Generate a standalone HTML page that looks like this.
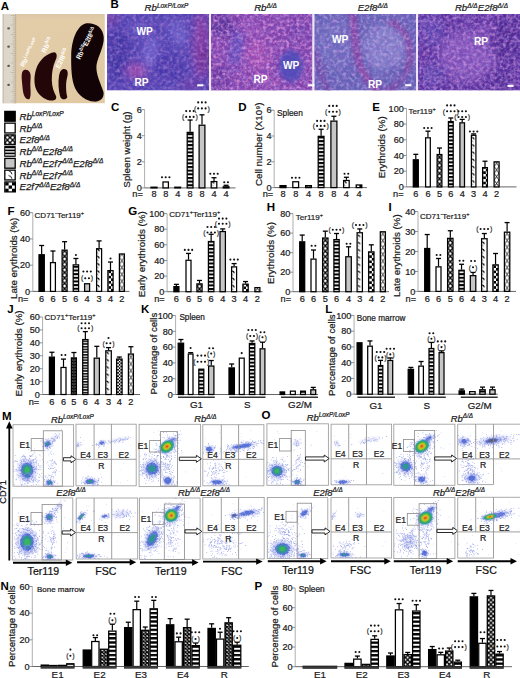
<!DOCTYPE html>
<html><head><meta charset="utf-8"><style>
html,body{margin:0;padding:0;background:#fff;}
body{width:520px;height:678px;overflow:hidden;}
svg{display:block;}
</style></head><body>
<svg width="520" height="678" viewBox="0 0 520 678" font-family='"Liberation Sans", sans-serif'>
<defs>
<pattern id="pX" patternUnits="userSpaceOnUse" width="3.2" height="3.2"><rect width="3.2" height="3.2" fill="#fff"/><path d="M0,0L3.2,3.2M3.2,0L0,3.2" stroke="#000" stroke-width="0.9"/></pattern>
<pattern id="pH" patternUnits="userSpaceOnUse" width="6" height="3.6"><rect width="6" height="3.6" fill="#fff"/><rect y="0" width="6" height="1.9" fill="#000"/></pattern>
<pattern id="pHJ" patternUnits="userSpaceOnUse" width="6" height="2.6"><rect width="6" height="2.6" fill="#fff"/><rect y="0" width="6" height="1.6" fill="#222"/></pattern>
<pattern id="pD" patternUnits="userSpaceOnUse" width="7" height="4.6"><rect width="7" height="4.6" fill="#fff"/><path d="M1.5,0.6 Q4.5,1.2 5,4" stroke="#000" stroke-width="0.9" fill="none"/></pattern>
<pattern id="pC" patternUnits="userSpaceOnUse" width="5" height="5"><rect width="5" height="5" fill="#fff"/><rect width="2.5" height="2.5" fill="#000"/><rect x="2.5" y="2.5" width="2.5" height="2.5" fill="#000"/></pattern>
<pattern id="pCJ" patternUnits="userSpaceOnUse" width="3" height="3"><rect width="3" height="3" fill="#fff"/><rect width="1.5" height="1.5" fill="#000"/><rect x="1.5" y="1.5" width="1.5" height="1.5" fill="#000"/></pattern>
<pattern id="pZ" patternUnits="userSpaceOnUse" width="7" height="5"><rect width="7" height="5" fill="#fff"/><path d="M0,0 L3.5,2.5 L0,5 M7,0 L3.5,2.5 L7,5" stroke="#000" stroke-width="0.9" fill="none"/></pattern>
<filter id="bl1" x="-50%" y="-50%" width="200%" height="200%"><feGaussianBlur stdDeviation="1.2"/></filter>
<filter id="bl2" x="-50%" y="-50%" width="200%" height="200%"><feGaussianBlur stdDeviation="2"/></filter>
<filter id="bl3" x="-50%" y="-50%" width="200%" height="200%"><feGaussianBlur stdDeviation="3"/></filter>
<filter id="bl05" x="-50%" y="-50%" width="200%" height="200%"><feGaussianBlur stdDeviation="0.5"/></filter>
</defs><rect width="520" height="678" fill="#fff"/><defs><clipPath id="cA"><rect x="2.5" y="14.0" width="102.4" height="89.4"/></clipPath><linearGradient id="gA" x1="0" y1="0" x2="0" y2="1"><stop offset="0" stop-color="#dcc7a5"/><stop offset="0.08" stop-color="#e3cda9"/><stop offset="1" stop-color="#e0c9a3"/></linearGradient></defs><g clip-path="url(#cA)"><rect x="2.50" y="14.00" width="102.40" height="89.40" fill="url(#gA)" stroke="none" stroke-width="1"/><rect x="2.50" y="14.00" width="13.50" height="89.40" fill="#ddd6ca" stroke="none" stroke-width="1"/><rect x="2.50" y="14.00" width="1.20" height="89.40" fill="#c4b8a4" stroke="none" stroke-width="1"/><rect x="14.80" y="14.00" width="1.40" height="89.40" fill="#c9b89c" stroke="none" stroke-width="1"/><line x1="10.80" y1="15.50" x2="15.30" y2="15.50" stroke="#a89a88" stroke-width="0.45"/><line x1="12.70" y1="17.40" x2="15.30" y2="17.40" stroke="#a89a88" stroke-width="0.45"/><line x1="12.70" y1="19.30" x2="15.30" y2="19.30" stroke="#a89a88" stroke-width="0.45"/><line x1="12.70" y1="21.20" x2="15.30" y2="21.20" stroke="#a89a88" stroke-width="0.45"/><line x1="12.70" y1="23.10" x2="15.30" y2="23.10" stroke="#a89a88" stroke-width="0.45"/><line x1="10.80" y1="25.00" x2="15.30" y2="25.00" stroke="#a89a88" stroke-width="0.45"/><line x1="12.70" y1="26.90" x2="15.30" y2="26.90" stroke="#a89a88" stroke-width="0.45"/><line x1="12.70" y1="28.80" x2="15.30" y2="28.80" stroke="#a89a88" stroke-width="0.45"/><line x1="12.70" y1="30.70" x2="15.30" y2="30.70" stroke="#a89a88" stroke-width="0.45"/><line x1="12.70" y1="32.60" x2="15.30" y2="32.60" stroke="#a89a88" stroke-width="0.45"/><line x1="10.80" y1="34.50" x2="15.30" y2="34.50" stroke="#a89a88" stroke-width="0.45"/><line x1="12.70" y1="36.40" x2="15.30" y2="36.40" stroke="#a89a88" stroke-width="0.45"/><line x1="12.70" y1="38.30" x2="15.30" y2="38.30" stroke="#a89a88" stroke-width="0.45"/><line x1="12.70" y1="40.20" x2="15.30" y2="40.20" stroke="#a89a88" stroke-width="0.45"/><line x1="12.70" y1="42.10" x2="15.30" y2="42.10" stroke="#a89a88" stroke-width="0.45"/><line x1="10.80" y1="44.00" x2="15.30" y2="44.00" stroke="#a89a88" stroke-width="0.45"/><line x1="12.70" y1="45.90" x2="15.30" y2="45.90" stroke="#a89a88" stroke-width="0.45"/><line x1="12.70" y1="47.80" x2="15.30" y2="47.80" stroke="#a89a88" stroke-width="0.45"/><line x1="12.70" y1="49.70" x2="15.30" y2="49.70" stroke="#a89a88" stroke-width="0.45"/><line x1="12.70" y1="51.60" x2="15.30" y2="51.60" stroke="#a89a88" stroke-width="0.45"/><line x1="10.80" y1="53.50" x2="15.30" y2="53.50" stroke="#a89a88" stroke-width="0.45"/><line x1="12.70" y1="55.40" x2="15.30" y2="55.40" stroke="#a89a88" stroke-width="0.45"/><line x1="12.70" y1="57.30" x2="15.30" y2="57.30" stroke="#a89a88" stroke-width="0.45"/><line x1="12.70" y1="59.20" x2="15.30" y2="59.20" stroke="#a89a88" stroke-width="0.45"/><line x1="12.70" y1="61.10" x2="15.30" y2="61.10" stroke="#a89a88" stroke-width="0.45"/><line x1="10.80" y1="63.00" x2="15.30" y2="63.00" stroke="#a89a88" stroke-width="0.45"/><line x1="12.70" y1="64.90" x2="15.30" y2="64.90" stroke="#a89a88" stroke-width="0.45"/><line x1="12.70" y1="66.80" x2="15.30" y2="66.80" stroke="#a89a88" stroke-width="0.45"/><line x1="12.70" y1="68.70" x2="15.30" y2="68.70" stroke="#a89a88" stroke-width="0.45"/><line x1="12.70" y1="70.60" x2="15.30" y2="70.60" stroke="#a89a88" stroke-width="0.45"/><line x1="10.80" y1="72.50" x2="15.30" y2="72.50" stroke="#a89a88" stroke-width="0.45"/><line x1="12.70" y1="74.40" x2="15.30" y2="74.40" stroke="#a89a88" stroke-width="0.45"/><line x1="12.70" y1="76.30" x2="15.30" y2="76.30" stroke="#a89a88" stroke-width="0.45"/><line x1="12.70" y1="78.20" x2="15.30" y2="78.20" stroke="#a89a88" stroke-width="0.45"/><line x1="12.70" y1="80.10" x2="15.30" y2="80.10" stroke="#a89a88" stroke-width="0.45"/><line x1="10.80" y1="82.00" x2="15.30" y2="82.00" stroke="#a89a88" stroke-width="0.45"/><line x1="12.70" y1="83.90" x2="15.30" y2="83.90" stroke="#a89a88" stroke-width="0.45"/><line x1="12.70" y1="85.80" x2="15.30" y2="85.80" stroke="#a89a88" stroke-width="0.45"/><line x1="12.70" y1="87.70" x2="15.30" y2="87.70" stroke="#a89a88" stroke-width="0.45"/><line x1="12.70" y1="89.60" x2="15.30" y2="89.60" stroke="#a89a88" stroke-width="0.45"/><line x1="10.80" y1="91.50" x2="15.30" y2="91.50" stroke="#a89a88" stroke-width="0.45"/><line x1="12.70" y1="93.40" x2="15.30" y2="93.40" stroke="#a89a88" stroke-width="0.45"/><line x1="12.70" y1="95.30" x2="15.30" y2="95.30" stroke="#a89a88" stroke-width="0.45"/><line x1="12.70" y1="97.20" x2="15.30" y2="97.20" stroke="#a89a88" stroke-width="0.45"/><line x1="12.70" y1="99.10" x2="15.30" y2="99.10" stroke="#a89a88" stroke-width="0.45"/><line x1="10.80" y1="101.00" x2="15.30" y2="101.00" stroke="#a89a88" stroke-width="0.45"/><line x1="12.70" y1="102.90" x2="15.30" y2="102.90" stroke="#a89a88" stroke-width="0.45"/><ellipse cx="8.6" cy="28.4" rx="1.4" ry="1.1" fill="#4a4038" opacity="0.85"/><ellipse cx="8.6" cy="46.7" rx="1.4" ry="1.1" fill="#4a4038" opacity="0.85"/><ellipse cx="8.6" cy="65.9" rx="1.4" ry="1.1" fill="#4a4038" opacity="0.85"/><ellipse cx="8.6" cy="84.9" rx="1.4" ry="1.1" fill="#4a4038" opacity="0.85"/><path d="M24,70 C29,68.5 31.5,73 30.5,80 C29.8,88 31.8,95 29.5,99 C26,100.5 23.2,96 22.6,88 C22,80 20.3,72 24,70 Z" fill="#320a10"/><path d="M54.5,52.3 C57.5,53 57.2,57.5 55.2,61 C53,66 51.8,72 51.8,80 C51.9,87 54,92 56,96 C57.2,99.5 54,101 50,100.4 C44,99.5 38.5,95 36,89 C33.8,83 34,75 36.5,68 C39.5,60 47,53 54.5,52.3 Z" fill="#230608"/><path d="M64,69 C68,69 68.5,73 67,78 C65.5,84 66,92 67.3,97 C66.3,100.3 61,100.3 60,96 C58.5,90 58,82 59,76 C60,71 61.5,69 64,69 Z" fill="#230608"/><path d="M86.5,23.2 C95,22.5 103.5,27 103.8,38 C103.9,47 98.5,55 96.5,65 C95.5,74 101,84 103.5,92 C104.5,99 99,102 94,101.6 C86,101 78,95 75,88 C71.5,80 71,68 71.2,55 C71.5,40 77,25 86.5,23.2 Z" fill="#120406"/><text x="24.0" y="67.6" transform="rotate(-63 24.0 67.6)" fill="#fff" font-weight="bold" textLength="31.5" lengthAdjust="spacingAndGlyphs"><tspan font-size="6.6">Rb</tspan><tspan font-size="4.488" dy="-2.508">LoxP/LoxP</tspan></text><text x="45.6" y="53.4" transform="rotate(-64 45.6 53.4)" fill="#fff" font-weight="bold" textLength="16.5" lengthAdjust="spacingAndGlyphs"><tspan font-size="7.0">Rb</tspan><tspan font-size="4.760000000000001" dy="-2.66">Δ/Δ</tspan></text><text x="59.4" y="69.0" transform="rotate(-64 59.4 69.0)" fill="#fff" font-weight="bold" textLength="21.5" lengthAdjust="spacingAndGlyphs"><tspan font-size="6.8">E2f8</tspan><tspan font-size="4.6240000000000006" dy="-2.584">Δ/Δ</tspan></text><text x="80.0" y="59.8" transform="rotate(-62 80.0 59.8)" fill="#fff" font-weight="bold" textLength="35.0" lengthAdjust="spacingAndGlyphs"><tspan font-size="7.0">Rb</tspan><tspan font-size="4.760000000000001" dy="-2.66">Δ/Δ</tspan><tspan font-size="7.0" dy="2.66">E2f8</tspan><tspan font-size="4.760000000000001" dy="-2.66">Δ/Δ</tspan></text></g><defs><filter id="specL" x="0" y="0" width="100%" height="100%"><feTurbulence type="fractalNoise" baseFrequency="0.3" numOctaves="2" seed="5"/><feColorMatrix type="matrix" values="0 0 0 0 0.76  0 0 0 0 0.58  0 0 0 0 0.96  2.6 0 0 0 -1.15"/></filter><filter id="specP" x="0" y="0" width="100%" height="100%"><feTurbulence type="fractalNoise" baseFrequency="0.3" numOctaves="2" seed="11"/><feColorMatrix type="matrix" values="0 0 0 0 0.86  0 0 0 0 0.36  0 0 0 0 0.78  2.6 0 0 0 -1.2"/></filter><filter id="specD" x="0" y="0" width="100%" height="100%"><feTurbulence type="fractalNoise" baseFrequency="0.22" numOctaves="2" seed="9"/><feColorMatrix type="matrix" values="0 0 0 0 0.22  0 0 0 0 0.1  0 0 0 0 0.55  2.6 0 0 0 -1.15"/></filter><filter id="hb" x="-50%" y="-50%" width="200%" height="200%"><feGaussianBlur stdDeviation="4"/></filter><filter id="hb2" x="-50%" y="-50%" width="200%" height="200%"><feGaussianBlur stdDeviation="2.2"/></filter><clipPath id="cB0"><rect x="107.0" y="13.9" width="102.0" height="76.6"/></clipPath><clipPath id="cB1"><rect x="211.0" y="13.9" width="101.60000000000002" height="76.6"/></clipPath><clipPath id="cB2"><rect x="314.2" y="13.9" width="101.80000000000001" height="76.6"/></clipPath><clipPath id="cB3"><rect x="418.0" y="13.9" width="102.0" height="76.6"/></clipPath></defs><g clip-path="url(#cB0)"><rect x="107.00" y="13.90" width="102.00" height="76.60" fill="#5042b2" stroke="none" stroke-width="1"/><ellipse cx="118" cy="55" rx="12" ry="26" fill="#3e30a0" opacity="0.8" filter="url(#hb)" transform="rotate(0 118 55)"/><ellipse cx="168" cy="68" rx="16" ry="12" fill="#4434a8" opacity="0.7" filter="url(#hb)" transform="rotate(0 168 68)"/><ellipse cx="150" cy="52" rx="6" ry="18" fill="#7a72d8" opacity="0.75" filter="url(#hb)" transform="rotate(10 150 52)"/><ellipse cx="178" cy="33" rx="8" ry="14" fill="#7068d0" opacity="0.7" filter="url(#hb)" transform="rotate(-30 178 33)"/><ellipse cx="140" cy="30" rx="10" ry="8" fill="#6a5ec8" opacity="0.6" filter="url(#hb)" transform="rotate(0 140 30)"/><ellipse cx="201" cy="45" rx="8" ry="36" fill="#8a3aa0" opacity="0.9" filter="url(#hb)" transform="rotate(0 201 45)"/><ellipse cx="205" cy="58" rx="4" ry="14" fill="#5a1a80" opacity="0.7" filter="url(#hb)" transform="rotate(0 205 58)"/><ellipse cx="136" cy="71" rx="11" ry="8" fill="#a04aac" opacity="0.9" filter="url(#hb)" transform="rotate(0 136 71)"/><ellipse cx="110" cy="18" rx="8" ry="8" fill="#8040a0" opacity="0.7" filter="url(#hb)" transform="rotate(0 110 18)"/><ellipse cx="190" cy="85" rx="10" ry="6" fill="#7a3aa0" opacity="0.6" filter="url(#hb)" transform="rotate(0 190 85)"/><rect x="107.00" y="13.90" width="102.00" height="76.60" fill="#000" stroke="none" stroke-width="1" filter="url(#specD)" opacity="0.6"/><rect x="107.00" y="13.90" width="102.00" height="76.60" fill="#fff" stroke="none" stroke-width="1" filter="url(#specL)" opacity="0.3"/><rect x="107.00" y="13.90" width="102.00" height="76.60" fill="#fff" stroke="none" stroke-width="1" filter="url(#specP)" opacity="0.2"/></g><g clip-path="url(#cB1)"><rect x="211.00" y="13.90" width="101.60" height="76.60" fill="#8242ac" stroke="none" stroke-width="1"/><ellipse cx="222" cy="26" rx="14" ry="12" fill="#4e2a92" opacity="0.8" filter="url(#hb)" transform="rotate(0 222 26)"/><ellipse cx="220" cy="78" rx="10" ry="12" fill="#5a2e98" opacity="0.7" filter="url(#hb)" transform="rotate(0 220 78)"/><ellipse cx="236" cy="48" rx="5" ry="20" fill="#5a50c0" opacity="0.85" filter="url(#hb)" transform="rotate(10 236 48)"/><ellipse cx="258" cy="55" rx="12" ry="16" fill="#b050b2" opacity="0.65" filter="url(#hb)" transform="rotate(0 258 55)"/><ellipse cx="250" cy="28" rx="10" ry="8" fill="#9a50b8" opacity="0.6" filter="url(#hb)" transform="rotate(0 250 28)"/><ellipse cx="300" cy="30" rx="12" ry="12" fill="#6a3aa6" opacity="0.7" filter="url(#hb)" transform="rotate(0 300 30)"/><ellipse cx="270" cy="82" rx="12" ry="8" fill="#9048b0" opacity="0.6" filter="url(#hb)" transform="rotate(0 270 82)"/><rect x="211.00" y="13.90" width="101.60" height="76.60" fill="#000" stroke="none" stroke-width="1" filter="url(#specD)" opacity="0.7"/><rect x="211.00" y="13.90" width="101.60" height="76.60" fill="#fff" stroke="none" stroke-width="1" filter="url(#specL)" opacity="0.4"/><rect x="211.00" y="13.90" width="101.60" height="76.60" fill="#fff" stroke="none" stroke-width="1" filter="url(#specP)" opacity="0.7"/><ellipse cx="291" cy="66" rx="12" ry="16" fill="#4c4cba" opacity="0.85" filter="url(#hb2)" transform="rotate(0 291 66)"/><ellipse cx="236" cy="48" rx="4" ry="16" fill="#5a50c0" opacity="0.5" filter="url(#hb)" transform="rotate(10 236 48)"/></g><g clip-path="url(#cB2)"><rect x="314.20" y="13.90" width="101.80" height="76.60" fill="#6262b6" stroke="none" stroke-width="1"/><ellipse cx="335" cy="45" rx="20" ry="28" fill="#6e6ec0" opacity="0.8" filter="url(#hb)" transform="rotate(0 335 45)"/><ellipse cx="385" cy="48" rx="22" ry="24" fill="#8584cc" opacity="0.85" filter="url(#hb)" transform="rotate(0 385 48)"/><path d="M352,12 C356,35 354,55 362,70 C367,80 372,86 380,94" stroke="#8e3a9c" stroke-width="6" fill="none" filter="url(#hb2)" opacity="0.9"/><path d="M388,22 C400,24 410,35 410,55 C410,70 400,85 385,92" stroke="#8a3a9a" stroke-width="5" fill="none" filter="url(#hb2)" opacity="0.8"/><path d="M314,50 C320,60 318,80 330,92" stroke="#7a3a9e" stroke-width="6" fill="none" filter="url(#hb2)" opacity="0.6"/><ellipse cx="395" cy="75" rx="10" ry="9" fill="#5a58b0" opacity="0.7" filter="url(#hb)" transform="rotate(0 395 75)"/><rect x="314.20" y="13.90" width="101.80" height="76.60" fill="#000" stroke="none" stroke-width="1" filter="url(#specD)" opacity="0.5"/><rect x="314.20" y="13.90" width="101.80" height="76.60" fill="#fff" stroke="none" stroke-width="1" filter="url(#specL)" opacity="0.45"/><rect x="314.20" y="13.90" width="101.80" height="76.60" fill="#fff" stroke="none" stroke-width="1" filter="url(#specP)" opacity="0.25"/></g><g clip-path="url(#cB3)"><rect x="418.00" y="13.90" width="102.00" height="76.60" fill="#58309e" stroke="none" stroke-width="1"/><ellipse cx="468" cy="56" rx="30" ry="26" fill="#8456bc" opacity="0.85" filter="url(#hb)" transform="rotate(0 468 56)"/><ellipse cx="432" cy="30" rx="12" ry="16" fill="#5a48b4" opacity="0.7" filter="url(#hb)" transform="rotate(0 432 30)"/><ellipse cx="432" cy="75" rx="12" ry="12" fill="#5a4ab2" opacity="0.7" filter="url(#hb)" transform="rotate(0 432 75)"/><ellipse cx="505" cy="40" rx="14" ry="22" fill="#4a2690" opacity="0.8" filter="url(#hb)" transform="rotate(0 505 40)"/><ellipse cx="500" cy="80" rx="14" ry="10" fill="#4e2a94" opacity="0.8" filter="url(#hb)" transform="rotate(0 500 80)"/><ellipse cx="485" cy="30" rx="10" ry="10" fill="#7a48b4" opacity="0.6" filter="url(#hb)" transform="rotate(0 485 30)"/><rect x="418.00" y="13.90" width="102.00" height="76.60" fill="#000" stroke="none" stroke-width="1" filter="url(#specD)" opacity="0.75"/><rect x="418.00" y="13.90" width="102.00" height="76.60" fill="#fff" stroke="none" stroke-width="1" filter="url(#specL)" opacity="0.4"/><rect x="418.00" y="13.90" width="102.00" height="76.60" fill="#fff" stroke="none" stroke-width="1" filter="url(#specP)" opacity="0.5"/></g><rect x="209.00" y="13.90" width="2.00" height="76.60" fill="#ece6f4" stroke="none" stroke-width="1"/><rect x="312.60" y="13.90" width="1.60" height="76.60" fill="#ece6f4" stroke="none" stroke-width="1"/><rect x="416.00" y="13.90" width="2.00" height="76.60" fill="#ece6f4" stroke="none" stroke-width="1"/><text x="136.50" y="35.00" font-size="10.2" text-anchor="start" font-weight="bold" fill="#fff">WP</text><text x="134.50" y="85.90" font-size="10.2" text-anchor="start" font-weight="bold" fill="#fff">RP</text><text x="283.00" y="68.60" font-size="10.2" text-anchor="start" font-weight="bold" fill="#fff">WP</text><text x="253.50" y="83.20" font-size="10.2" text-anchor="start" font-weight="bold" fill="#fff">RP</text><text x="332.00" y="42.80" font-size="10.2" text-anchor="start" font-weight="bold" fill="#fff">WP</text><text x="368.00" y="88.00" font-size="10.2" text-anchor="start" font-weight="bold" fill="#fff">RP</text><text x="474.00" y="45.20" font-size="10.2" text-anchor="start" font-weight="bold" fill="#fff">RP</text><rect x="197.20" y="84.30" width="6.20" height="2.00" fill="#fff" stroke="none" stroke-width="1"/><rect x="308.20" y="84.30" width="6.20" height="2.00" fill="#fff" stroke="none" stroke-width="1"/><rect x="405.20" y="84.20" width="6.20" height="2.00" fill="#fff" stroke="none" stroke-width="1"/><rect x="507.40" y="84.90" width="6.20" height="2.00" fill="#fff" stroke="none" stroke-width="1"/><text x="166.5" y="11.2" text-anchor="middle" font-style="italic" fill="#1a1a1a" stroke="#1a1a1a" stroke-width="0.22"><tspan font-size="9.6">Rb</tspan><tspan font-size="6.5280000000000005" dy="-3.6479999999999997">LoxP/LoxP</tspan></text><text x="265.6" y="11.2" text-anchor="middle" font-style="italic" fill="#1a1a1a" stroke="#1a1a1a" stroke-width="0.22"><tspan font-size="9.6">Rb</tspan><tspan font-size="6.5280000000000005" dy="-3.6479999999999997">Δ/Δ</tspan></text><text x="372.8" y="11.2" text-anchor="middle" font-style="italic" fill="#1a1a1a" stroke="#1a1a1a" stroke-width="0.22"><tspan font-size="9.6">E2f8</tspan><tspan font-size="6.5280000000000005" dy="-3.6479999999999997">Δ/Δ</tspan></text><text x="481.5" y="11.2" text-anchor="middle" font-style="italic" fill="#1a1a1a" stroke="#1a1a1a" stroke-width="0.22"><tspan font-size="9.6">Rb</tspan><tspan font-size="6.5280000000000005" dy="-3.6479999999999997">Δ/Δ</tspan><tspan font-size="9.6" dy="3.6479999999999997">E2f8</tspan><tspan font-size="6.5280000000000005" dy="-3.6479999999999997">Δ/Δ</tspan></text><rect x="4.80" y="111.40" width="10.40" height="9.80" fill="#000" stroke="#000" stroke-width="1.3"/><text x="19.5" y="119.80" font-style="italic" fill="#1a1a1a" stroke="#1a1a1a" stroke-width="0.25"><tspan font-size="9.6">Rb</tspan><tspan font-size="6.6" dy="-3.6">LoxP/LoxP</tspan></text><rect x="4.80" y="123.15" width="10.40" height="9.80" fill="#fff" stroke="#000" stroke-width="1.3"/><text x="19.5" y="131.55" font-style="italic" fill="#1a1a1a" stroke="#1a1a1a" stroke-width="0.25"><tspan font-size="9.6">Rb</tspan><tspan font-size="6.6" dy="-3.6">Δ/Δ</tspan></text><defs><pattern id="lgx" patternUnits="userSpaceOnUse" x="7.40" y="134.90" width="5.2" height="5.2"><rect width="5.2" height="5.2" fill="#fff"/><path d="M0,0L5.2,5.2M5.2,0L0,5.2" stroke="#000" stroke-width="1.3"/></pattern></defs><rect x="4.80" y="134.90" width="10.40" height="9.80" fill="url(#lgx)" stroke="#000" stroke-width="1.3"/><text x="19.5" y="143.30" font-style="italic" fill="#1a1a1a" stroke="#1a1a1a" stroke-width="0.25"><tspan font-size="9.6">E2f8</tspan><tspan font-size="6.6" dy="-3.6">Δ/Δ</tspan></text><rect x="4.20" y="146.05" width="11.50" height="10.80" fill="#000" stroke="none" stroke-width="1"/><rect x="5.20" y="148.25" width="9.50" height="1.30" fill="#fff" stroke="none" stroke-width="1"/><rect x="5.20" y="151.25" width="9.50" height="1.30" fill="#fff" stroke="none" stroke-width="1"/><rect x="5.20" y="154.25" width="9.50" height="1.30" fill="#fff" stroke="none" stroke-width="1"/><text x="19.5" y="155.05" font-style="italic" fill="#1a1a1a" stroke="#1a1a1a" stroke-width="0.25"><tspan font-size="9.6">Rb</tspan><tspan font-size="6.6" dy="-3.6">Δ/Δ</tspan><tspan font-size="9.6" dy="3.6">E2f8</tspan><tspan font-size="6.6" dy="-3.6">Δ/Δ</tspan></text><rect x="4.80" y="158.40" width="10.40" height="9.80" fill="#c6c6c6" stroke="#000" stroke-width="1.3"/><text x="19.5" y="166.80" font-style="italic" fill="#1a1a1a" stroke="#1a1a1a" stroke-width="0.25"><tspan font-size="9.6">Rb</tspan><tspan font-size="6.6" dy="-3.6">Δ/Δ</tspan><tspan font-size="9.6" dy="3.6">E2f7</tspan><tspan font-size="6.6" dy="-3.6">Δ/Δ</tspan><tspan font-size="9.6" dy="3.6">E2f8</tspan><tspan font-size="6.6" dy="-3.6">Δ/Δ</tspan></text><rect x="4.80" y="170.15" width="10.40" height="9.80" fill="url(#pD)" stroke="#000" stroke-width="1.3"/><text x="19.5" y="178.55" font-style="italic" fill="#1a1a1a" stroke="#1a1a1a" stroke-width="0.25"><tspan font-size="9.6">Rb</tspan><tspan font-size="6.6" dy="-3.6">Δ/Δ</tspan><tspan font-size="9.6" dy="3.6">E2f7</tspan><tspan font-size="6.6" dy="-3.6">Δ/Δ</tspan></text><rect x="4.80" y="181.90" width="10.60" height="10.00" fill="#fff" stroke="#000" stroke-width="1.2"/><rect x="5.20" y="182.30" width="3.40" height="3.20" fill="#000" stroke="none" stroke-width="1"/><rect x="12.00" y="182.30" width="3.40" height="3.20" fill="#000" stroke="none" stroke-width="1"/><rect x="8.60" y="185.50" width="3.40" height="3.20" fill="#000" stroke="none" stroke-width="1"/><rect x="5.20" y="188.70" width="3.40" height="3.20" fill="#000" stroke="none" stroke-width="1"/><rect x="12.00" y="188.70" width="3.40" height="3.20" fill="#000" stroke="none" stroke-width="1"/><text x="19.5" y="190.30" font-style="italic" fill="#1a1a1a" stroke="#1a1a1a" stroke-width="0.25"><tspan font-size="9.6">E2f7</tspan><tspan font-size="6.6" dy="-3.6">Δ/Δ</tspan><tspan font-size="9.6" dy="3.6">E2f8</tspan><tspan font-size="6.6" dy="-3.6">Δ/Δ</tspan></text><line x1="144.60" y1="109.60" x2="144.60" y2="187.90" stroke="#9a9a9a" stroke-width="0.8"/><line x1="141.60" y1="187.90" x2="144.60" y2="187.90" stroke="#777" stroke-width="0.8"/><text x="141.90" y="191.15" font-size="9.1" text-anchor="end" fill="#1a1a1a" stroke="#1a1a1a" stroke-width="0.22">0</text><line x1="141.60" y1="161.80" x2="144.60" y2="161.80" stroke="#777" stroke-width="0.8"/><text x="141.90" y="165.05" font-size="9.1" text-anchor="end" fill="#1a1a1a" stroke="#1a1a1a" stroke-width="0.22">2</text><line x1="141.60" y1="135.70" x2="144.60" y2="135.70" stroke="#777" stroke-width="0.8"/><text x="141.90" y="138.95" font-size="9.1" text-anchor="end" fill="#1a1a1a" stroke="#1a1a1a" stroke-width="0.22">4</text><line x1="141.60" y1="109.60" x2="144.60" y2="109.60" stroke="#777" stroke-width="0.8"/><text x="141.90" y="112.85" font-size="9.1" text-anchor="end" fill="#1a1a1a" stroke="#1a1a1a" stroke-width="0.22">6</text><line x1="144.60" y1="187.90" x2="235.50" y2="187.90" stroke="#555" stroke-width="0.9"/><rect x="151.00" y="187.19" width="6.00" height="0.71" fill="#000" stroke="#000" stroke-width="1.25"/><rect x="163.00" y="181.97" width="5.40" height="5.93" fill="#fff" stroke="#000" stroke-width="1.25"/><defs><pattern id="bp1" patternUnits="userSpaceOnUse" x="175.00" y="187.90" width="5.4" height="5.4"><rect width="5.4" height="5.4" fill="#fff"/><path d="M0,0L5.4,5.4M5.4,0L0,5.4" stroke="#000" stroke-width="1.35"/></pattern></defs><rect x="174.80" y="187.19" width="5.80" height="0.71" fill="url(#bp1)" stroke="#000" stroke-width="1.25"/><defs><pattern id="bp2" patternUnits="userSpaceOnUse" x="0.00" y="187.90" width="20" height="3.65"><rect width="20" height="3.65" fill="#fff"/><rect width="20" height="2.04" fill="#000"/></pattern></defs><line x1="190.10" y1="131.78" x2="190.10" y2="120.04" stroke="#000" stroke-width="1.2"/><line x1="187.60" y1="120.04" x2="192.60" y2="120.04" stroke="#000" stroke-width="1.3"/><rect x="187.20" y="132.38" width="5.80" height="55.52" fill="url(#bp2)" stroke="#000" stroke-width="1.25"/><line x1="202.00" y1="124.61" x2="202.00" y2="114.82" stroke="#000" stroke-width="1.2"/><line x1="199.50" y1="114.82" x2="204.50" y2="114.82" stroke="#000" stroke-width="1.3"/><rect x="199.10" y="125.21" width="5.80" height="62.69" fill="#c6c6c6" stroke="#000" stroke-width="1.25"/><defs><pattern id="bp3" patternUnits="userSpaceOnUse" x="210.60" y="187.90" width="12" height="7.2"><rect width="12" height="7.2" fill="#fff"/><path d="M1.2,0.8 Q3.0,1.2 3.3,3.0" stroke="#000" stroke-width="1.2" fill="none"/><path d="M1.2,4.4 Q2.2,4.6 2.4,5.6" stroke="#555" stroke-width="0.7" fill="none"/></pattern></defs><line x1="214.00" y1="180.98" x2="214.00" y2="177.72" stroke="#000" stroke-width="1.2"/><line x1="211.50" y1="177.72" x2="216.50" y2="177.72" stroke="#000" stroke-width="1.3"/><rect x="211.20" y="181.58" width="5.60" height="6.32" fill="url(#bp3)" stroke="#000" stroke-width="1.25"/><defs><pattern id="bp4" patternUnits="userSpaceOnUse" x="223.80" y="187.90" width="5.2" height="5.2"><rect width="5.2" height="5.2" fill="#fff"/><rect width="2.6" height="2.6" fill="#000"/><rect x="2.6" y="2.6" width="2.6" height="2.6" fill="#000"/></pattern></defs><line x1="226.10" y1="186.20" x2="226.10" y2="185.29" stroke="#000" stroke-width="1.2"/><line x1="223.60" y1="185.29" x2="228.60" y2="185.29" stroke="#000" stroke-width="1.3"/><rect x="223.20" y="186.80" width="5.80" height="1.10" fill="url(#bp4)" stroke="#000" stroke-width="1.25"/><circle cx="162.00" cy="177.30" r="1.05" fill="#111"/><circle cx="165.70" cy="177.30" r="1.05" fill="#111"/><circle cx="169.40" cy="177.30" r="1.05" fill="#111"/><circle cx="186.20" cy="111.10" r="1.05" fill="#111"/><circle cx="189.90" cy="111.10" r="1.05" fill="#111"/><circle cx="193.60" cy="111.10" r="1.05" fill="#111"/><circle cx="186.20" cy="116.90" r="1.05" fill="#111"/><circle cx="189.90" cy="116.90" r="1.05" fill="#111"/><circle cx="193.60" cy="116.90" r="1.05" fill="#111"/><text x="184.30" y="119.10" font-size="7.0" text-anchor="end" fill="#333" stroke="#333" stroke-width="0.22">(</text><text x="195.50" y="119.10" font-size="7.0" text-anchor="start" fill="#333" stroke="#333" stroke-width="0.22">)</text><circle cx="198.20" cy="102.40" r="1.05" fill="#111"/><circle cx="201.90" cy="102.40" r="1.05" fill="#111"/><circle cx="205.60" cy="102.40" r="1.05" fill="#111"/><circle cx="198.20" cy="108.40" r="1.05" fill="#111"/><circle cx="201.90" cy="108.40" r="1.05" fill="#111"/><circle cx="205.60" cy="108.40" r="1.05" fill="#111"/><text x="196.30" y="110.60" font-size="7.0" text-anchor="end" fill="#333" stroke="#333" stroke-width="0.22">(</text><text x="207.50" y="110.60" font-size="7.0" text-anchor="start" fill="#333" stroke="#333" stroke-width="0.22">)</text><circle cx="210.30" cy="173.80" r="1.05" fill="#111"/><circle cx="214.00" cy="173.80" r="1.05" fill="#111"/><circle cx="217.70" cy="173.80" r="1.05" fill="#111"/><circle cx="224.25" cy="182.20" r="1.05" fill="#111"/><circle cx="227.95" cy="182.20" r="1.05" fill="#111"/><text x="130.20" y="149.50" font-size="9.8" text-anchor="middle" fill="#1a1a1a" stroke="#1a1a1a" stroke-width="0.22" transform="rotate(-90 130.20 149.50)">Spleen weight (g)</text><text x="154.00" y="196.90" font-size="9.2" text-anchor="middle" fill="#1a1a1a" stroke="#1a1a1a" stroke-width="0.22">8</text><text x="165.70" y="196.90" font-size="9.2" text-anchor="middle" fill="#1a1a1a" stroke="#1a1a1a" stroke-width="0.22">8</text><text x="177.70" y="196.90" font-size="9.2" text-anchor="middle" fill="#1a1a1a" stroke="#1a1a1a" stroke-width="0.22">4</text><text x="190.10" y="196.90" font-size="9.2" text-anchor="middle" fill="#1a1a1a" stroke="#1a1a1a" stroke-width="0.22">8</text><text x="202.00" y="196.90" font-size="9.2" text-anchor="middle" fill="#1a1a1a" stroke="#1a1a1a" stroke-width="0.22">8</text><text x="214.00" y="196.90" font-size="9.2" text-anchor="middle" fill="#1a1a1a" stroke="#1a1a1a" stroke-width="0.22">4</text><text x="226.10" y="196.90" font-size="9.2" text-anchor="middle" fill="#1a1a1a" stroke="#1a1a1a" stroke-width="0.22">4</text><text x="137.60" y="196.90" font-size="9.2" text-anchor="middle" fill="#1a1a1a" stroke="#1a1a1a" stroke-width="0.22">n=</text><line x1="274.20" y1="110.20" x2="274.20" y2="187.60" stroke="#9a9a9a" stroke-width="0.8"/><line x1="271.20" y1="187.60" x2="274.20" y2="187.60" stroke="#777" stroke-width="0.8"/><text x="271.50" y="190.85" font-size="9.1" text-anchor="end" fill="#1a1a1a" stroke="#1a1a1a" stroke-width="0.22">0</text><line x1="271.20" y1="161.80" x2="274.20" y2="161.80" stroke="#777" stroke-width="0.8"/><text x="271.50" y="165.05" font-size="9.1" text-anchor="end" fill="#1a1a1a" stroke="#1a1a1a" stroke-width="0.22">2</text><line x1="271.20" y1="136.00" x2="274.20" y2="136.00" stroke="#777" stroke-width="0.8"/><text x="271.50" y="139.25" font-size="9.1" text-anchor="end" fill="#1a1a1a" stroke="#1a1a1a" stroke-width="0.22">4</text><line x1="271.20" y1="110.20" x2="274.20" y2="110.20" stroke="#777" stroke-width="0.8"/><text x="271.50" y="113.45" font-size="9.1" text-anchor="end" fill="#1a1a1a" stroke="#1a1a1a" stroke-width="0.22">6</text><line x1="274.20" y1="187.60" x2="367.00" y2="187.60" stroke="#555" stroke-width="0.9"/><rect x="280.00" y="185.62" width="6.00" height="1.98" fill="#000" stroke="#000" stroke-width="1.25"/><rect x="292.80" y="181.75" width="5.80" height="5.85" fill="#fff" stroke="#000" stroke-width="1.25"/><defs><pattern id="bp5" patternUnits="userSpaceOnUse" x="305.80" y="187.60" width="5.4" height="5.4"><rect width="5.4" height="5.4" fill="#fff"/><path d="M0,0L5.4,5.4M5.4,0L0,5.4" stroke="#000" stroke-width="1.35"/></pattern></defs><rect x="305.60" y="185.62" width="5.80" height="1.98" fill="url(#bp5)" stroke="#000" stroke-width="1.25"/><defs><pattern id="bp6" patternUnits="userSpaceOnUse" x="0.00" y="187.60" width="20" height="3.65"><rect width="20" height="3.65" fill="#fff"/><rect width="20" height="2.04" fill="#000"/></pattern></defs><line x1="321.10" y1="135.74" x2="321.10" y2="129.29" stroke="#000" stroke-width="1.2"/><line x1="318.60" y1="129.29" x2="323.60" y2="129.29" stroke="#000" stroke-width="1.3"/><rect x="318.20" y="136.34" width="5.80" height="51.26" fill="url(#bp6)" stroke="#000" stroke-width="1.25"/><line x1="333.90" y1="120.52" x2="333.90" y2="116.26" stroke="#000" stroke-width="1.2"/><line x1="331.40" y1="116.26" x2="336.40" y2="116.26" stroke="#000" stroke-width="1.3"/><rect x="330.90" y="121.12" width="6.00" height="66.48" fill="#c6c6c6" stroke="#000" stroke-width="1.25"/><defs><pattern id="bp7" patternUnits="userSpaceOnUse" x="343.00" y="187.60" width="12" height="7.2"><rect width="12" height="7.2" fill="#fff"/><path d="M1.2,0.8 Q3.0,1.2 3.3,3.0" stroke="#000" stroke-width="1.2" fill="none"/><path d="M1.2,4.4 Q2.2,4.6 2.4,5.6" stroke="#555" stroke-width="0.7" fill="none"/></pattern></defs><line x1="346.40" y1="179.86" x2="346.40" y2="177.28" stroke="#000" stroke-width="1.2"/><line x1="343.90" y1="177.28" x2="348.90" y2="177.28" stroke="#000" stroke-width="1.3"/><rect x="343.60" y="180.46" width="5.60" height="7.14" fill="url(#bp7)" stroke="#000" stroke-width="1.25"/><defs><pattern id="bp8" patternUnits="userSpaceOnUse" x="356.80" y="187.60" width="5.2" height="5.2"><rect width="5.2" height="5.2" fill="#fff"/><rect width="2.6" height="2.6" fill="#000"/><rect x="2.6" y="2.6" width="2.6" height="2.6" fill="#000"/></pattern></defs><rect x="356.20" y="184.97" width="5.60" height="2.62" fill="url(#bp8)" stroke="#000" stroke-width="1.25"/><circle cx="292.00" cy="177.70" r="1.05" fill="#111"/><circle cx="295.70" cy="177.70" r="1.05" fill="#111"/><circle cx="299.40" cy="177.70" r="1.05" fill="#111"/><circle cx="317.10" cy="120.90" r="1.05" fill="#111"/><circle cx="320.80" cy="120.90" r="1.05" fill="#111"/><circle cx="324.50" cy="120.90" r="1.05" fill="#111"/><circle cx="317.10" cy="125.90" r="1.05" fill="#111"/><circle cx="320.80" cy="125.90" r="1.05" fill="#111"/><circle cx="324.50" cy="125.90" r="1.05" fill="#111"/><text x="315.20" y="128.10" font-size="7.0" text-anchor="end" fill="#333" stroke="#333" stroke-width="0.22">(</text><text x="326.40" y="128.10" font-size="7.0" text-anchor="start" fill="#333" stroke="#333" stroke-width="0.22">)</text><circle cx="329.30" cy="105.90" r="1.05" fill="#111"/><circle cx="333.00" cy="105.90" r="1.05" fill="#111"/><circle cx="336.70" cy="105.90" r="1.05" fill="#111"/><circle cx="329.30" cy="111.80" r="1.05" fill="#111"/><circle cx="333.00" cy="111.80" r="1.05" fill="#111"/><circle cx="336.70" cy="111.80" r="1.05" fill="#111"/><text x="327.40" y="114.00" font-size="7.0" text-anchor="end" fill="#333" stroke="#333" stroke-width="0.22">(</text><text x="338.60" y="114.00" font-size="7.0" text-anchor="start" fill="#333" stroke="#333" stroke-width="0.22">)</text><circle cx="344.55" cy="173.80" r="1.05" fill="#111"/><circle cx="348.25" cy="173.80" r="1.05" fill="#111"/><text x="261.80" y="144.20" font-size="9.8" text-anchor="middle" fill="#1a1a1a" stroke="#1a1a1a" stroke-width="0.22" transform="rotate(-90 261.80 144.20)">Cell number (X10⁹)</text><text x="283.00" y="197.10" font-size="9.2" text-anchor="middle" fill="#1a1a1a" stroke="#1a1a1a" stroke-width="0.22">8</text><text x="295.70" y="197.10" font-size="9.2" text-anchor="middle" fill="#1a1a1a" stroke="#1a1a1a" stroke-width="0.22">8</text><text x="308.50" y="197.10" font-size="9.2" text-anchor="middle" fill="#1a1a1a" stroke="#1a1a1a" stroke-width="0.22">4</text><text x="321.10" y="197.10" font-size="9.2" text-anchor="middle" fill="#1a1a1a" stroke="#1a1a1a" stroke-width="0.22">8</text><text x="333.90" y="197.10" font-size="9.2" text-anchor="middle" fill="#1a1a1a" stroke="#1a1a1a" stroke-width="0.22">8</text><text x="346.40" y="197.10" font-size="9.2" text-anchor="middle" fill="#1a1a1a" stroke="#1a1a1a" stroke-width="0.22">4</text><text x="359.00" y="197.10" font-size="9.2" text-anchor="middle" fill="#1a1a1a" stroke="#1a1a1a" stroke-width="0.22">4</text><text x="268.00" y="197.10" font-size="9.2" text-anchor="middle" fill="#1a1a1a" stroke="#1a1a1a" stroke-width="0.22">n=</text><text x="277.00" y="116.00" font-size="8.3" text-anchor="start" fill="#1a1a1a" stroke="#1a1a1a" stroke-width="0.22">Spleen</text><line x1="406.50" y1="108.40" x2="406.50" y2="186.90" stroke="#9a9a9a" stroke-width="0.8"/><line x1="403.50" y1="186.90" x2="406.50" y2="186.90" stroke="#777" stroke-width="0.8"/><text x="403.80" y="190.15" font-size="9.1" text-anchor="end" fill="#1a1a1a" stroke="#1a1a1a" stroke-width="0.22">0</text><line x1="403.50" y1="171.20" x2="406.50" y2="171.20" stroke="#777" stroke-width="0.8"/><text x="403.80" y="174.45" font-size="9.1" text-anchor="end" fill="#1a1a1a" stroke="#1a1a1a" stroke-width="0.22">20</text><line x1="403.50" y1="155.50" x2="406.50" y2="155.50" stroke="#777" stroke-width="0.8"/><text x="403.80" y="158.75" font-size="9.1" text-anchor="end" fill="#1a1a1a" stroke="#1a1a1a" stroke-width="0.22">40</text><line x1="403.50" y1="139.80" x2="406.50" y2="139.80" stroke="#777" stroke-width="0.8"/><text x="403.80" y="143.05" font-size="9.1" text-anchor="end" fill="#1a1a1a" stroke="#1a1a1a" stroke-width="0.22">60</text><line x1="403.50" y1="124.10" x2="406.50" y2="124.10" stroke="#777" stroke-width="0.8"/><text x="403.80" y="127.35" font-size="9.1" text-anchor="end" fill="#1a1a1a" stroke="#1a1a1a" stroke-width="0.22">80</text><line x1="403.50" y1="108.40" x2="406.50" y2="108.40" stroke="#777" stroke-width="0.8"/><text x="403.80" y="111.65" font-size="9.1" text-anchor="end" fill="#1a1a1a" stroke="#1a1a1a" stroke-width="0.22">100</text><line x1="406.50" y1="186.90" x2="516.50" y2="186.90" stroke="#555" stroke-width="0.9"/><line x1="415.80" y1="159.19" x2="415.80" y2="154.32" stroke="#000" stroke-width="1.2"/><line x1="413.30" y1="154.32" x2="418.30" y2="154.32" stroke="#000" stroke-width="1.3"/><rect x="413.30" y="159.79" width="5.00" height="27.11" fill="#000" stroke="#000" stroke-width="1.25"/><line x1="427.95" y1="137.21" x2="427.95" y2="131.17" stroke="#000" stroke-width="1.2"/><line x1="425.45" y1="131.17" x2="430.45" y2="131.17" stroke="#000" stroke-width="1.3"/><rect x="425.60" y="137.81" width="4.70" height="49.09" fill="#fff" stroke="#000" stroke-width="1.25"/><defs><pattern id="bp9" patternUnits="userSpaceOnUse" x="436.80" y="186.90" width="5.4" height="5.4"><rect width="5.4" height="5.4" fill="#fff"/><path d="M0,0L5.4,5.4M5.4,0L0,5.4" stroke="#000" stroke-width="1.35"/></pattern></defs><line x1="439.50" y1="153.93" x2="439.50" y2="148.04" stroke="#000" stroke-width="1.2"/><line x1="437.00" y1="148.04" x2="442.00" y2="148.04" stroke="#000" stroke-width="1.3"/><rect x="437.10" y="154.53" width="4.80" height="32.37" fill="url(#bp9)" stroke="#000" stroke-width="1.25"/><defs><pattern id="bp10" patternUnits="userSpaceOnUse" x="0.00" y="186.90" width="20" height="3.65"><rect width="20" height="3.65" fill="#fff"/><rect width="20" height="2.04" fill="#000"/></pattern></defs><line x1="450.80" y1="120.96" x2="450.80" y2="117.98" stroke="#000" stroke-width="1.2"/><line x1="448.30" y1="117.98" x2="453.30" y2="117.98" stroke="#000" stroke-width="1.3"/><rect x="448.40" y="121.56" width="4.80" height="65.34" fill="url(#bp10)" stroke="#000" stroke-width="1.25"/><line x1="462.20" y1="122.22" x2="462.20" y2="119.39" stroke="#000" stroke-width="1.2"/><line x1="459.70" y1="119.39" x2="464.70" y2="119.39" stroke="#000" stroke-width="1.3"/><rect x="459.90" y="122.82" width="4.60" height="64.08" fill="#c6c6c6" stroke="#000" stroke-width="1.25"/><defs><pattern id="bp11" patternUnits="userSpaceOnUse" x="470.80" y="186.90" width="12" height="7.2"><rect width="12" height="7.2" fill="#fff"/><path d="M1.2,0.8 Q3.0,1.2 3.3,3.0" stroke="#000" stroke-width="1.2" fill="none"/><path d="M1.2,4.4 Q2.2,4.6 2.4,5.6" stroke="#555" stroke-width="0.7" fill="none"/></pattern></defs><line x1="473.65" y1="134.70" x2="473.65" y2="133.91" stroke="#000" stroke-width="1.2"/><line x1="471.15" y1="133.91" x2="476.15" y2="133.91" stroke="#000" stroke-width="1.3"/><rect x="471.40" y="135.30" width="4.50" height="51.60" fill="url(#bp11)" stroke="#000" stroke-width="1.25"/><defs><pattern id="bp12" patternUnits="userSpaceOnUse" x="483.20" y="186.90" width="5.2" height="5.2"><rect width="5.2" height="5.2" fill="#fff"/><rect width="2.6" height="2.6" fill="#000"/><rect x="2.6" y="2.6" width="2.6" height="2.6" fill="#000"/></pattern></defs><line x1="485.00" y1="167.04" x2="485.00" y2="161.23" stroke="#000" stroke-width="1.2"/><line x1="482.50" y1="161.23" x2="487.50" y2="161.23" stroke="#000" stroke-width="1.3"/><rect x="482.60" y="167.64" width="4.80" height="19.26" fill="url(#bp12)" stroke="#000" stroke-width="1.25"/><defs><pattern id="bp13" patternUnits="userSpaceOnUse" x="494.10" y="186.90" width="5.0" height="6.8"><rect width="5.0" height="6.8" fill="#fff"/><path d="M0,0L5.0,6.8M5.0,0L0,6.8" stroke="#000" stroke-width="0.85"/></pattern></defs><rect x="494.10" y="161.83" width="5.00" height="25.07" fill="url(#bp13)" stroke="#000" stroke-width="1.25"/><circle cx="424.20" cy="128.00" r="1.05" fill="#111"/><circle cx="427.90" cy="128.00" r="1.05" fill="#111"/><circle cx="431.60" cy="128.00" r="1.05" fill="#111"/><circle cx="447.10" cy="105.40" r="1.05" fill="#111"/><circle cx="450.80" cy="105.40" r="1.05" fill="#111"/><circle cx="454.50" cy="105.40" r="1.05" fill="#111"/><circle cx="447.10" cy="111.30" r="1.05" fill="#111"/><circle cx="450.80" cy="111.30" r="1.05" fill="#111"/><circle cx="454.50" cy="111.30" r="1.05" fill="#111"/><text x="445.20" y="113.50" font-size="7.0" text-anchor="end" fill="#333" stroke="#333" stroke-width="0.22">(</text><text x="456.40" y="113.50" font-size="7.0" text-anchor="start" fill="#333" stroke="#333" stroke-width="0.22">)</text><circle cx="458.50" cy="111.30" r="1.05" fill="#111"/><circle cx="462.20" cy="111.30" r="1.05" fill="#111"/><circle cx="465.90" cy="111.30" r="1.05" fill="#111"/><circle cx="458.50" cy="117.00" r="1.05" fill="#111"/><circle cx="462.20" cy="117.00" r="1.05" fill="#111"/><circle cx="465.90" cy="117.00" r="1.05" fill="#111"/><text x="456.60" y="119.20" font-size="7.0" text-anchor="end" fill="#333" stroke="#333" stroke-width="0.22">(</text><text x="467.80" y="119.20" font-size="7.0" text-anchor="start" fill="#333" stroke="#333" stroke-width="0.22">)</text><circle cx="469.90" cy="131.50" r="1.05" fill="#111"/><circle cx="473.60" cy="131.50" r="1.05" fill="#111"/><circle cx="477.30" cy="131.50" r="1.05" fill="#111"/><text x="385.30" y="147.20" font-size="9.8" text-anchor="middle" fill="#1a1a1a" stroke="#1a1a1a" stroke-width="0.22" transform="rotate(-90 385.30 147.20)">Erythroids (%)</text><text x="415.80" y="196.90" font-size="9.2" text-anchor="middle" fill="#1a1a1a" stroke="#1a1a1a" stroke-width="0.22">6</text><text x="427.95" y="196.90" font-size="9.2" text-anchor="middle" fill="#1a1a1a" stroke="#1a1a1a" stroke-width="0.22">6</text><text x="439.50" y="196.90" font-size="9.2" text-anchor="middle" fill="#1a1a1a" stroke="#1a1a1a" stroke-width="0.22">5</text><text x="450.80" y="196.90" font-size="9.2" text-anchor="middle" fill="#1a1a1a" stroke="#1a1a1a" stroke-width="0.22">6</text><text x="462.20" y="196.90" font-size="9.2" text-anchor="middle" fill="#1a1a1a" stroke="#1a1a1a" stroke-width="0.22">4</text><text x="473.65" y="196.90" font-size="9.2" text-anchor="middle" fill="#1a1a1a" stroke="#1a1a1a" stroke-width="0.22">3</text><text x="485.00" y="196.90" font-size="9.2" text-anchor="middle" fill="#1a1a1a" stroke="#1a1a1a" stroke-width="0.22">4</text><text x="496.60" y="196.90" font-size="9.2" text-anchor="middle" fill="#1a1a1a" stroke="#1a1a1a" stroke-width="0.22">2</text><text x="398.30" y="196.90" font-size="9.2" text-anchor="middle" fill="#1a1a1a" stroke="#1a1a1a" stroke-width="0.22">n=</text><text x="408.6" y="114.0" font-size="8.0" fill="#1a1a1a" stroke="#1a1a1a" stroke-width="0.2">Ter119<tspan font-size="5.6" dy="-3.0">+</tspan></text><line x1="32.80" y1="212.70" x2="32.80" y2="291.40" stroke="#9a9a9a" stroke-width="0.8"/><line x1="29.80" y1="291.40" x2="32.80" y2="291.40" stroke="#777" stroke-width="0.8"/><text x="30.10" y="294.65" font-size="9.1" text-anchor="end" fill="#1a1a1a" stroke="#1a1a1a" stroke-width="0.22">0</text><line x1="29.80" y1="265.17" x2="32.80" y2="265.17" stroke="#777" stroke-width="0.8"/><text x="30.10" y="268.42" font-size="9.1" text-anchor="end" fill="#1a1a1a" stroke="#1a1a1a" stroke-width="0.22">20</text><line x1="29.80" y1="238.93" x2="32.80" y2="238.93" stroke="#777" stroke-width="0.8"/><text x="30.10" y="242.18" font-size="9.1" text-anchor="end" fill="#1a1a1a" stroke="#1a1a1a" stroke-width="0.22">40</text><line x1="29.80" y1="212.70" x2="32.80" y2="212.70" stroke="#777" stroke-width="0.8"/><text x="30.10" y="215.95" font-size="9.1" text-anchor="end" fill="#1a1a1a" stroke="#1a1a1a" stroke-width="0.22">60</text><line x1="32.80" y1="291.40" x2="129.50" y2="291.40" stroke="#555" stroke-width="0.9"/><line x1="41.65" y1="254.15" x2="41.65" y2="245.49" stroke="#000" stroke-width="1.2"/><line x1="39.15" y1="245.49" x2="44.15" y2="245.49" stroke="#000" stroke-width="1.3"/><rect x="39.00" y="254.75" width="5.30" height="36.65" fill="#000" stroke="#000" stroke-width="1.25"/><line x1="52.95" y1="262.02" x2="52.95" y2="251.00" stroke="#000" stroke-width="1.2"/><line x1="50.45" y1="251.00" x2="55.45" y2="251.00" stroke="#000" stroke-width="1.3"/><rect x="50.50" y="262.62" width="4.90" height="28.78" fill="#fff" stroke="#000" stroke-width="1.25"/><defs><pattern id="bp14" patternUnits="userSpaceOnUse" x="61.90" y="291.40" width="5.4" height="5.4"><rect width="5.4" height="5.4" fill="#fff"/><path d="M0,0L5.4,5.4M5.4,0L0,5.4" stroke="#000" stroke-width="1.35"/></pattern></defs><line x1="64.60" y1="249.56" x2="64.60" y2="241.69" stroke="#000" stroke-width="1.2"/><line x1="62.10" y1="241.69" x2="67.10" y2="241.69" stroke="#000" stroke-width="1.3"/><rect x="62.10" y="250.16" width="5.00" height="41.24" fill="url(#bp14)" stroke="#000" stroke-width="1.25"/><defs><pattern id="bp15" patternUnits="userSpaceOnUse" x="0.00" y="291.40" width="20" height="3.65"><rect width="20" height="3.65" fill="#fff"/><rect width="20" height="2.04" fill="#000"/></pattern></defs><line x1="75.90" y1="264.25" x2="75.90" y2="258.48" stroke="#000" stroke-width="1.2"/><line x1="73.40" y1="258.48" x2="78.40" y2="258.48" stroke="#000" stroke-width="1.3"/><rect x="73.20" y="264.85" width="5.40" height="26.55" fill="url(#bp15)" stroke="#000" stroke-width="1.25"/><rect x="84.60" y="283.74" width="5.00" height="7.66" fill="#c6c6c6" stroke="#000" stroke-width="1.25"/><defs><pattern id="bp16" patternUnits="userSpaceOnUse" x="96.00" y="291.40" width="12" height="7.2"><rect width="12" height="7.2" fill="#fff"/><path d="M1.2,0.8 Q3.0,1.2 3.3,3.0" stroke="#000" stroke-width="1.2" fill="none"/><path d="M1.2,4.4 Q2.2,4.6 2.4,5.6" stroke="#555" stroke-width="0.7" fill="none"/></pattern></defs><line x1="99.10" y1="248.11" x2="99.10" y2="240.90" stroke="#000" stroke-width="1.2"/><line x1="96.60" y1="240.90" x2="101.60" y2="240.90" stroke="#000" stroke-width="1.3"/><rect x="96.60" y="248.71" width="5.00" height="42.68" fill="url(#bp16)" stroke="#000" stroke-width="1.25"/><defs><pattern id="bp17" patternUnits="userSpaceOnUse" x="108.50" y="291.40" width="5.2" height="5.2"><rect width="5.2" height="5.2" fill="#fff"/><rect width="2.6" height="2.6" fill="#000"/><rect x="2.6" y="2.6" width="2.6" height="2.6" fill="#000"/></pattern></defs><line x1="110.50" y1="270.02" x2="110.50" y2="262.02" stroke="#000" stroke-width="1.2"/><line x1="108.00" y1="262.02" x2="113.00" y2="262.02" stroke="#000" stroke-width="1.3"/><rect x="107.90" y="270.62" width="5.20" height="20.78" fill="url(#bp17)" stroke="#000" stroke-width="1.25"/><defs><pattern id="bp18" patternUnits="userSpaceOnUse" x="119.40" y="291.40" width="5.0" height="6.8"><rect width="5.0" height="6.8" fill="#fff"/><path d="M0,0L5.0,6.8M5.0,0L0,6.8" stroke="#000" stroke-width="0.85"/></pattern></defs><rect x="119.40" y="253.96" width="5.00" height="37.44" fill="url(#bp18)" stroke="#000" stroke-width="1.25"/><circle cx="75.90" cy="255.00" r="1.05" fill="#111"/><circle cx="83.40" cy="271.50" r="1.05" fill="#111"/><circle cx="87.10" cy="271.50" r="1.05" fill="#111"/><circle cx="90.80" cy="271.50" r="1.05" fill="#111"/><circle cx="85.25" cy="278.20" r="1.05" fill="#111"/><circle cx="88.95" cy="278.20" r="1.05" fill="#111"/><text x="83.35" y="280.40" font-size="7.0" text-anchor="end" fill="#333" stroke="#333" stroke-width="0.22">(</text><text x="90.85" y="280.40" font-size="7.0" text-anchor="start" fill="#333" stroke="#333" stroke-width="0.22">)</text><circle cx="110.50" cy="258.50" r="1.05" fill="#111"/><text x="16.60" y="258.40" font-size="9.6" text-anchor="middle" fill="#1a1a1a" stroke="#1a1a1a" stroke-width="0.22" transform="rotate(-90 16.60 258.40)">Late erythroids (%)</text><text x="41.65" y="301.70" font-size="9.2" text-anchor="middle" fill="#1a1a1a" stroke="#1a1a1a" stroke-width="0.22">6</text><text x="52.95" y="301.70" font-size="9.2" text-anchor="middle" fill="#1a1a1a" stroke="#1a1a1a" stroke-width="0.22">6</text><text x="64.60" y="301.70" font-size="9.2" text-anchor="middle" fill="#1a1a1a" stroke="#1a1a1a" stroke-width="0.22">5</text><text x="75.90" y="301.70" font-size="9.2" text-anchor="middle" fill="#1a1a1a" stroke="#1a1a1a" stroke-width="0.22">6</text><text x="87.10" y="301.70" font-size="9.2" text-anchor="middle" fill="#1a1a1a" stroke="#1a1a1a" stroke-width="0.22">4</text><text x="99.10" y="301.70" font-size="9.2" text-anchor="middle" fill="#1a1a1a" stroke="#1a1a1a" stroke-width="0.22">3</text><text x="110.50" y="301.70" font-size="9.2" text-anchor="middle" fill="#1a1a1a" stroke="#1a1a1a" stroke-width="0.22">4</text><text x="121.90" y="301.70" font-size="9.2" text-anchor="middle" fill="#1a1a1a" stroke="#1a1a1a" stroke-width="0.22">2</text><text x="23.20" y="301.70" font-size="9.2" text-anchor="middle" fill="#1a1a1a" stroke="#1a1a1a" stroke-width="0.22">n=</text><text x="34.6" y="218.1" font-size="8.0" fill="#1a1a1a" stroke="#1a1a1a" stroke-width="0.2">CD71<tspan font-size="5.6" dy="-3.0">-</tspan><tspan dy="3.0">Ter119</tspan><tspan font-size="5.6" dy="-3.0">+</tspan></text><line x1="167.10" y1="213.60" x2="167.10" y2="291.70" stroke="#9a9a9a" stroke-width="0.8"/><line x1="164.10" y1="291.70" x2="167.10" y2="291.70" stroke="#777" stroke-width="0.8"/><text x="164.40" y="294.95" font-size="9.1" text-anchor="end" fill="#1a1a1a" stroke="#1a1a1a" stroke-width="0.22">0</text><line x1="164.10" y1="276.08" x2="167.10" y2="276.08" stroke="#777" stroke-width="0.8"/><text x="164.40" y="279.33" font-size="9.1" text-anchor="end" fill="#1a1a1a" stroke="#1a1a1a" stroke-width="0.22">20</text><line x1="164.10" y1="260.46" x2="167.10" y2="260.46" stroke="#777" stroke-width="0.8"/><text x="164.40" y="263.71" font-size="9.1" text-anchor="end" fill="#1a1a1a" stroke="#1a1a1a" stroke-width="0.22">40</text><line x1="164.10" y1="244.84" x2="167.10" y2="244.84" stroke="#777" stroke-width="0.8"/><text x="164.40" y="248.09" font-size="9.1" text-anchor="end" fill="#1a1a1a" stroke="#1a1a1a" stroke-width="0.22">60</text><line x1="164.10" y1="229.22" x2="167.10" y2="229.22" stroke="#777" stroke-width="0.8"/><text x="164.40" y="232.47" font-size="9.1" text-anchor="end" fill="#1a1a1a" stroke="#1a1a1a" stroke-width="0.22">80</text><line x1="164.10" y1="213.60" x2="167.10" y2="213.60" stroke="#777" stroke-width="0.8"/><text x="164.40" y="216.85" font-size="9.1" text-anchor="end" fill="#1a1a1a" stroke="#1a1a1a" stroke-width="0.22">100</text><line x1="167.10" y1="291.70" x2="262.50" y2="291.70" stroke="#555" stroke-width="0.9"/><line x1="176.40" y1="286.00" x2="176.40" y2="284.36" stroke="#000" stroke-width="1.2"/><line x1="173.90" y1="284.36" x2="178.90" y2="284.36" stroke="#000" stroke-width="1.3"/><rect x="173.90" y="286.60" width="5.00" height="5.10" fill="#000" stroke="#000" stroke-width="1.25"/><line x1="188.50" y1="259.68" x2="188.50" y2="253.43" stroke="#000" stroke-width="1.2"/><line x1="186.00" y1="253.43" x2="191.00" y2="253.43" stroke="#000" stroke-width="1.3"/><rect x="186.00" y="260.28" width="5.00" height="31.42" fill="#fff" stroke="#000" stroke-width="1.25"/><defs><pattern id="bp19" patternUnits="userSpaceOnUse" x="196.80" y="291.70" width="5.4" height="5.4"><rect width="5.4" height="5.4" fill="#fff"/><path d="M0,0L5.4,5.4M5.4,0L0,5.4" stroke="#000" stroke-width="1.35"/></pattern></defs><line x1="199.50" y1="283.27" x2="199.50" y2="280.45" stroke="#000" stroke-width="1.2"/><line x1="197.00" y1="280.45" x2="202.00" y2="280.45" stroke="#000" stroke-width="1.3"/><rect x="196.90" y="283.87" width="5.20" height="7.83" fill="url(#bp19)" stroke="#000" stroke-width="1.25"/><defs><pattern id="bp20" patternUnits="userSpaceOnUse" x="0.00" y="291.70" width="20" height="3.65"><rect width="20" height="3.65" fill="#fff"/><rect width="20" height="2.04" fill="#000"/></pattern></defs><line x1="211.15" y1="240.94" x2="211.15" y2="234.30" stroke="#000" stroke-width="1.2"/><line x1="208.65" y1="234.30" x2="213.65" y2="234.30" stroke="#000" stroke-width="1.3"/><rect x="208.40" y="241.53" width="5.50" height="50.16" fill="url(#bp20)" stroke="#000" stroke-width="1.25"/><line x1="222.70" y1="230.94" x2="222.70" y2="228.91" stroke="#000" stroke-width="1.2"/><line x1="220.20" y1="228.91" x2="225.20" y2="228.91" stroke="#000" stroke-width="1.3"/><rect x="220.00" y="231.54" width="5.40" height="60.16" fill="#c6c6c6" stroke="#000" stroke-width="1.25"/><defs><pattern id="bp21" patternUnits="userSpaceOnUse" x="231.00" y="291.70" width="12" height="7.2"><rect width="12" height="7.2" fill="#fff"/><path d="M1.2,0.8 Q3.0,1.2 3.3,3.0" stroke="#000" stroke-width="1.2" fill="none"/><path d="M1.2,4.4 Q2.2,4.6 2.4,5.6" stroke="#555" stroke-width="0.7" fill="none"/></pattern></defs><line x1="234.10" y1="266.24" x2="234.10" y2="263.58" stroke="#000" stroke-width="1.2"/><line x1="231.60" y1="263.58" x2="236.60" y2="263.58" stroke="#000" stroke-width="1.3"/><rect x="231.60" y="266.84" width="5.00" height="24.86" fill="url(#bp21)" stroke="#000" stroke-width="1.25"/><defs><pattern id="bp22" patternUnits="userSpaceOnUse" x="243.50" y="291.70" width="5.2" height="5.2"><rect width="5.2" height="5.2" fill="#fff"/><rect width="2.6" height="2.6" fill="#000"/><rect x="2.6" y="2.6" width="2.6" height="2.6" fill="#000"/></pattern></defs><line x1="245.55" y1="283.58" x2="245.55" y2="281.55" stroke="#000" stroke-width="1.2"/><line x1="243.05" y1="281.55" x2="248.05" y2="281.55" stroke="#000" stroke-width="1.3"/><rect x="242.90" y="284.18" width="5.30" height="7.52" fill="url(#bp22)" stroke="#000" stroke-width="1.25"/><defs><pattern id="bp23" patternUnits="userSpaceOnUse" x="254.90" y="291.70" width="5.0" height="6.8"><rect width="5.0" height="6.8" fill="#fff"/><path d="M0,0L5.0,6.8M5.0,0L0,6.8" stroke="#000" stroke-width="0.85"/></pattern></defs><rect x="254.90" y="287.61" width="5.00" height="4.09" fill="url(#bp23)" stroke="#000" stroke-width="1.25"/><circle cx="184.80" cy="249.90" r="1.05" fill="#111"/><circle cx="188.50" cy="249.90" r="1.05" fill="#111"/><circle cx="192.20" cy="249.90" r="1.05" fill="#111"/><circle cx="207.50" cy="227.00" r="1.05" fill="#111"/><circle cx="211.20" cy="227.00" r="1.05" fill="#111"/><circle cx="214.90" cy="227.00" r="1.05" fill="#111"/><circle cx="207.50" cy="232.50" r="1.05" fill="#111"/><circle cx="211.20" cy="232.50" r="1.05" fill="#111"/><circle cx="214.90" cy="232.50" r="1.05" fill="#111"/><text x="205.60" y="234.70" font-size="7.0" text-anchor="end" fill="#333" stroke="#333" stroke-width="0.22">(</text><text x="216.80" y="234.70" font-size="7.0" text-anchor="start" fill="#333" stroke="#333" stroke-width="0.22">)</text><circle cx="219.00" cy="218.60" r="1.05" fill="#111"/><circle cx="222.70" cy="218.60" r="1.05" fill="#111"/><circle cx="226.40" cy="218.60" r="1.05" fill="#111"/><circle cx="219.00" cy="223.80" r="1.05" fill="#111"/><circle cx="222.70" cy="223.80" r="1.05" fill="#111"/><circle cx="226.40" cy="223.80" r="1.05" fill="#111"/><text x="217.10" y="226.00" font-size="7.0" text-anchor="end" fill="#333" stroke="#333" stroke-width="0.22">(</text><text x="228.30" y="226.00" font-size="7.0" text-anchor="start" fill="#333" stroke="#333" stroke-width="0.22">)</text><circle cx="230.40" cy="259.60" r="1.05" fill="#111"/><circle cx="234.10" cy="259.60" r="1.05" fill="#111"/><circle cx="237.80" cy="259.60" r="1.05" fill="#111"/><text x="145.50" y="254.20" font-size="9.8" text-anchor="middle" fill="#1a1a1a" stroke="#1a1a1a" stroke-width="0.22" transform="rotate(-90 145.50 254.20)">Early erythroids (%)</text><text x="176.40" y="301.70" font-size="9.2" text-anchor="middle" fill="#1a1a1a" stroke="#1a1a1a" stroke-width="0.22">6</text><text x="188.50" y="301.70" font-size="9.2" text-anchor="middle" fill="#1a1a1a" stroke="#1a1a1a" stroke-width="0.22">6</text><text x="199.50" y="301.70" font-size="9.2" text-anchor="middle" fill="#1a1a1a" stroke="#1a1a1a" stroke-width="0.22">5</text><text x="211.15" y="301.70" font-size="9.2" text-anchor="middle" fill="#1a1a1a" stroke="#1a1a1a" stroke-width="0.22">6</text><text x="222.70" y="301.70" font-size="9.2" text-anchor="middle" fill="#1a1a1a" stroke="#1a1a1a" stroke-width="0.22">4</text><text x="234.10" y="301.70" font-size="9.2" text-anchor="middle" fill="#1a1a1a" stroke="#1a1a1a" stroke-width="0.22">3</text><text x="245.55" y="301.70" font-size="9.2" text-anchor="middle" fill="#1a1a1a" stroke="#1a1a1a" stroke-width="0.22">4</text><text x="257.40" y="301.70" font-size="9.2" text-anchor="middle" fill="#1a1a1a" stroke="#1a1a1a" stroke-width="0.22">2</text><text x="159.50" y="301.70" font-size="9.2" text-anchor="middle" fill="#1a1a1a" stroke="#1a1a1a" stroke-width="0.22">n=</text><text x="169.3" y="217.0" font-size="8.0" fill="#1a1a1a" stroke="#1a1a1a" stroke-width="0.2">CD71<tspan font-size="5.6" dy="-3.0">+</tspan><tspan dy="3.0">Ter119</tspan><tspan font-size="5.6" dy="-3.0">+</tspan></text><line x1="293.00" y1="213.60" x2="293.00" y2="291.70" stroke="#9a9a9a" stroke-width="0.8"/><line x1="290.00" y1="291.70" x2="293.00" y2="291.70" stroke="#777" stroke-width="0.8"/><text x="290.30" y="294.95" font-size="9.1" text-anchor="end" fill="#1a1a1a" stroke="#1a1a1a" stroke-width="0.22">0</text><line x1="290.00" y1="272.18" x2="293.00" y2="272.18" stroke="#777" stroke-width="0.8"/><text x="290.30" y="275.43" font-size="9.1" text-anchor="end" fill="#1a1a1a" stroke="#1a1a1a" stroke-width="0.22">20</text><line x1="290.00" y1="252.65" x2="293.00" y2="252.65" stroke="#777" stroke-width="0.8"/><text x="290.30" y="255.90" font-size="9.1" text-anchor="end" fill="#1a1a1a" stroke="#1a1a1a" stroke-width="0.22">40</text><line x1="290.00" y1="233.12" x2="293.00" y2="233.12" stroke="#777" stroke-width="0.8"/><text x="290.30" y="236.38" font-size="9.1" text-anchor="end" fill="#1a1a1a" stroke="#1a1a1a" stroke-width="0.22">60</text><line x1="290.00" y1="213.60" x2="293.00" y2="213.60" stroke="#777" stroke-width="0.8"/><text x="290.30" y="216.85" font-size="9.1" text-anchor="end" fill="#1a1a1a" stroke="#1a1a1a" stroke-width="0.22">80</text><line x1="293.00" y1="291.70" x2="389.00" y2="291.70" stroke="#555" stroke-width="0.9"/><line x1="302.20" y1="241.23" x2="302.20" y2="235.08" stroke="#000" stroke-width="1.2"/><line x1="299.70" y1="235.08" x2="304.70" y2="235.08" stroke="#000" stroke-width="1.3"/><rect x="299.70" y="241.83" width="5.00" height="49.87" fill="#000" stroke="#000" stroke-width="1.25"/><line x1="313.50" y1="258.51" x2="313.50" y2="250.01" stroke="#000" stroke-width="1.2"/><line x1="311.00" y1="250.01" x2="316.00" y2="250.01" stroke="#000" stroke-width="1.3"/><rect x="311.00" y="259.11" width="5.00" height="32.59" fill="#fff" stroke="#000" stroke-width="1.25"/><defs><pattern id="bp24" patternUnits="userSpaceOnUse" x="322.60" y="291.70" width="5.4" height="5.4"><rect width="5.4" height="5.4" fill="#fff"/><path d="M0,0L5.4,5.4M5.4,0L0,5.4" stroke="#000" stroke-width="1.35"/></pattern></defs><line x1="325.30" y1="237.42" x2="325.30" y2="231.17" stroke="#000" stroke-width="1.2"/><line x1="322.80" y1="231.17" x2="327.80" y2="231.17" stroke="#000" stroke-width="1.3"/><rect x="322.60" y="238.02" width="5.40" height="53.68" fill="url(#bp24)" stroke="#000" stroke-width="1.25"/><defs><pattern id="bp25" patternUnits="userSpaceOnUse" x="0.00" y="291.70" width="20" height="3.65"><rect width="20" height="3.65" fill="#fff"/><rect width="20" height="2.04" fill="#000"/></pattern></defs><line x1="336.55" y1="238.98" x2="336.55" y2="233.52" stroke="#000" stroke-width="1.2"/><line x1="334.05" y1="233.52" x2="339.05" y2="233.52" stroke="#000" stroke-width="1.3"/><rect x="333.90" y="239.58" width="5.30" height="52.12" fill="url(#bp25)" stroke="#000" stroke-width="1.25"/><line x1="348.55" y1="256.16" x2="348.55" y2="246.79" stroke="#000" stroke-width="1.2"/><line x1="346.05" y1="246.79" x2="351.05" y2="246.79" stroke="#000" stroke-width="1.3"/><rect x="345.80" y="256.76" width="5.50" height="34.94" fill="#c6c6c6" stroke="#000" stroke-width="1.25"/><defs><pattern id="bp26" patternUnits="userSpaceOnUse" x="356.50" y="291.70" width="12" height="7.2"><rect width="12" height="7.2" fill="#fff"/><path d="M1.2,0.8 Q3.0,1.2 3.3,3.0" stroke="#000" stroke-width="1.2" fill="none"/><path d="M1.2,4.4 Q2.2,4.6 2.4,5.6" stroke="#555" stroke-width="0.7" fill="none"/></pattern></defs><line x1="359.75" y1="232.15" x2="359.75" y2="228.93" stroke="#000" stroke-width="1.2"/><line x1="357.25" y1="228.93" x2="362.25" y2="228.93" stroke="#000" stroke-width="1.3"/><rect x="357.10" y="232.75" width="5.30" height="58.95" fill="url(#bp26)" stroke="#000" stroke-width="1.25"/><defs><pattern id="bp27" patternUnits="userSpaceOnUse" x="369.20" y="291.70" width="5.2" height="5.2"><rect width="5.2" height="5.2" fill="#fff"/><rect width="2.6" height="2.6" fill="#000"/><rect x="2.6" y="2.6" width="2.6" height="2.6" fill="#000"/></pattern></defs><line x1="371.30" y1="251.28" x2="371.30" y2="244.84" stroke="#000" stroke-width="1.2"/><line x1="368.80" y1="244.84" x2="373.80" y2="244.84" stroke="#000" stroke-width="1.3"/><rect x="368.60" y="251.88" width="5.40" height="39.82" fill="url(#bp27)" stroke="#000" stroke-width="1.25"/><defs><pattern id="bp28" patternUnits="userSpaceOnUse" x="380.35" y="291.70" width="5.0" height="6.8"><rect width="5.0" height="6.8" fill="#fff"/><path d="M0,0L5.0,6.8M5.0,0L0,6.8" stroke="#000" stroke-width="0.85"/></pattern></defs><rect x="380.30" y="231.77" width="5.10" height="59.93" fill="url(#bp28)" stroke="#000" stroke-width="1.25"/><circle cx="311.65" cy="245.70" r="1.05" fill="#111"/><circle cx="315.35" cy="245.70" r="1.05" fill="#111"/><circle cx="332.80" cy="229.70" r="1.05" fill="#111"/><circle cx="336.50" cy="229.70" r="1.05" fill="#111"/><circle cx="340.20" cy="229.70" r="1.05" fill="#111"/><text x="330.90" y="231.90" font-size="7.0" text-anchor="end" fill="#333" stroke="#333" stroke-width="0.22">(</text><text x="342.10" y="231.90" font-size="7.0" text-anchor="start" fill="#333" stroke="#333" stroke-width="0.22">)</text><circle cx="346.65" cy="243.70" r="1.05" fill="#111"/><circle cx="350.35" cy="243.70" r="1.05" fill="#111"/><circle cx="356.00" cy="225.00" r="1.05" fill="#111"/><circle cx="359.70" cy="225.00" r="1.05" fill="#111"/><circle cx="363.40" cy="225.00" r="1.05" fill="#111"/><text x="354.10" y="227.20" font-size="7.0" text-anchor="end" fill="#333" stroke="#333" stroke-width="0.22">(</text><text x="365.30" y="227.20" font-size="7.0" text-anchor="start" fill="#333" stroke="#333" stroke-width="0.22">)</text><text x="273.50" y="253.00" font-size="9.8" text-anchor="middle" fill="#1a1a1a" stroke="#1a1a1a" stroke-width="0.22" transform="rotate(-90 273.50 253.00)">Erythroids (%)</text><text x="302.20" y="301.70" font-size="9.2" text-anchor="middle" fill="#1a1a1a" stroke="#1a1a1a" stroke-width="0.22">6</text><text x="313.50" y="301.70" font-size="9.2" text-anchor="middle" fill="#1a1a1a" stroke="#1a1a1a" stroke-width="0.22">6</text><text x="325.30" y="301.70" font-size="9.2" text-anchor="middle" fill="#1a1a1a" stroke="#1a1a1a" stroke-width="0.22">5</text><text x="336.55" y="301.70" font-size="9.2" text-anchor="middle" fill="#1a1a1a" stroke="#1a1a1a" stroke-width="0.22">6</text><text x="348.55" y="301.70" font-size="9.2" text-anchor="middle" fill="#1a1a1a" stroke="#1a1a1a" stroke-width="0.22">4</text><text x="359.75" y="301.70" font-size="9.2" text-anchor="middle" fill="#1a1a1a" stroke="#1a1a1a" stroke-width="0.22">3</text><text x="371.30" y="301.70" font-size="9.2" text-anchor="middle" fill="#1a1a1a" stroke="#1a1a1a" stroke-width="0.22">4</text><text x="382.85" y="301.70" font-size="9.2" text-anchor="middle" fill="#1a1a1a" stroke="#1a1a1a" stroke-width="0.22">2</text><text x="285.80" y="301.70" font-size="9.2" text-anchor="middle" fill="#1a1a1a" stroke="#1a1a1a" stroke-width="0.22">n=</text><text x="295.8" y="220.0" font-size="8.0" fill="#1a1a1a" stroke="#1a1a1a" stroke-width="0.2">Ter119<tspan font-size="5.6" dy="-3.0">+</tspan></text><line x1="418.00" y1="211.60" x2="418.00" y2="291.40" stroke="#9a9a9a" stroke-width="0.8"/><line x1="415.00" y1="291.40" x2="418.00" y2="291.40" stroke="#777" stroke-width="0.8"/><text x="415.30" y="294.65" font-size="9.1" text-anchor="end" fill="#1a1a1a" stroke="#1a1a1a" stroke-width="0.22">0</text><line x1="415.00" y1="271.45" x2="418.00" y2="271.45" stroke="#777" stroke-width="0.8"/><text x="415.30" y="274.70" font-size="9.1" text-anchor="end" fill="#1a1a1a" stroke="#1a1a1a" stroke-width="0.22">10</text><line x1="415.00" y1="251.50" x2="418.00" y2="251.50" stroke="#777" stroke-width="0.8"/><text x="415.30" y="254.75" font-size="9.1" text-anchor="end" fill="#1a1a1a" stroke="#1a1a1a" stroke-width="0.22">20</text><line x1="415.00" y1="231.55" x2="418.00" y2="231.55" stroke="#777" stroke-width="0.8"/><text x="415.30" y="234.80" font-size="9.1" text-anchor="end" fill="#1a1a1a" stroke="#1a1a1a" stroke-width="0.22">30</text><line x1="415.00" y1="211.60" x2="418.00" y2="211.60" stroke="#777" stroke-width="0.8"/><text x="415.30" y="214.85" font-size="9.1" text-anchor="end" fill="#1a1a1a" stroke="#1a1a1a" stroke-width="0.22">40</text><line x1="418.00" y1="291.40" x2="516.00" y2="291.40" stroke="#555" stroke-width="0.9"/><line x1="427.20" y1="247.91" x2="427.20" y2="234.54" stroke="#000" stroke-width="1.2"/><line x1="424.70" y1="234.54" x2="429.70" y2="234.54" stroke="#000" stroke-width="1.3"/><rect x="424.70" y="248.51" width="5.00" height="42.89" fill="#000" stroke="#000" stroke-width="1.25"/><line x1="438.50" y1="266.26" x2="438.50" y2="258.48" stroke="#000" stroke-width="1.2"/><line x1="436.00" y1="258.48" x2="441.00" y2="258.48" stroke="#000" stroke-width="1.3"/><rect x="436.00" y="266.86" width="5.00" height="24.54" fill="#fff" stroke="#000" stroke-width="1.25"/><defs><pattern id="bp29" patternUnits="userSpaceOnUse" x="447.60" y="291.40" width="5.4" height="5.4"><rect width="5.4" height="5.4" fill="#fff"/><path d="M0,0L5.4,5.4M5.4,0L0,5.4" stroke="#000" stroke-width="1.35"/></pattern></defs><line x1="450.30" y1="237.73" x2="450.30" y2="230.75" stroke="#000" stroke-width="1.2"/><line x1="447.80" y1="230.75" x2="452.80" y2="230.75" stroke="#000" stroke-width="1.3"/><rect x="447.60" y="238.33" width="5.40" height="53.07" fill="url(#bp29)" stroke="#000" stroke-width="1.25"/><defs><pattern id="bp30" patternUnits="userSpaceOnUse" x="0.00" y="291.40" width="20" height="3.65"><rect width="20" height="3.65" fill="#fff"/><rect width="20" height="2.04" fill="#000"/></pattern></defs><line x1="461.55" y1="269.65" x2="461.55" y2="264.27" stroke="#000" stroke-width="1.2"/><line x1="459.05" y1="264.27" x2="464.05" y2="264.27" stroke="#000" stroke-width="1.3"/><rect x="458.90" y="270.25" width="5.30" height="21.15" fill="url(#bp30)" stroke="#000" stroke-width="1.25"/><line x1="473.05" y1="275.04" x2="473.05" y2="272.45" stroke="#000" stroke-width="1.2"/><line x1="470.55" y1="272.45" x2="475.55" y2="272.45" stroke="#000" stroke-width="1.3"/><rect x="470.30" y="275.64" width="5.50" height="15.76" fill="#c6c6c6" stroke="#000" stroke-width="1.25"/><defs><pattern id="bp31" patternUnits="userSpaceOnUse" x="481.00" y="291.40" width="12" height="7.2"><rect width="12" height="7.2" fill="#fff"/><path d="M1.2,0.8 Q3.0,1.2 3.3,3.0" stroke="#000" stroke-width="1.2" fill="none"/><path d="M1.2,4.4 Q2.2,4.6 2.4,5.6" stroke="#555" stroke-width="0.7" fill="none"/></pattern></defs><line x1="484.35" y1="238.13" x2="484.35" y2="233.54" stroke="#000" stroke-width="1.2"/><line x1="481.85" y1="233.54" x2="486.85" y2="233.54" stroke="#000" stroke-width="1.3"/><rect x="481.60" y="238.73" width="5.50" height="52.67" fill="url(#bp31)" stroke="#000" stroke-width="1.25"/><defs><pattern id="bp32" patternUnits="userSpaceOnUse" x="493.50" y="291.40" width="5.2" height="5.2"><rect width="5.2" height="5.2" fill="#fff"/><rect width="2.6" height="2.6" fill="#000"/><rect x="2.6" y="2.6" width="2.6" height="2.6" fill="#000"/></pattern></defs><line x1="495.55" y1="264.27" x2="495.55" y2="253.49" stroke="#000" stroke-width="1.2"/><line x1="493.05" y1="253.49" x2="498.05" y2="253.49" stroke="#000" stroke-width="1.3"/><rect x="492.90" y="264.87" width="5.30" height="26.53" fill="url(#bp32)" stroke="#000" stroke-width="1.25"/><defs><pattern id="bp33" patternUnits="userSpaceOnUse" x="504.60" y="291.40" width="5.0" height="6.8"><rect width="5.0" height="6.8" fill="#fff"/><path d="M0,0L5.0,6.8M5.0,0L0,6.8" stroke="#000" stroke-width="0.85"/></pattern></defs><line x1="507.10" y1="231.55" x2="507.10" y2="222.57" stroke="#000" stroke-width="1.2"/><line x1="504.60" y1="222.57" x2="509.60" y2="222.57" stroke="#000" stroke-width="1.3"/><rect x="504.40" y="232.15" width="5.40" height="59.25" fill="url(#bp33)" stroke="#000" stroke-width="1.25"/><circle cx="436.65" cy="255.00" r="1.05" fill="#111"/><circle cx="440.35" cy="255.00" r="1.05" fill="#111"/><circle cx="459.65" cy="260.70" r="1.05" fill="#111"/><circle cx="463.35" cy="260.70" r="1.05" fill="#111"/><circle cx="471.15" cy="261.00" r="1.05" fill="#111"/><circle cx="474.85" cy="261.00" r="1.05" fill="#111"/><circle cx="473.00" cy="267.30" r="1.05" fill="#111"/><text x="471.10" y="269.50" font-size="7.0" text-anchor="end" fill="#333" stroke="#333" stroke-width="0.22">(</text><text x="474.90" y="269.50" font-size="7.0" text-anchor="start" fill="#333" stroke="#333" stroke-width="0.22">)</text><circle cx="480.60" cy="229.00" r="1.05" fill="#111"/><circle cx="484.30" cy="229.00" r="1.05" fill="#111"/><circle cx="488.00" cy="229.00" r="1.05" fill="#111"/><text x="478.70" y="231.20" font-size="7.0" text-anchor="end" fill="#333" stroke="#333" stroke-width="0.22">(</text><text x="489.90" y="231.20" font-size="7.0" text-anchor="start" fill="#333" stroke="#333" stroke-width="0.22">)</text><text x="400.30" y="255.60" font-size="9.8" text-anchor="middle" fill="#1a1a1a" stroke="#1a1a1a" stroke-width="0.22" transform="rotate(-90 400.30 255.60)">Late erythroids (%)</text><text x="427.20" y="301.70" font-size="9.2" text-anchor="middle" fill="#1a1a1a" stroke="#1a1a1a" stroke-width="0.22">6</text><text x="438.50" y="301.70" font-size="9.2" text-anchor="middle" fill="#1a1a1a" stroke="#1a1a1a" stroke-width="0.22">6</text><text x="450.30" y="301.70" font-size="9.2" text-anchor="middle" fill="#1a1a1a" stroke="#1a1a1a" stroke-width="0.22">5</text><text x="461.55" y="301.70" font-size="9.2" text-anchor="middle" fill="#1a1a1a" stroke="#1a1a1a" stroke-width="0.22">6</text><text x="473.05" y="301.70" font-size="9.2" text-anchor="middle" fill="#1a1a1a" stroke="#1a1a1a" stroke-width="0.22">4</text><text x="484.35" y="301.70" font-size="9.2" text-anchor="middle" fill="#1a1a1a" stroke="#1a1a1a" stroke-width="0.22">3</text><text x="495.55" y="301.70" font-size="9.2" text-anchor="middle" fill="#1a1a1a" stroke="#1a1a1a" stroke-width="0.22">4</text><text x="507.10" y="301.70" font-size="9.2" text-anchor="middle" fill="#1a1a1a" stroke="#1a1a1a" stroke-width="0.22">2</text><text x="410.80" y="301.70" font-size="9.2" text-anchor="middle" fill="#1a1a1a" stroke="#1a1a1a" stroke-width="0.22">n=</text><text x="420.0" y="218.5" font-size="8.0" fill="#1a1a1a" stroke="#1a1a1a" stroke-width="0.2">CD71<tspan font-size="5.6" dy="-3.0">-</tspan><tspan dy="3.0">Ter119</tspan><tspan font-size="5.6" dy="-3.0">+</tspan></text><line x1="42.60" y1="317.00" x2="42.60" y2="394.50" stroke="#9a9a9a" stroke-width="0.8"/><line x1="39.60" y1="394.50" x2="42.60" y2="394.50" stroke="#777" stroke-width="0.8"/><text x="39.90" y="397.75" font-size="9.1" text-anchor="end" fill="#1a1a1a" stroke="#1a1a1a" stroke-width="0.22">0</text><line x1="39.60" y1="381.58" x2="42.60" y2="381.58" stroke="#777" stroke-width="0.8"/><text x="39.90" y="384.83" font-size="9.1" text-anchor="end" fill="#1a1a1a" stroke="#1a1a1a" stroke-width="0.22">10</text><line x1="39.60" y1="368.67" x2="42.60" y2="368.67" stroke="#777" stroke-width="0.8"/><text x="39.90" y="371.92" font-size="9.1" text-anchor="end" fill="#1a1a1a" stroke="#1a1a1a" stroke-width="0.22">20</text><line x1="39.60" y1="355.75" x2="42.60" y2="355.75" stroke="#777" stroke-width="0.8"/><text x="39.90" y="359.00" font-size="9.1" text-anchor="end" fill="#1a1a1a" stroke="#1a1a1a" stroke-width="0.22">30</text><line x1="39.60" y1="342.83" x2="42.60" y2="342.83" stroke="#777" stroke-width="0.8"/><text x="39.90" y="346.08" font-size="9.1" text-anchor="end" fill="#1a1a1a" stroke="#1a1a1a" stroke-width="0.22">40</text><line x1="39.60" y1="329.92" x2="42.60" y2="329.92" stroke="#777" stroke-width="0.8"/><text x="39.90" y="333.17" font-size="9.1" text-anchor="end" fill="#1a1a1a" stroke="#1a1a1a" stroke-width="0.22">50</text><line x1="39.60" y1="317.00" x2="42.60" y2="317.00" stroke="#777" stroke-width="0.8"/><text x="39.90" y="320.25" font-size="9.1" text-anchor="end" fill="#1a1a1a" stroke="#1a1a1a" stroke-width="0.22">60</text><line x1="42.60" y1="394.50" x2="140.00" y2="394.50" stroke="#555" stroke-width="0.9"/><line x1="51.90" y1="356.52" x2="51.90" y2="352.26" stroke="#000" stroke-width="1.2"/><line x1="49.40" y1="352.26" x2="54.40" y2="352.26" stroke="#000" stroke-width="1.3"/><rect x="49.40" y="357.12" width="5.00" height="37.38" fill="#000" stroke="#000" stroke-width="1.25"/><line x1="63.50" y1="366.86" x2="63.50" y2="359.11" stroke="#000" stroke-width="1.2"/><line x1="61.00" y1="359.11" x2="66.00" y2="359.11" stroke="#000" stroke-width="1.3"/><rect x="61.00" y="367.46" width="5.00" height="27.04" fill="#fff" stroke="#000" stroke-width="1.25"/><defs><pattern id="bp34" patternUnits="userSpaceOnUse" x="72.40" y="394.50" width="3.0" height="3.0"><rect width="3.0" height="3.0" fill="#fff"/><path d="M0,0L3.0,3.0M3.0,0L0,3.0" stroke="#000" stroke-width="1.35"/></pattern></defs><line x1="73.90" y1="357.30" x2="73.90" y2="352.52" stroke="#000" stroke-width="1.2"/><line x1="71.40" y1="352.52" x2="76.40" y2="352.52" stroke="#000" stroke-width="1.3"/><rect x="71.40" y="357.90" width="5.00" height="36.60" fill="url(#bp34)" stroke="#000" stroke-width="1.25"/><defs><pattern id="bp35" patternUnits="userSpaceOnUse" x="0.00" y="394.50" width="20" height="2.7"><rect width="20" height="2.7" fill="#fff"/><rect width="20" height="1.6" fill="#111"/></pattern></defs><line x1="85.35" y1="338.96" x2="85.35" y2="331.60" stroke="#000" stroke-width="1.2"/><line x1="82.85" y1="331.60" x2="87.85" y2="331.60" stroke="#000" stroke-width="1.3"/><rect x="82.70" y="339.56" width="5.30" height="54.94" fill="url(#bp35)" stroke="#000" stroke-width="1.25"/><line x1="96.80" y1="357.56" x2="96.80" y2="346.32" stroke="#000" stroke-width="1.2"/><line x1="94.30" y1="346.32" x2="99.30" y2="346.32" stroke="#000" stroke-width="1.3"/><rect x="94.20" y="358.16" width="5.20" height="36.34" fill="#c6c6c6" stroke="#000" stroke-width="1.25"/><defs><pattern id="bp36" patternUnits="userSpaceOnUse" x="105.20" y="394.50" width="12" height="7.2"><rect width="12" height="7.2" fill="#fff"/><path d="M1.2,0.8 Q3.0,1.2 3.3,3.0" stroke="#000" stroke-width="1.2" fill="none"/><path d="M1.2,4.4 Q2.2,4.6 2.4,5.6" stroke="#555" stroke-width="0.7" fill="none"/></pattern></defs><line x1="108.55" y1="350.20" x2="108.55" y2="347.61" stroke="#000" stroke-width="1.2"/><line x1="106.05" y1="347.61" x2="111.05" y2="347.61" stroke="#000" stroke-width="1.3"/><rect x="105.80" y="350.80" width="5.50" height="43.70" fill="url(#bp36)" stroke="#000" stroke-width="1.25"/><defs><pattern id="bp37" patternUnits="userSpaceOnUse" x="117.20" y="394.50" width="3.2" height="3.2"><rect width="3.2" height="3.2" fill="#fff"/><rect width="1.6" height="1.6" fill="#000"/><rect x="1.6" y="1.6" width="1.6" height="1.6" fill="#000"/></pattern></defs><line x1="119.35" y1="358.46" x2="119.35" y2="357.04" stroke="#000" stroke-width="1.2"/><line x1="116.85" y1="357.04" x2="121.85" y2="357.04" stroke="#000" stroke-width="1.3"/><rect x="116.60" y="359.06" width="5.50" height="35.44" fill="url(#bp37)" stroke="#000" stroke-width="1.25"/><defs><pattern id="bp38" patternUnits="userSpaceOnUse" x="128.40" y="394.50" width="5.0" height="6.8"><rect width="5.0" height="6.8" fill="#fff"/><path d="M0,0L5.0,6.8M5.0,0L0,6.8" stroke="#000" stroke-width="0.85"/></pattern></defs><line x1="130.90" y1="353.43" x2="130.90" y2="346.71" stroke="#000" stroke-width="1.2"/><line x1="128.40" y1="346.71" x2="133.40" y2="346.71" stroke="#000" stroke-width="1.3"/><rect x="128.40" y="354.03" width="5.00" height="40.47" fill="url(#bp38)" stroke="#000" stroke-width="1.25"/><circle cx="61.65" cy="355.00" r="1.05" fill="#111"/><circle cx="65.35" cy="355.00" r="1.05" fill="#111"/><circle cx="81.60" cy="323.20" r="1.05" fill="#111"/><circle cx="85.30" cy="323.20" r="1.05" fill="#111"/><circle cx="89.00" cy="323.20" r="1.05" fill="#111"/><circle cx="81.60" cy="328.20" r="1.05" fill="#111"/><circle cx="85.30" cy="328.20" r="1.05" fill="#111"/><circle cx="89.00" cy="328.20" r="1.05" fill="#111"/><text x="79.70" y="330.40" font-size="7.0" text-anchor="end" fill="#333" stroke="#333" stroke-width="0.22">(</text><text x="90.90" y="330.40" font-size="7.0" text-anchor="start" fill="#333" stroke="#333" stroke-width="0.22">)</text><circle cx="108.50" cy="338.00" r="1.05" fill="#111"/><circle cx="106.65" cy="343.30" r="1.05" fill="#111"/><circle cx="110.35" cy="343.30" r="1.05" fill="#111"/><text x="104.75" y="345.50" font-size="7.0" text-anchor="end" fill="#333" stroke="#333" stroke-width="0.22">(</text><text x="112.25" y="345.50" font-size="7.0" text-anchor="start" fill="#333" stroke="#333" stroke-width="0.22">)</text><text x="22.50" y="353.40" font-size="9.8" text-anchor="middle" fill="#1a1a1a" stroke="#1a1a1a" stroke-width="0.22" transform="rotate(-90 22.50 353.40)">Early erythroids (%)</text><text x="51.90" y="404.80" font-size="9.2" text-anchor="middle" fill="#1a1a1a" stroke="#1a1a1a" stroke-width="0.22">6</text><text x="63.50" y="404.80" font-size="9.2" text-anchor="middle" fill="#1a1a1a" stroke="#1a1a1a" stroke-width="0.22">6</text><text x="73.90" y="404.80" font-size="9.2" text-anchor="middle" fill="#1a1a1a" stroke="#1a1a1a" stroke-width="0.22">5</text><text x="85.35" y="404.80" font-size="9.2" text-anchor="middle" fill="#1a1a1a" stroke="#1a1a1a" stroke-width="0.22">6</text><text x="96.80" y="404.80" font-size="9.2" text-anchor="middle" fill="#1a1a1a" stroke="#1a1a1a" stroke-width="0.22">4</text><text x="108.55" y="404.80" font-size="9.2" text-anchor="middle" fill="#1a1a1a" stroke="#1a1a1a" stroke-width="0.22">3</text><text x="119.35" y="404.80" font-size="9.2" text-anchor="middle" fill="#1a1a1a" stroke="#1a1a1a" stroke-width="0.22">4</text><text x="130.90" y="404.80" font-size="9.2" text-anchor="middle" fill="#1a1a1a" stroke="#1a1a1a" stroke-width="0.22">2</text><text x="34.00" y="404.80" font-size="9.2" text-anchor="middle" fill="#1a1a1a" stroke="#1a1a1a" stroke-width="0.22">n=</text><text x="44.6" y="319.9" font-size="8.0" fill="#1a1a1a" stroke="#1a1a1a" stroke-width="0.2">CD71<tspan font-size="5.6" dy="-3.0">+</tspan><tspan dy="3.0">Ter119</tspan><tspan font-size="5.6" dy="-3.0">+</tspan></text><line x1="175.60" y1="315.50" x2="175.60" y2="394.50" stroke="#9a9a9a" stroke-width="0.8"/><line x1="172.60" y1="394.50" x2="175.60" y2="394.50" stroke="#777" stroke-width="0.8"/><text x="172.90" y="397.75" font-size="9.1" text-anchor="end" fill="#1a1a1a" stroke="#1a1a1a" stroke-width="0.22">0</text><line x1="172.60" y1="378.70" x2="175.60" y2="378.70" stroke="#777" stroke-width="0.8"/><text x="172.90" y="381.95" font-size="9.1" text-anchor="end" fill="#1a1a1a" stroke="#1a1a1a" stroke-width="0.22">20</text><line x1="172.60" y1="362.90" x2="175.60" y2="362.90" stroke="#777" stroke-width="0.8"/><text x="172.90" y="366.15" font-size="9.1" text-anchor="end" fill="#1a1a1a" stroke="#1a1a1a" stroke-width="0.22">40</text><line x1="172.60" y1="347.10" x2="175.60" y2="347.10" stroke="#777" stroke-width="0.8"/><text x="172.90" y="350.35" font-size="9.1" text-anchor="end" fill="#1a1a1a" stroke="#1a1a1a" stroke-width="0.22">60</text><line x1="172.60" y1="331.30" x2="175.60" y2="331.30" stroke="#777" stroke-width="0.8"/><text x="172.90" y="334.55" font-size="9.1" text-anchor="end" fill="#1a1a1a" stroke="#1a1a1a" stroke-width="0.22">80</text><line x1="172.60" y1="315.50" x2="175.60" y2="315.50" stroke="#777" stroke-width="0.8"/><text x="172.90" y="318.75" font-size="9.1" text-anchor="end" fill="#1a1a1a" stroke="#1a1a1a" stroke-width="0.22">100</text><line x1="175.60" y1="394.50" x2="318.00" y2="394.50" stroke="#555" stroke-width="0.9"/><line x1="180.90" y1="342.60" x2="180.90" y2="339.52" stroke="#000" stroke-width="1.2"/><line x1="178.40" y1="339.52" x2="183.40" y2="339.52" stroke="#000" stroke-width="1.3"/><rect x="178.20" y="343.20" width="5.40" height="51.30" fill="#000" stroke="#000" stroke-width="1.25"/><line x1="190.65" y1="353.42" x2="190.65" y2="352.63" stroke="#000" stroke-width="1.2"/><line x1="188.15" y1="352.63" x2="193.15" y2="352.63" stroke="#000" stroke-width="1.3"/><rect x="188.30" y="354.02" width="4.70" height="40.48" fill="#fff" stroke="#000" stroke-width="1.25"/><defs><pattern id="bp39" patternUnits="userSpaceOnUse" x="0.00" y="394.50" width="20" height="3.65"><rect width="20" height="3.65" fill="#fff"/><rect width="20" height="2.04" fill="#000"/></pattern></defs><rect x="198.80" y="369.19" width="5.00" height="25.31" fill="url(#bp39)" stroke="#000" stroke-width="1.25"/><line x1="211.25" y1="365.43" x2="211.25" y2="360.53" stroke="#000" stroke-width="1.2"/><line x1="208.75" y1="360.53" x2="213.75" y2="360.53" stroke="#000" stroke-width="1.3"/><rect x="208.60" y="366.03" width="5.30" height="28.47" fill="#c6c6c6" stroke="#000" stroke-width="1.25"/><line x1="231.70" y1="367.32" x2="231.70" y2="364.01" stroke="#000" stroke-width="1.2"/><line x1="229.20" y1="364.01" x2="234.20" y2="364.01" stroke="#000" stroke-width="1.3"/><rect x="229.00" y="367.92" width="5.40" height="26.58" fill="#000" stroke="#000" stroke-width="1.25"/><rect x="239.30" y="358.13" width="4.90" height="36.37" fill="#fff" stroke="#000" stroke-width="1.25"/><defs><pattern id="bp40" patternUnits="userSpaceOnUse" x="0.00" y="394.50" width="20" height="3.65"><rect width="20" height="3.65" fill="#fff"/><rect width="20" height="2.04" fill="#000"/></pattern></defs><line x1="252.10" y1="342.83" x2="252.10" y2="340.94" stroke="#000" stroke-width="1.2"/><line x1="249.60" y1="340.94" x2="254.60" y2="340.94" stroke="#000" stroke-width="1.3"/><rect x="249.40" y="343.43" width="5.40" height="51.07" fill="url(#bp40)" stroke="#000" stroke-width="1.25"/><line x1="262.50" y1="348.21" x2="262.50" y2="342.20" stroke="#000" stroke-width="1.2"/><line x1="260.00" y1="342.20" x2="265.00" y2="342.20" stroke="#000" stroke-width="1.3"/><rect x="260.10" y="348.81" width="4.80" height="45.69" fill="#c6c6c6" stroke="#000" stroke-width="1.25"/><rect x="280.10" y="391.94" width="4.50" height="2.56" fill="#000" stroke="#000" stroke-width="1.25"/><rect x="290.40" y="391.15" width="4.90" height="3.35" fill="#fff" stroke="#000" stroke-width="1.25"/><defs><pattern id="bp41" patternUnits="userSpaceOnUse" x="0.00" y="394.50" width="20" height="3.65"><rect width="20" height="3.65" fill="#fff"/><rect width="20" height="2.04" fill="#000"/></pattern></defs><rect x="300.60" y="391.15" width="4.80" height="3.35" fill="url(#bp41)" stroke="#000" stroke-width="1.25"/><line x1="313.25" y1="389.21" x2="313.25" y2="387.39" stroke="#000" stroke-width="1.2"/><line x1="310.75" y1="387.39" x2="315.75" y2="387.39" stroke="#000" stroke-width="1.3"/><rect x="310.80" y="389.81" width="4.90" height="4.69" fill="#c6c6c6" stroke="#000" stroke-width="1.25"/><circle cx="190.60" cy="348.00" r="1.05" fill="#111"/><circle cx="197.60" cy="355.60" r="1.05" fill="#111"/><circle cx="201.30" cy="355.60" r="1.05" fill="#111"/><circle cx="205.00" cy="355.60" r="1.05" fill="#111"/><circle cx="197.60" cy="361.80" r="1.05" fill="#111"/><circle cx="201.30" cy="361.80" r="1.05" fill="#111"/><circle cx="205.00" cy="361.80" r="1.05" fill="#111"/><text x="195.70" y="364.00" font-size="7.0" text-anchor="end" fill="#333" stroke="#333" stroke-width="0.22">(</text><text x="206.90" y="364.00" font-size="7.0" text-anchor="start" fill="#333" stroke="#333" stroke-width="0.22">)</text><circle cx="209.35" cy="348.20" r="1.05" fill="#111"/><circle cx="213.05" cy="348.20" r="1.05" fill="#111"/><circle cx="211.20" cy="353.60" r="1.05" fill="#111"/><text x="209.30" y="355.80" font-size="7.0" text-anchor="end" fill="#333" stroke="#333" stroke-width="0.22">(</text><text x="213.10" y="355.80" font-size="7.0" text-anchor="start" fill="#333" stroke="#333" stroke-width="0.22">)</text><circle cx="241.70" cy="353.10" r="1.05" fill="#111"/><circle cx="248.40" cy="330.00" r="1.05" fill="#111"/><circle cx="252.10" cy="330.00" r="1.05" fill="#111"/><circle cx="255.80" cy="330.00" r="1.05" fill="#111"/><circle cx="250.25" cy="336.00" r="1.05" fill="#111"/><circle cx="253.95" cy="336.00" r="1.05" fill="#111"/><text x="248.35" y="338.20" font-size="7.0" text-anchor="end" fill="#333" stroke="#333" stroke-width="0.22">(</text><text x="255.85" y="338.20" font-size="7.0" text-anchor="start" fill="#333" stroke="#333" stroke-width="0.22">)</text><circle cx="260.65" cy="332.20" r="1.05" fill="#111"/><circle cx="264.35" cy="332.20" r="1.05" fill="#111"/><circle cx="262.50" cy="337.30" r="1.05" fill="#111"/><text x="260.60" y="339.50" font-size="7.0" text-anchor="end" fill="#333" stroke="#333" stroke-width="0.22">(</text><text x="264.40" y="339.50" font-size="7.0" text-anchor="start" fill="#333" stroke="#333" stroke-width="0.22">)</text><text x="157.20" y="353.60" font-size="9.6" text-anchor="middle" fill="#1a1a1a" stroke="#1a1a1a" stroke-width="0.22" transform="rotate(-90 157.20 353.60)">Percentage of cells</text><line x1="178.00" y1="397.20" x2="214.80" y2="397.20" stroke="#333" stroke-width="1.6"/><text x="196.50" y="408.10" font-size="9.8" text-anchor="middle" fill="#1a1a1a" stroke="#1a1a1a" stroke-width="0.22">G1</text><line x1="229.20" y1="397.20" x2="265.50" y2="397.20" stroke="#333" stroke-width="1.6"/><text x="247.20" y="408.10" font-size="9.8" text-anchor="middle" fill="#1a1a1a" stroke="#1a1a1a" stroke-width="0.22">S</text><line x1="281.00" y1="397.20" x2="318.00" y2="397.20" stroke="#333" stroke-width="1.6"/><text x="300.00" y="408.10" font-size="9.8" text-anchor="middle" fill="#1a1a1a" stroke="#1a1a1a" stroke-width="0.22">G2/M</text><text x="179.40" y="319.80" font-size="8.2" text-anchor="start" fill="#1a1a1a" stroke="#1a1a1a" stroke-width="0.22">Spleen</text><line x1="354.10" y1="315.40" x2="354.10" y2="394.20" stroke="#9a9a9a" stroke-width="0.8"/><line x1="351.10" y1="394.20" x2="354.10" y2="394.20" stroke="#777" stroke-width="0.8"/><text x="351.40" y="397.45" font-size="9.1" text-anchor="end" fill="#1a1a1a" stroke="#1a1a1a" stroke-width="0.22">0</text><line x1="351.10" y1="378.44" x2="354.10" y2="378.44" stroke="#777" stroke-width="0.8"/><text x="351.40" y="381.69" font-size="9.1" text-anchor="end" fill="#1a1a1a" stroke="#1a1a1a" stroke-width="0.22">20</text><line x1="351.10" y1="362.68" x2="354.10" y2="362.68" stroke="#777" stroke-width="0.8"/><text x="351.40" y="365.93" font-size="9.1" text-anchor="end" fill="#1a1a1a" stroke="#1a1a1a" stroke-width="0.22">40</text><line x1="351.10" y1="346.92" x2="354.10" y2="346.92" stroke="#777" stroke-width="0.8"/><text x="351.40" y="350.17" font-size="9.1" text-anchor="end" fill="#1a1a1a" stroke="#1a1a1a" stroke-width="0.22">60</text><line x1="351.10" y1="331.16" x2="354.10" y2="331.16" stroke="#777" stroke-width="0.8"/><text x="351.40" y="334.41" font-size="9.1" text-anchor="end" fill="#1a1a1a" stroke="#1a1a1a" stroke-width="0.22">80</text><line x1="351.10" y1="315.40" x2="354.10" y2="315.40" stroke="#777" stroke-width="0.8"/><text x="351.40" y="318.65" font-size="9.1" text-anchor="end" fill="#1a1a1a" stroke="#1a1a1a" stroke-width="0.22">100</text><line x1="354.10" y1="394.20" x2="497.70" y2="394.20" stroke="#555" stroke-width="0.9"/><rect x="357.10" y="342.79" width="4.90" height="51.41" fill="#000" stroke="#000" stroke-width="1.25"/><line x1="370.00" y1="345.58" x2="370.00" y2="340.93" stroke="#000" stroke-width="1.2"/><line x1="367.50" y1="340.93" x2="372.50" y2="340.93" stroke="#000" stroke-width="1.3"/><rect x="367.70" y="346.18" width="4.60" height="48.02" fill="#fff" stroke="#000" stroke-width="1.25"/><defs><pattern id="bp42" patternUnits="userSpaceOnUse" x="0.00" y="394.20" width="20" height="3.65"><rect width="20" height="3.65" fill="#fff"/><rect width="20" height="2.04" fill="#000"/></pattern></defs><line x1="380.55" y1="364.97" x2="380.55" y2="360.39" stroke="#000" stroke-width="1.2"/><line x1="378.05" y1="360.39" x2="383.05" y2="360.39" stroke="#000" stroke-width="1.3"/><rect x="378.30" y="365.57" width="4.50" height="28.63" fill="url(#bp42)" stroke="#000" stroke-width="1.25"/><line x1="390.30" y1="359.84" x2="390.30" y2="357.95" stroke="#000" stroke-width="1.2"/><line x1="387.80" y1="357.95" x2="392.80" y2="357.95" stroke="#000" stroke-width="1.3"/><rect x="387.90" y="360.44" width="4.80" height="33.76" fill="#c6c6c6" stroke="#000" stroke-width="1.25"/><line x1="410.85" y1="368.75" x2="410.85" y2="367.41" stroke="#000" stroke-width="1.2"/><line x1="408.35" y1="367.41" x2="413.35" y2="367.41" stroke="#000" stroke-width="1.3"/><rect x="408.20" y="369.35" width="5.30" height="24.85" fill="#000" stroke="#000" stroke-width="1.25"/><line x1="421.10" y1="365.52" x2="421.10" y2="361.50" stroke="#000" stroke-width="1.2"/><line x1="418.60" y1="361.50" x2="423.60" y2="361.50" stroke="#000" stroke-width="1.3"/><rect x="418.80" y="366.12" width="4.60" height="28.08" fill="#fff" stroke="#000" stroke-width="1.25"/><defs><pattern id="bp43" patternUnits="userSpaceOnUse" x="0.00" y="394.20" width="20" height="3.65"><rect width="20" height="3.65" fill="#fff"/><rect width="20" height="2.04" fill="#000"/></pattern></defs><line x1="431.40" y1="347.94" x2="431.40" y2="342.43" stroke="#000" stroke-width="1.2"/><line x1="428.90" y1="342.43" x2="433.90" y2="342.43" stroke="#000" stroke-width="1.3"/><rect x="429.00" y="348.54" width="4.80" height="45.66" fill="url(#bp43)" stroke="#000" stroke-width="1.25"/><line x1="441.55" y1="352.04" x2="441.55" y2="350.86" stroke="#000" stroke-width="1.2"/><line x1="439.05" y1="350.86" x2="444.05" y2="350.86" stroke="#000" stroke-width="1.3"/><rect x="439.10" y="352.64" width="4.90" height="41.56" fill="#c6c6c6" stroke="#000" stroke-width="1.25"/><line x1="461.75" y1="390.26" x2="461.75" y2="389.08" stroke="#000" stroke-width="1.2"/><line x1="459.25" y1="389.08" x2="464.25" y2="389.08" stroke="#000" stroke-width="1.3"/><rect x="459.10" y="390.86" width="5.30" height="3.34" fill="#000" stroke="#000" stroke-width="1.25"/><rect x="469.60" y="391.65" width="5.50" height="2.55" fill="#fff" stroke="#000" stroke-width="1.25"/><defs><pattern id="bp44" patternUnits="userSpaceOnUse" x="0.00" y="394.20" width="20" height="3.65"><rect width="20" height="3.65" fill="#fff"/><rect width="20" height="2.04" fill="#000"/></pattern></defs><line x1="482.50" y1="389.16" x2="482.50" y2="387.11" stroke="#000" stroke-width="1.2"/><line x1="480.00" y1="387.11" x2="485.00" y2="387.11" stroke="#000" stroke-width="1.3"/><rect x="479.80" y="389.76" width="5.40" height="4.44" fill="url(#bp44)" stroke="#000" stroke-width="1.25"/><line x1="492.45" y1="389.16" x2="492.45" y2="387.11" stroke="#000" stroke-width="1.2"/><line x1="489.95" y1="387.11" x2="494.95" y2="387.11" stroke="#000" stroke-width="1.3"/><rect x="489.80" y="389.76" width="5.30" height="4.44" fill="#c6c6c6" stroke="#000" stroke-width="1.25"/><circle cx="376.80" cy="352.00" r="1.05" fill="#111"/><circle cx="380.50" cy="352.00" r="1.05" fill="#111"/><circle cx="384.20" cy="352.00" r="1.05" fill="#111"/><circle cx="378.65" cy="357.40" r="1.05" fill="#111"/><circle cx="382.35" cy="357.40" r="1.05" fill="#111"/><text x="376.75" y="359.60" font-size="7.0" text-anchor="end" fill="#333" stroke="#333" stroke-width="0.22">(</text><text x="384.25" y="359.60" font-size="7.0" text-anchor="start" fill="#333" stroke="#333" stroke-width="0.22">)</text><circle cx="386.60" cy="348.70" r="1.05" fill="#111"/><circle cx="390.30" cy="348.70" r="1.05" fill="#111"/><circle cx="394.00" cy="348.70" r="1.05" fill="#111"/><circle cx="390.30" cy="354.40" r="1.05" fill="#111"/><text x="388.40" y="356.60" font-size="7.0" text-anchor="end" fill="#333" stroke="#333" stroke-width="0.22">(</text><text x="392.20" y="356.60" font-size="7.0" text-anchor="start" fill="#333" stroke="#333" stroke-width="0.22">)</text><circle cx="429.55" cy="333.30" r="1.05" fill="#111"/><circle cx="433.25" cy="333.30" r="1.05" fill="#111"/><circle cx="431.40" cy="338.70" r="1.05" fill="#111"/><text x="429.50" y="340.90" font-size="7.0" text-anchor="end" fill="#333" stroke="#333" stroke-width="0.22">(</text><text x="433.30" y="340.90" font-size="7.0" text-anchor="start" fill="#333" stroke="#333" stroke-width="0.22">)</text><circle cx="437.80" cy="341.40" r="1.05" fill="#111"/><circle cx="441.50" cy="341.40" r="1.05" fill="#111"/><circle cx="445.20" cy="341.40" r="1.05" fill="#111"/><circle cx="441.50" cy="347.10" r="1.05" fill="#111"/><text x="439.60" y="349.30" font-size="7.0" text-anchor="end" fill="#333" stroke="#333" stroke-width="0.22">(</text><text x="443.40" y="349.30" font-size="7.0" text-anchor="start" fill="#333" stroke="#333" stroke-width="0.22">)</text><text x="334.90" y="355.20" font-size="9.6" text-anchor="middle" fill="#1a1a1a" stroke="#1a1a1a" stroke-width="0.22" transform="rotate(-90 334.90 355.20)">Percentage of cells</text><line x1="357.40" y1="397.30" x2="395.00" y2="397.30" stroke="#333" stroke-width="1.6"/><text x="376.00" y="408.60" font-size="9.8" text-anchor="middle" fill="#1a1a1a" stroke="#1a1a1a" stroke-width="0.22">G1</text><line x1="408.40" y1="397.30" x2="445.80" y2="397.30" stroke="#333" stroke-width="1.6"/><text x="426.80" y="408.60" font-size="9.8" text-anchor="middle" fill="#1a1a1a" stroke="#1a1a1a" stroke-width="0.22">S</text><line x1="460.80" y1="397.30" x2="497.70" y2="397.30" stroke="#333" stroke-width="1.6"/><text x="479.70" y="408.60" font-size="9.8" text-anchor="middle" fill="#1a1a1a" stroke="#1a1a1a" stroke-width="0.22">G2/M</text><text x="356.80" y="321.00" font-size="8.2" text-anchor="start" fill="#1a1a1a" stroke="#1a1a1a" stroke-width="0.22">Bone marrow</text><clipPath id="cf1"><rect x="13.0" y="424.7" width="60.599999999999994" height="61.5"/></clipPath><rect x="13.00" y="424.70" width="60.60" height="61.50" fill="#fff" stroke="#a0a0a0" stroke-width="0.9"/><g clip-path="url(#cf1)"><ellipse cx="27.00" cy="470.00" rx="9.75" ry="11.25" fill="#a4acec" opacity="0.4" filter="url(#bl1)" transform="rotate(0 27.00 470.00)"/><path d="M35.7 481.3h.8v.8h-.8zM19.6 470.2h.8v.8h-.8zM20.1 458.8h.8v.8h-.8zM30.7 462.9h.8v.8h-.8zM16.8 474.2h.8v.8h-.8zM29.2 488.6h.8v.8h-.8zM35.3 471.6h.8v.8h-.8zM33.1 467.1h.8v.8h-.8zM28.5 478.0h.8v.8h-.8zM19.7 473.5h.8v.8h-.8zM28.5 478.5h.8v.8h-.8zM31.5 461.5h.8v.8h-.8zM40.4 469.3h.8v.8h-.8zM25.1 457.9h.8v.8h-.8zM33.5 466.8h.8v.8h-.8zM31.9 459.8h.8v.8h-.8zM24.0 479.8h.8v.8h-.8zM36.7 459.8h.8v.8h-.8zM18.0 469.7h.8v.8h-.8zM29.1 462.3h.8v.8h-.8zM31.0 478.7h.8v.8h-.8zM24.1 458.8h.8v.8h-.8zM21.9 475.9h.8v.8h-.8zM15.3 469.3h.8v.8h-.8zM20.3 469.0h.8v.8h-.8zM37.1 473.3h.8v.8h-.8zM36.0 468.9h.8v.8h-.8zM7.8 469.7h.8v.8h-.8zM28.1 460.4h.8v.8h-.8zM10.4 468.3h.8v.8h-.8zM20.4 465.9h.8v.8h-.8zM26.0 479.8h.8v.8h-.8zM29.6 455.9h.8v.8h-.8zM35.4 461.6h.8v.8h-.8zM30.0 461.2h.8v.8h-.8zM20.4 466.9h.8v.8h-.8zM39.8 475.4h.8v.8h-.8zM19.2 469.7h.8v.8h-.8zM17.8 467.4h.8v.8h-.8zM21.3 464.4h.8v.8h-.8zM31.0 479.3h.8v.8h-.8zM34.8 459.3h.8v.8h-.8zM30.6 456.3h.8v.8h-.8zM26.6 485.0h.8v.8h-.8zM34.3 476.9h.8v.8h-.8zM31.5 478.1h.8v.8h-.8zM25.2 461.7h.8v.8h-.8zM23.7 477.9h.8v.8h-.8zM33.6 471.1h.8v.8h-.8zM38.2 480.6h.8v.8h-.8zM17.2 461.1h.8v.8h-.8zM33.5 479.9h.8v.8h-.8zM32.6 480.3h.8v.8h-.8zM23.3 461.2h.8v.8h-.8zM30.4 490.9h.8v.8h-.8zM29.4 461.0h.8v.8h-.8zM28.6 481.1h.8v.8h-.8zM20.0 476.3h.8v.8h-.8zM22.9 479.9h.8v.8h-.8zM40.5 466.8h.8v.8h-.8zM22.4 484.5h.8v.8h-.8zM21.1 487.2h.8v.8h-.8zM26.7 461.9h.8v.8h-.8zM34.3 451.9h.8v.8h-.8zM39.3 454.5h.8v.8h-.8zM24.7 461.1h.8v.8h-.8zM29.8 481.2h.8v.8h-.8zM34.9 477.0h.8v.8h-.8zM24.7 478.8h.8v.8h-.8zM20.8 484.1h.8v.8h-.8zM38.8 468.9h.8v.8h-.8zM21.1 456.8h.8v.8h-.8zM34.6 462.0h.8v.8h-.8zM7.4 472.2h.8v.8h-.8zM28.0 482.5h.8v.8h-.8zM27.5 459.5h.8v.8h-.8zM33.2 462.1h.8v.8h-.8zM40.5 465.4h.8v.8h-.8zM32.6 477.4h.8v.8h-.8zM39.1 476.9h.8v.8h-.8zM30.0 455.8h.8v.8h-.8zM21.9 479.1h.8v.8h-.8zM28.3 462.6h.8v.8h-.8zM33.7 463.6h.8v.8h-.8zM33.7 466.1h.8v.8h-.8zM25.0 483.5h.8v.8h-.8zM37.5 480.7h.8v.8h-.8zM34.0 469.4h.8v.8h-.8zM27.6 482.9h.8v.8h-.8zM38.9 480.3h.8v.8h-.8zM14.1 484.3h.8v.8h-.8zM26.8 478.9h.8v.8h-.8zM34.9 476.7h.8v.8h-.8zM20.9 465.1h.8v.8h-.8zM42.3 459.3h.8v.8h-.8zM29.0 480.6h.8v.8h-.8zM35.4 468.8h.8v.8h-.8zM23.2 459.4h.8v.8h-.8zM26.5 479.7h.8v.8h-.8zM34.3 469.1h.8v.8h-.8zM21.4 460.9h.8v.8h-.8zM33.3 467.2h.8v.8h-.8zM21.7 483.8h.8v.8h-.8zM22.7 478.4h.8v.8h-.8zM19.0 465.0h.8v.8h-.8zM35.6 475.0h.8v.8h-.8zM24.0 483.4h.8v.8h-.8zM13.5 470.7h.8v.8h-.8zM31.5 477.6h.8v.8h-.8zM30.2 447.7h.8v.8h-.8zM33.4 475.8h.8v.8h-.8zM21.1 485.4h.8v.8h-.8zM31.9 454.0h.8v.8h-.8zM33.0 459.1h.8v.8h-.8zM24.8 458.7h.8v.8h-.8zM39.0 466.8h.8v.8h-.8zM19.0 467.0h.8v.8h-.8zM31.4 463.1h.8v.8h-.8zM22.7 463.6h.8v.8h-.8zM30.2 463.1h.8v.8h-.8zM19.4 476.3h.8v.8h-.8zM19.2 468.4h.8v.8h-.8zM22.7 463.3h.8v.8h-.8zM22.7 458.3h.8v.8h-.8zM27.6 479.1h.8v.8h-.8zM19.6 475.2h.8v.8h-.8zM39.6 460.4h.8v.8h-.8zM25.5 481.1h.8v.8h-.8zM13.2 468.8h.8v.8h-.8zM33.2 481.2h.8v.8h-.8zM22.4 455.8h.8v.8h-.8zM19.7 478.8h.8v.8h-.8zM26.2 459.6h.8v.8h-.8zM35.9 457.0h.8v.8h-.8zM35.5 467.5h.8v.8h-.8zM28.8 479.9h.8v.8h-.8zM22.5 458.7h.8v.8h-.8zM22.3 477.7h.8v.8h-.8zM32.6 480.9h.8v.8h-.8zM45.4 475.6h.8v.8h-.8zM30.4 459.7h.8v.8h-.8zM25.4 487.1h.8v.8h-.8zM29.1 455.2h.8v.8h-.8zM21.4 459.8h.8v.8h-.8zM12.5 476.0h.8v.8h-.8zM33.5 468.6h.8v.8h-.8zM29.3 462.1h.8v.8h-.8zM37.4 482.2h.8v.8h-.8zM21.4 465.3h.8v.8h-.8zM27.1 483.0h.8v.8h-.8zM20.6 462.4h.8v.8h-.8zM25.2 479.5h.8v.8h-.8zM25.7 480.2h.8v.8h-.8zM26.9 481.8h.8v.8h-.8zM30.1 456.3h.8v.8h-.8zM35.4 468.4h.8v.8h-.8zM13.7 470.9h.8v.8h-.8zM28.1 459.9h.8v.8h-.8zM36.5 478.9h.8v.8h-.8zM35.3 478.7h.8v.8h-.8zM10.2 464.3h.8v.8h-.8zM28.3 449.0h.8v.8h-.8zM32.2 477.0h.8v.8h-.8zM20.1 473.0h.8v.8h-.8zM24.7 477.4h.8v.8h-.8zM29.1 458.4h.8v.8h-.8zM17.2 470.5h.8v.8h-.8zM15.6 460.7h.8v.8h-.8zM30.9 461.8h.8v.8h-.8zM34.5 469.3h.8v.8h-.8zM30.5 463.1h.8v.8h-.8zM26.3 446.9h.8v.8h-.8zM20.9 463.4h.8v.8h-.8zM21.5 475.3h.8v.8h-.8zM15.9 478.7h.8v.8h-.8zM17.5 463.6h.8v.8h-.8zM36.0 462.2h.8v.8h-.8zM15.8 470.6h.8v.8h-.8zM20.8 461.3h.8v.8h-.8zM22.3 464.2h.8v.8h-.8zM20.4 462.0h.8v.8h-.8zM37.9 464.8h.8v.8h-.8zM33.6 459.0h.8v.8h-.8zM30.7 460.2h.8v.8h-.8zM23.4 454.7h.8v.8h-.8zM30.9 462.2h.8v.8h-.8zM15.9 469.2h.8v.8h-.8zM10.7 469.2h.8v.8h-.8zM24.5 462.6h.8v.8h-.8zM23.5 460.1h.8v.8h-.8zM38.4 476.7h.8v.8h-.8zM16.0 469.1h.8v.8h-.8zM31.8 479.9h.8v.8h-.8zM24.2 456.0h.8v.8h-.8zM25.9 480.6h.8v.8h-.8zM28.0 479.9h.8v.8h-.8zM32.6 482.2h.8v.8h-.8zM30.0 489.8h.8v.8h-.8zM23.5 455.5h.8v.8h-.8zM41.2 473.2h.8v.8h-.8zM16.6 475.5h.8v.8h-.8zM34.2 468.6h.8v.8h-.8zM36.3 463.5h.8v.8h-.8zM33.9 479.4h.8v.8h-.8zM19.8 480.0h.8v.8h-.8zM27.6 482.4h.8v.8h-.8zM32.3 474.9h.8v.8h-.8zM15.4 460.6h.8v.8h-.8zM23.5 456.3h.8v.8h-.8zM36.1 467.6h.8v.8h-.8zM19.9 482.4h.8v.8h-.8zM34.7 478.1h.8v.8h-.8zM32.6 474.4h.8v.8h-.8zM20.4 470.2h.8v.8h-.8zM30.2 462.1h.8v.8h-.8zM14.7 460.5h.8v.8h-.8zM30.9 455.3h.8v.8h-.8zM24.2 476.9h.8v.8h-.8zM13.7 461.6h.8v.8h-.8zM15.7 479.4h.8v.8h-.8zM33.1 479.1h.8v.8h-.8zM33.2 472.7h.8v.8h-.8zM32.2 476.3h.8v.8h-.8zM34.9 455.7h.8v.8h-.8zM19.7 460.2h.8v.8h-.8zM21.9 456.1h.8v.8h-.8zM23.5 463.4h.8v.8h-.8zM14.9 454.9h.8v.8h-.8zM41.7 476.7h.8v.8h-.8zM20.2 463.9h.8v.8h-.8zM22.8 476.4h.8v.8h-.8zM31.4 485.3h.8v.8h-.8zM18.1 475.3h.8v.8h-.8zM24.5 457.5h.8v.8h-.8zM25.0 457.2h.8v.8h-.8zM26.8 491.4h.8v.8h-.8zM35.8 484.2h.8v.8h-.8zM35.1 457.9h.8v.8h-.8zM29.9 461.9h.8v.8h-.8zM13.6 486.4h.8v.8h-.8zM35.1 472.4h.8v.8h-.8zM18.6 477.5h.8v.8h-.8zM33.5 471.6h.8v.8h-.8zM35.2 480.1h.8v.8h-.8zM31.7 455.6h.8v.8h-.8zM24.6 477.7h.8v.8h-.8zM27.2 480.0h.8v.8h-.8zM30.5 450.9h.8v.8h-.8zM22.8 463.0h.8v.8h-.8zM37.7 469.1h.8v.8h-.8zM32.3 459.6h.8v.8h-.8zM13.0 466.3h.8v.8h-.8zM30.6 476.3h.8v.8h-.8zM22.0 478.4h.8v.8h-.8zM39.0 473.9h.8v.8h-.8zM21.9 481.5h.8v.8h-.8zM18.7 469.9h.8v.8h-.8zM35.9 483.9h.8v.8h-.8zM44.1 479.1h.8v.8h-.8zM12.2 472.2h.8v.8h-.8zM43.1 460.9h.8v.8h-.8zM33.2 453.7h.8v.8h-.8zM37.7 463.4h.8v.8h-.8zM32.5 477.1h.8v.8h-.8zM8.2 458.8h.8v.8h-.8zM29.2 458.1h.8v.8h-.8zM36.1 466.0h.8v.8h-.8zM20.8 475.0h.8v.8h-.8zM35.3 468.8h.8v.8h-.8zM23.7 460.7h.8v.8h-.8zM17.7 476.7h.8v.8h-.8zM21.4 463.0h.8v.8h-.8zM32.7 461.0h.8v.8h-.8zM33.2 483.8h.8v.8h-.8zM33.1 460.0h.8v.8h-.8zM24.0 486.1h.8v.8h-.8zM15.9 461.0h.8v.8h-.8zM32.6 464.9h.8v.8h-.8zM23.2 461.3h.8v.8h-.8zM38.4 465.3h.8v.8h-.8zM25.1 455.9h.8v.8h-.8zM30.4 482.3h.8v.8h-.8zM28.0 460.7h.8v.8h-.8zM20.1 470.6h.8v.8h-.8zM35.9 460.6h.8v.8h-.8zM31.4 463.0h.8v.8h-.8zM35.5 461.6h.8v.8h-.8zM35.3 468.2h.8v.8h-.8zM19.3 465.7h.8v.8h-.8z" fill="#7d89e0" opacity="0.75"/><path d="M27.4 464.0h.8v.8h-.8zM28.3 471.0h.8v.8h-.8zM27.0 469.5h.8v.8h-.8zM28.4 468.9h.8v.8h-.8zM31.7 471.0h.8v.8h-.8zM27.5 475.6h.8v.8h-.8zM26.7 471.6h.8v.8h-.8zM24.3 466.1h.8v.8h-.8zM31.4 474.8h.8v.8h-.8zM31.9 471.3h.8v.8h-.8zM25.3 470.1h.8v.8h-.8zM23.8 473.0h.8v.8h-.8zM30.1 465.6h.8v.8h-.8zM27.7 469.8h.8v.8h-.8zM22.9 467.8h.8v.8h-.8zM23.1 475.6h.8v.8h-.8zM31.8 471.0h.8v.8h-.8zM25.7 467.1h.8v.8h-.8zM28.2 470.1h.8v.8h-.8zM27.2 464.1h.8v.8h-.8zM25.6 472.5h.8v.8h-.8zM29.7 475.4h.8v.8h-.8zM23.2 472.4h.8v.8h-.8zM22.4 469.7h.8v.8h-.8zM28.3 470.2h.8v.8h-.8zM32.3 472.4h.8v.8h-.8zM27.0 471.0h.8v.8h-.8zM28.4 468.5h.8v.8h-.8zM23.3 468.0h.8v.8h-.8zM22.5 475.0h.8v.8h-.8zM22.9 472.1h.8v.8h-.8zM28.0 469.1h.8v.8h-.8zM28.8 476.6h.8v.8h-.8zM24.5 474.6h.8v.8h-.8zM32.7 467.0h.8v.8h-.8zM30.6 472.4h.8v.8h-.8zM31.0 467.1h.8v.8h-.8zM30.5 463.7h.8v.8h-.8zM24.0 475.5h.8v.8h-.8zM28.5 471.3h.8v.8h-.8zM22.7 467.6h.8v.8h-.8zM31.6 473.0h.8v.8h-.8zM27.5 468.9h.8v.8h-.8zM25.6 467.0h.8v.8h-.8zM31.8 471.4h.8v.8h-.8zM30.1 473.1h.8v.8h-.8zM31.7 466.5h.8v.8h-.8zM28.0 470.3h.8v.8h-.8zM32.6 469.3h.8v.8h-.8zM26.1 472.6h.8v.8h-.8zM30.2 469.3h.8v.8h-.8zM25.2 475.5h.8v.8h-.8zM31.8 473.1h.8v.8h-.8zM24.9 476.5h.8v.8h-.8zM31.5 465.9h.8v.8h-.8zM27.0 471.6h.8v.8h-.8zM27.1 473.0h.8v.8h-.8zM24.5 469.1h.8v.8h-.8zM27.8 467.0h.8v.8h-.8zM31.0 468.5h.8v.8h-.8zM29.6 463.8h.8v.8h-.8zM31.9 466.8h.8v.8h-.8zM29.9 467.3h.8v.8h-.8zM28.5 468.9h.8v.8h-.8zM25.4 465.5h.8v.8h-.8zM23.4 471.9h.8v.8h-.8zM27.0 472.8h.8v.8h-.8zM22.1 474.3h.8v.8h-.8zM26.9 471.7h.8v.8h-.8zM24.8 468.8h.8v.8h-.8zM24.7 473.4h.8v.8h-.8zM30.7 474.3h.8v.8h-.8zM27.1 471.0h.8v.8h-.8zM22.2 470.7h.8v.8h-.8zM29.5 470.9h.8v.8h-.8zM31.3 465.5h.8v.8h-.8zM29.3 475.3h.8v.8h-.8zM27.1 467.5h.8v.8h-.8zM30.6 468.9h.8v.8h-.8zM30.1 476.0h.8v.8h-.8zM30.3 469.0h.8v.8h-.8zM31.2 474.4h.8v.8h-.8zM31.4 470.1h.8v.8h-.8zM25.7 470.6h.8v.8h-.8zM29.3 465.4h.8v.8h-.8zM22.9 474.3h.8v.8h-.8zM21.8 467.0h.8v.8h-.8zM20.7 469.9h.8v.8h-.8zM26.7 469.9h.8v.8h-.8zM23.7 473.7h.8v.8h-.8zM32.5 470.2h.8v.8h-.8zM25.6 474.5h.8v.8h-.8zM26.6 470.5h.8v.8h-.8zM23.9 475.0h.8v.8h-.8zM23.3 468.8h.8v.8h-.8zM25.0 470.5h.8v.8h-.8zM21.4 473.4h.8v.8h-.8zM26.3 468.7h.8v.8h-.8zM28.2 475.1h.8v.8h-.8zM31.0 465.9h.8v.8h-.8zM20.6 468.9h.8v.8h-.8zM31.0 464.8h.8v.8h-.8zM22.8 465.3h.8v.8h-.8zM28.0 465.1h.8v.8h-.8zM24.1 466.7h.8v.8h-.8zM22.9 466.2h.8v.8h-.8zM23.4 469.3h.8v.8h-.8zM25.9 463.5h.8v.8h-.8zM23.9 470.2h.8v.8h-.8zM27.9 472.4h.8v.8h-.8zM27.4 472.0h.8v.8h-.8zM29.4 474.9h.8v.8h-.8zM22.9 467.4h.8v.8h-.8zM25.7 463.2h.8v.8h-.8zM29.1 469.9h.8v.8h-.8zM27.2 465.5h.8v.8h-.8zM28.0 469.3h.8v.8h-.8zM29.3 470.6h.8v.8h-.8zM28.1 468.1h.8v.8h-.8zM26.5 473.9h.8v.8h-.8zM28.3 471.0h.8v.8h-.8zM23.8 465.5h.8v.8h-.8zM21.7 466.1h.8v.8h-.8zM24.6 469.6h.8v.8h-.8zM29.8 471.1h.8v.8h-.8zM23.7 471.4h.8v.8h-.8zM28.1 468.8h.8v.8h-.8zM24.1 469.5h.8v.8h-.8zM27.9 466.9h.8v.8h-.8zM26.4 463.3h.8v.8h-.8zM24.0 476.2h.8v.8h-.8zM24.3 468.1h.8v.8h-.8zM29.8 464.4h.8v.8h-.8zM24.0 469.5h.8v.8h-.8zM23.6 464.5h.8v.8h-.8zM25.1 476.9h.8v.8h-.8zM24.2 476.2h.8v.8h-.8zM26.9 462.6h.8v.8h-.8zM28.9 473.8h.8v.8h-.8zM30.6 467.2h.8v.8h-.8zM29.9 471.1h.8v.8h-.8zM21.9 468.3h.8v.8h-.8zM31.1 473.8h.8v.8h-.8zM29.3 471.4h.8v.8h-.8zM33.4 471.0h.8v.8h-.8zM32.2 469.9h.8v.8h-.8zM25.3 468.9h.8v.8h-.8zM29.1 476.1h.8v.8h-.8zM26.7 469.2h.8v.8h-.8zM31.2 474.5h.8v.8h-.8z" fill="#3f5cd0" opacity="0.85"/><ellipse cx="27.00" cy="470.00" rx="6.24" ry="7.20" fill="#4a66d4" opacity="0.75" filter="url(#bl05)" transform="rotate(0 27.00 470.00)"/><ellipse cx="27.00" cy="470.00" rx="4.68" ry="5.40" fill="#2a9a8c" opacity="0.85" filter="url(#bl05)" transform="rotate(0 27.00 470.00)"/><ellipse cx="27.00" cy="470.00" rx="2.60" ry="3.00" fill="#3cb858" opacity="0.9" filter="url(#bl05)" transform="rotate(0 27.00 470.00)"/><ellipse cx="27.50" cy="476.00" rx="3.75" ry="3.00" fill="#a4acec" opacity="0.4" filter="url(#bl1)" transform="rotate(0 27.50 476.00)"/><path d="M24.3 475.6h.8v.8h-.8zM30.2 471.3h.8v.8h-.8zM24.4 477.6h.8v.8h-.8zM24.0 475.9h.8v.8h-.8zM20.7 474.2h.8v.8h-.8zM29.4 478.5h.8v.8h-.8zM31.7 475.9h.8v.8h-.8zM22.5 478.8h.8v.8h-.8zM30.6 474.1h.8v.8h-.8zM32.3 473.2h.8v.8h-.8zM29.0 474.3h.8v.8h-.8zM23.0 476.8h.8v.8h-.8zM24.5 478.5h.8v.8h-.8zM25.9 477.7h.8v.8h-.8zM27.2 480.1h.8v.8h-.8zM23.3 475.7h.8v.8h-.8zM26.5 473.9h.8v.8h-.8zM28.0 473.6h.8v.8h-.8zM26.8 473.6h.8v.8h-.8zM31.6 475.4h.8v.8h-.8zM21.1 476.6h.8v.8h-.8zM24.1 478.0h.8v.8h-.8zM20.9 471.6h.8v.8h-.8zM24.4 475.2h.8v.8h-.8zM23.9 480.1h.8v.8h-.8zM24.9 475.3h.8v.8h-.8zM22.9 476.5h.8v.8h-.8zM30.4 473.2h.8v.8h-.8zM24.5 478.0h.8v.8h-.8zM26.7 478.4h.8v.8h-.8zM23.2 479.0h.8v.8h-.8zM28.5 478.4h.8v.8h-.8zM22.8 478.2h.8v.8h-.8zM22.0 476.2h.8v.8h-.8z" fill="#7d89e0" opacity="0.75"/><path d="M26.7 477.6h.8v.8h-.8zM25.2 475.2h.8v.8h-.8zM25.2 476.2h.8v.8h-.8zM26.3 476.3h.8v.8h-.8zM29.1 476.1h.8v.8h-.8zM25.7 475.1h.8v.8h-.8zM29.5 476.0h.8v.8h-.8zM28.6 476.6h.8v.8h-.8zM29.3 475.7h.8v.8h-.8zM29.5 476.3h.8v.8h-.8zM28.1 475.2h.8v.8h-.8zM28.7 475.8h.8v.8h-.8zM26.9 475.1h.8v.8h-.8zM27.3 477.7h.8v.8h-.8zM27.0 475.2h.8v.8h-.8zM28.6 475.4h.8v.8h-.8zM28.2 475.2h.8v.8h-.8zM29.6 475.9h.8v.8h-.8zM25.8 475.6h.8v.8h-.8zM27.6 474.1h.8v.8h-.8z" fill="#3f5cd0" opacity="0.85"/><ellipse cx="27.50" cy="476.00" rx="2.40" ry="1.92" fill="#4a66d4" opacity="0.75" filter="url(#bl05)" transform="rotate(0 27.50 476.00)"/><ellipse cx="27.50" cy="476.00" rx="1.40" ry="1.12" fill="#2a9a8a" opacity="0.9" filter="url(#bl05)" transform="rotate(0 27.50 476.00)"/><ellipse cx="54.00" cy="438.00" rx="6.75" ry="2.25" fill="#a4acec" opacity="0.25" filter="url(#bl1)" transform="rotate(-40 54.00 438.00)"/><path d="M53.5 438.4h.8v.8h-.8zM59.1 433.5h.8v.8h-.8zM61.2 429.5h.8v.8h-.8zM54.8 439.9h.8v.8h-.8zM49.0 443.5h.8v.8h-.8zM54.8 436.1h.8v.8h-.8zM54.7 440.6h.8v.8h-.8zM52.7 439.7h.8v.8h-.8zM56.8 438.1h.8v.8h-.8zM45.1 442.5h.8v.8h-.8zM48.9 441.7h.8v.8h-.8zM57.0 437.1h.8v.8h-.8zM54.5 440.7h.8v.8h-.8zM54.4 439.0h.8v.8h-.8zM52.1 441.3h.8v.8h-.8zM52.6 441.5h.8v.8h-.8zM59.0 437.6h.8v.8h-.8zM51.3 437.9h.8v.8h-.8zM57.3 435.9h.8v.8h-.8zM50.8 438.0h.8v.8h-.8zM54.9 433.3h.8v.8h-.8zM53.4 440.7h.8v.8h-.8zM53.6 439.3h.8v.8h-.8zM56.4 437.2h.8v.8h-.8zM58.5 435.6h.8v.8h-.8zM51.4 437.7h.8v.8h-.8zM52.3 438.1h.8v.8h-.8zM56.7 438.3h.8v.8h-.8zM56.1 434.8h.8v.8h-.8zM54.7 437.4h.8v.8h-.8zM53.6 441.0h.8v.8h-.8z" fill="#7d89e0" opacity="0.75"/><ellipse cx="47.50" cy="444.00" rx="4.50" ry="3.75" fill="#a4acec" opacity="0.4" filter="url(#bl1)" transform="rotate(-35 47.50 444.00)"/><path d="M40.5 440.6h.8v.8h-.8zM47.3 447.7h.8v.8h-.8zM50.0 447.7h.8v.8h-.8zM52.3 443.1h.8v.8h-.8zM44.8 450.3h.8v.8h-.8zM46.7 440.3h.8v.8h-.8zM47.7 440.2h.8v.8h-.8zM48.2 441.2h.8v.8h-.8zM44.1 442.4h.8v.8h-.8zM43.9 445.8h.8v.8h-.8zM44.7 445.3h.8v.8h-.8zM49.1 440.2h.8v.8h-.8zM49.6 445.8h.8v.8h-.8zM48.9 446.9h.8v.8h-.8zM45.2 446.2h.8v.8h-.8zM50.3 443.9h.8v.8h-.8zM44.1 443.1h.8v.8h-.8zM42.0 446.2h.8v.8h-.8zM44.6 441.3h.8v.8h-.8zM47.8 438.6h.8v.8h-.8zM47.4 449.8h.8v.8h-.8zM52.6 445.6h.8v.8h-.8zM46.6 447.0h.8v.8h-.8zM51.4 444.2h.8v.8h-.8zM49.2 447.5h.8v.8h-.8zM46.6 440.5h.8v.8h-.8zM54.0 439.9h.8v.8h-.8zM49.7 440.3h.8v.8h-.8zM46.4 447.6h.8v.8h-.8zM48.5 440.9h.8v.8h-.8zM46.1 440.7h.8v.8h-.8zM43.9 450.0h.8v.8h-.8zM45.7 447.6h.8v.8h-.8zM50.8 442.9h.8v.8h-.8zM51.9 442.1h.8v.8h-.8zM50.8 450.7h.8v.8h-.8zM49.5 440.1h.8v.8h-.8zM46.4 439.2h.8v.8h-.8zM50.4 447.8h.8v.8h-.8zM49.6 446.6h.8v.8h-.8zM45.2 438.7h.8v.8h-.8zM48.3 449.5h.8v.8h-.8zM47.2 448.1h.8v.8h-.8zM51.8 440.8h.8v.8h-.8zM50.6 443.0h.8v.8h-.8zM47.1 441.1h.8v.8h-.8zM44.4 441.9h.8v.8h-.8zM42.2 441.8h.8v.8h-.8zM51.1 445.5h.8v.8h-.8zM41.9 439.6h.8v.8h-.8zM53.3 440.8h.8v.8h-.8z" fill="#7d89e0" opacity="0.75"/><path d="M49.6 443.7h.8v.8h-.8zM46.9 444.3h.8v.8h-.8zM47.5 445.5h.8v.8h-.8zM46.8 443.7h.8v.8h-.8zM50.1 443.9h.8v.8h-.8zM47.9 444.7h.8v.8h-.8zM49.0 443.3h.8v.8h-.8zM45.4 443.6h.8v.8h-.8zM45.5 443.1h.8v.8h-.8zM45.1 445.4h.8v.8h-.8zM49.3 441.8h.8v.8h-.8zM46.5 444.4h.8v.8h-.8zM45.9 445.0h.8v.8h-.8zM45.3 444.8h.8v.8h-.8zM49.9 442.8h.8v.8h-.8zM46.1 443.3h.8v.8h-.8zM48.3 442.5h.8v.8h-.8zM48.1 442.1h.8v.8h-.8zM48.3 443.5h.8v.8h-.8zM49.1 444.0h.8v.8h-.8zM45.0 445.6h.8v.8h-.8zM47.2 445.6h.8v.8h-.8zM46.9 446.3h.8v.8h-.8zM46.6 444.5h.8v.8h-.8zM45.3 445.8h.8v.8h-.8z" fill="#3f5cd0" opacity="0.85"/><ellipse cx="47.50" cy="444.00" rx="2.88" ry="2.40" fill="#4a66d4" opacity="0.75" filter="url(#bl05)" transform="rotate(-35 47.50 444.00)"/><ellipse cx="47.50" cy="444.00" rx="1.68" ry="1.40" fill="#2a9a8a" opacity="0.9" filter="url(#bl05)" transform="rotate(-35 47.50 444.00)"/><ellipse cx="49.50" cy="482.50" rx="4.50" ry="3.38" fill="#a4acec" opacity="0.4" filter="url(#bl1)" transform="rotate(0 49.50 482.50)"/><path d="M45.1 485.5h.8v.8h-.8zM51.8 485.8h.8v.8h-.8zM54.0 481.9h.8v.8h-.8zM50.2 480.0h.8v.8h-.8zM45.9 483.0h.8v.8h-.8zM50.2 478.8h.8v.8h-.8zM50.7 484.9h.8v.8h-.8zM45.6 481.7h.8v.8h-.8zM54.8 480.5h.8v.8h-.8zM51.3 484.3h.8v.8h-.8zM50.0 479.0h.8v.8h-.8zM54.2 487.7h.8v.8h-.8zM53.0 477.5h.8v.8h-.8zM52.6 482.8h.8v.8h-.8zM46.1 479.7h.8v.8h-.8zM52.8 481.0h.8v.8h-.8zM52.4 476.2h.8v.8h-.8zM53.3 480.6h.8v.8h-.8zM50.6 477.1h.8v.8h-.8zM46.3 481.1h.8v.8h-.8zM44.5 484.3h.8v.8h-.8zM54.1 481.0h.8v.8h-.8zM48.0 479.1h.8v.8h-.8zM47.3 480.1h.8v.8h-.8zM49.6 486.6h.8v.8h-.8zM52.8 484.8h.8v.8h-.8zM46.5 484.5h.8v.8h-.8zM47.3 480.4h.8v.8h-.8zM57.3 482.9h.8v.8h-.8zM45.9 484.1h.8v.8h-.8zM54.4 482.2h.8v.8h-.8zM47.9 485.1h.8v.8h-.8zM46.0 483.4h.8v.8h-.8zM47.0 483.9h.8v.8h-.8zM51.3 486.6h.8v.8h-.8zM44.0 480.7h.8v.8h-.8zM50.3 479.3h.8v.8h-.8zM51.4 486.5h.8v.8h-.8zM43.8 484.5h.8v.8h-.8zM46.0 481.1h.8v.8h-.8zM49.4 480.2h.8v.8h-.8zM47.8 479.6h.8v.8h-.8zM52.2 484.6h.8v.8h-.8zM44.7 476.6h.8v.8h-.8zM45.8 486.0h.8v.8h-.8zM50.3 486.1h.8v.8h-.8zM47.3 484.9h.8v.8h-.8z" fill="#7d89e0" opacity="0.75"/><path d="M51.8 483.7h.8v.8h-.8zM50.1 482.8h.8v.8h-.8zM51.3 483.2h.8v.8h-.8zM50.3 480.7h.8v.8h-.8zM49.3 482.7h.8v.8h-.8zM48.2 483.9h.8v.8h-.8zM51.4 482.1h.8v.8h-.8zM51.8 482.3h.8v.8h-.8zM48.5 484.2h.8v.8h-.8zM47.9 483.2h.8v.8h-.8zM48.4 483.5h.8v.8h-.8zM49.2 480.4h.8v.8h-.8zM51.0 483.9h.8v.8h-.8zM48.0 484.0h.8v.8h-.8zM47.8 482.8h.8v.8h-.8zM51.1 483.8h.8v.8h-.8zM47.5 482.1h.8v.8h-.8zM47.9 483.5h.8v.8h-.8zM48.6 481.8h.8v.8h-.8zM49.7 481.7h.8v.8h-.8zM51.6 483.3h.8v.8h-.8zM47.6 483.8h.8v.8h-.8z" fill="#3f5cd0" opacity="0.85"/><ellipse cx="49.50" cy="482.50" rx="2.88" ry="2.16" fill="#4a66d4" opacity="0.75" filter="url(#bl05)" transform="rotate(0 49.50 482.50)"/><ellipse cx="49.50" cy="482.50" rx="1.68" ry="1.26" fill="#2a9a8a" opacity="0.9" filter="url(#bl05)" transform="rotate(0 49.50 482.50)"/><path d="M55.3 471.2h.8v.8h-.8zM52.6 471.7h.8v.8h-.8zM51.1 476.0h.8v.8h-.8zM49.6 460.3h.8v.8h-.8zM52.0 460.2h.8v.8h-.8zM55.6 469.2h.8v.8h-.8zM50.5 475.5h.8v.8h-.8zM54.8 462.6h.8v.8h-.8zM55.3 472.4h.8v.8h-.8zM51.0 461.5h.8v.8h-.8zM52.6 472.2h.8v.8h-.8zM55.3 474.4h.8v.8h-.8zM51.0 453.9h.8v.8h-.8zM48.5 474.4h.8v.8h-.8zM54.2 472.4h.8v.8h-.8zM52.0 465.5h.8v.8h-.8zM53.0 467.9h.8v.8h-.8zM52.2 458.9h.8v.8h-.8zM49.1 466.0h.8v.8h-.8zM51.7 473.8h.8v.8h-.8zM49.8 452.6h.8v.8h-.8zM47.9 464.8h.8v.8h-.8zM55.5 462.9h.8v.8h-.8zM50.5 467.4h.8v.8h-.8zM55.2 471.8h.8v.8h-.8zM53.8 470.8h.8v.8h-.8zM51.4 465.5h.8v.8h-.8zM52.9 476.3h.8v.8h-.8zM47.4 461.6h.8v.8h-.8zM52.8 463.5h.8v.8h-.8zM51.7 463.3h.8v.8h-.8zM50.0 468.1h.8v.8h-.8zM54.7 462.8h.8v.8h-.8zM52.9 471.9h.8v.8h-.8zM50.6 464.4h.8v.8h-.8zM49.3 474.9h.8v.8h-.8zM55.6 463.7h.8v.8h-.8zM56.2 470.3h.8v.8h-.8zM48.2 468.1h.8v.8h-.8zM52.5 468.2h.8v.8h-.8zM53.4 462.2h.8v.8h-.8zM54.4 467.0h.8v.8h-.8zM55.9 464.3h.8v.8h-.8zM46.8 476.9h.8v.8h-.8zM53.2 453.5h.8v.8h-.8zM50.7 460.0h.8v.8h-.8zM53.9 461.1h.8v.8h-.8zM54.4 461.8h.8v.8h-.8zM54.0 461.2h.8v.8h-.8zM49.5 468.7h.8v.8h-.8zM51.5 468.2h.8v.8h-.8z" fill="#7d89e0" opacity="0.75"/><rect x="48.4" y="475.6" width="0.7" height="0.7" fill="#7a86dc" opacity="0.5"/><rect x="30.7" y="476.4" width="0.7" height="0.7" fill="#7a86dc" opacity="0.5"/><rect x="59.6" y="471.3" width="0.7" height="0.7" fill="#7a86dc" opacity="0.5"/><rect x="38.5" y="484.1" width="0.7" height="0.7" fill="#7a86dc" opacity="0.5"/><rect x="59.8" y="459.8" width="0.7" height="0.7" fill="#7a86dc" opacity="0.5"/><rect x="21.4" y="459.7" width="0.7" height="0.7" fill="#7a86dc" opacity="0.5"/><rect x="15.8" y="478.6" width="0.7" height="0.7" fill="#7a86dc" opacity="0.5"/><rect x="34.1" y="447.9" width="0.7" height="0.7" fill="#7a86dc" opacity="0.5"/><rect x="46.2" y="463.4" width="0.7" height="0.7" fill="#7a86dc" opacity="0.5"/><rect x="48.0" y="454.6" width="0.7" height="0.7" fill="#7a86dc" opacity="0.5"/><rect x="50.9" y="475.4" width="0.7" height="0.7" fill="#7a86dc" opacity="0.5"/><rect x="40.3" y="455.5" width="0.7" height="0.7" fill="#7a86dc" opacity="0.5"/></g><rect x="31.20" y="438.60" width="12.10" height="12.10" fill="none" stroke="#8a8a8a" stroke-width="0.8"/><rect x="43.30" y="430.80" width="19.00" height="55.40" fill="none" stroke="#8a8a8a" stroke-width="0.8"/><text x="30.00" y="447.75" font-size="8.6" text-anchor="end" fill="#222" stroke="#222" stroke-width="0.22">E1</text><path d="M63.40,457.70 L71.00,457.70 L71.00,455.80 L76.00,459.30 L71.00,462.80 L71.00,460.90 L63.40,460.90 Z" fill="#fff" stroke="#111" stroke-width="0.9"/><clipPath id="cf2"><rect x="76.0" y="424.2" width="60.19999999999999" height="61.60000000000002"/></clipPath><rect x="76.00" y="424.20" width="60.20" height="61.60" fill="#fff" stroke="#a0a0a0" stroke-width="0.9"/><g clip-path="url(#cf2)"><ellipse cx="78.00" cy="445.00" rx="1.88" ry="3.75" fill="#a4acec" opacity="0.25" filter="url(#bl1)" transform="rotate(20 78.00 445.00)"/><path d="M81.4 444.4h.8v.8h-.8zM78.4 445.5h.8v.8h-.8zM80.3 441.9h.8v.8h-.8zM78.2 443.0h.8v.8h-.8zM77.4 442.5h.8v.8h-.8zM77.6 444.1h.8v.8h-.8zM76.5 445.6h.8v.8h-.8zM80.2 436.9h.8v.8h-.8zM79.8 444.6h.8v.8h-.8zM76.9 445.3h.8v.8h-.8zM78.2 445.2h.8v.8h-.8zM76.8 445.1h.8v.8h-.8zM74.8 447.8h.8v.8h-.8zM76.6 443.9h.8v.8h-.8zM77.8 445.5h.8v.8h-.8zM77.3 446.1h.8v.8h-.8z" fill="#7d89e0" opacity="0.75"/><ellipse cx="101.50" cy="443.00" rx="3.75" ry="2.25" fill="#a4acec" opacity="0.4" filter="url(#bl1)" transform="rotate(-15 101.50 443.00)"/><path d="M92.3 445.1h.8v.8h-.8zM104.6 440.4h.8v.8h-.8zM100.1 439.9h.8v.8h-.8zM101.1 440.3h.8v.8h-.8zM98.1 447.5h.8v.8h-.8zM101.0 440.6h.8v.8h-.8zM98.6 444.2h.8v.8h-.8zM95.9 444.7h.8v.8h-.8zM96.8 444.3h.8v.8h-.8zM99.0 446.3h.8v.8h-.8zM103.5 441.4h.8v.8h-.8zM96.0 443.0h.8v.8h-.8zM100.6 441.4h.8v.8h-.8zM105.1 441.4h.8v.8h-.8zM98.5 443.8h.8v.8h-.8zM99.1 441.9h.8v.8h-.8zM95.6 444.3h.8v.8h-.8zM102.6 440.3h.8v.8h-.8zM103.1 445.8h.8v.8h-.8zM104.2 443.5h.8v.8h-.8zM103.6 445.7h.8v.8h-.8zM98.3 445.1h.8v.8h-.8zM103.8 444.5h.8v.8h-.8zM107.4 443.4h.8v.8h-.8zM105.6 442.3h.8v.8h-.8zM103.6 444.7h.8v.8h-.8z" fill="#7d89e0" opacity="0.75"/><path d="M100.5 442.3h.8v.8h-.8zM102.9 442.4h.8v.8h-.8zM102.2 444.2h.8v.8h-.8zM100.8 442.3h.8v.8h-.8zM103.0 441.9h.8v.8h-.8zM103.2 441.8h.8v.8h-.8zM101.1 444.1h.8v.8h-.8zM100.7 442.8h.8v.8h-.8zM102.7 442.1h.8v.8h-.8zM101.3 442.5h.8v.8h-.8zM100.1 442.3h.8v.8h-.8zM102.4 441.8h.8v.8h-.8zM103.9 442.7h.8v.8h-.8zM103.5 442.6h.8v.8h-.8zM101.9 442.0h.8v.8h-.8zM101.0 443.4h.8v.8h-.8zM102.9 442.6h.8v.8h-.8z" fill="#3f5cd0" opacity="0.85"/><ellipse cx="101.50" cy="443.00" rx="2.40" ry="1.44" fill="#4a66d4" opacity="0.75" filter="url(#bl05)" transform="rotate(-15 101.50 443.00)"/><ellipse cx="118.00" cy="440.00" rx="11.25" ry="1.88" fill="#a4acec" opacity="0.25" filter="url(#bl1)" transform="rotate(-12 118.00 440.00)"/><path d="M124.9 438.8h.8v.8h-.8zM108.3 440.6h.8v.8h-.8zM123.4 439.6h.8v.8h-.8zM126.2 438.5h.8v.8h-.8zM118.8 437.7h.8v.8h-.8zM128.2 436.5h.8v.8h-.8zM125.4 436.8h.8v.8h-.8zM112.7 441.3h.8v.8h-.8zM114.3 439.8h.8v.8h-.8zM124.8 439.4h.8v.8h-.8zM120.7 438.9h.8v.8h-.8zM111.3 440.7h.8v.8h-.8zM113.8 440.8h.8v.8h-.8zM123.7 438.5h.8v.8h-.8zM111.6 440.5h.8v.8h-.8zM127.7 438.1h.8v.8h-.8zM119.7 440.0h.8v.8h-.8zM122.5 439.2h.8v.8h-.8zM127.1 439.1h.8v.8h-.8zM96.1 444.5h.8v.8h-.8zM140.2 433.6h.8v.8h-.8zM119.2 441.2h.8v.8h-.8zM118.3 441.7h.8v.8h-.8zM107.9 440.5h.8v.8h-.8zM116.3 439.4h.8v.8h-.8zM109.9 442.5h.8v.8h-.8zM120.1 439.6h.8v.8h-.8zM115.0 441.0h.8v.8h-.8zM116.9 439.3h.8v.8h-.8zM122.0 439.6h.8v.8h-.8zM118.8 440.8h.8v.8h-.8zM109.5 441.6h.8v.8h-.8zM114.4 442.5h.8v.8h-.8zM122.5 441.9h.8v.8h-.8zM129.9 437.0h.8v.8h-.8zM109.8 442.4h.8v.8h-.8zM115.8 440.3h.8v.8h-.8zM110.1 442.5h.8v.8h-.8zM119.5 440.2h.8v.8h-.8zM120.1 438.3h.8v.8h-.8zM100.8 443.3h.8v.8h-.8z" fill="#7d89e0" opacity="0.75"/><ellipse cx="90.20" cy="481.50" rx="6.75" ry="3.75" fill="#a4acec" opacity="0.4" filter="url(#bl1)" transform="rotate(0 90.20 481.50)"/><path d="M94.7 481.2h.8v.8h-.8zM97.3 482.0h.8v.8h-.8zM94.0 478.2h.8v.8h-.8zM95.3 481.8h.8v.8h-.8zM85.6 483.1h.8v.8h-.8zM91.8 484.8h.8v.8h-.8zM82.6 485.9h.8v.8h-.8zM97.2 483.5h.8v.8h-.8zM92.4 484.7h.8v.8h-.8zM86.1 483.3h.8v.8h-.8zM90.3 478.9h.8v.8h-.8zM98.2 484.0h.8v.8h-.8zM82.7 476.4h.8v.8h-.8zM85.8 477.7h.8v.8h-.8zM89.3 478.5h.8v.8h-.8zM87.0 483.7h.8v.8h-.8zM84.9 481.0h.8v.8h-.8zM98.3 480.2h.8v.8h-.8zM98.3 479.5h.8v.8h-.8zM83.9 483.2h.8v.8h-.8zM95.6 479.8h.8v.8h-.8zM80.1 488.6h.8v.8h-.8zM93.1 483.6h.8v.8h-.8zM101.3 476.8h.8v.8h-.8zM86.8 478.0h.8v.8h-.8zM84.9 482.7h.8v.8h-.8zM94.7 483.6h.8v.8h-.8zM97.7 480.1h.8v.8h-.8zM94.8 483.3h.8v.8h-.8zM94.3 479.7h.8v.8h-.8zM88.8 479.0h.8v.8h-.8zM98.4 481.4h.8v.8h-.8zM82.2 478.5h.8v.8h-.8zM92.6 484.3h.8v.8h-.8zM85.5 481.8h.8v.8h-.8zM87.5 475.6h.8v.8h-.8zM88.7 478.7h.8v.8h-.8zM90.0 477.7h.8v.8h-.8zM90.9 476.4h.8v.8h-.8zM91.2 485.1h.8v.8h-.8zM84.5 483.7h.8v.8h-.8zM96.8 481.0h.8v.8h-.8zM95.4 481.7h.8v.8h-.8zM87.9 476.3h.8v.8h-.8zM85.1 477.6h.8v.8h-.8zM101.3 482.2h.8v.8h-.8zM89.4 478.0h.8v.8h-.8zM98.3 478.5h.8v.8h-.8zM97.1 484.3h.8v.8h-.8zM90.0 478.0h.8v.8h-.8zM93.2 485.9h.8v.8h-.8zM94.4 484.2h.8v.8h-.8zM85.4 480.3h.8v.8h-.8zM93.6 488.0h.8v.8h-.8zM81.3 482.0h.8v.8h-.8zM85.9 477.8h.8v.8h-.8zM83.2 481.9h.8v.8h-.8zM97.1 483.6h.8v.8h-.8zM93.8 485.3h.8v.8h-.8zM91.2 478.9h.8v.8h-.8zM86.5 477.4h.8v.8h-.8zM92.6 483.7h.8v.8h-.8zM96.2 481.7h.8v.8h-.8zM85.7 480.9h.8v.8h-.8zM81.3 483.3h.8v.8h-.8zM87.8 485.0h.8v.8h-.8zM84.4 481.8h.8v.8h-.8zM85.1 477.8h.8v.8h-.8zM87.5 479.4h.8v.8h-.8zM87.1 479.6h.8v.8h-.8zM81.2 480.5h.8v.8h-.8zM92.2 478.0h.8v.8h-.8zM88.2 487.9h.8v.8h-.8zM96.8 484.6h.8v.8h-.8zM98.5 477.9h.8v.8h-.8zM84.0 482.8h.8v.8h-.8z" fill="#7d89e0" opacity="0.75"/><path d="M87.2 480.1h.8v.8h-.8zM93.4 482.8h.8v.8h-.8zM93.6 482.5h.8v.8h-.8zM91.9 482.4h.8v.8h-.8zM89.8 481.0h.8v.8h-.8zM91.3 479.5h.8v.8h-.8zM89.2 483.3h.8v.8h-.8zM86.6 481.6h.8v.8h-.8zM91.1 480.4h.8v.8h-.8zM92.0 481.9h.8v.8h-.8zM88.7 480.4h.8v.8h-.8zM89.2 483.3h.8v.8h-.8zM89.4 479.5h.8v.8h-.8zM87.9 480.9h.8v.8h-.8zM89.1 481.7h.8v.8h-.8zM94.3 480.9h.8v.8h-.8zM90.5 479.8h.8v.8h-.8zM86.9 482.3h.8v.8h-.8zM90.5 481.6h.8v.8h-.8zM88.3 483.3h.8v.8h-.8zM89.1 481.5h.8v.8h-.8zM91.9 480.4h.8v.8h-.8zM86.4 482.0h.8v.8h-.8zM94.6 481.0h.8v.8h-.8zM91.8 481.0h.8v.8h-.8zM92.0 479.5h.8v.8h-.8zM91.3 480.5h.8v.8h-.8zM89.0 483.3h.8v.8h-.8zM86.9 482.0h.8v.8h-.8zM87.0 483.2h.8v.8h-.8zM89.4 482.4h.8v.8h-.8zM87.5 481.9h.8v.8h-.8zM86.6 482.3h.8v.8h-.8z" fill="#3f5cd0" opacity="0.85"/><ellipse cx="90.20" cy="481.50" rx="4.32" ry="2.40" fill="#4a66d4" opacity="0.75" filter="url(#bl05)" transform="rotate(0 90.20 481.50)"/><ellipse cx="90.20" cy="481.50" rx="2.52" ry="1.40" fill="#2a9a8a" opacity="0.9" filter="url(#bl05)" transform="rotate(0 90.20 481.50)"/><rect x="130.2" y="445.0" width="0.7" height="0.7" fill="#8a94dc" opacity="0.45"/><rect x="83.6" y="439.9" width="0.7" height="0.7" fill="#8a94dc" opacity="0.45"/><rect x="88.7" y="465.3" width="0.7" height="0.7" fill="#8a94dc" opacity="0.45"/><rect x="99.0" y="446.7" width="0.7" height="0.7" fill="#8a94dc" opacity="0.45"/><rect x="122.7" y="439.6" width="0.7" height="0.7" fill="#8a94dc" opacity="0.45"/><rect x="123.4" y="462.7" width="0.7" height="0.7" fill="#8a94dc" opacity="0.45"/><rect x="100.5" y="473.6" width="0.7" height="0.7" fill="#8a94dc" opacity="0.45"/><rect x="97.2" y="476.8" width="0.7" height="0.7" fill="#8a94dc" opacity="0.45"/><rect x="130.0" y="455.2" width="0.7" height="0.7" fill="#8a94dc" opacity="0.45"/><rect x="116.8" y="480.8" width="0.7" height="0.7" fill="#8a94dc" opacity="0.45"/><rect x="119.7" y="469.5" width="0.7" height="0.7" fill="#8a94dc" opacity="0.45"/><rect x="126.9" y="480.1" width="0.7" height="0.7" fill="#8a94dc" opacity="0.45"/><rect x="120.3" y="482.6" width="0.7" height="0.7" fill="#8a94dc" opacity="0.45"/><rect x="94.4" y="462.1" width="0.7" height="0.7" fill="#8a94dc" opacity="0.45"/></g><line x1="76.00" y1="459.30" x2="136.20" y2="459.30" stroke="#888" stroke-width="0.8"/><line x1="94.10" y1="424.20" x2="94.10" y2="459.30" stroke="#888" stroke-width="0.8"/><line x1="111.40" y1="424.20" x2="111.40" y2="485.80" stroke="#888" stroke-width="0.8"/><text x="85.55" y="457.90" font-size="8.6" text-anchor="middle" fill="#222" stroke="#222" stroke-width="0.22">E4</text><text x="102.75" y="457.90" font-size="8.6" text-anchor="middle" fill="#222" stroke="#222" stroke-width="0.22">E3</text><text x="123.80" y="457.90" font-size="8.6" text-anchor="middle" fill="#222" stroke="#222" stroke-width="0.22">E2</text><text x="101.25" y="468.50" font-size="8.6" text-anchor="middle" fill="#222" stroke="#222" stroke-width="0.22">R</text><clipPath id="cf3"><rect x="139.1" y="424.3" width="61.5" height="62.30000000000001"/></clipPath><rect x="139.10" y="424.30" width="61.50" height="62.30" fill="#fff" stroke="#a0a0a0" stroke-width="0.9"/><g clip-path="url(#cf3)"><ellipse cx="152.00" cy="468.50" rx="9.75" ry="9.00" fill="#a4acec" opacity="0.4" filter="url(#bl1)" transform="rotate(0 152.00 468.50)"/><path d="M152.6 476.3h.8v.8h-.8zM145.7 474.7h.8v.8h-.8zM164.8 469.5h.8v.8h-.8zM159.6 468.3h.8v.8h-.8zM156.0 462.4h.8v.8h-.8zM143.0 459.1h.8v.8h-.8zM141.0 467.0h.8v.8h-.8zM152.5 460.2h.8v.8h-.8zM157.1 463.2h.8v.8h-.8zM149.3 455.9h.8v.8h-.8zM148.6 454.8h.8v.8h-.8zM142.4 475.4h.8v.8h-.8zM137.1 473.5h.8v.8h-.8zM159.1 467.1h.8v.8h-.8zM145.3 468.2h.8v.8h-.8zM146.7 475.2h.8v.8h-.8zM139.4 461.7h.8v.8h-.8zM145.6 455.4h.8v.8h-.8zM164.9 453.5h.8v.8h-.8zM163.2 456.1h.8v.8h-.8zM159.2 463.9h.8v.8h-.8zM156.3 461.4h.8v.8h-.8zM164.4 453.5h.8v.8h-.8zM162.3 474.4h.8v.8h-.8zM148.8 478.8h.8v.8h-.8zM165.9 456.6h.8v.8h-.8zM127.6 467.7h.8v.8h-.8zM154.2 474.5h.8v.8h-.8zM165.1 471.8h.8v.8h-.8zM145.3 483.0h.8v.8h-.8zM157.2 464.8h.8v.8h-.8zM144.1 470.4h.8v.8h-.8zM146.4 461.9h.8v.8h-.8zM143.2 465.3h.8v.8h-.8zM159.5 465.8h.8v.8h-.8zM142.2 472.7h.8v.8h-.8zM160.1 467.4h.8v.8h-.8zM144.3 472.7h.8v.8h-.8zM161.3 469.6h.8v.8h-.8zM146.7 463.5h.8v.8h-.8zM149.0 458.7h.8v.8h-.8zM144.2 454.2h.8v.8h-.8zM151.9 475.4h.8v.8h-.8zM145.8 474.7h.8v.8h-.8zM150.0 474.3h.8v.8h-.8zM142.0 464.2h.8v.8h-.8zM154.8 474.7h.8v.8h-.8zM155.6 462.7h.8v.8h-.8zM146.9 476.2h.8v.8h-.8zM157.6 464.0h.8v.8h-.8zM156.5 457.3h.8v.8h-.8zM155.4 460.1h.8v.8h-.8zM148.0 473.8h.8v.8h-.8zM145.9 471.6h.8v.8h-.8zM168.2 468.9h.8v.8h-.8zM166.5 455.9h.8v.8h-.8zM136.8 474.6h.8v.8h-.8zM151.6 456.6h.8v.8h-.8zM147.7 462.1h.8v.8h-.8zM160.5 463.0h.8v.8h-.8zM164.8 462.4h.8v.8h-.8zM159.2 463.7h.8v.8h-.8zM163.1 469.4h.8v.8h-.8zM147.7 462.0h.8v.8h-.8zM138.3 476.1h.8v.8h-.8zM151.8 480.9h.8v.8h-.8zM140.3 470.1h.8v.8h-.8zM139.8 466.0h.8v.8h-.8zM157.7 478.2h.8v.8h-.8zM162.8 463.2h.8v.8h-.8zM142.7 459.5h.8v.8h-.8zM151.0 476.1h.8v.8h-.8zM145.2 471.8h.8v.8h-.8zM165.1 466.6h.8v.8h-.8zM158.8 472.3h.8v.8h-.8zM146.2 475.7h.8v.8h-.8zM158.1 474.1h.8v.8h-.8zM150.6 462.5h.8v.8h-.8zM145.6 474.6h.8v.8h-.8zM153.3 462.5h.8v.8h-.8zM155.0 460.2h.8v.8h-.8zM146.1 471.0h.8v.8h-.8zM141.5 468.7h.8v.8h-.8zM142.9 473.1h.8v.8h-.8zM141.8 466.4h.8v.8h-.8zM158.4 471.4h.8v.8h-.8zM139.6 474.3h.8v.8h-.8zM158.0 466.2h.8v.8h-.8zM161.6 461.9h.8v.8h-.8zM151.4 475.4h.8v.8h-.8zM160.9 476.5h.8v.8h-.8zM144.6 457.4h.8v.8h-.8zM154.6 459.6h.8v.8h-.8zM151.1 460.5h.8v.8h-.8zM159.2 473.5h.8v.8h-.8zM164.8 470.3h.8v.8h-.8zM161.4 476.8h.8v.8h-.8zM146.1 458.0h.8v.8h-.8zM160.5 466.1h.8v.8h-.8zM152.9 461.1h.8v.8h-.8zM151.9 453.9h.8v.8h-.8zM140.3 463.9h.8v.8h-.8zM152.0 477.1h.8v.8h-.8zM152.2 462.3h.8v.8h-.8zM147.4 473.1h.8v.8h-.8zM147.9 473.7h.8v.8h-.8zM158.9 472.2h.8v.8h-.8zM158.9 467.4h.8v.8h-.8zM147.9 458.7h.8v.8h-.8zM148.2 461.8h.8v.8h-.8zM142.3 469.4h.8v.8h-.8zM161.3 474.4h.8v.8h-.8zM159.1 464.7h.8v.8h-.8zM141.9 472.0h.8v.8h-.8zM154.8 476.4h.8v.8h-.8zM145.9 454.1h.8v.8h-.8zM149.0 477.9h.8v.8h-.8zM140.7 474.8h.8v.8h-.8zM145.4 469.3h.8v.8h-.8zM146.9 478.2h.8v.8h-.8zM164.9 483.6h.8v.8h-.8zM142.9 469.6h.8v.8h-.8zM139.4 470.9h.8v.8h-.8zM155.8 461.3h.8v.8h-.8zM141.3 469.7h.8v.8h-.8zM156.2 463.6h.8v.8h-.8zM150.2 452.7h.8v.8h-.8zM153.0 478.4h.8v.8h-.8zM144.3 454.4h.8v.8h-.8zM156.1 477.5h.8v.8h-.8zM161.1 458.1h.8v.8h-.8zM151.6 481.0h.8v.8h-.8zM149.2 474.5h.8v.8h-.8zM162.7 475.0h.8v.8h-.8zM143.1 464.0h.8v.8h-.8zM144.8 471.3h.8v.8h-.8zM154.2 476.5h.8v.8h-.8zM158.5 466.8h.8v.8h-.8zM150.4 477.6h.8v.8h-.8zM162.7 477.0h.8v.8h-.8zM158.1 466.3h.8v.8h-.8zM153.6 458.1h.8v.8h-.8zM149.1 477.5h.8v.8h-.8zM145.1 459.2h.8v.8h-.8zM150.9 478.9h.8v.8h-.8zM161.8 466.3h.8v.8h-.8zM150.0 459.3h.8v.8h-.8zM146.2 461.5h.8v.8h-.8zM158.1 480.3h.8v.8h-.8zM146.7 477.2h.8v.8h-.8zM145.0 463.9h.8v.8h-.8zM147.5 463.0h.8v.8h-.8zM161.7 472.6h.8v.8h-.8zM152.2 460.7h.8v.8h-.8zM151.3 474.6h.8v.8h-.8zM148.6 474.0h.8v.8h-.8zM140.8 465.7h.8v.8h-.8zM144.1 478.1h.8v.8h-.8zM154.0 458.6h.8v.8h-.8zM142.3 473.6h.8v.8h-.8zM156.5 459.0h.8v.8h-.8zM143.4 467.1h.8v.8h-.8zM156.7 456.1h.8v.8h-.8zM158.3 466.6h.8v.8h-.8zM143.5 465.8h.8v.8h-.8zM139.6 455.7h.8v.8h-.8zM157.0 463.0h.8v.8h-.8zM143.2 462.5h.8v.8h-.8zM163.6 468.7h.8v.8h-.8zM147.9 462.3h.8v.8h-.8zM144.6 467.5h.8v.8h-.8zM154.9 475.7h.8v.8h-.8zM159.7 470.2h.8v.8h-.8zM147.5 463.1h.8v.8h-.8zM136.4 462.1h.8v.8h-.8zM154.5 460.1h.8v.8h-.8zM136.9 465.0h.8v.8h-.8zM145.9 479.8h.8v.8h-.8zM157.8 461.9h.8v.8h-.8zM161.6 464.1h.8v.8h-.8zM157.5 454.9h.8v.8h-.8zM156.7 463.4h.8v.8h-.8zM152.3 461.3h.8v.8h-.8zM156.2 474.7h.8v.8h-.8zM149.4 461.1h.8v.8h-.8zM143.4 472.7h.8v.8h-.8zM149.5 475.1h.8v.8h-.8zM152.3 462.2h.8v.8h-.8zM158.1 480.6h.8v.8h-.8zM146.3 474.1h.8v.8h-.8zM155.9 474.8h.8v.8h-.8zM145.4 470.5h.8v.8h-.8zM146.4 472.1h.8v.8h-.8zM169.3 471.2h.8v.8h-.8zM153.8 461.7h.8v.8h-.8zM155.8 460.4h.8v.8h-.8zM144.6 453.5h.8v.8h-.8zM161.3 471.5h.8v.8h-.8zM159.6 467.3h.8v.8h-.8zM157.0 455.3h.8v.8h-.8zM148.9 476.5h.8v.8h-.8zM148.5 480.2h.8v.8h-.8zM157.0 472.6h.8v.8h-.8zM146.9 476.6h.8v.8h-.8zM151.3 458.4h.8v.8h-.8zM156.4 461.7h.8v.8h-.8zM153.4 461.5h.8v.8h-.8zM150.3 460.1h.8v.8h-.8zM150.4 462.5h.8v.8h-.8zM140.9 470.7h.8v.8h-.8zM153.0 480.5h.8v.8h-.8zM143.3 458.5h.8v.8h-.8zM157.1 463.6h.8v.8h-.8zM160.8 462.4h.8v.8h-.8zM158.1 471.3h.8v.8h-.8z" fill="#7d89e0" opacity="0.75"/><path d="M150.2 466.9h.8v.8h-.8zM151.7 473.1h.8v.8h-.8zM149.5 465.8h.8v.8h-.8zM150.8 466.5h.8v.8h-.8zM151.5 470.0h.8v.8h-.8zM154.2 466.6h.8v.8h-.8zM155.1 471.8h.8v.8h-.8zM148.0 464.7h.8v.8h-.8zM150.1 465.2h.8v.8h-.8zM151.0 464.3h.8v.8h-.8zM151.5 470.7h.8v.8h-.8zM148.7 470.4h.8v.8h-.8zM153.4 467.2h.8v.8h-.8zM150.5 467.3h.8v.8h-.8zM150.8 463.0h.8v.8h-.8zM151.0 470.8h.8v.8h-.8zM150.6 467.6h.8v.8h-.8zM149.0 466.2h.8v.8h-.8zM152.4 473.8h.8v.8h-.8zM151.0 468.2h.8v.8h-.8zM150.4 466.9h.8v.8h-.8zM149.3 463.2h.8v.8h-.8zM154.4 468.8h.8v.8h-.8zM147.0 465.5h.8v.8h-.8zM148.2 472.6h.8v.8h-.8zM152.2 467.1h.8v.8h-.8zM150.2 472.6h.8v.8h-.8zM153.7 464.2h.8v.8h-.8zM151.0 465.8h.8v.8h-.8zM149.3 473.6h.8v.8h-.8zM154.5 465.5h.8v.8h-.8zM152.5 471.6h.8v.8h-.8zM147.7 467.7h.8v.8h-.8zM154.2 473.1h.8v.8h-.8zM154.2 463.1h.8v.8h-.8zM155.9 472.3h.8v.8h-.8zM153.5 463.7h.8v.8h-.8zM155.5 466.8h.8v.8h-.8zM156.3 466.6h.8v.8h-.8zM150.5 474.0h.8v.8h-.8zM152.4 470.8h.8v.8h-.8zM147.3 465.8h.8v.8h-.8zM152.8 466.7h.8v.8h-.8zM154.7 473.1h.8v.8h-.8zM147.3 464.8h.8v.8h-.8zM149.3 471.8h.8v.8h-.8zM152.4 467.8h.8v.8h-.8zM157.1 470.0h.8v.8h-.8zM152.1 468.1h.8v.8h-.8zM155.3 469.6h.8v.8h-.8zM153.8 470.2h.8v.8h-.8zM149.6 473.5h.8v.8h-.8zM146.5 465.4h.8v.8h-.8zM154.2 473.7h.8v.8h-.8zM155.7 470.4h.8v.8h-.8zM147.1 469.6h.8v.8h-.8zM155.8 468.6h.8v.8h-.8zM152.3 466.6h.8v.8h-.8zM154.6 470.1h.8v.8h-.8zM155.1 465.8h.8v.8h-.8zM152.6 466.9h.8v.8h-.8zM151.3 465.6h.8v.8h-.8zM157.5 470.6h.8v.8h-.8zM152.2 472.4h.8v.8h-.8zM151.9 464.8h.8v.8h-.8zM155.1 466.4h.8v.8h-.8zM154.1 473.0h.8v.8h-.8zM150.1 472.7h.8v.8h-.8zM147.4 466.0h.8v.8h-.8zM152.3 469.8h.8v.8h-.8zM155.0 473.7h.8v.8h-.8zM147.2 469.4h.8v.8h-.8zM155.1 464.8h.8v.8h-.8zM153.9 473.0h.8v.8h-.8zM151.6 465.9h.8v.8h-.8zM150.4 474.2h.8v.8h-.8zM158.1 468.7h.8v.8h-.8zM148.7 467.6h.8v.8h-.8zM154.6 467.0h.8v.8h-.8zM148.8 467.8h.8v.8h-.8zM145.7 468.7h.8v.8h-.8zM148.1 466.9h.8v.8h-.8zM150.1 465.9h.8v.8h-.8zM155.4 467.1h.8v.8h-.8zM150.4 472.1h.8v.8h-.8zM151.6 462.6h.8v.8h-.8zM153.4 467.2h.8v.8h-.8zM146.9 468.4h.8v.8h-.8zM152.7 462.7h.8v.8h-.8zM156.1 471.7h.8v.8h-.8zM154.7 470.3h.8v.8h-.8zM153.7 472.2h.8v.8h-.8zM148.8 466.6h.8v.8h-.8zM148.4 470.9h.8v.8h-.8zM153.5 473.0h.8v.8h-.8zM152.3 467.0h.8v.8h-.8zM149.8 463.6h.8v.8h-.8zM154.8 466.4h.8v.8h-.8zM158.1 470.3h.8v.8h-.8zM152.3 471.0h.8v.8h-.8zM150.8 465.3h.8v.8h-.8zM151.6 462.8h.8v.8h-.8zM153.5 469.7h.8v.8h-.8zM156.0 470.5h.8v.8h-.8zM150.8 462.6h.8v.8h-.8zM148.0 466.0h.8v.8h-.8zM156.6 468.6h.8v.8h-.8zM152.8 465.1h.8v.8h-.8zM147.7 469.5h.8v.8h-.8zM153.0 472.2h.8v.8h-.8zM148.6 470.7h.8v.8h-.8zM155.2 469.0h.8v.8h-.8zM153.3 469.0h.8v.8h-.8zM151.4 466.6h.8v.8h-.8zM152.6 471.2h.8v.8h-.8zM148.0 469.1h.8v.8h-.8zM147.5 464.5h.8v.8h-.8zM153.6 469.9h.8v.8h-.8zM151.2 463.5h.8v.8h-.8zM157.2 466.3h.8v.8h-.8zM152.0 473.4h.8v.8h-.8zM150.3 470.8h.8v.8h-.8zM151.5 468.2h.8v.8h-.8zM154.9 469.0h.8v.8h-.8zM152.9 470.0h.8v.8h-.8zM155.7 466.1h.8v.8h-.8zM153.7 467.9h.8v.8h-.8zM154.7 467.6h.8v.8h-.8zM155.8 466.8h.8v.8h-.8zM157.7 465.8h.8v.8h-.8zM147.8 470.8h.8v.8h-.8zM151.5 472.3h.8v.8h-.8zM148.1 468.8h.8v.8h-.8zM151.6 467.2h.8v.8h-.8zM150.7 466.0h.8v.8h-.8zM148.7 473.7h.8v.8h-.8zM155.1 467.7h.8v.8h-.8zM149.0 467.2h.8v.8h-.8z" fill="#3f5cd0" opacity="0.85"/><ellipse cx="152.00" cy="468.50" rx="6.24" ry="5.76" fill="#4a66d4" opacity="0.75" filter="url(#bl05)" transform="rotate(0 152.00 468.50)"/><ellipse cx="152.00" cy="468.50" rx="3.64" ry="3.36" fill="#2a9a8a" opacity="0.9" filter="url(#bl05)" transform="rotate(0 152.00 468.50)"/><ellipse cx="171.00" cy="441.00" rx="6.75" ry="2.62" fill="#a4acec" opacity="0.4" filter="url(#bl1)" transform="rotate(-40 171.00 441.00)"/><path d="M176.4 438.2h.8v.8h-.8zM175.3 440.2h.8v.8h-.8zM175.2 443.6h.8v.8h-.8zM173.3 442.0h.8v.8h-.8zM166.5 446.8h.8v.8h-.8zM164.7 443.7h.8v.8h-.8zM180.7 433.8h.8v.8h-.8zM175.7 441.8h.8v.8h-.8zM175.1 438.9h.8v.8h-.8zM174.3 442.6h.8v.8h-.8zM166.0 442.9h.8v.8h-.8zM169.2 437.7h.8v.8h-.8zM169.5 444.9h.8v.8h-.8zM172.1 437.3h.8v.8h-.8zM166.8 443.9h.8v.8h-.8zM169.8 444.3h.8v.8h-.8zM175.7 438.3h.8v.8h-.8zM169.4 439.8h.8v.8h-.8zM166.8 441.9h.8v.8h-.8zM175.4 435.7h.8v.8h-.8zM176.0 431.9h.8v.8h-.8zM162.9 444.2h.8v.8h-.8zM167.1 443.7h.8v.8h-.8zM177.5 433.9h.8v.8h-.8zM174.5 437.2h.8v.8h-.8zM170.4 439.1h.8v.8h-.8zM179.0 434.2h.8v.8h-.8zM171.5 446.0h.8v.8h-.8zM165.7 445.0h.8v.8h-.8zM177.2 436.8h.8v.8h-.8zM171.6 443.0h.8v.8h-.8zM169.3 445.7h.8v.8h-.8zM176.1 440.0h.8v.8h-.8zM164.9 439.9h.8v.8h-.8zM178.0 434.5h.8v.8h-.8zM170.7 443.7h.8v.8h-.8zM166.3 444.4h.8v.8h-.8zM168.3 446.9h.8v.8h-.8zM171.4 443.3h.8v.8h-.8zM174.5 435.2h.8v.8h-.8zM175.0 439.8h.8v.8h-.8zM170.2 439.0h.8v.8h-.8zM177.0 435.4h.8v.8h-.8zM175.7 438.0h.8v.8h-.8zM173.2 443.4h.8v.8h-.8zM175.0 438.3h.8v.8h-.8zM166.0 442.6h.8v.8h-.8zM175.4 435.0h.8v.8h-.8zM169.3 438.3h.8v.8h-.8zM164.1 446.5h.8v.8h-.8z" fill="#7d89e0" opacity="0.75"/><path d="M171.4 441.4h.8v.8h-.8zM170.4 441.3h.8v.8h-.8zM168.6 442.7h.8v.8h-.8zM172.1 441.0h.8v.8h-.8zM171.3 439.7h.8v.8h-.8zM169.6 442.6h.8v.8h-.8zM171.2 439.3h.8v.8h-.8zM170.3 440.6h.8v.8h-.8zM172.8 441.6h.8v.8h-.8zM174.2 438.2h.8v.8h-.8zM169.8 442.4h.8v.8h-.8zM172.1 441.5h.8v.8h-.8zM172.1 441.0h.8v.8h-.8zM169.5 440.3h.8v.8h-.8zM170.0 439.9h.8v.8h-.8zM174.0 439.7h.8v.8h-.8zM170.0 442.3h.8v.8h-.8zM170.0 442.8h.8v.8h-.8zM171.0 442.7h.8v.8h-.8zM171.0 440.7h.8v.8h-.8zM168.7 442.6h.8v.8h-.8zM173.5 439.4h.8v.8h-.8zM171.9 440.2h.8v.8h-.8zM171.4 441.0h.8v.8h-.8zM168.5 444.0h.8v.8h-.8zM174.1 439.5h.8v.8h-.8zM169.0 443.6h.8v.8h-.8zM171.7 441.7h.8v.8h-.8zM167.9 442.9h.8v.8h-.8z" fill="#3f5cd0" opacity="0.85"/><ellipse cx="171.00" cy="441.00" rx="4.32" ry="1.68" fill="#4a66d4" opacity="0.75" filter="url(#bl05)" transform="rotate(-40 171.00 441.00)"/><ellipse cx="167.00" cy="446.50" rx="9.00" ry="6.75" fill="#a4acec" opacity="0.4" filter="url(#bl1)" transform="rotate(-35 167.00 446.50)"/><path d="M155.7 444.9h.8v.8h-.8zM170.1 440.8h.8v.8h-.8zM155.7 443.1h.8v.8h-.8zM166.4 439.8h.8v.8h-.8zM163.4 452.6h.8v.8h-.8zM152.9 440.1h.8v.8h-.8zM161.2 448.9h.8v.8h-.8zM166.0 452.2h.8v.8h-.8zM166.0 441.2h.8v.8h-.8zM167.5 452.5h.8v.8h-.8zM161.3 456.4h.8v.8h-.8zM167.1 434.8h.8v.8h-.8zM159.7 448.3h.8v.8h-.8zM158.4 440.3h.8v.8h-.8zM175.5 445.7h.8v.8h-.8zM165.1 452.8h.8v.8h-.8zM173.1 433.4h.8v.8h-.8zM163.2 456.3h.8v.8h-.8zM176.7 435.5h.8v.8h-.8zM167.3 451.5h.8v.8h-.8zM174.5 457.2h.8v.8h-.8zM158.0 451.3h.8v.8h-.8zM167.6 439.2h.8v.8h-.8zM171.1 457.9h.8v.8h-.8zM174.9 455.3h.8v.8h-.8zM178.4 448.3h.8v.8h-.8zM181.6 452.4h.8v.8h-.8zM160.2 443.9h.8v.8h-.8zM175.2 450.7h.8v.8h-.8zM172.3 441.0h.8v.8h-.8zM160.4 461.9h.8v.8h-.8zM165.0 458.1h.8v.8h-.8zM179.7 430.4h.8v.8h-.8zM164.6 459.3h.8v.8h-.8zM159.5 452.6h.8v.8h-.8zM165.9 455.1h.8v.8h-.8zM164.9 440.7h.8v.8h-.8zM161.6 451.9h.8v.8h-.8zM162.3 452.3h.8v.8h-.8zM153.7 448.4h.8v.8h-.8zM175.4 438.2h.8v.8h-.8zM171.8 442.3h.8v.8h-.8zM177.8 440.0h.8v.8h-.8zM163.3 432.1h.8v.8h-.8zM161.5 443.9h.8v.8h-.8zM160.9 449.2h.8v.8h-.8zM174.1 447.7h.8v.8h-.8zM167.2 452.5h.8v.8h-.8zM165.5 453.6h.8v.8h-.8zM178.1 437.1h.8v.8h-.8zM169.4 436.6h.8v.8h-.8zM171.0 459.0h.8v.8h-.8zM158.7 452.3h.8v.8h-.8zM166.3 453.9h.8v.8h-.8zM171.2 458.2h.8v.8h-.8zM162.3 451.7h.8v.8h-.8zM155.7 452.1h.8v.8h-.8zM173.0 441.7h.8v.8h-.8zM161.7 453.0h.8v.8h-.8zM173.1 444.8h.8v.8h-.8zM168.3 437.5h.8v.8h-.8zM178.3 442.7h.8v.8h-.8zM161.3 461.2h.8v.8h-.8zM155.2 451.2h.8v.8h-.8zM159.9 456.3h.8v.8h-.8zM168.1 452.1h.8v.8h-.8zM164.6 451.5h.8v.8h-.8zM156.5 444.4h.8v.8h-.8zM170.5 449.5h.8v.8h-.8zM154.4 452.2h.8v.8h-.8zM157.9 450.9h.8v.8h-.8zM167.1 436.8h.8v.8h-.8zM170.2 441.1h.8v.8h-.8zM168.8 441.4h.8v.8h-.8zM157.3 455.2h.8v.8h-.8zM166.8 439.7h.8v.8h-.8zM168.9 450.8h.8v.8h-.8zM161.4 450.0h.8v.8h-.8zM159.0 446.1h.8v.8h-.8zM174.2 440.3h.8v.8h-.8zM173.2 445.2h.8v.8h-.8zM159.0 434.4h.8v.8h-.8zM162.0 450.7h.8v.8h-.8zM171.4 436.8h.8v.8h-.8zM166.8 451.8h.8v.8h-.8zM155.0 449.0h.8v.8h-.8zM171.1 449.1h.8v.8h-.8zM175.2 445.0h.8v.8h-.8zM179.8 439.7h.8v.8h-.8zM159.9 450.4h.8v.8h-.8zM158.1 454.9h.8v.8h-.8zM174.0 440.6h.8v.8h-.8zM169.2 456.7h.8v.8h-.8zM173.7 447.0h.8v.8h-.8zM162.5 437.2h.8v.8h-.8zM168.8 437.9h.8v.8h-.8zM175.7 451.3h.8v.8h-.8zM173.9 452.1h.8v.8h-.8zM170.0 441.4h.8v.8h-.8zM173.6 443.5h.8v.8h-.8zM163.0 456.7h.8v.8h-.8zM164.4 451.6h.8v.8h-.8zM170.5 452.8h.8v.8h-.8zM170.9 449.9h.8v.8h-.8zM160.4 444.2h.8v.8h-.8zM174.8 449.5h.8v.8h-.8zM164.1 453.0h.8v.8h-.8zM158.9 447.5h.8v.8h-.8zM164.1 437.5h.8v.8h-.8zM160.5 451.5h.8v.8h-.8zM171.4 455.5h.8v.8h-.8zM166.0 432.0h.8v.8h-.8zM164.7 463.6h.8v.8h-.8zM162.7 442.0h.8v.8h-.8zM173.9 446.0h.8v.8h-.8zM168.0 440.6h.8v.8h-.8zM155.8 451.6h.8v.8h-.8zM162.4 451.9h.8v.8h-.8zM156.2 448.7h.8v.8h-.8zM164.1 441.3h.8v.8h-.8zM168.8 456.6h.8v.8h-.8zM169.6 440.0h.8v.8h-.8zM176.3 439.2h.8v.8h-.8zM175.0 441.5h.8v.8h-.8zM160.9 451.8h.8v.8h-.8zM171.2 452.4h.8v.8h-.8zM161.3 448.3h.8v.8h-.8zM174.2 446.1h.8v.8h-.8zM167.4 454.5h.8v.8h-.8zM171.8 448.2h.8v.8h-.8zM171.3 449.0h.8v.8h-.8zM173.6 444.1h.8v.8h-.8zM171.9 449.6h.8v.8h-.8zM154.3 452.4h.8v.8h-.8zM168.8 440.2h.8v.8h-.8zM171.5 441.2h.8v.8h-.8zM160.1 448.4h.8v.8h-.8zM175.6 439.6h.8v.8h-.8zM160.1 439.1h.8v.8h-.8zM175.9 445.4h.8v.8h-.8zM155.6 458.6h.8v.8h-.8zM167.0 455.1h.8v.8h-.8zM174.3 448.7h.8v.8h-.8zM169.4 451.6h.8v.8h-.8zM163.7 457.1h.8v.8h-.8zM163.6 442.1h.8v.8h-.8zM162.3 444.2h.8v.8h-.8zM159.5 449.7h.8v.8h-.8zM173.9 448.8h.8v.8h-.8zM173.5 451.3h.8v.8h-.8zM154.2 455.1h.8v.8h-.8zM168.2 438.1h.8v.8h-.8zM157.5 449.8h.8v.8h-.8zM181.1 450.1h.8v.8h-.8zM163.5 442.4h.8v.8h-.8zM158.6 450.1h.8v.8h-.8zM174.5 447.3h.8v.8h-.8zM165.5 442.0h.8v.8h-.8zM153.6 460.9h.8v.8h-.8zM169.5 453.4h.8v.8h-.8z" fill="#7d89e0" opacity="0.75"/><path d="M167.9 446.8h.8v.8h-.8zM170.1 447.6h.8v.8h-.8zM169.5 443.9h.8v.8h-.8zM165.6 446.6h.8v.8h-.8zM163.0 449.6h.8v.8h-.8zM163.5 446.0h.8v.8h-.8zM169.0 443.4h.8v.8h-.8zM167.3 450.4h.8v.8h-.8zM167.9 448.9h.8v.8h-.8zM171.2 445.6h.8v.8h-.8zM168.7 447.5h.8v.8h-.8zM167.0 446.0h.8v.8h-.8zM171.6 445.2h.8v.8h-.8zM163.2 449.6h.8v.8h-.8zM165.2 447.2h.8v.8h-.8zM168.8 446.7h.8v.8h-.8zM165.5 444.0h.8v.8h-.8zM167.5 444.8h.8v.8h-.8zM166.1 449.0h.8v.8h-.8zM167.9 448.9h.8v.8h-.8zM169.7 446.9h.8v.8h-.8zM170.8 445.6h.8v.8h-.8zM170.6 443.5h.8v.8h-.8zM167.1 447.5h.8v.8h-.8zM167.1 443.1h.8v.8h-.8zM167.5 443.2h.8v.8h-.8zM170.8 447.7h.8v.8h-.8zM168.3 447.4h.8v.8h-.8zM167.8 443.9h.8v.8h-.8zM166.0 444.7h.8v.8h-.8zM165.5 451.1h.8v.8h-.8zM168.0 448.7h.8v.8h-.8zM166.0 450.1h.8v.8h-.8zM163.4 443.8h.8v.8h-.8zM163.8 447.1h.8v.8h-.8zM163.9 446.6h.8v.8h-.8zM172.1 445.4h.8v.8h-.8zM167.4 447.6h.8v.8h-.8zM164.7 445.5h.8v.8h-.8zM167.9 449.5h.8v.8h-.8zM168.4 446.2h.8v.8h-.8zM166.9 447.1h.8v.8h-.8zM167.1 443.2h.8v.8h-.8zM165.3 448.7h.8v.8h-.8zM167.8 446.3h.8v.8h-.8zM171.2 445.7h.8v.8h-.8zM162.4 448.6h.8v.8h-.8zM163.3 448.4h.8v.8h-.8zM161.8 446.5h.8v.8h-.8zM168.4 447.4h.8v.8h-.8zM163.9 450.7h.8v.8h-.8zM168.9 444.1h.8v.8h-.8zM169.5 448.3h.8v.8h-.8zM167.1 444.8h.8v.8h-.8zM170.5 447.9h.8v.8h-.8zM166.8 449.0h.8v.8h-.8zM162.7 447.8h.8v.8h-.8zM164.1 444.7h.8v.8h-.8zM165.7 448.1h.8v.8h-.8zM163.8 445.0h.8v.8h-.8zM164.0 449.0h.8v.8h-.8zM163.6 443.8h.8v.8h-.8zM168.8 447.7h.8v.8h-.8zM164.7 443.4h.8v.8h-.8zM164.1 443.3h.8v.8h-.8zM164.3 447.2h.8v.8h-.8zM169.2 447.2h.8v.8h-.8zM166.1 448.4h.8v.8h-.8zM168.6 450.3h.8v.8h-.8zM168.9 444.1h.8v.8h-.8zM164.2 450.3h.8v.8h-.8zM169.8 443.7h.8v.8h-.8zM169.9 448.3h.8v.8h-.8zM165.1 443.8h.8v.8h-.8zM166.4 442.8h.8v.8h-.8zM166.3 448.1h.8v.8h-.8zM166.5 448.1h.8v.8h-.8zM169.2 443.2h.8v.8h-.8zM165.3 444.5h.8v.8h-.8zM163.6 446.8h.8v.8h-.8zM168.1 443.7h.8v.8h-.8zM169.2 445.1h.8v.8h-.8zM162.6 446.7h.8v.8h-.8zM166.7 446.3h.8v.8h-.8zM168.2 446.9h.8v.8h-.8zM162.2 449.3h.8v.8h-.8zM169.1 444.6h.8v.8h-.8z" fill="#3f5cd0" opacity="0.85"/><ellipse cx="167.00" cy="446.50" rx="5.76" ry="4.32" fill="#4a66d4" opacity="0.75" filter="url(#bl05)" transform="rotate(-35 167.00 446.50)"/><ellipse cx="167.00" cy="446.50" rx="7.44" ry="5.58" fill="#2a98a8" filter="url(#bl05)" transform="rotate(-35 167.00 446.50)"/><ellipse cx="167.00" cy="446.50" rx="6.00" ry="4.50" fill="#34b050" filter="url(#bl05)" transform="rotate(-35 167.00 446.50)"/><ellipse cx="167.00" cy="446.50" rx="4.08" ry="3.06" fill="#b8cc2a" filter="url(#bl05)" transform="rotate(-35 167.00 446.50)"/><ellipse cx="167.00" cy="446.50" rx="2.64" ry="1.98" fill="#e8a020" filter="url(#bl05)" transform="rotate(-35 167.00 446.50)"/><ellipse cx="167.00" cy="446.50" rx="1.32" ry="0.99" fill="#e0401a" filter="url(#bl05)" transform="rotate(-35 167.00 446.50)"/><ellipse cx="167.50" cy="480.50" rx="5.25" ry="4.50" fill="#a4acec" opacity="0.4" filter="url(#bl1)" transform="rotate(0 167.50 480.50)"/><path d="M168.7 477.6h.8v.8h-.8zM168.8 477.3h.8v.8h-.8zM168.1 483.9h.8v.8h-.8zM168.0 483.7h.8v.8h-.8zM163.4 478.8h.8v.8h-.8zM167.9 476.3h.8v.8h-.8zM164.4 476.2h.8v.8h-.8zM163.7 480.1h.8v.8h-.8zM168.7 477.0h.8v.8h-.8zM174.2 484.7h.8v.8h-.8zM163.1 478.4h.8v.8h-.8zM158.2 489.4h.8v.8h-.8zM170.6 483.0h.8v.8h-.8zM170.8 479.0h.8v.8h-.8zM171.6 480.8h.8v.8h-.8zM173.2 480.6h.8v.8h-.8zM172.9 475.5h.8v.8h-.8zM172.7 481.9h.8v.8h-.8zM166.1 483.8h.8v.8h-.8zM170.9 483.7h.8v.8h-.8zM175.5 484.8h.8v.8h-.8zM176.5 482.7h.8v.8h-.8zM167.4 476.7h.8v.8h-.8zM168.0 476.8h.8v.8h-.8zM165.5 477.2h.8v.8h-.8zM172.5 482.4h.8v.8h-.8zM170.9 479.0h.8v.8h-.8zM166.4 476.6h.8v.8h-.8zM164.3 482.7h.8v.8h-.8zM165.5 485.3h.8v.8h-.8zM167.3 484.0h.8v.8h-.8zM164.0 476.3h.8v.8h-.8zM171.5 479.5h.8v.8h-.8zM163.2 478.3h.8v.8h-.8zM171.0 477.8h.8v.8h-.8zM165.4 483.3h.8v.8h-.8zM173.2 481.8h.8v.8h-.8zM169.1 484.5h.8v.8h-.8zM163.8 476.6h.8v.8h-.8zM172.4 483.7h.8v.8h-.8zM164.0 480.9h.8v.8h-.8zM163.6 480.4h.8v.8h-.8zM168.6 483.5h.8v.8h-.8zM164.0 476.6h.8v.8h-.8zM172.6 477.0h.8v.8h-.8zM165.2 472.0h.8v.8h-.8zM171.6 484.6h.8v.8h-.8zM160.2 476.3h.8v.8h-.8zM165.6 486.4h.8v.8h-.8zM170.7 478.6h.8v.8h-.8zM169.3 477.6h.8v.8h-.8zM165.9 483.6h.8v.8h-.8zM176.3 481.4h.8v.8h-.8zM166.0 483.3h.8v.8h-.8zM174.0 483.8h.8v.8h-.8zM163.0 479.4h.8v.8h-.8zM164.0 482.7h.8v.8h-.8zM165.4 486.2h.8v.8h-.8zM173.1 478.4h.8v.8h-.8zM172.9 487.3h.8v.8h-.8zM174.2 476.6h.8v.8h-.8zM165.4 487.8h.8v.8h-.8zM170.0 487.2h.8v.8h-.8z" fill="#7d89e0" opacity="0.75"/><path d="M165.9 478.1h.8v.8h-.8zM168.5 477.8h.8v.8h-.8zM170.1 482.0h.8v.8h-.8zM165.0 479.0h.8v.8h-.8zM168.3 480.6h.8v.8h-.8zM166.2 482.2h.8v.8h-.8zM164.9 479.5h.8v.8h-.8zM167.0 481.5h.8v.8h-.8zM165.7 481.1h.8v.8h-.8zM169.7 480.5h.8v.8h-.8zM164.8 480.8h.8v.8h-.8zM166.5 483.0h.8v.8h-.8zM168.0 481.7h.8v.8h-.8zM166.5 479.6h.8v.8h-.8zM167.9 480.4h.8v.8h-.8zM166.8 480.0h.8v.8h-.8zM167.4 483.4h.8v.8h-.8zM168.5 483.2h.8v.8h-.8zM170.0 481.3h.8v.8h-.8zM167.6 482.5h.8v.8h-.8zM169.4 481.6h.8v.8h-.8zM164.7 480.5h.8v.8h-.8zM167.5 477.5h.8v.8h-.8zM167.1 478.0h.8v.8h-.8zM168.0 482.7h.8v.8h-.8zM169.6 479.5h.8v.8h-.8zM169.0 479.6h.8v.8h-.8zM169.1 482.2h.8v.8h-.8zM170.0 479.5h.8v.8h-.8zM170.4 480.1h.8v.8h-.8zM167.6 482.7h.8v.8h-.8zM169.9 479.6h.8v.8h-.8zM170.2 478.9h.8v.8h-.8zM166.7 482.6h.8v.8h-.8zM168.1 479.4h.8v.8h-.8zM167.5 482.6h.8v.8h-.8zM165.8 479.9h.8v.8h-.8zM166.4 481.0h.8v.8h-.8zM169.9 479.1h.8v.8h-.8z" fill="#3f5cd0" opacity="0.85"/><ellipse cx="167.50" cy="480.50" rx="3.36" ry="2.88" fill="#4a66d4" opacity="0.75" filter="url(#bl05)" transform="rotate(0 167.50 480.50)"/><path d="M166.6 472.1h.8v.8h-.8zM172.4 471.9h.8v.8h-.8zM166.1 467.8h.8v.8h-.8zM166.0 459.2h.8v.8h-.8zM168.0 467.7h.8v.8h-.8zM167.5 464.5h.8v.8h-.8zM169.6 461.6h.8v.8h-.8zM169.1 469.1h.8v.8h-.8zM169.7 468.0h.8v.8h-.8zM165.4 463.6h.8v.8h-.8zM166.9 468.7h.8v.8h-.8zM163.5 465.8h.8v.8h-.8zM163.9 468.4h.8v.8h-.8zM166.7 465.3h.8v.8h-.8zM170.4 473.8h.8v.8h-.8zM165.5 465.7h.8v.8h-.8zM163.0 464.0h.8v.8h-.8zM166.3 468.5h.8v.8h-.8zM167.7 465.6h.8v.8h-.8zM165.1 463.3h.8v.8h-.8zM165.2 465.2h.8v.8h-.8zM163.9 466.4h.8v.8h-.8zM170.9 478.5h.8v.8h-.8zM171.9 471.9h.8v.8h-.8zM170.1 473.3h.8v.8h-.8zM167.9 467.1h.8v.8h-.8zM163.2 462.5h.8v.8h-.8zM171.0 456.2h.8v.8h-.8zM168.9 464.8h.8v.8h-.8zM167.1 466.7h.8v.8h-.8zM168.1 459.3h.8v.8h-.8zM167.8 455.7h.8v.8h-.8zM171.9 465.0h.8v.8h-.8zM170.3 460.4h.8v.8h-.8zM172.8 470.3h.8v.8h-.8zM168.9 466.2h.8v.8h-.8zM169.0 461.3h.8v.8h-.8zM167.7 463.9h.8v.8h-.8zM169.0 473.0h.8v.8h-.8zM171.0 466.5h.8v.8h-.8zM169.7 463.6h.8v.8h-.8zM166.8 456.8h.8v.8h-.8zM164.8 458.9h.8v.8h-.8zM167.9 464.2h.8v.8h-.8zM169.2 471.0h.8v.8h-.8zM169.8 464.3h.8v.8h-.8zM166.8 463.6h.8v.8h-.8zM169.6 460.4h.8v.8h-.8zM164.2 463.9h.8v.8h-.8zM170.7 471.4h.8v.8h-.8zM169.6 455.2h.8v.8h-.8zM167.6 468.7h.8v.8h-.8zM170.8 474.6h.8v.8h-.8zM165.6 467.0h.8v.8h-.8z" fill="#7d89e0" opacity="0.75"/><rect x="171.0" y="467.0" width="0.7" height="0.7" fill="#7a86dc" opacity="0.5"/><rect x="159.4" y="445.9" width="0.7" height="0.7" fill="#7a86dc" opacity="0.5"/><rect x="185.2" y="471.6" width="0.7" height="0.7" fill="#7a86dc" opacity="0.5"/><rect x="158.1" y="430.6" width="0.7" height="0.7" fill="#7a86dc" opacity="0.5"/><rect x="194.5" y="468.8" width="0.7" height="0.7" fill="#7a86dc" opacity="0.5"/><rect x="175.3" y="449.9" width="0.7" height="0.7" fill="#7a86dc" opacity="0.5"/><rect x="196.2" y="451.4" width="0.7" height="0.7" fill="#7a86dc" opacity="0.5"/><rect x="153.6" y="432.2" width="0.7" height="0.7" fill="#7a86dc" opacity="0.5"/><rect x="161.3" y="461.3" width="0.7" height="0.7" fill="#7a86dc" opacity="0.5"/><rect x="162.1" y="481.5" width="0.7" height="0.7" fill="#7a86dc" opacity="0.5"/><rect x="178.5" y="453.0" width="0.7" height="0.7" fill="#7a86dc" opacity="0.5"/><rect x="179.1" y="461.4" width="0.7" height="0.7" fill="#7a86dc" opacity="0.5"/></g><rect x="149.50" y="440.60" width="11.10" height="11.40" fill="none" stroke="#8a8a8a" stroke-width="0.8"/><rect x="160.60" y="431.50" width="16.90" height="54.50" fill="none" stroke="#8a8a8a" stroke-width="0.8"/><text x="148.30" y="449.40" font-size="8.6" text-anchor="end" fill="#222" stroke="#222" stroke-width="0.22">E1</text><path d="M179.30,457.20 L196.40,457.20 L196.40,455.30 L201.40,458.80 L196.40,462.30 L196.40,460.40 L179.30,460.40 Z" fill="#fff" stroke="#111" stroke-width="0.9"/><clipPath id="cf4"><rect x="202.8" y="424.7" width="61.099999999999966" height="61.10000000000002"/></clipPath><rect x="202.80" y="424.70" width="61.10" height="61.10" fill="#fff" stroke="#a0a0a0" stroke-width="0.9"/><g clip-path="url(#cf4)"><ellipse cx="209.00" cy="449.00" rx="4.50" ry="3.38" fill="#a4acec" opacity="0.4" filter="url(#bl1)" transform="rotate(0 209.00 449.00)"/><path d="M211.9 450.0h.8v.8h-.8zM213.9 446.9h.8v.8h-.8zM210.6 454.2h.8v.8h-.8zM211.7 445.3h.8v.8h-.8zM207.4 452.1h.8v.8h-.8zM208.3 444.4h.8v.8h-.8zM205.3 446.8h.8v.8h-.8zM214.7 447.1h.8v.8h-.8zM212.4 447.3h.8v.8h-.8zM213.5 445.9h.8v.8h-.8zM205.8 448.9h.8v.8h-.8zM206.3 447.6h.8v.8h-.8zM213.2 449.9h.8v.8h-.8zM208.3 451.8h.8v.8h-.8zM205.8 452.1h.8v.8h-.8zM207.3 451.7h.8v.8h-.8zM209.4 445.8h.8v.8h-.8zM210.5 451.3h.8v.8h-.8zM213.6 450.0h.8v.8h-.8zM215.2 445.5h.8v.8h-.8zM208.2 443.1h.8v.8h-.8zM214.3 448.1h.8v.8h-.8zM202.7 452.0h.8v.8h-.8zM204.8 446.0h.8v.8h-.8zM203.1 453.0h.8v.8h-.8zM212.3 448.7h.8v.8h-.8zM212.5 449.7h.8v.8h-.8zM209.1 457.1h.8v.8h-.8zM211.8 451.0h.8v.8h-.8zM209.5 446.6h.8v.8h-.8zM212.5 448.8h.8v.8h-.8zM209.2 451.4h.8v.8h-.8zM212.2 449.6h.8v.8h-.8zM209.1 453.9h.8v.8h-.8zM210.8 446.6h.8v.8h-.8zM209.7 453.7h.8v.8h-.8zM212.6 447.7h.8v.8h-.8z" fill="#7d89e0" opacity="0.75"/><path d="M209.1 450.1h.8v.8h-.8zM207.6 449.8h.8v.8h-.8zM209.2 447.3h.8v.8h-.8zM206.6 448.6h.8v.8h-.8zM209.7 450.0h.8v.8h-.8zM209.6 447.5h.8v.8h-.8zM210.0 448.3h.8v.8h-.8zM207.0 448.9h.8v.8h-.8zM207.7 449.2h.8v.8h-.8zM206.5 448.4h.8v.8h-.8zM210.4 450.7h.8v.8h-.8zM209.4 448.4h.8v.8h-.8zM206.2 449.4h.8v.8h-.8zM211.1 449.0h.8v.8h-.8zM207.2 449.8h.8v.8h-.8zM207.3 447.6h.8v.8h-.8zM210.2 448.4h.8v.8h-.8zM211.1 449.6h.8v.8h-.8zM209.2 451.1h.8v.8h-.8zM211.6 449.2h.8v.8h-.8zM208.5 450.5h.8v.8h-.8zM207.4 449.4h.8v.8h-.8zM208.8 449.3h.8v.8h-.8zM210.8 449.4h.8v.8h-.8zM209.6 446.8h.8v.8h-.8zM208.6 450.0h.8v.8h-.8zM209.3 449.8h.8v.8h-.8zM210.8 449.5h.8v.8h-.8zM208.2 447.8h.8v.8h-.8zM211.3 449.4h.8v.8h-.8zM209.1 450.6h.8v.8h-.8zM209.6 449.6h.8v.8h-.8z" fill="#3f5cd0" opacity="0.85"/><ellipse cx="209.00" cy="449.00" rx="2.88" ry="2.16" fill="#4a66d4" opacity="0.75" filter="url(#bl05)" transform="rotate(0 209.00 449.00)"/><ellipse cx="242.00" cy="446.20" rx="15.00" ry="3.00" fill="#a4acec" opacity="0.4" filter="url(#bl1)" transform="rotate(-10 242.00 446.20)"/><path d="M252.4 444.2h.8v.8h-.8zM253.8 442.3h.8v.8h-.8zM245.7 442.2h.8v.8h-.8zM247.8 449.3h.8v.8h-.8zM260.3 440.1h.8v.8h-.8zM234.7 450.1h.8v.8h-.8zM246.0 442.6h.8v.8h-.8zM246.6 443.0h.8v.8h-.8zM232.8 445.2h.8v.8h-.8zM240.2 451.3h.8v.8h-.8zM267.6 440.7h.8v.8h-.8zM256.8 443.0h.8v.8h-.8zM232.9 445.8h.8v.8h-.8zM240.7 441.6h.8v.8h-.8zM248.0 441.7h.8v.8h-.8zM251.0 442.8h.8v.8h-.8zM255.3 441.6h.8v.8h-.8zM229.8 448.8h.8v.8h-.8zM231.9 446.6h.8v.8h-.8zM250.9 442.5h.8v.8h-.8zM242.9 443.5h.8v.8h-.8zM261.5 443.0h.8v.8h-.8zM232.2 447.4h.8v.8h-.8zM243.6 448.3h.8v.8h-.8zM253.1 446.2h.8v.8h-.8zM250.9 443.0h.8v.8h-.8zM223.8 451.1h.8v.8h-.8zM236.4 451.0h.8v.8h-.8zM226.1 450.8h.8v.8h-.8zM253.0 448.0h.8v.8h-.8zM220.4 448.8h.8v.8h-.8zM237.6 449.4h.8v.8h-.8zM225.9 449.3h.8v.8h-.8zM243.3 450.1h.8v.8h-.8zM231.6 450.9h.8v.8h-.8zM256.3 443.4h.8v.8h-.8zM235.3 444.8h.8v.8h-.8zM234.0 451.9h.8v.8h-.8zM220.1 451.0h.8v.8h-.8zM235.6 451.3h.8v.8h-.8zM244.8 442.9h.8v.8h-.8zM249.9 443.6h.8v.8h-.8zM222.8 452.4h.8v.8h-.8zM248.9 447.8h.8v.8h-.8zM260.1 441.8h.8v.8h-.8zM247.2 441.6h.8v.8h-.8zM231.4 446.8h.8v.8h-.8zM220.0 447.8h.8v.8h-.8zM242.8 440.5h.8v.8h-.8zM253.4 446.2h.8v.8h-.8zM233.8 444.5h.8v.8h-.8zM227.3 446.1h.8v.8h-.8zM235.1 452.0h.8v.8h-.8zM230.8 449.8h.8v.8h-.8zM254.4 442.0h.8v.8h-.8zM235.8 449.9h.8v.8h-.8zM263.9 442.2h.8v.8h-.8zM233.8 448.9h.8v.8h-.8zM247.6 447.6h.8v.8h-.8zM236.6 444.4h.8v.8h-.8zM226.1 452.9h.8v.8h-.8zM267.6 444.0h.8v.8h-.8zM264.9 441.8h.8v.8h-.8zM246.9 450.1h.8v.8h-.8zM255.5 441.5h.8v.8h-.8zM235.3 452.3h.8v.8h-.8zM251.9 447.6h.8v.8h-.8zM236.1 444.8h.8v.8h-.8zM272.1 443.4h.8v.8h-.8zM237.5 451.3h.8v.8h-.8zM236.5 443.9h.8v.8h-.8zM227.1 444.5h.8v.8h-.8zM253.4 441.9h.8v.8h-.8zM227.1 447.6h.8v.8h-.8zM239.4 444.0h.8v.8h-.8zM248.2 443.1h.8v.8h-.8zM230.3 450.3h.8v.8h-.8zM234.1 449.0h.8v.8h-.8zM262.8 443.3h.8v.8h-.8zM267.9 442.3h.8v.8h-.8zM252.5 441.1h.8v.8h-.8zM243.9 448.5h.8v.8h-.8zM225.9 449.5h.8v.8h-.8zM250.2 448.4h.8v.8h-.8zM258.0 443.3h.8v.8h-.8zM262.8 440.2h.8v.8h-.8zM228.0 451.5h.8v.8h-.8zM248.4 442.6h.8v.8h-.8zM253.4 446.0h.8v.8h-.8zM228.2 445.0h.8v.8h-.8zM251.1 442.2h.8v.8h-.8zM235.0 451.6h.8v.8h-.8zM252.2 440.6h.8v.8h-.8zM258.2 440.6h.8v.8h-.8zM232.9 445.1h.8v.8h-.8zM231.8 446.4h.8v.8h-.8zM256.4 445.3h.8v.8h-.8zM229.1 448.5h.8v.8h-.8zM245.6 441.0h.8v.8h-.8zM260.9 442.3h.8v.8h-.8zM249.5 442.4h.8v.8h-.8zM228.9 451.9h.8v.8h-.8zM241.1 442.5h.8v.8h-.8zM239.3 448.7h.8v.8h-.8zM218.8 453.3h.8v.8h-.8zM241.8 442.0h.8v.8h-.8zM237.8 450.0h.8v.8h-.8zM245.3 442.4h.8v.8h-.8zM263.3 442.9h.8v.8h-.8zM242.0 444.0h.8v.8h-.8zM227.8 445.8h.8v.8h-.8zM236.3 449.9h.8v.8h-.8zM242.0 448.7h.8v.8h-.8zM237.5 451.5h.8v.8h-.8zM254.1 446.7h.8v.8h-.8zM268.2 444.8h.8v.8h-.8zM248.5 449.8h.8v.8h-.8zM230.8 444.3h.8v.8h-.8zM236.3 449.2h.8v.8h-.8zM243.4 450.0h.8v.8h-.8z" fill="#7d89e0" opacity="0.75"/><path d="M237.5 447.0h.8v.8h-.8zM245.8 445.3h.8v.8h-.8zM240.4 445.9h.8v.8h-.8zM246.2 444.8h.8v.8h-.8zM247.8 445.6h.8v.8h-.8zM242.2 446.3h.8v.8h-.8zM243.4 445.8h.8v.8h-.8zM245.5 444.8h.8v.8h-.8zM246.8 444.4h.8v.8h-.8zM237.4 445.3h.8v.8h-.8zM244.7 445.8h.8v.8h-.8zM248.5 446.6h.8v.8h-.8zM243.9 445.1h.8v.8h-.8zM243.8 444.1h.8v.8h-.8zM246.4 445.2h.8v.8h-.8zM242.5 445.3h.8v.8h-.8zM246.8 444.4h.8v.8h-.8zM244.8 446.8h.8v.8h-.8zM232.7 447.9h.8v.8h-.8zM241.7 446.0h.8v.8h-.8zM238.0 447.0h.8v.8h-.8zM236.8 447.5h.8v.8h-.8zM242.9 444.0h.8v.8h-.8zM239.0 445.8h.8v.8h-.8zM247.1 445.9h.8v.8h-.8zM244.1 444.6h.8v.8h-.8zM233.4 446.8h.8v.8h-.8zM238.6 446.2h.8v.8h-.8zM238.3 448.4h.8v.8h-.8zM244.1 445.9h.8v.8h-.8zM247.7 444.8h.8v.8h-.8zM239.5 448.1h.8v.8h-.8zM245.2 444.1h.8v.8h-.8zM240.6 446.6h.8v.8h-.8zM237.6 446.1h.8v.8h-.8zM234.8 446.4h.8v.8h-.8zM248.8 445.9h.8v.8h-.8zM246.7 446.6h.8v.8h-.8zM249.7 444.4h.8v.8h-.8zM236.0 447.1h.8v.8h-.8zM244.2 446.1h.8v.8h-.8zM240.0 447.5h.8v.8h-.8zM236.1 447.2h.8v.8h-.8zM247.7 445.7h.8v.8h-.8zM247.4 444.1h.8v.8h-.8zM247.6 443.8h.8v.8h-.8zM245.6 446.6h.8v.8h-.8zM249.3 444.0h.8v.8h-.8zM239.7 446.3h.8v.8h-.8zM236.5 446.0h.8v.8h-.8zM235.2 446.0h.8v.8h-.8zM251.5 444.4h.8v.8h-.8zM235.5 446.4h.8v.8h-.8zM243.3 446.7h.8v.8h-.8zM240.2 445.5h.8v.8h-.8zM241.6 446.3h.8v.8h-.8zM240.5 446.2h.8v.8h-.8zM241.6 445.7h.8v.8h-.8zM236.4 447.4h.8v.8h-.8zM239.8 446.2h.8v.8h-.8zM236.2 447.7h.8v.8h-.8zM249.4 444.2h.8v.8h-.8zM249.9 445.1h.8v.8h-.8zM244.4 446.6h.8v.8h-.8zM237.0 447.1h.8v.8h-.8zM248.2 445.0h.8v.8h-.8z" fill="#3f5cd0" opacity="0.85"/><ellipse cx="242.00" cy="446.20" rx="9.60" ry="1.92" fill="#4a66d4" opacity="0.75" filter="url(#bl05)" transform="rotate(-10 242.00 446.20)"/><ellipse cx="217.00" cy="482.00" rx="7.50" ry="3.00" fill="#a4acec" opacity="0.4" filter="url(#bl1)" transform="rotate(0 217.00 482.00)"/><path d="M227.5 485.6h.8v.8h-.8zM215.1 484.6h.8v.8h-.8zM211.0 478.2h.8v.8h-.8zM226.0 483.8h.8v.8h-.8zM220.6 485.0h.8v.8h-.8zM225.7 482.6h.8v.8h-.8zM210.0 487.2h.8v.8h-.8zM219.8 487.1h.8v.8h-.8zM224.5 481.1h.8v.8h-.8zM223.7 480.2h.8v.8h-.8zM212.1 478.5h.8v.8h-.8zM220.8 483.8h.8v.8h-.8zM210.8 481.3h.8v.8h-.8zM211.4 484.6h.8v.8h-.8zM221.6 479.0h.8v.8h-.8zM211.7 484.5h.8v.8h-.8zM208.5 486.8h.8v.8h-.8zM220.5 485.6h.8v.8h-.8zM215.6 477.1h.8v.8h-.8zM214.1 485.1h.8v.8h-.8zM212.9 483.6h.8v.8h-.8zM213.5 483.8h.8v.8h-.8zM218.8 478.7h.8v.8h-.8zM215.1 484.6h.8v.8h-.8zM221.7 480.5h.8v.8h-.8zM223.3 481.6h.8v.8h-.8zM220.0 484.6h.8v.8h-.8zM211.3 480.3h.8v.8h-.8zM208.4 483.4h.8v.8h-.8zM212.6 484.6h.8v.8h-.8zM204.4 480.6h.8v.8h-.8zM213.7 484.2h.8v.8h-.8zM222.2 480.1h.8v.8h-.8zM215.3 479.3h.8v.8h-.8zM226.1 483.2h.8v.8h-.8zM225.5 480.7h.8v.8h-.8zM211.8 480.4h.8v.8h-.8zM206.7 482.6h.8v.8h-.8zM218.5 484.3h.8v.8h-.8zM215.4 485.1h.8v.8h-.8zM227.5 480.9h.8v.8h-.8zM215.7 484.1h.8v.8h-.8zM223.4 482.0h.8v.8h-.8zM223.1 478.8h.8v.8h-.8zM222.0 483.0h.8v.8h-.8zM221.8 483.1h.8v.8h-.8zM224.3 477.7h.8v.8h-.8zM227.3 479.7h.8v.8h-.8zM211.6 481.8h.8v.8h-.8zM223.2 483.6h.8v.8h-.8zM213.4 479.4h.8v.8h-.8zM210.4 481.8h.8v.8h-.8zM224.0 484.1h.8v.8h-.8zM215.8 484.7h.8v.8h-.8zM222.5 484.0h.8v.8h-.8zM228.7 484.2h.8v.8h-.8zM221.9 485.0h.8v.8h-.8zM211.7 481.4h.8v.8h-.8zM217.4 479.5h.8v.8h-.8zM209.5 482.3h.8v.8h-.8z" fill="#7d89e0" opacity="0.75"/><path d="M218.5 483.3h.8v.8h-.8zM221.5 482.4h.8v.8h-.8zM213.1 480.8h.8v.8h-.8zM220.2 481.9h.8v.8h-.8zM218.8 481.9h.8v.8h-.8zM219.8 482.8h.8v.8h-.8zM219.9 482.3h.8v.8h-.8zM217.7 483.5h.8v.8h-.8zM213.9 481.4h.8v.8h-.8zM213.6 480.7h.8v.8h-.8zM220.2 481.5h.8v.8h-.8zM217.3 482.5h.8v.8h-.8zM215.5 482.0h.8v.8h-.8zM214.8 482.7h.8v.8h-.8zM217.8 482.4h.8v.8h-.8zM214.8 482.5h.8v.8h-.8zM216.8 481.6h.8v.8h-.8zM218.0 482.5h.8v.8h-.8zM218.7 483.6h.8v.8h-.8zM212.9 482.7h.8v.8h-.8zM214.9 481.1h.8v.8h-.8zM220.7 481.4h.8v.8h-.8zM212.2 481.5h.8v.8h-.8zM219.2 481.0h.8v.8h-.8zM214.4 482.2h.8v.8h-.8zM219.9 481.9h.8v.8h-.8zM218.5 481.4h.8v.8h-.8zM216.9 482.7h.8v.8h-.8zM220.6 481.1h.8v.8h-.8zM218.5 480.7h.8v.8h-.8zM217.8 482.0h.8v.8h-.8zM221.3 482.0h.8v.8h-.8zM216.3 481.3h.8v.8h-.8zM214.4 482.4h.8v.8h-.8zM214.9 483.7h.8v.8h-.8zM215.4 483.8h.8v.8h-.8zM213.2 481.6h.8v.8h-.8zM214.7 481.1h.8v.8h-.8z" fill="#3f5cd0" opacity="0.85"/><ellipse cx="217.00" cy="482.00" rx="4.80" ry="1.92" fill="#4a66d4" opacity="0.75" filter="url(#bl05)" transform="rotate(0 217.00 482.00)"/><path d="M209.1 468.5h.8v.8h-.8zM212.2 468.8h.8v.8h-.8zM221.9 468.3h.8v.8h-.8zM213.2 459.8h.8v.8h-.8zM211.0 471.1h.8v.8h-.8zM213.6 473.4h.8v.8h-.8zM213.7 473.4h.8v.8h-.8zM216.4 474.6h.8v.8h-.8zM213.8 473.8h.8v.8h-.8zM212.9 466.9h.8v.8h-.8zM220.5 464.4h.8v.8h-.8zM210.8 476.9h.8v.8h-.8zM215.9 471.7h.8v.8h-.8zM216.2 470.0h.8v.8h-.8zM224.4 470.3h.8v.8h-.8zM221.8 470.1h.8v.8h-.8zM211.9 469.0h.8v.8h-.8zM215.3 480.9h.8v.8h-.8zM212.3 471.9h.8v.8h-.8zM207.9 472.4h.8v.8h-.8zM214.5 471.7h.8v.8h-.8zM215.5 468.2h.8v.8h-.8zM215.4 470.1h.8v.8h-.8zM220.0 469.8h.8v.8h-.8zM214.5 464.7h.8v.8h-.8zM219.2 469.4h.8v.8h-.8zM210.9 475.1h.8v.8h-.8zM219.4 470.0h.8v.8h-.8zM215.4 464.6h.8v.8h-.8zM204.0 470.6h.8v.8h-.8zM208.1 472.8h.8v.8h-.8zM213.4 471.1h.8v.8h-.8zM212.6 471.9h.8v.8h-.8zM218.8 470.6h.8v.8h-.8zM218.6 473.3h.8v.8h-.8zM214.4 463.0h.8v.8h-.8zM218.0 467.6h.8v.8h-.8zM210.2 462.4h.8v.8h-.8zM206.8 475.6h.8v.8h-.8zM223.4 475.6h.8v.8h-.8zM224.6 462.1h.8v.8h-.8zM218.6 464.3h.8v.8h-.8zM208.2 472.6h.8v.8h-.8zM219.4 466.2h.8v.8h-.8zM207.3 463.5h.8v.8h-.8zM214.1 473.7h.8v.8h-.8zM224.4 471.9h.8v.8h-.8zM210.2 465.5h.8v.8h-.8zM215.2 472.6h.8v.8h-.8zM205.5 471.1h.8v.8h-.8zM212.0 473.4h.8v.8h-.8zM207.1 474.0h.8v.8h-.8zM221.7 475.9h.8v.8h-.8zM222.2 470.5h.8v.8h-.8zM215.4 465.3h.8v.8h-.8zM214.8 466.6h.8v.8h-.8zM217.8 473.0h.8v.8h-.8zM214.3 476.6h.8v.8h-.8zM208.7 467.6h.8v.8h-.8zM223.0 468.9h.8v.8h-.8zM218.2 459.4h.8v.8h-.8zM221.9 467.0h.8v.8h-.8zM211.8 474.0h.8v.8h-.8zM215.3 462.7h.8v.8h-.8zM221.2 466.0h.8v.8h-.8zM213.3 467.2h.8v.8h-.8zM212.8 468.1h.8v.8h-.8zM213.2 467.9h.8v.8h-.8zM226.6 471.1h.8v.8h-.8zM217.7 467.4h.8v.8h-.8zM223.3 472.1h.8v.8h-.8zM215.4 467.6h.8v.8h-.8zM218.7 462.8h.8v.8h-.8zM211.7 468.5h.8v.8h-.8zM216.6 470.5h.8v.8h-.8z" fill="#7d89e0" opacity="0.75"/><rect x="230.0" y="467.9" width="0.7" height="0.7" fill="#8a94dc" opacity="0.45"/><rect x="241.2" y="439.5" width="0.7" height="0.7" fill="#8a94dc" opacity="0.45"/><rect x="250.4" y="430.3" width="0.7" height="0.7" fill="#8a94dc" opacity="0.45"/><rect x="239.9" y="436.6" width="0.7" height="0.7" fill="#8a94dc" opacity="0.45"/><rect x="205.1" y="437.8" width="0.7" height="0.7" fill="#8a94dc" opacity="0.45"/><rect x="250.2" y="439.2" width="0.7" height="0.7" fill="#8a94dc" opacity="0.45"/><rect x="205.6" y="454.3" width="0.7" height="0.7" fill="#8a94dc" opacity="0.45"/><rect x="224.7" y="459.5" width="0.7" height="0.7" fill="#8a94dc" opacity="0.45"/><rect x="237.8" y="467.1" width="0.7" height="0.7" fill="#8a94dc" opacity="0.45"/><rect x="257.1" y="446.0" width="0.7" height="0.7" fill="#8a94dc" opacity="0.45"/><rect x="241.1" y="433.5" width="0.7" height="0.7" fill="#8a94dc" opacity="0.45"/><rect x="219.1" y="432.2" width="0.7" height="0.7" fill="#8a94dc" opacity="0.45"/><rect x="254.0" y="446.0" width="0.7" height="0.7" fill="#8a94dc" opacity="0.45"/><rect x="245.4" y="476.8" width="0.7" height="0.7" fill="#8a94dc" opacity="0.45"/></g><line x1="202.80" y1="459.30" x2="263.90" y2="459.30" stroke="#888" stroke-width="0.8"/><line x1="221.30" y1="424.70" x2="221.30" y2="459.30" stroke="#888" stroke-width="0.8"/><line x1="238.60" y1="424.70" x2="238.60" y2="485.80" stroke="#888" stroke-width="0.8"/><text x="212.55" y="457.90" font-size="8.6" text-anchor="middle" fill="#222" stroke="#222" stroke-width="0.22">E4</text><text x="229.95" y="457.90" font-size="8.6" text-anchor="middle" fill="#222" stroke="#222" stroke-width="0.22">E3</text><text x="251.25" y="457.90" font-size="8.6" text-anchor="middle" fill="#222" stroke="#222" stroke-width="0.22">E2</text><text x="228.45" y="468.50" font-size="8.6" text-anchor="middle" fill="#222" stroke="#222" stroke-width="0.22">R</text><clipPath id="cf5"><rect x="12.3" y="497.9" width="60.5" height="62.10000000000002"/></clipPath><rect x="12.30" y="497.90" width="60.50" height="62.10" fill="#fff" stroke="#a0a0a0" stroke-width="0.9"/><g clip-path="url(#cf5)"><ellipse cx="27.00" cy="542.00" rx="10.50" ry="13.50" fill="#a4acec" opacity="0.4" filter="url(#bl1)" transform="rotate(0 27.00 542.00)"/><path d="M18.4 531.3h.8v.8h-.8zM31.9 520.5h.8v.8h-.8zM26.0 520.9h.8v.8h-.8zM35.0 543.9h.8v.8h-.8zM36.9 537.3h.8v.8h-.8zM17.8 538.7h.8v.8h-.8zM24.0 562.5h.8v.8h-.8zM41.7 542.2h.8v.8h-.8zM41.7 539.9h.8v.8h-.8zM22.5 565.2h.8v.8h-.8zM16.4 538.6h.8v.8h-.8zM31.9 563.4h.8v.8h-.8zM20.1 519.3h.8v.8h-.8zM23.9 554.1h.8v.8h-.8zM38.0 542.3h.8v.8h-.8zM30.5 532.3h.8v.8h-.8zM23.6 551.8h.8v.8h-.8zM27.0 523.9h.8v.8h-.8zM39.7 543.9h.8v.8h-.8zM20.6 551.2h.8v.8h-.8zM34.6 563.2h.8v.8h-.8zM31.0 556.8h.8v.8h-.8zM42.7 532.4h.8v.8h-.8zM14.6 539.5h.8v.8h-.8zM36.4 551.8h.8v.8h-.8zM31.2 524.3h.8v.8h-.8zM44.1 547.2h.8v.8h-.8zM14.5 528.6h.8v.8h-.8zM18.1 560.0h.8v.8h-.8zM17.8 512.6h.8v.8h-.8zM36.0 541.0h.8v.8h-.8zM15.7 532.3h.8v.8h-.8zM19.7 544.7h.8v.8h-.8zM42.2 549.1h.8v.8h-.8zM35.3 544.2h.8v.8h-.8zM25.0 519.3h.8v.8h-.8zM18.2 530.0h.8v.8h-.8zM33.1 548.2h.8v.8h-.8zM35.3 556.6h.8v.8h-.8zM24.8 551.9h.8v.8h-.8zM41.2 541.9h.8v.8h-.8zM34.9 540.5h.8v.8h-.8zM15.3 543.1h.8v.8h-.8zM11.4 561.5h.8v.8h-.8zM36.9 538.7h.8v.8h-.8zM29.9 523.6h.8v.8h-.8zM18.8 554.6h.8v.8h-.8zM28.7 527.8h.8v.8h-.8zM20.7 528.4h.8v.8h-.8zM19.6 553.1h.8v.8h-.8zM25.4 552.6h.8v.8h-.8zM28.4 527.8h.8v.8h-.8zM22.2 563.7h.8v.8h-.8zM21.3 532.0h.8v.8h-.8zM36.1 542.9h.8v.8h-.8zM27.0 556.0h.8v.8h-.8zM14.0 546.0h.8v.8h-.8zM19.2 528.6h.8v.8h-.8zM21.0 553.0h.8v.8h-.8zM26.0 524.5h.8v.8h-.8zM18.8 556.6h.8v.8h-.8zM34.6 531.6h.8v.8h-.8zM45.0 538.5h.8v.8h-.8zM18.1 540.7h.8v.8h-.8zM34.0 557.4h.8v.8h-.8zM34.7 537.9h.8v.8h-.8zM22.8 528.1h.8v.8h-.8zM28.8 529.9h.8v.8h-.8zM23.2 533.6h.8v.8h-.8zM18.0 530.7h.8v.8h-.8zM19.4 530.7h.8v.8h-.8zM17.2 546.9h.8v.8h-.8zM29.1 556.0h.8v.8h-.8zM20.0 544.0h.8v.8h-.8zM19.6 533.9h.8v.8h-.8zM28.2 562.2h.8v.8h-.8zM34.4 542.0h.8v.8h-.8zM25.7 551.5h.8v.8h-.8zM37.3 553.7h.8v.8h-.8zM11.0 530.5h.8v.8h-.8zM30.2 533.1h.8v.8h-.8zM31.0 529.6h.8v.8h-.8zM19.3 535.2h.8v.8h-.8zM45.4 535.5h.8v.8h-.8zM34.3 549.6h.8v.8h-.8zM16.5 527.7h.8v.8h-.8zM21.5 549.0h.8v.8h-.8zM34.0 540.4h.8v.8h-.8zM42.6 537.0h.8v.8h-.8zM35.5 540.7h.8v.8h-.8zM35.4 540.9h.8v.8h-.8zM25.1 552.4h.8v.8h-.8zM34.3 551.0h.8v.8h-.8zM29.7 524.8h.8v.8h-.8zM35.9 543.0h.8v.8h-.8zM24.5 563.7h.8v.8h-.8zM20.6 535.3h.8v.8h-.8zM20.9 531.9h.8v.8h-.8zM24.4 553.0h.8v.8h-.8zM26.7 529.5h.8v.8h-.8zM11.4 547.7h.8v.8h-.8zM34.0 534.4h.8v.8h-.8zM39.6 543.5h.8v.8h-.8zM18.4 547.4h.8v.8h-.8zM24.3 529.2h.8v.8h-.8zM11.1 544.3h.8v.8h-.8zM21.5 548.2h.8v.8h-.8zM23.1 558.9h.8v.8h-.8zM39.7 549.2h.8v.8h-.8zM24.4 532.6h.8v.8h-.8zM24.1 557.9h.8v.8h-.8zM17.9 543.6h.8v.8h-.8zM32.5 552.2h.8v.8h-.8zM28.7 559.2h.8v.8h-.8zM29.8 528.7h.8v.8h-.8zM38.5 544.4h.8v.8h-.8zM52.8 537.5h.8v.8h-.8zM16.1 523.7h.8v.8h-.8zM22.7 562.2h.8v.8h-.8zM32.9 552.4h.8v.8h-.8zM32.5 547.7h.8v.8h-.8zM16.3 535.0h.8v.8h-.8zM20.2 535.6h.8v.8h-.8zM33.5 538.6h.8v.8h-.8zM37.6 547.0h.8v.8h-.8zM33.0 552.8h.8v.8h-.8zM11.0 541.2h.8v.8h-.8zM17.5 537.6h.8v.8h-.8zM26.2 553.8h.8v.8h-.8zM26.7 557.6h.8v.8h-.8zM27.7 551.0h.8v.8h-.8zM24.6 528.7h.8v.8h-.8zM36.3 549.1h.8v.8h-.8zM33.0 534.5h.8v.8h-.8zM21.2 557.0h.8v.8h-.8zM38.5 544.8h.8v.8h-.8zM37.5 537.8h.8v.8h-.8zM37.6 539.6h.8v.8h-.8zM32.1 530.2h.8v.8h-.8zM29.6 532.6h.8v.8h-.8zM32.2 532.9h.8v.8h-.8zM19.1 535.3h.8v.8h-.8zM26.5 532.6h.8v.8h-.8zM33.4 535.1h.8v.8h-.8zM12.0 545.7h.8v.8h-.8zM21.4 535.2h.8v.8h-.8zM21.9 548.5h.8v.8h-.8zM27.8 552.7h.8v.8h-.8zM43.2 546.3h.8v.8h-.8zM15.3 558.2h.8v.8h-.8zM22.8 529.0h.8v.8h-.8zM9.7 546.0h.8v.8h-.8zM35.0 551.4h.8v.8h-.8zM24.2 555.6h.8v.8h-.8zM11.0 556.7h.8v.8h-.8zM25.7 527.2h.8v.8h-.8zM18.9 522.4h.8v.8h-.8zM22.3 534.1h.8v.8h-.8zM38.7 548.1h.8v.8h-.8zM6.0 533.5h.8v.8h-.8zM33.8 535.5h.8v.8h-.8zM26.7 551.6h.8v.8h-.8zM45.9 547.8h.8v.8h-.8zM30.7 552.1h.8v.8h-.8zM19.7 548.6h.8v.8h-.8zM34.1 549.3h.8v.8h-.8zM35.7 536.0h.8v.8h-.8zM36.0 543.3h.8v.8h-.8zM17.6 543.0h.8v.8h-.8zM19.7 551.2h.8v.8h-.8zM24.5 521.6h.8v.8h-.8zM24.2 551.6h.8v.8h-.8zM37.7 550.4h.8v.8h-.8zM18.4 547.3h.8v.8h-.8zM27.1 530.1h.8v.8h-.8zM35.4 533.7h.8v.8h-.8zM27.6 529.8h.8v.8h-.8zM14.5 548.1h.8v.8h-.8zM16.9 522.7h.8v.8h-.8zM25.4 527.6h.8v.8h-.8zM25.5 559.0h.8v.8h-.8zM26.1 556.0h.8v.8h-.8zM27.8 530.1h.8v.8h-.8zM38.3 524.4h.8v.8h-.8zM15.2 533.1h.8v.8h-.8zM25.0 532.2h.8v.8h-.8zM39.0 535.7h.8v.8h-.8zM34.0 536.7h.8v.8h-.8zM19.8 546.1h.8v.8h-.8zM28.9 520.2h.8v.8h-.8zM8.2 537.0h.8v.8h-.8zM30.0 533.0h.8v.8h-.8zM46.0 550.3h.8v.8h-.8zM36.3 544.5h.8v.8h-.8zM12.1 544.2h.8v.8h-.8zM40.9 540.0h.8v.8h-.8zM32.9 531.5h.8v.8h-.8zM31.1 532.5h.8v.8h-.8zM36.4 550.7h.8v.8h-.8zM21.1 525.0h.8v.8h-.8zM17.6 530.3h.8v.8h-.8zM17.3 541.1h.8v.8h-.8zM29.9 550.5h.8v.8h-.8zM24.3 550.5h.8v.8h-.8zM15.8 544.2h.8v.8h-.8zM10.3 557.8h.8v.8h-.8zM33.6 522.5h.8v.8h-.8zM23.2 528.9h.8v.8h-.8zM14.3 538.2h.8v.8h-.8zM20.6 551.5h.8v.8h-.8zM23.2 531.7h.8v.8h-.8zM16.2 534.4h.8v.8h-.8zM27.2 528.1h.8v.8h-.8zM42.0 536.7h.8v.8h-.8zM21.7 525.5h.8v.8h-.8zM26.3 529.2h.8v.8h-.8zM29.3 552.9h.8v.8h-.8zM36.0 540.1h.8v.8h-.8zM18.1 525.5h.8v.8h-.8zM35.5 535.1h.8v.8h-.8zM23.5 531.0h.8v.8h-.8zM25.5 533.2h.8v.8h-.8zM15.8 528.1h.8v.8h-.8zM32.1 553.5h.8v.8h-.8zM35.7 546.6h.8v.8h-.8zM34.2 525.2h.8v.8h-.8zM26.0 532.4h.8v.8h-.8zM19.0 547.2h.8v.8h-.8zM25.1 554.5h.8v.8h-.8zM17.9 537.1h.8v.8h-.8zM18.3 534.4h.8v.8h-.8zM22.7 527.9h.8v.8h-.8zM34.8 546.1h.8v.8h-.8zM36.3 521.7h.8v.8h-.8zM21.1 558.6h.8v.8h-.8zM16.8 525.1h.8v.8h-.8zM28.5 556.3h.8v.8h-.8zM31.5 533.0h.8v.8h-.8zM32.8 552.6h.8v.8h-.8zM36.7 551.7h.8v.8h-.8zM25.8 524.8h.8v.8h-.8zM30.8 528.0h.8v.8h-.8zM43.2 531.2h.8v.8h-.8zM13.7 524.8h.8v.8h-.8zM21.3 549.4h.8v.8h-.8zM21.9 528.0h.8v.8h-.8zM33.4 546.8h.8v.8h-.8zM20.2 539.6h.8v.8h-.8zM34.3 550.5h.8v.8h-.8zM19.2 552.1h.8v.8h-.8zM8.3 542.7h.8v.8h-.8zM27.7 527.1h.8v.8h-.8zM25.7 521.1h.8v.8h-.8zM15.8 542.1h.8v.8h-.8zM29.3 530.1h.8v.8h-.8zM32.1 532.8h.8v.8h-.8zM34.2 545.0h.8v.8h-.8zM27.8 555.8h.8v.8h-.8zM33.8 548.1h.8v.8h-.8zM36.0 540.9h.8v.8h-.8zM14.2 556.3h.8v.8h-.8zM20.1 544.4h.8v.8h-.8zM30.9 566.8h.8v.8h-.8zM19.3 545.7h.8v.8h-.8zM37.7 538.0h.8v.8h-.8zM17.1 552.1h.8v.8h-.8zM18.0 547.0h.8v.8h-.8zM35.6 534.2h.8v.8h-.8zM39.3 544.4h.8v.8h-.8zM14.3 551.9h.8v.8h-.8zM34.4 523.5h.8v.8h-.8zM7.4 566.1h.8v.8h-.8zM27.6 522.3h.8v.8h-.8zM34.6 555.1h.8v.8h-.8zM9.8 553.8h.8v.8h-.8zM30.9 551.0h.8v.8h-.8zM33.4 546.1h.8v.8h-.8zM39.1 530.3h.8v.8h-.8zM35.8 521.0h.8v.8h-.8zM28.4 563.0h.8v.8h-.8zM30.1 551.1h.8v.8h-.8zM25.7 557.6h.8v.8h-.8zM18.2 553.6h.8v.8h-.8zM32.1 551.2h.8v.8h-.8zM38.2 539.7h.8v.8h-.8zM22.6 534.9h.8v.8h-.8zM21.4 549.8h.8v.8h-.8zM10.5 530.1h.8v.8h-.8zM27.5 554.1h.8v.8h-.8zM26.3 553.7h.8v.8h-.8zM15.7 543.7h.8v.8h-.8zM39.5 542.8h.8v.8h-.8zM19.5 547.4h.8v.8h-.8zM17.1 531.4h.8v.8h-.8zM35.1 545.8h.8v.8h-.8zM34.0 544.2h.8v.8h-.8zM24.6 551.8h.8v.8h-.8zM17.7 524.4h.8v.8h-.8zM20.9 550.4h.8v.8h-.8zM23.1 520.6h.8v.8h-.8zM47.6 533.3h.8v.8h-.8zM15.7 546.8h.8v.8h-.8zM19.9 540.3h.8v.8h-.8zM14.0 536.4h.8v.8h-.8zM17.6 542.4h.8v.8h-.8zM29.1 551.9h.8v.8h-.8zM24.9 558.2h.8v.8h-.8zM31.9 530.5h.8v.8h-.8zM19.2 550.5h.8v.8h-.8zM32.6 535.0h.8v.8h-.8zM26.4 530.0h.8v.8h-.8zM30.8 532.2h.8v.8h-.8zM25.2 529.3h.8v.8h-.8zM37.2 547.6h.8v.8h-.8zM16.8 545.3h.8v.8h-.8zM36.1 532.6h.8v.8h-.8zM36.5 547.7h.8v.8h-.8zM27.5 530.7h.8v.8h-.8zM33.7 535.9h.8v.8h-.8zM25.5 564.6h.8v.8h-.8zM18.0 547.9h.8v.8h-.8zM32.4 550.3h.8v.8h-.8zM24.0 532.6h.8v.8h-.8zM12.6 532.8h.8v.8h-.8zM18.0 542.5h.8v.8h-.8zM34.5 535.0h.8v.8h-.8zM23.0 533.7h.8v.8h-.8zM30.0 524.6h.8v.8h-.8zM19.8 532.3h.8v.8h-.8zM35.2 550.0h.8v.8h-.8zM32.4 531.7h.8v.8h-.8zM45.5 549.7h.8v.8h-.8zM19.3 550.9h.8v.8h-.8zM25.5 532.6h.8v.8h-.8zM39.1 536.2h.8v.8h-.8zM33.9 535.3h.8v.8h-.8zM33.0 547.9h.8v.8h-.8zM33.8 549.0h.8v.8h-.8zM43.1 532.8h.8v.8h-.8zM36.1 541.1h.8v.8h-.8zM8.4 534.1h.8v.8h-.8zM10.8 540.1h.8v.8h-.8zM19.4 551.0h.8v.8h-.8zM30.3 531.3h.8v.8h-.8z" fill="#7d89e0" opacity="0.75"/><path d="M29.9 539.3h.8v.8h-.8zM21.6 543.4h.8v.8h-.8zM32.1 542.5h.8v.8h-.8zM27.4 536.5h.8v.8h-.8zM28.2 537.1h.8v.8h-.8zM24.2 538.7h.8v.8h-.8zM28.3 548.3h.8v.8h-.8zM31.8 537.1h.8v.8h-.8zM24.2 546.3h.8v.8h-.8zM28.6 544.7h.8v.8h-.8zM23.7 548.9h.8v.8h-.8zM26.3 538.9h.8v.8h-.8zM28.5 541.7h.8v.8h-.8zM29.2 542.2h.8v.8h-.8zM23.2 549.3h.8v.8h-.8zM32.6 546.6h.8v.8h-.8zM21.0 539.7h.8v.8h-.8zM25.1 547.3h.8v.8h-.8zM30.6 544.5h.8v.8h-.8zM28.2 544.5h.8v.8h-.8zM22.6 545.8h.8v.8h-.8zM29.0 537.8h.8v.8h-.8zM21.0 543.0h.8v.8h-.8zM23.6 545.0h.8v.8h-.8zM20.4 542.0h.8v.8h-.8zM31.9 546.0h.8v.8h-.8zM26.4 536.3h.8v.8h-.8zM31.2 543.0h.8v.8h-.8zM25.6 540.0h.8v.8h-.8zM21.9 543.2h.8v.8h-.8zM30.7 543.7h.8v.8h-.8zM25.1 547.4h.8v.8h-.8zM27.7 544.4h.8v.8h-.8zM25.6 543.8h.8v.8h-.8zM24.5 539.3h.8v.8h-.8zM20.6 539.6h.8v.8h-.8zM24.3 545.8h.8v.8h-.8zM21.7 536.5h.8v.8h-.8zM27.2 541.7h.8v.8h-.8zM24.0 538.6h.8v.8h-.8zM27.9 549.7h.8v.8h-.8zM22.3 537.9h.8v.8h-.8zM21.5 546.2h.8v.8h-.8zM21.3 544.7h.8v.8h-.8zM28.1 535.1h.8v.8h-.8zM26.5 547.4h.8v.8h-.8zM33.0 541.5h.8v.8h-.8zM26.9 537.3h.8v.8h-.8zM27.4 534.1h.8v.8h-.8zM20.6 540.2h.8v.8h-.8zM20.3 544.0h.8v.8h-.8zM32.4 543.6h.8v.8h-.8zM29.9 537.0h.8v.8h-.8zM30.4 539.2h.8v.8h-.8zM20.5 542.1h.8v.8h-.8zM28.0 538.7h.8v.8h-.8zM26.3 539.2h.8v.8h-.8zM29.8 536.5h.8v.8h-.8zM26.1 537.1h.8v.8h-.8zM23.3 544.9h.8v.8h-.8zM25.4 540.1h.8v.8h-.8zM29.3 543.4h.8v.8h-.8zM29.8 538.5h.8v.8h-.8zM21.2 545.4h.8v.8h-.8zM23.1 541.5h.8v.8h-.8zM26.6 536.1h.8v.8h-.8zM30.2 544.6h.8v.8h-.8zM22.5 538.2h.8v.8h-.8zM30.9 543.8h.8v.8h-.8zM27.6 546.6h.8v.8h-.8zM28.7 537.4h.8v.8h-.8zM22.2 535.8h.8v.8h-.8zM27.6 550.4h.8v.8h-.8zM21.9 536.3h.8v.8h-.8zM24.0 545.3h.8v.8h-.8zM28.6 543.4h.8v.8h-.8zM27.6 544.5h.8v.8h-.8zM27.0 541.7h.8v.8h-.8zM23.7 542.9h.8v.8h-.8zM29.4 546.6h.8v.8h-.8zM30.1 538.3h.8v.8h-.8zM26.9 549.5h.8v.8h-.8zM30.2 548.5h.8v.8h-.8zM26.4 536.5h.8v.8h-.8zM27.5 544.0h.8v.8h-.8zM27.4 545.7h.8v.8h-.8zM22.9 548.1h.8v.8h-.8zM21.2 543.5h.8v.8h-.8zM29.8 547.9h.8v.8h-.8zM27.8 541.8h.8v.8h-.8zM25.1 543.5h.8v.8h-.8zM20.3 541.0h.8v.8h-.8zM29.3 544.0h.8v.8h-.8zM29.2 540.8h.8v.8h-.8zM27.1 545.0h.8v.8h-.8zM25.0 544.0h.8v.8h-.8zM26.2 544.9h.8v.8h-.8zM32.5 546.1h.8v.8h-.8zM30.1 536.9h.8v.8h-.8zM29.4 536.1h.8v.8h-.8zM31.7 547.4h.8v.8h-.8zM29.7 534.7h.8v.8h-.8zM29.1 544.8h.8v.8h-.8zM27.1 545.9h.8v.8h-.8zM27.1 545.3h.8v.8h-.8zM26.3 539.2h.8v.8h-.8zM28.9 549.3h.8v.8h-.8zM24.7 545.0h.8v.8h-.8zM21.5 545.9h.8v.8h-.8zM24.2 545.3h.8v.8h-.8zM31.1 544.3h.8v.8h-.8zM26.4 545.3h.8v.8h-.8zM29.3 542.5h.8v.8h-.8zM31.7 548.4h.8v.8h-.8zM23.0 537.6h.8v.8h-.8zM20.8 545.8h.8v.8h-.8zM26.4 543.3h.8v.8h-.8zM26.5 537.9h.8v.8h-.8zM22.6 540.9h.8v.8h-.8zM31.7 547.5h.8v.8h-.8zM24.2 539.5h.8v.8h-.8zM23.0 546.1h.8v.8h-.8zM26.2 548.2h.8v.8h-.8zM20.7 538.6h.8v.8h-.8zM27.0 535.0h.8v.8h-.8zM23.7 547.7h.8v.8h-.8zM23.7 545.0h.8v.8h-.8zM31.3 543.3h.8v.8h-.8zM30.9 538.3h.8v.8h-.8zM28.9 534.1h.8v.8h-.8zM26.3 542.9h.8v.8h-.8zM26.3 544.0h.8v.8h-.8zM26.4 545.7h.8v.8h-.8zM32.8 546.6h.8v.8h-.8zM25.6 534.2h.8v.8h-.8zM32.3 538.8h.8v.8h-.8zM26.4 538.5h.8v.8h-.8zM31.3 537.8h.8v.8h-.8zM26.6 542.4h.8v.8h-.8zM23.5 545.7h.8v.8h-.8zM24.4 544.9h.8v.8h-.8zM30.8 537.8h.8v.8h-.8zM25.0 548.9h.8v.8h-.8zM27.5 535.4h.8v.8h-.8zM32.1 537.5h.8v.8h-.8zM31.6 540.7h.8v.8h-.8zM30.5 542.9h.8v.8h-.8zM28.9 547.6h.8v.8h-.8zM30.8 545.6h.8v.8h-.8zM28.8 545.4h.8v.8h-.8zM29.7 544.6h.8v.8h-.8zM31.5 544.5h.8v.8h-.8zM29.7 540.8h.8v.8h-.8zM26.0 546.5h.8v.8h-.8zM20.3 543.2h.8v.8h-.8zM22.5 547.2h.8v.8h-.8zM25.1 550.1h.8v.8h-.8zM32.2 545.3h.8v.8h-.8zM32.7 546.8h.8v.8h-.8zM27.3 541.1h.8v.8h-.8zM27.7 533.2h.8v.8h-.8zM32.5 542.7h.8v.8h-.8zM24.6 541.7h.8v.8h-.8zM32.1 545.9h.8v.8h-.8zM24.6 541.8h.8v.8h-.8zM25.7 540.1h.8v.8h-.8zM32.1 541.8h.8v.8h-.8zM21.9 545.5h.8v.8h-.8zM21.1 543.4h.8v.8h-.8zM25.1 537.8h.8v.8h-.8zM27.5 543.7h.8v.8h-.8zM23.8 539.0h.8v.8h-.8zM28.7 541.1h.8v.8h-.8zM30.0 544.4h.8v.8h-.8zM26.5 537.0h.8v.8h-.8zM26.1 543.6h.8v.8h-.8zM25.6 547.4h.8v.8h-.8zM29.7 540.4h.8v.8h-.8zM32.5 538.4h.8v.8h-.8zM31.4 548.6h.8v.8h-.8zM29.9 543.5h.8v.8h-.8zM24.8 546.4h.8v.8h-.8zM32.6 540.5h.8v.8h-.8zM26.7 534.7h.8v.8h-.8zM27.2 549.3h.8v.8h-.8zM30.6 538.5h.8v.8h-.8zM28.5 544.3h.8v.8h-.8zM29.2 542.2h.8v.8h-.8zM28.4 540.1h.8v.8h-.8zM23.9 539.5h.8v.8h-.8zM23.1 537.7h.8v.8h-.8zM30.4 540.6h.8v.8h-.8zM29.3 543.9h.8v.8h-.8zM29.0 538.1h.8v.8h-.8zM27.2 534.8h.8v.8h-.8zM26.9 542.5h.8v.8h-.8zM29.8 547.4h.8v.8h-.8zM27.9 545.9h.8v.8h-.8zM25.2 545.0h.8v.8h-.8zM24.4 537.3h.8v.8h-.8zM30.5 547.8h.8v.8h-.8zM26.1 546.3h.8v.8h-.8zM26.6 550.8h.8v.8h-.8zM31.4 537.3h.8v.8h-.8zM30.5 540.7h.8v.8h-.8zM27.8 533.6h.8v.8h-.8zM26.1 534.8h.8v.8h-.8zM21.5 546.6h.8v.8h-.8zM29.2 543.9h.8v.8h-.8zM28.8 539.5h.8v.8h-.8zM25.5 547.6h.8v.8h-.8zM27.3 544.2h.8v.8h-.8zM21.5 538.9h.8v.8h-.8zM23.7 542.9h.8v.8h-.8zM27.4 537.4h.8v.8h-.8zM24.0 541.1h.8v.8h-.8zM21.6 544.9h.8v.8h-.8zM22.5 544.8h.8v.8h-.8zM32.6 537.9h.8v.8h-.8zM28.5 544.4h.8v.8h-.8z" fill="#3f5cd0" opacity="0.85"/><ellipse cx="27.00" cy="542.00" rx="6.72" ry="8.64" fill="#4a66d4" opacity="0.75" filter="url(#bl05)" transform="rotate(0 27.00 542.00)"/><ellipse cx="27.00" cy="542.00" rx="5.04" ry="6.48" fill="#2a9a8c" opacity="0.85" filter="url(#bl05)" transform="rotate(0 27.00 542.00)"/><ellipse cx="27.00" cy="542.00" rx="2.80" ry="3.60" fill="#3cb858" opacity="0.9" filter="url(#bl05)" transform="rotate(0 27.00 542.00)"/><ellipse cx="28.00" cy="548.00" rx="3.75" ry="3.00" fill="#a4acec" opacity="0.4" filter="url(#bl1)" transform="rotate(0 28.00 548.00)"/><path d="M30.7 547.1h.8v.8h-.8zM22.6 549.6h.8v.8h-.8zM25.3 546.9h.8v.8h-.8zM27.1 551.4h.8v.8h-.8zM27.9 550.3h.8v.8h-.8zM28.2 545.2h.8v.8h-.8zM26.6 544.8h.8v.8h-.8zM35.2 552.3h.8v.8h-.8zM30.4 549.2h.8v.8h-.8zM24.3 545.2h.8v.8h-.8zM30.1 550.8h.8v.8h-.8zM30.7 549.7h.8v.8h-.8zM31.9 549.1h.8v.8h-.8zM31.2 550.5h.8v.8h-.8zM26.2 550.4h.8v.8h-.8zM26.1 546.2h.8v.8h-.8zM32.1 544.7h.8v.8h-.8zM25.6 549.0h.8v.8h-.8zM25.5 545.1h.8v.8h-.8zM30.3 545.6h.8v.8h-.8zM23.6 549.9h.8v.8h-.8zM27.6 545.5h.8v.8h-.8zM27.1 545.2h.8v.8h-.8zM29.1 544.5h.8v.8h-.8zM25.1 547.5h.8v.8h-.8zM33.0 547.3h.8v.8h-.8zM28.4 551.9h.8v.8h-.8zM26.5 546.3h.8v.8h-.8zM26.1 545.7h.8v.8h-.8zM27.9 545.5h.8v.8h-.8zM27.8 546.0h.8v.8h-.8zM24.4 546.0h.8v.8h-.8zM24.3 549.1h.8v.8h-.8zM25.3 548.6h.8v.8h-.8z" fill="#7d89e0" opacity="0.75"/><path d="M29.2 549.0h.8v.8h-.8zM29.1 548.9h.8v.8h-.8zM28.0 550.0h.8v.8h-.8zM27.5 549.8h.8v.8h-.8zM29.0 547.2h.8v.8h-.8zM29.3 547.8h.8v.8h-.8zM28.0 547.9h.8v.8h-.8zM30.1 547.4h.8v.8h-.8zM26.9 546.3h.8v.8h-.8zM28.4 546.8h.8v.8h-.8zM27.9 548.0h.8v.8h-.8zM28.4 547.5h.8v.8h-.8zM29.3 549.0h.8v.8h-.8zM26.8 546.8h.8v.8h-.8zM27.9 548.3h.8v.8h-.8zM26.0 548.7h.8v.8h-.8zM29.9 548.6h.8v.8h-.8zM28.8 547.0h.8v.8h-.8zM28.4 548.1h.8v.8h-.8zM28.1 547.0h.8v.8h-.8z" fill="#3f5cd0" opacity="0.85"/><ellipse cx="28.00" cy="548.00" rx="2.40" ry="1.92" fill="#4a66d4" opacity="0.75" filter="url(#bl05)" transform="rotate(0 28.00 548.00)"/><ellipse cx="28.00" cy="548.00" rx="1.40" ry="1.12" fill="#2a9a8a" opacity="0.9" filter="url(#bl05)" transform="rotate(0 28.00 548.00)"/><ellipse cx="57.00" cy="508.00" rx="7.50" ry="2.62" fill="#a4acec" opacity="0.25" filter="url(#bl1)" transform="rotate(-45 57.00 508.00)"/><path d="M57.0 505.3h.8v.8h-.8zM56.1 508.8h.8v.8h-.8zM56.7 504.1h.8v.8h-.8zM50.3 511.3h.8v.8h-.8zM51.3 511.1h.8v.8h-.8zM58.6 503.5h.8v.8h-.8zM64.9 500.8h.8v.8h-.8zM59.4 505.5h.8v.8h-.8zM60.5 505.4h.8v.8h-.8zM60.6 505.9h.8v.8h-.8zM59.7 506.3h.8v.8h-.8zM60.9 504.1h.8v.8h-.8zM57.1 511.8h.8v.8h-.8zM55.8 510.2h.8v.8h-.8zM63.7 499.7h.8v.8h-.8zM55.2 508.1h.8v.8h-.8zM54.5 512.1h.8v.8h-.8zM56.4 508.9h.8v.8h-.8zM51.6 514.6h.8v.8h-.8zM52.1 508.1h.8v.8h-.8zM52.5 508.6h.8v.8h-.8zM60.6 500.3h.8v.8h-.8zM56.7 505.7h.8v.8h-.8zM52.5 509.3h.8v.8h-.8zM59.9 502.3h.8v.8h-.8zM55.0 510.5h.8v.8h-.8zM56.6 510.2h.8v.8h-.8zM52.4 508.6h.8v.8h-.8zM60.1 507.9h.8v.8h-.8zM57.8 505.1h.8v.8h-.8zM62.1 504.8h.8v.8h-.8zM56.2 509.9h.8v.8h-.8zM57.0 508.2h.8v.8h-.8zM60.4 506.8h.8v.8h-.8zM57.4 507.8h.8v.8h-.8zM47.2 515.8h.8v.8h-.8zM57.7 505.4h.8v.8h-.8zM58.1 506.4h.8v.8h-.8zM57.4 507.9h.8v.8h-.8z" fill="#7d89e0" opacity="0.75"/><ellipse cx="49.00" cy="517.00" rx="5.25" ry="4.50" fill="#a4acec" opacity="0.4" filter="url(#bl1)" transform="rotate(-35 49.00 517.00)"/><path d="M53.6 515.6h.8v.8h-.8zM47.1 514.0h.8v.8h-.8zM48.2 513.6h.8v.8h-.8zM51.4 512.8h.8v.8h-.8zM47.0 520.2h.8v.8h-.8zM50.6 522.6h.8v.8h-.8zM53.3 516.0h.8v.8h-.8zM52.4 520.1h.8v.8h-.8zM46.8 514.7h.8v.8h-.8zM49.7 523.3h.8v.8h-.8zM41.7 515.5h.8v.8h-.8zM45.5 519.1h.8v.8h-.8zM50.4 520.2h.8v.8h-.8zM54.2 515.8h.8v.8h-.8zM45.8 515.4h.8v.8h-.8zM55.9 516.6h.8v.8h-.8zM49.3 521.9h.8v.8h-.8zM44.3 522.6h.8v.8h-.8zM48.6 513.2h.8v.8h-.8zM48.7 520.9h.8v.8h-.8zM49.3 512.7h.8v.8h-.8zM45.6 521.0h.8v.8h-.8zM45.5 516.9h.8v.8h-.8zM44.7 522.9h.8v.8h-.8zM44.4 517.2h.8v.8h-.8zM52.2 518.5h.8v.8h-.8zM54.8 517.0h.8v.8h-.8zM53.9 516.2h.8v.8h-.8zM50.6 521.3h.8v.8h-.8zM52.6 515.3h.8v.8h-.8zM45.8 515.0h.8v.8h-.8zM49.7 510.7h.8v.8h-.8zM42.4 516.6h.8v.8h-.8zM52.3 518.6h.8v.8h-.8zM49.5 521.5h.8v.8h-.8zM56.1 517.1h.8v.8h-.8zM47.7 522.8h.8v.8h-.8zM54.1 510.2h.8v.8h-.8zM46.7 523.4h.8v.8h-.8zM46.0 512.9h.8v.8h-.8zM52.1 518.3h.8v.8h-.8zM51.0 514.0h.8v.8h-.8zM51.3 520.6h.8v.8h-.8zM46.1 521.0h.8v.8h-.8zM55.1 514.3h.8v.8h-.8zM45.1 519.8h.8v.8h-.8zM42.5 521.4h.8v.8h-.8zM48.9 521.5h.8v.8h-.8zM56.2 519.5h.8v.8h-.8zM53.0 515.5h.8v.8h-.8zM50.6 520.5h.8v.8h-.8zM54.0 513.0h.8v.8h-.8zM51.5 519.4h.8v.8h-.8zM56.9 521.7h.8v.8h-.8zM53.8 513.5h.8v.8h-.8zM52.3 511.2h.8v.8h-.8zM46.3 514.5h.8v.8h-.8zM49.6 510.6h.8v.8h-.8zM45.5 513.3h.8v.8h-.8zM51.0 513.0h.8v.8h-.8zM47.7 521.3h.8v.8h-.8zM50.8 520.0h.8v.8h-.8zM51.8 513.9h.8v.8h-.8zM49.0 511.6h.8v.8h-.8z" fill="#7d89e0" opacity="0.75"/><path d="M47.0 517.9h.8v.8h-.8zM48.8 514.7h.8v.8h-.8zM47.5 517.1h.8v.8h-.8zM47.9 514.5h.8v.8h-.8zM47.5 516.3h.8v.8h-.8zM47.7 517.7h.8v.8h-.8zM48.0 516.8h.8v.8h-.8zM47.8 518.6h.8v.8h-.8zM50.6 519.0h.8v.8h-.8zM52.0 516.7h.8v.8h-.8zM50.6 514.5h.8v.8h-.8zM52.2 516.8h.8v.8h-.8zM49.9 515.8h.8v.8h-.8zM48.9 519.2h.8v.8h-.8zM51.5 516.3h.8v.8h-.8zM49.8 519.3h.8v.8h-.8zM48.0 518.6h.8v.8h-.8zM49.6 520.0h.8v.8h-.8zM48.4 516.3h.8v.8h-.8zM49.5 515.8h.8v.8h-.8zM51.8 518.0h.8v.8h-.8zM50.6 515.9h.8v.8h-.8zM47.1 519.2h.8v.8h-.8zM47.1 519.2h.8v.8h-.8zM46.7 516.2h.8v.8h-.8zM48.0 514.5h.8v.8h-.8zM51.4 516.1h.8v.8h-.8zM50.7 516.2h.8v.8h-.8zM49.4 519.4h.8v.8h-.8zM50.7 516.6h.8v.8h-.8zM48.1 514.8h.8v.8h-.8zM51.4 518.0h.8v.8h-.8zM51.1 516.4h.8v.8h-.8zM51.6 515.4h.8v.8h-.8zM49.3 517.8h.8v.8h-.8zM50.4 517.1h.8v.8h-.8zM50.8 519.4h.8v.8h-.8zM45.9 517.3h.8v.8h-.8z" fill="#3f5cd0" opacity="0.85"/><ellipse cx="49.00" cy="517.00" rx="3.36" ry="2.88" fill="#4a66d4" opacity="0.75" filter="url(#bl05)" transform="rotate(-35 49.00 517.00)"/><ellipse cx="49.00" cy="517.00" rx="1.96" ry="1.68" fill="#2a9a8a" opacity="0.9" filter="url(#bl05)" transform="rotate(-35 49.00 517.00)"/><ellipse cx="49.70" cy="556.50" rx="4.88" ry="3.38" fill="#a4acec" opacity="0.4" filter="url(#bl1)" transform="rotate(0 49.70 556.50)"/><path d="M45.3 553.1h.8v.8h-.8zM47.4 553.8h.8v.8h-.8zM48.6 560.2h.8v.8h-.8zM51.8 561.6h.8v.8h-.8zM53.0 558.6h.8v.8h-.8zM48.2 552.9h.8v.8h-.8zM42.9 556.9h.8v.8h-.8zM46.1 553.9h.8v.8h-.8zM45.6 557.1h.8v.8h-.8zM54.3 558.7h.8v.8h-.8zM47.5 558.7h.8v.8h-.8zM43.3 555.9h.8v.8h-.8zM48.3 559.3h.8v.8h-.8zM45.8 554.4h.8v.8h-.8zM45.2 557.1h.8v.8h-.8zM45.6 557.5h.8v.8h-.8zM51.5 558.5h.8v.8h-.8zM46.6 559.4h.8v.8h-.8zM52.6 555.0h.8v.8h-.8zM49.5 559.2h.8v.8h-.8zM47.0 553.3h.8v.8h-.8zM45.5 556.9h.8v.8h-.8zM50.8 550.7h.8v.8h-.8zM44.7 556.4h.8v.8h-.8zM47.2 559.6h.8v.8h-.8zM46.5 558.9h.8v.8h-.8zM45.9 554.2h.8v.8h-.8zM54.4 554.8h.8v.8h-.8zM48.4 553.0h.8v.8h-.8zM50.3 559.7h.8v.8h-.8zM45.6 556.6h.8v.8h-.8zM48.7 552.6h.8v.8h-.8zM41.9 557.6h.8v.8h-.8zM45.6 557.6h.8v.8h-.8zM47.8 550.8h.8v.8h-.8zM54.8 558.6h.8v.8h-.8zM47.3 554.1h.8v.8h-.8zM51.3 552.0h.8v.8h-.8zM52.1 558.7h.8v.8h-.8zM45.8 554.1h.8v.8h-.8zM55.6 555.4h.8v.8h-.8zM43.0 558.8h.8v.8h-.8zM55.1 555.2h.8v.8h-.8zM46.8 560.0h.8v.8h-.8zM44.8 555.8h.8v.8h-.8zM45.3 552.9h.8v.8h-.8zM47.7 550.4h.8v.8h-.8zM45.8 556.6h.8v.8h-.8zM47.3 554.0h.8v.8h-.8zM57.8 558.3h.8v.8h-.8zM48.0 559.0h.8v.8h-.8z" fill="#7d89e0" opacity="0.75"/><path d="M47.4 557.8h.8v.8h-.8zM50.4 554.6h.8v.8h-.8zM50.0 556.8h.8v.8h-.8zM47.6 555.6h.8v.8h-.8zM52.6 556.6h.8v.8h-.8zM50.0 558.1h.8v.8h-.8zM51.6 557.2h.8v.8h-.8zM48.7 558.3h.8v.8h-.8zM48.6 555.5h.8v.8h-.8zM50.2 557.5h.8v.8h-.8zM50.3 556.3h.8v.8h-.8zM46.9 556.5h.8v.8h-.8zM52.3 556.9h.8v.8h-.8zM50.9 556.0h.8v.8h-.8zM49.2 556.2h.8v.8h-.8zM50.1 558.4h.8v.8h-.8zM47.8 556.6h.8v.8h-.8zM48.9 556.0h.8v.8h-.8zM48.8 555.9h.8v.8h-.8zM49.8 554.8h.8v.8h-.8zM52.7 556.4h.8v.8h-.8zM50.3 555.7h.8v.8h-.8zM51.8 556.9h.8v.8h-.8z" fill="#3f5cd0" opacity="0.85"/><ellipse cx="49.70" cy="556.50" rx="3.12" ry="2.16" fill="#4a66d4" opacity="0.75" filter="url(#bl05)" transform="rotate(0 49.70 556.50)"/><ellipse cx="49.70" cy="556.50" rx="1.82" ry="1.26" fill="#2a9a8a" opacity="0.9" filter="url(#bl05)" transform="rotate(0 49.70 556.50)"/><path d="M53.5 535.8h.8v.8h-.8zM50.9 548.9h.8v.8h-.8zM52.2 547.2h.8v.8h-.8zM48.0 532.5h.8v.8h-.8zM50.2 538.8h.8v.8h-.8zM51.9 543.9h.8v.8h-.8zM53.0 538.0h.8v.8h-.8zM53.1 542.4h.8v.8h-.8zM52.6 523.2h.8v.8h-.8zM51.0 541.8h.8v.8h-.8zM51.2 546.5h.8v.8h-.8zM51.0 538.4h.8v.8h-.8zM50.4 537.3h.8v.8h-.8zM54.3 546.6h.8v.8h-.8zM53.8 542.1h.8v.8h-.8zM52.3 530.2h.8v.8h-.8zM53.3 534.1h.8v.8h-.8zM52.6 537.4h.8v.8h-.8zM53.7 534.0h.8v.8h-.8zM53.6 538.1h.8v.8h-.8zM55.3 537.3h.8v.8h-.8zM51.7 526.6h.8v.8h-.8zM53.8 538.2h.8v.8h-.8zM47.5 540.9h.8v.8h-.8zM53.0 536.1h.8v.8h-.8zM54.6 537.4h.8v.8h-.8zM51.7 540.4h.8v.8h-.8zM49.7 541.4h.8v.8h-.8zM50.3 539.6h.8v.8h-.8zM54.2 535.7h.8v.8h-.8zM50.7 548.1h.8v.8h-.8zM52.1 544.5h.8v.8h-.8zM53.2 540.8h.8v.8h-.8zM54.9 537.8h.8v.8h-.8zM48.9 536.6h.8v.8h-.8zM50.8 531.3h.8v.8h-.8zM51.2 540.6h.8v.8h-.8zM53.0 538.6h.8v.8h-.8zM51.8 538.5h.8v.8h-.8zM51.1 533.0h.8v.8h-.8zM52.2 543.4h.8v.8h-.8zM50.6 538.2h.8v.8h-.8zM53.4 532.3h.8v.8h-.8zM52.8 539.1h.8v.8h-.8zM54.1 532.8h.8v.8h-.8zM51.2 547.5h.8v.8h-.8zM56.2 541.7h.8v.8h-.8zM54.8 534.4h.8v.8h-.8zM54.1 540.0h.8v.8h-.8zM53.4 530.8h.8v.8h-.8zM52.4 542.4h.8v.8h-.8z" fill="#7d89e0" opacity="0.75"/><rect x="17.9" y="530.2" width="0.7" height="0.7" fill="#7a86dc" opacity="0.5"/><rect x="24.5" y="525.8" width="0.7" height="0.7" fill="#7a86dc" opacity="0.5"/><rect x="64.9" y="552.2" width="0.7" height="0.7" fill="#7a86dc" opacity="0.5"/><rect x="42.1" y="545.4" width="0.7" height="0.7" fill="#7a86dc" opacity="0.5"/><rect x="21.9" y="555.0" width="0.7" height="0.7" fill="#7a86dc" opacity="0.5"/><rect x="63.2" y="527.9" width="0.7" height="0.7" fill="#7a86dc" opacity="0.5"/><rect x="64.4" y="517.2" width="0.7" height="0.7" fill="#7a86dc" opacity="0.5"/><rect x="69.7" y="518.7" width="0.7" height="0.7" fill="#7a86dc" opacity="0.5"/><rect x="66.5" y="548.5" width="0.7" height="0.7" fill="#7a86dc" opacity="0.5"/><rect x="67.1" y="542.1" width="0.7" height="0.7" fill="#7a86dc" opacity="0.5"/><rect x="18.4" y="516.1" width="0.7" height="0.7" fill="#7a86dc" opacity="0.5"/><rect x="51.3" y="552.7" width="0.7" height="0.7" fill="#7a86dc" opacity="0.5"/></g><rect x="31.00" y="512.40" width="11.10" height="12.20" fill="none" stroke="#8a8a8a" stroke-width="0.8"/><rect x="42.10" y="504.40" width="19.20" height="55.60" fill="none" stroke="#8a8a8a" stroke-width="0.8"/><text x="29.80" y="521.60" font-size="8.6" text-anchor="end" fill="#222" stroke="#222" stroke-width="0.22">E1</text><path d="M62.20,530.90 L70.60,530.90 L70.60,529.00 L75.60,532.50 L70.60,536.00 L70.60,534.10 L62.20,534.10 Z" fill="#fff" stroke="#111" stroke-width="0.9"/><clipPath id="cf6"><rect x="76.2" y="498.0" width="61.499999999999986" height="61.0"/></clipPath><rect x="76.20" y="498.00" width="61.50" height="61.00" fill="#fff" stroke="#a0a0a0" stroke-width="0.9"/><g clip-path="url(#cf6)"><ellipse cx="81.00" cy="516.50" rx="6.00" ry="2.25" fill="#a4acec" opacity="0.4" filter="url(#bl1)" transform="rotate(-45 81.00 516.50)"/><path d="M80.5 513.1h.8v.8h-.8zM85.3 512.2h.8v.8h-.8zM76.5 521.7h.8v.8h-.8zM78.8 521.4h.8v.8h-.8zM82.2 519.2h.8v.8h-.8zM79.5 515.8h.8v.8h-.8zM76.3 520.4h.8v.8h-.8zM83.6 516.5h.8v.8h-.8zM80.9 513.4h.8v.8h-.8zM86.5 513.2h.8v.8h-.8zM81.0 514.3h.8v.8h-.8zM84.3 512.3h.8v.8h-.8zM83.8 516.7h.8v.8h-.8zM78.6 522.8h.8v.8h-.8zM83.3 512.8h.8v.8h-.8zM76.9 518.0h.8v.8h-.8zM80.9 510.9h.8v.8h-.8zM82.7 513.0h.8v.8h-.8zM85.3 514.4h.8v.8h-.8zM84.6 517.2h.8v.8h-.8zM79.9 521.7h.8v.8h-.8zM79.7 519.4h.8v.8h-.8zM93.1 511.1h.8v.8h-.8zM84.3 514.0h.8v.8h-.8zM79.8 515.5h.8v.8h-.8zM86.9 510.0h.8v.8h-.8zM76.0 517.4h.8v.8h-.8zM76.4 522.4h.8v.8h-.8zM80.7 514.2h.8v.8h-.8zM76.8 521.3h.8v.8h-.8zM76.0 521.8h.8v.8h-.8zM84.8 514.7h.8v.8h-.8zM75.3 523.7h.8v.8h-.8zM82.0 517.7h.8v.8h-.8zM82.9 512.5h.8v.8h-.8zM81.9 518.1h.8v.8h-.8zM74.3 518.3h.8v.8h-.8zM83.0 513.5h.8v.8h-.8zM79.0 520.0h.8v.8h-.8zM80.4 512.1h.8v.8h-.8z" fill="#7d89e0" opacity="0.75"/><path d="M78.8 518.9h.8v.8h-.8zM81.0 514.9h.8v.8h-.8zM81.7 514.2h.8v.8h-.8zM83.0 515.3h.8v.8h-.8zM78.7 517.4h.8v.8h-.8zM83.9 513.9h.8v.8h-.8zM78.4 518.0h.8v.8h-.8zM79.7 517.3h.8v.8h-.8zM80.9 517.9h.8v.8h-.8zM79.5 518.2h.8v.8h-.8zM80.7 516.5h.8v.8h-.8zM80.9 516.2h.8v.8h-.8zM78.5 517.7h.8v.8h-.8zM83.1 514.2h.8v.8h-.8zM80.2 517.8h.8v.8h-.8zM80.1 515.7h.8v.8h-.8zM81.5 516.4h.8v.8h-.8zM80.2 518.6h.8v.8h-.8zM79.5 518.2h.8v.8h-.8zM79.9 519.0h.8v.8h-.8zM81.0 514.7h.8v.8h-.8zM78.4 518.0h.8v.8h-.8z" fill="#3f5cd0" opacity="0.85"/><ellipse cx="81.00" cy="516.50" rx="3.84" ry="1.44" fill="#4a66d4" opacity="0.75" filter="url(#bl05)" transform="rotate(-45 81.00 516.50)"/><ellipse cx="81.00" cy="516.50" rx="2.88" ry="1.08" fill="#2a9a8c" opacity="0.85" filter="url(#bl05)" transform="rotate(-45 81.00 516.50)"/><ellipse cx="81.00" cy="516.50" rx="1.60" ry="0.60" fill="#3cb858" opacity="0.9" filter="url(#bl05)" transform="rotate(-45 81.00 516.50)"/><ellipse cx="104.30" cy="516.20" rx="3.75" ry="1.88" fill="#a4acec" opacity="0.4" filter="url(#bl1)" transform="rotate(-20 104.30 516.20)"/><path d="M108.6 515.1h.8v.8h-.8zM107.7 516.4h.8v.8h-.8zM101.4 519.8h.8v.8h-.8zM107.4 518.2h.8v.8h-.8zM102.1 516.1h.8v.8h-.8zM104.4 513.7h.8v.8h-.8zM101.6 517.3h.8v.8h-.8zM106.9 516.8h.8v.8h-.8zM107.5 516.3h.8v.8h-.8zM99.4 518.7h.8v.8h-.8zM101.2 515.8h.8v.8h-.8zM108.1 516.7h.8v.8h-.8zM107.5 516.0h.8v.8h-.8zM108.3 513.1h.8v.8h-.8zM106.1 514.6h.8v.8h-.8zM102.1 514.7h.8v.8h-.8zM108.9 517.0h.8v.8h-.8zM106.3 514.7h.8v.8h-.8zM104.3 514.7h.8v.8h-.8zM104.4 518.3h.8v.8h-.8zM108.6 515.6h.8v.8h-.8zM106.7 515.0h.8v.8h-.8zM108.6 515.9h.8v.8h-.8zM101.9 515.8h.8v.8h-.8zM108.4 514.6h.8v.8h-.8z" fill="#7d89e0" opacity="0.75"/><path d="M104.3 516.4h.8v.8h-.8zM103.6 516.6h.8v.8h-.8zM104.7 515.7h.8v.8h-.8zM106.4 516.2h.8v.8h-.8zM103.1 516.2h.8v.8h-.8zM103.4 516.1h.8v.8h-.8zM106.2 515.3h.8v.8h-.8zM105.2 515.7h.8v.8h-.8zM105.3 515.0h.8v.8h-.8zM104.8 515.9h.8v.8h-.8zM105.8 515.8h.8v.8h-.8zM103.9 516.7h.8v.8h-.8z" fill="#3f5cd0" opacity="0.85"/><ellipse cx="104.30" cy="516.20" rx="2.40" ry="1.20" fill="#4a66d4" opacity="0.75" filter="url(#bl05)" transform="rotate(-20 104.30 516.20)"/><ellipse cx="121.00" cy="514.00" rx="9.00" ry="3.75" fill="#a4acec" opacity="0.25" filter="url(#bl1)" transform="rotate(-10 121.00 514.00)"/><path d="M129.9 511.2h.8v.8h-.8zM119.8 515.1h.8v.8h-.8zM120.4 512.8h.8v.8h-.8zM114.3 514.3h.8v.8h-.8zM118.6 514.5h.8v.8h-.8zM127.9 514.2h.8v.8h-.8zM128.5 513.3h.8v.8h-.8zM124.2 515.2h.8v.8h-.8zM126.1 515.9h.8v.8h-.8zM117.9 515.8h.8v.8h-.8zM123.0 517.0h.8v.8h-.8zM126.2 511.6h.8v.8h-.8zM124.1 515.4h.8v.8h-.8zM122.1 517.2h.8v.8h-.8zM122.2 510.4h.8v.8h-.8zM123.4 515.7h.8v.8h-.8zM116.5 516.7h.8v.8h-.8zM104.9 522.3h.8v.8h-.8zM112.2 514.3h.8v.8h-.8zM118.5 510.7h.8v.8h-.8zM122.6 511.3h.8v.8h-.8zM111.7 509.5h.8v.8h-.8zM126.0 516.3h.8v.8h-.8zM119.5 514.9h.8v.8h-.8zM131.2 513.3h.8v.8h-.8zM128.7 515.4h.8v.8h-.8zM126.0 514.6h.8v.8h-.8zM128.6 513.3h.8v.8h-.8zM121.7 512.0h.8v.8h-.8zM107.9 513.9h.8v.8h-.8zM119.6 517.1h.8v.8h-.8zM118.1 509.3h.8v.8h-.8zM126.0 516.5h.8v.8h-.8zM123.3 514.5h.8v.8h-.8zM122.9 513.6h.8v.8h-.8zM129.6 510.4h.8v.8h-.8zM115.9 511.1h.8v.8h-.8zM117.8 512.8h.8v.8h-.8zM117.2 515.3h.8v.8h-.8zM127.2 509.4h.8v.8h-.8zM121.7 512.1h.8v.8h-.8zM116.9 513.6h.8v.8h-.8zM122.8 509.5h.8v.8h-.8zM130.6 512.2h.8v.8h-.8zM116.0 510.7h.8v.8h-.8zM128.2 514.7h.8v.8h-.8zM126.8 513.5h.8v.8h-.8zM132.8 516.2h.8v.8h-.8zM134.8 512.6h.8v.8h-.8zM127.1 512.0h.8v.8h-.8zM121.9 513.1h.8v.8h-.8zM121.6 514.2h.8v.8h-.8zM121.4 514.0h.8v.8h-.8zM122.1 512.8h.8v.8h-.8zM116.7 513.6h.8v.8h-.8zM125.7 515.2h.8v.8h-.8zM129.1 519.2h.8v.8h-.8zM115.3 517.4h.8v.8h-.8zM112.8 514.0h.8v.8h-.8zM116.2 515.1h.8v.8h-.8zM130.1 516.6h.8v.8h-.8zM123.8 516.2h.8v.8h-.8zM123.3 510.4h.8v.8h-.8z" fill="#7d89e0" opacity="0.75"/><ellipse cx="88.80" cy="556.00" rx="8.25" ry="3.00" fill="#a4acec" opacity="0.4" filter="url(#bl1)" transform="rotate(0 88.80 556.00)"/><path d="M98.7 554.8h.8v.8h-.8zM83.4 554.7h.8v.8h-.8zM93.3 554.0h.8v.8h-.8zM85.2 552.4h.8v.8h-.8zM78.0 556.7h.8v.8h-.8zM98.9 554.0h.8v.8h-.8zM81.1 559.0h.8v.8h-.8zM81.8 553.5h.8v.8h-.8zM98.0 553.9h.8v.8h-.8zM74.7 555.4h.8v.8h-.8zM79.0 555.5h.8v.8h-.8zM99.8 555.9h.8v.8h-.8zM79.2 553.7h.8v.8h-.8zM82.8 553.0h.8v.8h-.8zM94.8 557.8h.8v.8h-.8zM85.0 552.7h.8v.8h-.8zM102.5 559.0h.8v.8h-.8zM87.0 551.4h.8v.8h-.8zM81.0 553.0h.8v.8h-.8zM88.4 553.7h.8v.8h-.8zM94.9 557.8h.8v.8h-.8zM78.9 557.0h.8v.8h-.8zM80.4 554.5h.8v.8h-.8zM96.7 555.5h.8v.8h-.8zM100.6 556.0h.8v.8h-.8zM106.7 557.2h.8v.8h-.8zM87.4 559.3h.8v.8h-.8zM82.8 557.9h.8v.8h-.8zM97.5 558.4h.8v.8h-.8zM81.2 558.8h.8v.8h-.8zM93.9 558.5h.8v.8h-.8zM83.1 556.4h.8v.8h-.8zM95.8 556.3h.8v.8h-.8zM103.9 555.8h.8v.8h-.8zM86.0 553.9h.8v.8h-.8zM86.0 552.4h.8v.8h-.8zM100.2 555.7h.8v.8h-.8zM77.4 554.8h.8v.8h-.8zM73.4 557.7h.8v.8h-.8zM88.6 552.9h.8v.8h-.8zM93.6 554.3h.8v.8h-.8zM87.5 552.8h.8v.8h-.8zM87.8 553.2h.8v.8h-.8zM98.6 558.3h.8v.8h-.8zM94.1 560.3h.8v.8h-.8zM89.8 558.0h.8v.8h-.8zM81.9 557.2h.8v.8h-.8zM83.1 554.1h.8v.8h-.8zM87.8 558.9h.8v.8h-.8zM95.3 555.6h.8v.8h-.8zM82.1 552.9h.8v.8h-.8zM83.9 556.9h.8v.8h-.8zM96.0 555.9h.8v.8h-.8zM87.4 559.0h.8v.8h-.8zM85.3 558.8h.8v.8h-.8zM93.5 557.4h.8v.8h-.8zM82.9 557.8h.8v.8h-.8zM94.3 553.4h.8v.8h-.8zM79.6 556.1h.8v.8h-.8zM77.3 555.6h.8v.8h-.8zM94.5 559.0h.8v.8h-.8zM81.6 552.8h.8v.8h-.8z" fill="#7d89e0" opacity="0.75"/><path d="M85.9 555.9h.8v.8h-.8zM91.5 555.3h.8v.8h-.8zM92.0 554.5h.8v.8h-.8zM88.8 557.1h.8v.8h-.8zM88.4 556.2h.8v.8h-.8zM88.0 556.8h.8v.8h-.8zM91.0 555.6h.8v.8h-.8zM86.6 556.7h.8v.8h-.8zM83.4 556.1h.8v.8h-.8zM91.6 556.4h.8v.8h-.8zM88.2 554.8h.8v.8h-.8zM86.0 556.0h.8v.8h-.8zM87.3 555.1h.8v.8h-.8zM86.8 557.0h.8v.8h-.8zM90.5 557.2h.8v.8h-.8zM92.7 555.1h.8v.8h-.8zM86.8 556.2h.8v.8h-.8zM90.2 555.2h.8v.8h-.8zM87.9 556.1h.8v.8h-.8zM91.4 556.5h.8v.8h-.8zM84.7 556.6h.8v.8h-.8zM83.7 555.5h.8v.8h-.8zM88.5 555.4h.8v.8h-.8zM88.5 555.9h.8v.8h-.8zM85.4 555.7h.8v.8h-.8zM89.7 556.1h.8v.8h-.8zM90.0 557.7h.8v.8h-.8zM89.9 556.6h.8v.8h-.8zM91.8 555.0h.8v.8h-.8zM86.5 557.0h.8v.8h-.8zM83.6 555.4h.8v.8h-.8zM87.4 555.3h.8v.8h-.8zM88.7 557.6h.8v.8h-.8zM93.6 555.7h.8v.8h-.8zM91.5 555.2h.8v.8h-.8zM86.5 556.0h.8v.8h-.8zM85.3 555.7h.8v.8h-.8zM88.8 556.1h.8v.8h-.8zM88.3 557.8h.8v.8h-.8zM88.5 554.3h.8v.8h-.8zM92.1 555.0h.8v.8h-.8zM90.6 556.1h.8v.8h-.8zM91.0 555.4h.8v.8h-.8zM89.6 554.9h.8v.8h-.8z" fill="#3f5cd0" opacity="0.85"/><ellipse cx="88.80" cy="556.00" rx="5.28" ry="1.92" fill="#4a66d4" opacity="0.75" filter="url(#bl05)" transform="rotate(0 88.80 556.00)"/><ellipse cx="88.80" cy="556.00" rx="3.08" ry="1.12" fill="#2a9a8a" opacity="0.9" filter="url(#bl05)" transform="rotate(0 88.80 556.00)"/><rect x="85.0" y="522.7" width="0.7" height="0.7" fill="#8a94dc" opacity="0.45"/><rect x="106.3" y="504.0" width="0.7" height="0.7" fill="#8a94dc" opacity="0.45"/><rect x="94.1" y="510.0" width="0.7" height="0.7" fill="#8a94dc" opacity="0.45"/><rect x="86.0" y="505.6" width="0.7" height="0.7" fill="#8a94dc" opacity="0.45"/><rect x="79.6" y="512.4" width="0.7" height="0.7" fill="#8a94dc" opacity="0.45"/><rect x="97.0" y="523.9" width="0.7" height="0.7" fill="#8a94dc" opacity="0.45"/><rect x="118.1" y="534.9" width="0.7" height="0.7" fill="#8a94dc" opacity="0.45"/><rect x="106.2" y="518.4" width="0.7" height="0.7" fill="#8a94dc" opacity="0.45"/><rect x="113.5" y="511.0" width="0.7" height="0.7" fill="#8a94dc" opacity="0.45"/><rect x="88.4" y="506.4" width="0.7" height="0.7" fill="#8a94dc" opacity="0.45"/><rect x="116.7" y="507.9" width="0.7" height="0.7" fill="#8a94dc" opacity="0.45"/><rect x="91.0" y="520.0" width="0.7" height="0.7" fill="#8a94dc" opacity="0.45"/><rect x="110.6" y="536.9" width="0.7" height="0.7" fill="#8a94dc" opacity="0.45"/><rect x="112.3" y="534.0" width="0.7" height="0.7" fill="#8a94dc" opacity="0.45"/></g><line x1="76.20" y1="532.60" x2="137.70" y2="532.60" stroke="#888" stroke-width="0.8"/><line x1="94.10" y1="498.00" x2="94.10" y2="532.60" stroke="#888" stroke-width="0.8"/><line x1="111.70" y1="498.00" x2="111.70" y2="559.00" stroke="#888" stroke-width="0.8"/><text x="85.65" y="531.20" font-size="8.6" text-anchor="middle" fill="#222" stroke="#222" stroke-width="0.22">E4</text><text x="102.90" y="531.20" font-size="8.6" text-anchor="middle" fill="#222" stroke="#222" stroke-width="0.22">E3</text><text x="124.70" y="531.20" font-size="8.6" text-anchor="middle" fill="#222" stroke="#222" stroke-width="0.22">E2</text><text x="101.40" y="541.80" font-size="8.6" text-anchor="middle" fill="#222" stroke="#222" stroke-width="0.22">R</text><clipPath id="cf7"><rect x="139.5" y="498.0" width="60.599999999999994" height="61.39999999999998"/></clipPath><rect x="139.50" y="498.00" width="60.60" height="61.40" fill="#fff" stroke="#a0a0a0" stroke-width="0.9"/><g clip-path="url(#cf7)"><ellipse cx="152.20" cy="538.40" rx="6.75" ry="12.75" fill="#a4acec" opacity="0.4" filter="url(#bl1)" transform="rotate(28 152.20 538.40)"/><path d="M155.0 544.2h.8v.8h-.8zM155.5 542.6h.8v.8h-.8zM141.8 541.4h.8v.8h-.8zM152.4 521.1h.8v.8h-.8zM150.5 532.8h.8v.8h-.8zM142.3 550.4h.8v.8h-.8zM149.5 549.0h.8v.8h-.8zM152.7 531.3h.8v.8h-.8zM154.3 529.9h.8v.8h-.8zM145.0 546.8h.8v.8h-.8zM160.1 527.7h.8v.8h-.8zM147.0 548.7h.8v.8h-.8zM145.2 531.5h.8v.8h-.8zM142.7 541.6h.8v.8h-.8zM151.0 547.3h.8v.8h-.8zM156.6 544.4h.8v.8h-.8zM158.1 528.5h.8v.8h-.8zM155.6 527.5h.8v.8h-.8zM150.4 532.1h.8v.8h-.8zM166.0 525.4h.8v.8h-.8zM145.2 537.1h.8v.8h-.8zM155.8 546.1h.8v.8h-.8zM154.8 514.6h.8v.8h-.8zM143.5 543.6h.8v.8h-.8zM156.1 542.0h.8v.8h-.8zM156.2 546.7h.8v.8h-.8zM140.4 545.0h.8v.8h-.8zM153.9 544.6h.8v.8h-.8zM146.7 529.1h.8v.8h-.8zM163.2 526.1h.8v.8h-.8zM147.2 546.0h.8v.8h-.8zM140.1 548.1h.8v.8h-.8zM147.9 547.6h.8v.8h-.8zM156.4 540.9h.8v.8h-.8zM144.6 543.9h.8v.8h-.8zM160.1 538.1h.8v.8h-.8zM147.1 534.3h.8v.8h-.8zM162.3 533.5h.8v.8h-.8zM162.7 531.3h.8v.8h-.8zM146.3 541.6h.8v.8h-.8zM153.3 547.6h.8v.8h-.8zM159.2 545.4h.8v.8h-.8zM170.4 522.4h.8v.8h-.8zM146.5 537.8h.8v.8h-.8zM160.8 546.5h.8v.8h-.8zM142.9 528.6h.8v.8h-.8zM161.2 531.5h.8v.8h-.8zM149.5 551.9h.8v.8h-.8zM146.6 531.9h.8v.8h-.8zM167.8 519.9h.8v.8h-.8zM162.7 529.5h.8v.8h-.8zM161.2 528.3h.8v.8h-.8zM148.0 548.1h.8v.8h-.8zM145.5 550.2h.8v.8h-.8zM157.8 538.4h.8v.8h-.8zM168.3 535.5h.8v.8h-.8zM152.2 523.3h.8v.8h-.8zM158.7 532.2h.8v.8h-.8zM154.1 524.7h.8v.8h-.8zM154.3 547.0h.8v.8h-.8zM162.2 534.3h.8v.8h-.8zM156.9 529.5h.8v.8h-.8zM148.8 552.5h.8v.8h-.8zM142.0 548.6h.8v.8h-.8zM157.0 539.2h.8v.8h-.8zM138.2 545.0h.8v.8h-.8zM162.6 533.7h.8v.8h-.8zM150.7 552.5h.8v.8h-.8zM159.0 540.2h.8v.8h-.8zM144.9 544.7h.8v.8h-.8zM159.2 539.5h.8v.8h-.8zM144.3 530.3h.8v.8h-.8zM141.1 540.7h.8v.8h-.8zM147.0 548.9h.8v.8h-.8zM147.6 546.4h.8v.8h-.8zM151.7 554.2h.8v.8h-.8zM145.8 543.8h.8v.8h-.8zM148.9 525.8h.8v.8h-.8zM139.7 542.4h.8v.8h-.8zM147.2 535.6h.8v.8h-.8zM159.4 542.7h.8v.8h-.8zM150.2 547.4h.8v.8h-.8zM156.6 528.1h.8v.8h-.8zM145.4 545.6h.8v.8h-.8zM147.9 530.1h.8v.8h-.8zM153.1 546.8h.8v.8h-.8zM157.8 529.6h.8v.8h-.8zM148.4 530.0h.8v.8h-.8zM158.4 536.0h.8v.8h-.8zM151.7 530.4h.8v.8h-.8zM146.4 534.1h.8v.8h-.8zM145.8 538.7h.8v.8h-.8zM141.1 535.8h.8v.8h-.8zM157.6 521.8h.8v.8h-.8zM146.6 526.7h.8v.8h-.8zM152.3 545.9h.8v.8h-.8zM155.0 546.5h.8v.8h-.8zM162.7 523.1h.8v.8h-.8zM150.5 550.6h.8v.8h-.8zM167.5 528.9h.8v.8h-.8zM144.1 558.3h.8v.8h-.8zM145.5 541.7h.8v.8h-.8zM160.5 541.6h.8v.8h-.8zM150.8 546.7h.8v.8h-.8zM149.5 533.4h.8v.8h-.8zM152.2 530.0h.8v.8h-.8zM158.5 553.2h.8v.8h-.8zM165.6 519.6h.8v.8h-.8zM157.4 545.4h.8v.8h-.8zM139.9 542.2h.8v.8h-.8zM150.2 555.4h.8v.8h-.8zM149.2 530.1h.8v.8h-.8zM154.6 529.9h.8v.8h-.8zM156.7 551.2h.8v.8h-.8zM152.8 525.3h.8v.8h-.8zM155.1 549.9h.8v.8h-.8zM156.4 548.7h.8v.8h-.8zM146.4 527.8h.8v.8h-.8zM156.9 528.3h.8v.8h-.8zM149.6 547.6h.8v.8h-.8zM158.1 531.8h.8v.8h-.8zM144.1 534.7h.8v.8h-.8zM145.3 542.1h.8v.8h-.8zM158.6 515.5h.8v.8h-.8zM141.4 548.4h.8v.8h-.8zM156.3 526.9h.8v.8h-.8zM155.4 547.2h.8v.8h-.8zM155.0 549.6h.8v.8h-.8zM160.9 532.2h.8v.8h-.8zM146.5 546.1h.8v.8h-.8zM150.9 546.8h.8v.8h-.8zM140.8 557.8h.8v.8h-.8zM158.2 539.4h.8v.8h-.8zM141.8 558.9h.8v.8h-.8zM156.2 540.6h.8v.8h-.8zM146.6 537.3h.8v.8h-.8zM149.0 548.0h.8v.8h-.8zM153.5 544.5h.8v.8h-.8zM150.5 531.2h.8v.8h-.8zM158.3 527.0h.8v.8h-.8zM158.7 521.8h.8v.8h-.8zM157.1 526.8h.8v.8h-.8zM157.6 546.4h.8v.8h-.8zM160.4 533.9h.8v.8h-.8zM159.0 523.8h.8v.8h-.8zM151.5 547.4h.8v.8h-.8zM144.6 533.8h.8v.8h-.8zM162.1 526.0h.8v.8h-.8zM149.1 526.1h.8v.8h-.8zM155.4 526.1h.8v.8h-.8zM153.6 550.8h.8v.8h-.8zM148.9 531.6h.8v.8h-.8zM152.3 527.7h.8v.8h-.8zM160.8 527.1h.8v.8h-.8zM147.2 535.5h.8v.8h-.8zM162.8 516.8h.8v.8h-.8zM148.0 536.5h.8v.8h-.8zM145.2 536.7h.8v.8h-.8zM158.5 528.0h.8v.8h-.8zM154.8 526.2h.8v.8h-.8zM148.1 535.1h.8v.8h-.8zM163.1 541.0h.8v.8h-.8zM156.2 541.8h.8v.8h-.8zM166.7 522.3h.8v.8h-.8zM145.0 558.0h.8v.8h-.8zM148.2 549.1h.8v.8h-.8zM151.4 547.5h.8v.8h-.8zM158.8 531.1h.8v.8h-.8zM161.3 533.1h.8v.8h-.8zM144.4 555.5h.8v.8h-.8zM156.9 541.2h.8v.8h-.8zM141.7 550.4h.8v.8h-.8zM159.0 542.2h.8v.8h-.8zM161.0 536.0h.8v.8h-.8zM146.3 542.5h.8v.8h-.8zM157.8 541.3h.8v.8h-.8zM146.0 543.2h.8v.8h-.8zM153.8 550.6h.8v.8h-.8zM140.6 555.1h.8v.8h-.8zM137.6 548.5h.8v.8h-.8zM162.9 531.9h.8v.8h-.8zM152.7 522.4h.8v.8h-.8zM159.0 537.4h.8v.8h-.8zM156.2 529.6h.8v.8h-.8zM158.3 527.2h.8v.8h-.8zM143.7 549.6h.8v.8h-.8zM149.8 533.6h.8v.8h-.8zM145.8 556.0h.8v.8h-.8zM171.5 530.0h.8v.8h-.8zM148.1 527.3h.8v.8h-.8zM156.5 530.3h.8v.8h-.8zM145.3 541.0h.8v.8h-.8zM146.5 535.1h.8v.8h-.8zM145.9 541.5h.8v.8h-.8zM162.2 538.2h.8v.8h-.8zM157.3 544.3h.8v.8h-.8zM158.8 535.0h.8v.8h-.8zM138.9 545.7h.8v.8h-.8zM163.2 526.7h.8v.8h-.8zM146.9 533.5h.8v.8h-.8zM160.8 537.2h.8v.8h-.8zM153.6 525.5h.8v.8h-.8zM145.8 538.3h.8v.8h-.8zM157.4 545.5h.8v.8h-.8zM143.9 556.4h.8v.8h-.8zM152.9 527.0h.8v.8h-.8zM147.6 534.0h.8v.8h-.8zM146.4 545.8h.8v.8h-.8zM159.5 538.6h.8v.8h-.8zM158.8 534.3h.8v.8h-.8zM160.0 538.7h.8v.8h-.8z" fill="#7d89e0" opacity="0.75"/><path d="M149.0 541.8h.8v.8h-.8zM152.6 535.4h.8v.8h-.8zM149.2 534.7h.8v.8h-.8zM153.1 540.7h.8v.8h-.8zM152.2 543.4h.8v.8h-.8zM153.7 538.7h.8v.8h-.8zM157.0 534.5h.8v.8h-.8zM151.8 542.2h.8v.8h-.8zM151.2 536.8h.8v.8h-.8zM153.8 541.7h.8v.8h-.8zM147.8 538.5h.8v.8h-.8zM155.2 531.8h.8v.8h-.8zM154.5 539.0h.8v.8h-.8zM157.3 535.0h.8v.8h-.8zM156.7 533.4h.8v.8h-.8zM151.4 542.3h.8v.8h-.8zM152.1 543.8h.8v.8h-.8zM155.1 538.4h.8v.8h-.8zM150.8 544.2h.8v.8h-.8zM151.2 533.7h.8v.8h-.8zM152.8 535.7h.8v.8h-.8zM153.0 540.3h.8v.8h-.8zM150.4 543.2h.8v.8h-.8zM150.3 540.2h.8v.8h-.8zM154.6 539.7h.8v.8h-.8zM153.0 544.5h.8v.8h-.8zM152.0 534.6h.8v.8h-.8zM148.3 545.6h.8v.8h-.8zM149.2 540.7h.8v.8h-.8zM152.9 541.1h.8v.8h-.8zM147.7 542.6h.8v.8h-.8zM155.5 534.9h.8v.8h-.8zM150.3 536.4h.8v.8h-.8zM151.5 537.4h.8v.8h-.8zM148.0 545.7h.8v.8h-.8zM148.2 542.5h.8v.8h-.8zM150.8 539.6h.8v.8h-.8zM154.9 541.3h.8v.8h-.8zM157.1 538.3h.8v.8h-.8zM149.8 544.2h.8v.8h-.8zM150.5 543.9h.8v.8h-.8zM154.3 533.5h.8v.8h-.8zM152.1 542.5h.8v.8h-.8zM152.2 539.6h.8v.8h-.8zM156.0 534.3h.8v.8h-.8zM148.7 544.9h.8v.8h-.8zM151.5 537.8h.8v.8h-.8zM148.8 538.9h.8v.8h-.8zM148.9 544.7h.8v.8h-.8zM156.3 537.8h.8v.8h-.8zM155.3 535.5h.8v.8h-.8zM153.6 542.4h.8v.8h-.8zM152.9 534.1h.8v.8h-.8zM148.8 535.7h.8v.8h-.8zM150.0 545.5h.8v.8h-.8zM152.9 536.8h.8v.8h-.8zM155.5 541.2h.8v.8h-.8zM152.8 543.5h.8v.8h-.8zM149.8 542.3h.8v.8h-.8zM156.5 533.6h.8v.8h-.8zM152.6 540.5h.8v.8h-.8zM147.5 538.5h.8v.8h-.8zM149.8 542.4h.8v.8h-.8zM149.7 535.8h.8v.8h-.8zM152.5 542.3h.8v.8h-.8zM154.0 541.4h.8v.8h-.8zM147.6 543.8h.8v.8h-.8zM155.8 532.1h.8v.8h-.8zM149.6 537.0h.8v.8h-.8zM151.1 539.4h.8v.8h-.8zM151.5 539.8h.8v.8h-.8zM154.8 537.9h.8v.8h-.8zM146.9 540.8h.8v.8h-.8zM153.5 540.9h.8v.8h-.8zM149.6 543.0h.8v.8h-.8zM148.6 543.8h.8v.8h-.8zM147.2 544.5h.8v.8h-.8zM155.3 540.3h.8v.8h-.8zM152.8 539.3h.8v.8h-.8zM148.3 543.2h.8v.8h-.8zM147.0 541.3h.8v.8h-.8zM154.8 539.2h.8v.8h-.8zM151.3 540.4h.8v.8h-.8zM151.9 545.3h.8v.8h-.8zM151.8 538.3h.8v.8h-.8zM152.7 535.5h.8v.8h-.8zM155.1 532.3h.8v.8h-.8zM153.6 542.7h.8v.8h-.8zM154.6 533.0h.8v.8h-.8zM152.5 535.4h.8v.8h-.8zM151.6 544.2h.8v.8h-.8zM155.6 531.7h.8v.8h-.8zM151.9 537.6h.8v.8h-.8zM154.0 542.3h.8v.8h-.8zM153.7 531.8h.8v.8h-.8zM149.7 538.1h.8v.8h-.8zM156.1 536.3h.8v.8h-.8zM148.1 538.7h.8v.8h-.8zM155.0 538.3h.8v.8h-.8zM151.2 538.1h.8v.8h-.8zM147.8 538.6h.8v.8h-.8zM151.7 545.2h.8v.8h-.8zM155.1 535.6h.8v.8h-.8zM157.0 536.1h.8v.8h-.8zM150.7 540.7h.8v.8h-.8zM149.0 544.5h.8v.8h-.8zM149.7 536.6h.8v.8h-.8zM153.2 535.8h.8v.8h-.8zM150.6 540.7h.8v.8h-.8zM155.1 537.6h.8v.8h-.8zM147.8 537.7h.8v.8h-.8zM155.9 539.2h.8v.8h-.8zM153.2 531.9h.8v.8h-.8zM151.3 543.1h.8v.8h-.8zM149.2 537.0h.8v.8h-.8zM149.3 538.6h.8v.8h-.8zM151.1 541.9h.8v.8h-.8zM149.7 540.7h.8v.8h-.8zM149.2 544.5h.8v.8h-.8zM146.9 541.9h.8v.8h-.8zM154.0 542.4h.8v.8h-.8zM154.7 538.7h.8v.8h-.8zM156.3 535.3h.8v.8h-.8zM148.7 544.0h.8v.8h-.8zM153.4 537.5h.8v.8h-.8zM152.2 538.3h.8v.8h-.8zM155.8 539.0h.8v.8h-.8zM152.5 542.2h.8v.8h-.8zM152.9 532.0h.8v.8h-.8zM152.1 543.8h.8v.8h-.8zM152.4 541.0h.8v.8h-.8zM148.0 540.8h.8v.8h-.8zM152.1 537.5h.8v.8h-.8zM149.4 544.4h.8v.8h-.8zM151.1 539.8h.8v.8h-.8z" fill="#3f5cd0" opacity="0.85"/><ellipse cx="152.20" cy="538.40" rx="4.32" ry="8.16" fill="#4a66d4" opacity="0.75" filter="url(#bl05)" transform="rotate(28 152.20 538.40)"/><ellipse cx="152.20" cy="538.40" rx="2.52" ry="4.76" fill="#2a9a8a" opacity="0.9" filter="url(#bl05)" transform="rotate(28 152.20 538.40)"/><ellipse cx="176.00" cy="509.00" rx="6.75" ry="2.62" fill="#a4acec" opacity="0.4" filter="url(#bl1)" transform="rotate(-40 176.00 509.00)"/><path d="M170.6 513.5h.8v.8h-.8zM169.6 509.6h.8v.8h-.8zM175.1 511.9h.8v.8h-.8zM175.9 505.4h.8v.8h-.8zM179.0 510.4h.8v.8h-.8zM176.3 514.4h.8v.8h-.8zM177.8 509.9h.8v.8h-.8zM169.1 509.8h.8v.8h-.8zM179.1 508.3h.8v.8h-.8zM181.3 510.8h.8v.8h-.8zM179.8 506.7h.8v.8h-.8zM180.5 502.3h.8v.8h-.8zM170.6 505.3h.8v.8h-.8zM181.8 509.2h.8v.8h-.8zM173.2 509.3h.8v.8h-.8zM173.6 514.5h.8v.8h-.8zM176.5 506.3h.8v.8h-.8zM180.3 506.2h.8v.8h-.8zM172.3 516.0h.8v.8h-.8zM171.6 515.0h.8v.8h-.8zM173.4 506.1h.8v.8h-.8zM180.4 504.5h.8v.8h-.8zM177.4 511.6h.8v.8h-.8zM182.1 504.0h.8v.8h-.8zM179.6 504.3h.8v.8h-.8zM177.7 510.2h.8v.8h-.8zM183.8 500.9h.8v.8h-.8zM172.8 512.9h.8v.8h-.8zM176.1 505.2h.8v.8h-.8zM176.9 504.6h.8v.8h-.8zM179.8 509.6h.8v.8h-.8zM180.8 505.6h.8v.8h-.8zM174.3 516.3h.8v.8h-.8zM181.6 499.6h.8v.8h-.8zM180.2 507.0h.8v.8h-.8zM173.8 508.3h.8v.8h-.8zM177.6 510.1h.8v.8h-.8zM170.9 510.8h.8v.8h-.8zM173.6 506.4h.8v.8h-.8zM172.4 511.1h.8v.8h-.8zM182.2 507.8h.8v.8h-.8zM169.3 519.1h.8v.8h-.8zM176.3 505.5h.8v.8h-.8z" fill="#7d89e0" opacity="0.75"/><path d="M174.0 511.6h.8v.8h-.8zM176.4 509.2h.8v.8h-.8zM174.3 509.0h.8v.8h-.8zM173.5 511.0h.8v.8h-.8zM178.9 506.2h.8v.8h-.8zM176.3 507.2h.8v.8h-.8zM173.7 511.0h.8v.8h-.8zM177.0 508.7h.8v.8h-.8zM178.5 506.0h.8v.8h-.8zM175.7 508.7h.8v.8h-.8zM174.5 511.8h.8v.8h-.8zM176.2 509.0h.8v.8h-.8zM176.4 510.8h.8v.8h-.8zM177.6 507.3h.8v.8h-.8zM178.2 506.8h.8v.8h-.8zM178.2 509.2h.8v.8h-.8zM176.5 508.2h.8v.8h-.8zM175.8 508.5h.8v.8h-.8zM177.3 508.1h.8v.8h-.8zM178.0 506.5h.8v.8h-.8zM175.3 511.2h.8v.8h-.8zM175.7 511.0h.8v.8h-.8zM176.7 508.3h.8v.8h-.8zM174.5 511.4h.8v.8h-.8zM177.7 506.9h.8v.8h-.8zM172.9 510.3h.8v.8h-.8zM175.6 511.4h.8v.8h-.8zM175.8 508.2h.8v.8h-.8zM176.5 509.5h.8v.8h-.8zM176.3 509.7h.8v.8h-.8zM174.6 509.2h.8v.8h-.8zM176.8 506.7h.8v.8h-.8zM175.0 508.2h.8v.8h-.8zM176.9 510.0h.8v.8h-.8zM172.7 510.8h.8v.8h-.8zM173.4 511.1h.8v.8h-.8z" fill="#3f5cd0" opacity="0.85"/><ellipse cx="176.00" cy="509.00" rx="4.32" ry="1.68" fill="#4a66d4" opacity="0.75" filter="url(#bl05)" transform="rotate(-40 176.00 509.00)"/><ellipse cx="171.30" cy="515.50" rx="8.25" ry="7.50" fill="#a4acec" opacity="0.4" filter="url(#bl1)" transform="rotate(-30 171.30 515.50)"/><path d="M163.0 522.0h.8v.8h-.8zM172.4 503.7h.8v.8h-.8zM177.2 510.8h.8v.8h-.8zM174.6 511.2h.8v.8h-.8zM172.8 509.8h.8v.8h-.8zM175.3 523.6h.8v.8h-.8zM163.6 515.2h.8v.8h-.8zM174.6 521.7h.8v.8h-.8zM169.9 509.0h.8v.8h-.8zM168.4 521.8h.8v.8h-.8zM178.7 519.2h.8v.8h-.8zM173.0 528.4h.8v.8h-.8zM172.0 522.3h.8v.8h-.8zM170.2 521.0h.8v.8h-.8zM175.7 497.7h.8v.8h-.8zM182.2 509.7h.8v.8h-.8zM165.4 524.0h.8v.8h-.8zM165.8 525.6h.8v.8h-.8zM177.9 512.4h.8v.8h-.8zM160.0 511.8h.8v.8h-.8zM179.1 515.5h.8v.8h-.8zM169.5 521.7h.8v.8h-.8zM159.3 520.6h.8v.8h-.8zM177.7 516.2h.8v.8h-.8zM169.3 501.9h.8v.8h-.8zM181.5 503.9h.8v.8h-.8zM174.5 511.0h.8v.8h-.8zM174.9 508.7h.8v.8h-.8zM166.2 525.0h.8v.8h-.8zM174.9 519.4h.8v.8h-.8zM166.2 517.8h.8v.8h-.8zM164.2 507.0h.8v.8h-.8zM178.3 513.4h.8v.8h-.8zM164.3 515.1h.8v.8h-.8zM167.2 521.7h.8v.8h-.8zM166.5 522.2h.8v.8h-.8zM167.2 520.0h.8v.8h-.8zM178.6 512.5h.8v.8h-.8zM167.5 507.3h.8v.8h-.8zM176.9 516.9h.8v.8h-.8zM177.3 515.6h.8v.8h-.8zM165.9 508.2h.8v.8h-.8zM166.4 518.2h.8v.8h-.8zM174.8 497.8h.8v.8h-.8zM165.5 507.9h.8v.8h-.8zM183.1 524.6h.8v.8h-.8zM159.2 523.2h.8v.8h-.8zM168.2 503.8h.8v.8h-.8zM160.1 521.8h.8v.8h-.8zM182.6 520.9h.8v.8h-.8zM161.8 509.4h.8v.8h-.8zM179.5 519.9h.8v.8h-.8zM178.0 516.5h.8v.8h-.8zM173.3 508.9h.8v.8h-.8zM159.7 516.2h.8v.8h-.8zM188.6 517.0h.8v.8h-.8zM166.0 514.2h.8v.8h-.8zM177.6 511.4h.8v.8h-.8zM169.3 524.5h.8v.8h-.8zM156.4 510.8h.8v.8h-.8zM163.1 515.7h.8v.8h-.8zM165.5 514.6h.8v.8h-.8zM160.4 520.8h.8v.8h-.8zM175.8 520.8h.8v.8h-.8zM165.2 514.2h.8v.8h-.8zM183.6 519.0h.8v.8h-.8zM179.2 515.8h.8v.8h-.8zM174.0 506.4h.8v.8h-.8zM178.7 511.9h.8v.8h-.8zM165.8 513.5h.8v.8h-.8zM177.1 508.4h.8v.8h-.8zM177.0 525.2h.8v.8h-.8zM178.0 513.6h.8v.8h-.8zM181.0 513.7h.8v.8h-.8zM177.8 512.3h.8v.8h-.8zM176.8 520.1h.8v.8h-.8zM164.0 519.3h.8v.8h-.8zM182.9 512.6h.8v.8h-.8zM168.9 507.6h.8v.8h-.8zM181.0 510.3h.8v.8h-.8zM168.2 510.6h.8v.8h-.8zM168.2 510.7h.8v.8h-.8zM170.8 524.4h.8v.8h-.8zM163.3 509.2h.8v.8h-.8zM165.4 516.8h.8v.8h-.8zM169.7 509.3h.8v.8h-.8zM174.3 522.3h.8v.8h-.8zM164.6 504.9h.8v.8h-.8zM177.7 524.9h.8v.8h-.8zM163.2 513.4h.8v.8h-.8zM158.1 508.8h.8v.8h-.8zM162.9 522.5h.8v.8h-.8zM163.3 508.9h.8v.8h-.8zM165.6 522.5h.8v.8h-.8zM176.5 520.7h.8v.8h-.8zM183.6 514.6h.8v.8h-.8zM183.9 516.8h.8v.8h-.8zM165.4 511.0h.8v.8h-.8zM164.6 510.1h.8v.8h-.8zM178.8 514.4h.8v.8h-.8zM169.0 525.2h.8v.8h-.8zM170.8 504.4h.8v.8h-.8zM182.5 513.9h.8v.8h-.8zM178.3 504.1h.8v.8h-.8zM172.6 505.8h.8v.8h-.8zM161.5 512.8h.8v.8h-.8zM171.6 521.1h.8v.8h-.8zM173.7 523.4h.8v.8h-.8zM176.3 511.0h.8v.8h-.8zM172.5 508.1h.8v.8h-.8zM176.8 513.5h.8v.8h-.8zM165.2 523.1h.8v.8h-.8zM170.2 523.8h.8v.8h-.8zM165.2 502.5h.8v.8h-.8zM177.1 512.3h.8v.8h-.8zM162.7 521.0h.8v.8h-.8zM176.4 519.0h.8v.8h-.8zM170.0 525.6h.8v.8h-.8zM176.7 526.7h.8v.8h-.8zM166.6 511.5h.8v.8h-.8zM179.1 516.4h.8v.8h-.8zM181.1 515.0h.8v.8h-.8zM164.1 509.7h.8v.8h-.8zM168.8 520.5h.8v.8h-.8zM174.3 509.7h.8v.8h-.8zM167.5 526.2h.8v.8h-.8zM174.7 520.2h.8v.8h-.8zM162.3 518.7h.8v.8h-.8zM167.7 508.9h.8v.8h-.8zM180.8 519.6h.8v.8h-.8zM163.4 511.7h.8v.8h-.8zM176.3 518.2h.8v.8h-.8zM168.9 509.1h.8v.8h-.8zM177.2 516.8h.8v.8h-.8zM163.7 508.8h.8v.8h-.8zM178.6 509.8h.8v.8h-.8zM185.5 516.5h.8v.8h-.8zM176.7 515.9h.8v.8h-.8zM179.6 509.6h.8v.8h-.8zM168.0 511.0h.8v.8h-.8zM177.1 520.2h.8v.8h-.8zM167.0 524.3h.8v.8h-.8zM166.4 511.7h.8v.8h-.8zM165.4 513.9h.8v.8h-.8zM178.3 517.8h.8v.8h-.8zM167.0 523.6h.8v.8h-.8zM174.2 510.4h.8v.8h-.8zM162.0 516.4h.8v.8h-.8zM164.3 507.4h.8v.8h-.8zM168.5 507.9h.8v.8h-.8zM172.6 507.5h.8v.8h-.8zM165.6 513.6h.8v.8h-.8zM172.0 522.9h.8v.8h-.8zM177.1 515.8h.8v.8h-.8z" fill="#7d89e0" opacity="0.75"/><path d="M173.5 514.1h.8v.8h-.8zM175.8 514.1h.8v.8h-.8zM174.8 516.1h.8v.8h-.8zM173.1 513.5h.8v.8h-.8zM174.7 519.2h.8v.8h-.8zM174.8 516.6h.8v.8h-.8zM167.9 514.1h.8v.8h-.8zM175.9 513.2h.8v.8h-.8zM168.4 513.7h.8v.8h-.8zM171.6 519.0h.8v.8h-.8zM173.9 515.1h.8v.8h-.8zM169.0 514.8h.8v.8h-.8zM169.0 519.4h.8v.8h-.8zM170.4 519.0h.8v.8h-.8zM169.1 512.8h.8v.8h-.8zM168.8 517.8h.8v.8h-.8zM175.4 517.0h.8v.8h-.8zM173.4 517.2h.8v.8h-.8zM169.8 516.6h.8v.8h-.8zM171.3 512.4h.8v.8h-.8zM170.3 511.9h.8v.8h-.8zM171.4 512.1h.8v.8h-.8zM175.3 516.3h.8v.8h-.8zM170.6 514.2h.8v.8h-.8zM171.5 512.8h.8v.8h-.8zM166.8 514.4h.8v.8h-.8zM167.8 517.8h.8v.8h-.8zM168.7 518.0h.8v.8h-.8zM169.2 517.2h.8v.8h-.8zM169.8 516.2h.8v.8h-.8zM169.1 514.9h.8v.8h-.8zM169.6 516.3h.8v.8h-.8zM173.4 513.3h.8v.8h-.8zM173.1 512.7h.8v.8h-.8zM176.5 514.7h.8v.8h-.8zM169.9 512.8h.8v.8h-.8zM173.2 511.5h.8v.8h-.8zM171.1 512.6h.8v.8h-.8zM174.3 518.3h.8v.8h-.8zM166.9 517.9h.8v.8h-.8zM174.7 514.4h.8v.8h-.8zM166.4 514.1h.8v.8h-.8zM170.5 511.5h.8v.8h-.8zM169.0 518.2h.8v.8h-.8zM170.4 514.1h.8v.8h-.8zM171.1 511.5h.8v.8h-.8zM171.3 515.8h.8v.8h-.8zM174.4 514.4h.8v.8h-.8zM175.1 516.5h.8v.8h-.8zM170.2 515.1h.8v.8h-.8zM176.0 512.9h.8v.8h-.8zM176.5 516.0h.8v.8h-.8zM167.5 515.5h.8v.8h-.8zM172.9 518.0h.8v.8h-.8zM169.3 519.4h.8v.8h-.8zM166.1 516.4h.8v.8h-.8zM169.3 519.1h.8v.8h-.8zM173.3 513.1h.8v.8h-.8zM171.0 512.2h.8v.8h-.8zM171.8 519.9h.8v.8h-.8zM172.9 517.4h.8v.8h-.8zM172.2 516.7h.8v.8h-.8zM168.4 512.6h.8v.8h-.8zM174.3 512.9h.8v.8h-.8zM171.6 514.6h.8v.8h-.8zM173.0 518.9h.8v.8h-.8zM168.9 511.6h.8v.8h-.8zM172.9 510.9h.8v.8h-.8zM166.5 516.1h.8v.8h-.8zM172.5 515.9h.8v.8h-.8zM171.0 518.4h.8v.8h-.8zM172.9 514.9h.8v.8h-.8zM175.0 515.9h.8v.8h-.8zM172.7 515.7h.8v.8h-.8zM167.0 514.4h.8v.8h-.8zM173.8 515.6h.8v.8h-.8zM169.7 512.4h.8v.8h-.8zM175.3 513.8h.8v.8h-.8zM170.0 520.1h.8v.8h-.8zM167.5 516.7h.8v.8h-.8zM171.8 513.2h.8v.8h-.8zM171.1 512.3h.8v.8h-.8zM174.6 513.6h.8v.8h-.8zM172.3 519.0h.8v.8h-.8zM166.3 514.3h.8v.8h-.8zM172.2 513.3h.8v.8h-.8zM171.8 514.4h.8v.8h-.8zM174.3 518.3h.8v.8h-.8zM170.6 520.2h.8v.8h-.8zM172.8 511.7h.8v.8h-.8zM174.9 518.2h.8v.8h-.8zM174.2 516.7h.8v.8h-.8zM173.7 519.5h.8v.8h-.8zM168.2 516.8h.8v.8h-.8zM171.3 518.9h.8v.8h-.8zM175.0 515.9h.8v.8h-.8zM170.7 516.8h.8v.8h-.8zM169.1 518.9h.8v.8h-.8z" fill="#3f5cd0" opacity="0.85"/><ellipse cx="171.30" cy="515.50" rx="5.28" ry="4.80" fill="#4a66d4" opacity="0.75" filter="url(#bl05)" transform="rotate(-30 171.30 515.50)"/><ellipse cx="171.30" cy="515.50" rx="6.82" ry="6.20" fill="#2a98a8" filter="url(#bl05)" transform="rotate(-30 171.30 515.50)"/><ellipse cx="171.30" cy="515.50" rx="5.50" ry="5.00" fill="#34b050" filter="url(#bl05)" transform="rotate(-30 171.30 515.50)"/><ellipse cx="171.30" cy="515.50" rx="3.74" ry="3.40" fill="#b8cc2a" filter="url(#bl05)" transform="rotate(-30 171.30 515.50)"/><ellipse cx="171.30" cy="515.50" rx="2.42" ry="2.20" fill="#e8a020" filter="url(#bl05)" transform="rotate(-30 171.30 515.50)"/><ellipse cx="171.30" cy="515.50" rx="1.21" ry="1.10" fill="#e0401a" filter="url(#bl05)" transform="rotate(-30 171.30 515.50)"/><path d="M173.0 526.7h.8v.8h-.8zM170.4 534.0h.8v.8h-.8zM169.0 541.7h.8v.8h-.8zM169.7 532.8h.8v.8h-.8zM168.7 523.0h.8v.8h-.8zM173.9 547.7h.8v.8h-.8zM172.5 530.9h.8v.8h-.8zM163.6 539.3h.8v.8h-.8zM175.8 540.2h.8v.8h-.8zM174.9 548.8h.8v.8h-.8zM175.5 534.8h.8v.8h-.8zM175.3 543.6h.8v.8h-.8zM167.2 535.0h.8v.8h-.8zM167.6 537.2h.8v.8h-.8zM173.8 530.2h.8v.8h-.8zM165.6 547.5h.8v.8h-.8zM173.2 548.7h.8v.8h-.8zM167.9 545.7h.8v.8h-.8zM178.5 552.6h.8v.8h-.8zM171.3 540.0h.8v.8h-.8zM171.5 545.3h.8v.8h-.8zM175.2 538.6h.8v.8h-.8zM167.8 543.4h.8v.8h-.8zM170.5 542.6h.8v.8h-.8zM172.8 549.8h.8v.8h-.8zM175.5 534.7h.8v.8h-.8zM173.1 550.8h.8v.8h-.8zM170.3 541.2h.8v.8h-.8zM175.7 547.2h.8v.8h-.8zM173.6 528.4h.8v.8h-.8zM168.1 539.8h.8v.8h-.8zM173.2 556.5h.8v.8h-.8zM169.3 546.3h.8v.8h-.8zM174.4 525.8h.8v.8h-.8zM169.4 539.2h.8v.8h-.8zM170.5 536.9h.8v.8h-.8zM173.5 532.1h.8v.8h-.8zM173.5 533.4h.8v.8h-.8zM170.3 541.9h.8v.8h-.8zM170.2 540.1h.8v.8h-.8zM177.0 538.2h.8v.8h-.8zM171.5 543.4h.8v.8h-.8zM170.9 545.9h.8v.8h-.8zM168.0 542.5h.8v.8h-.8zM170.4 532.2h.8v.8h-.8zM177.5 531.8h.8v.8h-.8zM177.5 542.8h.8v.8h-.8zM176.5 530.9h.8v.8h-.8zM175.7 548.6h.8v.8h-.8zM171.6 537.1h.8v.8h-.8zM179.7 539.3h.8v.8h-.8zM170.7 533.4h.8v.8h-.8zM173.4 540.4h.8v.8h-.8zM172.6 550.5h.8v.8h-.8zM171.0 541.4h.8v.8h-.8zM176.6 530.7h.8v.8h-.8zM175.2 551.3h.8v.8h-.8zM167.8 530.0h.8v.8h-.8zM168.8 524.6h.8v.8h-.8zM173.4 524.5h.8v.8h-.8zM173.6 548.6h.8v.8h-.8zM167.0 535.7h.8v.8h-.8zM166.0 543.7h.8v.8h-.8zM169.7 536.1h.8v.8h-.8zM172.2 542.0h.8v.8h-.8zM170.9 538.1h.8v.8h-.8zM170.3 538.8h.8v.8h-.8zM168.3 538.5h.8v.8h-.8zM166.0 534.4h.8v.8h-.8zM178.0 538.6h.8v.8h-.8zM168.1 539.9h.8v.8h-.8zM169.0 526.0h.8v.8h-.8zM169.7 543.4h.8v.8h-.8zM173.2 537.3h.8v.8h-.8zM169.1 530.1h.8v.8h-.8zM176.2 539.8h.8v.8h-.8zM169.0 522.6h.8v.8h-.8zM167.7 556.0h.8v.8h-.8zM168.4 537.4h.8v.8h-.8zM172.7 536.9h.8v.8h-.8zM171.1 528.0h.8v.8h-.8zM168.7 550.3h.8v.8h-.8zM169.6 544.2h.8v.8h-.8zM166.7 536.0h.8v.8h-.8zM172.8 545.5h.8v.8h-.8zM168.5 542.3h.8v.8h-.8zM173.2 532.6h.8v.8h-.8z" fill="#7d89e0" opacity="0.75"/><rect x="188.3" y="523.2" width="0.7" height="0.7" fill="#7a86dc" opacity="0.5"/><rect x="170.0" y="515.6" width="0.7" height="0.7" fill="#7a86dc" opacity="0.5"/><rect x="170.2" y="556.0" width="0.7" height="0.7" fill="#7a86dc" opacity="0.5"/><rect x="178.5" y="545.5" width="0.7" height="0.7" fill="#7a86dc" opacity="0.5"/><rect x="160.2" y="518.2" width="0.7" height="0.7" fill="#7a86dc" opacity="0.5"/><rect x="158.4" y="533.7" width="0.7" height="0.7" fill="#7a86dc" opacity="0.5"/><rect x="177.4" y="545.0" width="0.7" height="0.7" fill="#7a86dc" opacity="0.5"/><rect x="143.8" y="541.5" width="0.7" height="0.7" fill="#7a86dc" opacity="0.5"/><rect x="191.6" y="531.3" width="0.7" height="0.7" fill="#7a86dc" opacity="0.5"/><rect x="144.3" y="517.2" width="0.7" height="0.7" fill="#7a86dc" opacity="0.5"/><rect x="141.9" y="510.9" width="0.7" height="0.7" fill="#7a86dc" opacity="0.5"/><rect x="193.7" y="534.9" width="0.7" height="0.7" fill="#7a86dc" opacity="0.5"/></g><rect x="152.50" y="512.30" width="11.80" height="12.20" fill="none" stroke="#8a8a8a" stroke-width="0.8"/><rect x="164.30" y="504.00" width="20.20" height="55.40" fill="none" stroke="#8a8a8a" stroke-width="0.8"/><text x="151.30" y="521.50" font-size="8.6" text-anchor="end" fill="#222" stroke="#222" stroke-width="0.22">E1</text><path d="M185.00,529.80 L196.80,529.80 L196.80,527.90 L201.80,531.40 L196.80,534.90 L196.80,533.00 L185.00,533.00 Z" fill="#fff" stroke="#111" stroke-width="0.9"/><clipPath id="cf8"><rect x="202.8" y="497.5" width="61.39999999999998" height="61.5"/></clipPath><rect x="202.80" y="497.50" width="61.40" height="61.50" fill="#fff" stroke="#a0a0a0" stroke-width="0.9"/><g clip-path="url(#cf8)"><ellipse cx="247.00" cy="513.00" rx="12.00" ry="3.00" fill="#a4acec" opacity="0.4" filter="url(#bl1)" transform="rotate(-10 247.00 513.00)"/><path d="M251.0 517.6h.8v.8h-.8zM256.4 513.7h.8v.8h-.8zM241.0 512.2h.8v.8h-.8zM238.0 515.3h.8v.8h-.8zM253.1 515.6h.8v.8h-.8zM232.7 518.0h.8v.8h-.8zM246.8 519.6h.8v.8h-.8zM257.7 512.2h.8v.8h-.8zM238.7 516.6h.8v.8h-.8zM240.8 516.8h.8v.8h-.8zM235.1 515.1h.8v.8h-.8zM255.5 509.9h.8v.8h-.8zM255.8 510.6h.8v.8h-.8zM254.7 516.4h.8v.8h-.8zM235.1 513.5h.8v.8h-.8zM237.1 518.1h.8v.8h-.8zM256.7 514.0h.8v.8h-.8zM257.6 513.0h.8v.8h-.8zM240.2 509.3h.8v.8h-.8zM252.0 510.0h.8v.8h-.8zM237.3 514.3h.8v.8h-.8zM263.3 512.1h.8v.8h-.8zM234.3 515.1h.8v.8h-.8zM246.5 515.3h.8v.8h-.8zM236.4 517.7h.8v.8h-.8zM234.6 510.3h.8v.8h-.8zM251.8 515.6h.8v.8h-.8zM251.6 514.2h.8v.8h-.8zM248.3 514.9h.8v.8h-.8zM239.1 515.1h.8v.8h-.8zM255.1 513.2h.8v.8h-.8zM238.0 517.5h.8v.8h-.8zM234.1 515.2h.8v.8h-.8zM239.2 516.2h.8v.8h-.8zM260.4 509.9h.8v.8h-.8zM257.7 510.9h.8v.8h-.8zM257.4 516.2h.8v.8h-.8zM239.2 512.9h.8v.8h-.8zM255.1 513.5h.8v.8h-.8zM235.0 516.4h.8v.8h-.8zM244.6 511.1h.8v.8h-.8zM244.4 510.2h.8v.8h-.8zM241.6 515.7h.8v.8h-.8zM265.4 512.8h.8v.8h-.8zM246.9 510.5h.8v.8h-.8zM248.7 515.3h.8v.8h-.8zM246.0 510.1h.8v.8h-.8zM258.3 511.1h.8v.8h-.8zM258.0 509.2h.8v.8h-.8zM267.4 506.8h.8v.8h-.8zM225.2 515.1h.8v.8h-.8zM234.3 518.9h.8v.8h-.8zM252.5 510.0h.8v.8h-.8zM231.8 511.9h.8v.8h-.8zM233.5 519.3h.8v.8h-.8zM244.6 516.2h.8v.8h-.8zM253.4 509.2h.8v.8h-.8zM258.9 509.6h.8v.8h-.8zM251.4 509.6h.8v.8h-.8zM241.7 515.6h.8v.8h-.8zM237.0 514.9h.8v.8h-.8zM259.3 512.3h.8v.8h-.8zM246.3 515.3h.8v.8h-.8zM258.9 513.6h.8v.8h-.8zM249.8 510.1h.8v.8h-.8zM244.8 517.7h.8v.8h-.8zM261.0 509.7h.8v.8h-.8zM250.8 509.7h.8v.8h-.8zM249.2 508.9h.8v.8h-.8zM238.2 516.5h.8v.8h-.8zM250.8 505.8h.8v.8h-.8zM259.3 509.0h.8v.8h-.8zM254.7 513.8h.8v.8h-.8zM231.1 516.8h.8v.8h-.8zM262.0 507.7h.8v.8h-.8zM256.6 512.9h.8v.8h-.8zM254.5 509.4h.8v.8h-.8zM260.9 508.5h.8v.8h-.8zM253.5 508.4h.8v.8h-.8zM244.8 510.6h.8v.8h-.8zM240.6 515.6h.8v.8h-.8zM253.6 515.0h.8v.8h-.8zM234.2 514.1h.8v.8h-.8zM251.4 509.8h.8v.8h-.8zM239.8 518.1h.8v.8h-.8zM245.8 510.8h.8v.8h-.8zM228.9 514.3h.8v.8h-.8zM265.9 509.6h.8v.8h-.8zM255.0 509.8h.8v.8h-.8zM240.3 512.7h.8v.8h-.8zM256.7 510.2h.8v.8h-.8zM261.3 507.6h.8v.8h-.8zM237.7 509.0h.8v.8h-.8zM252.2 509.9h.8v.8h-.8zM243.0 516.7h.8v.8h-.8z" fill="#7d89e0" opacity="0.75"/><path d="M252.5 512.9h.8v.8h-.8zM252.6 512.0h.8v.8h-.8zM252.2 512.9h.8v.8h-.8zM253.4 512.1h.8v.8h-.8zM244.2 514.2h.8v.8h-.8zM249.0 513.3h.8v.8h-.8zM251.7 511.0h.8v.8h-.8zM248.7 513.8h.8v.8h-.8zM248.4 514.3h.8v.8h-.8zM254.5 511.8h.8v.8h-.8zM250.8 511.5h.8v.8h-.8zM243.2 514.4h.8v.8h-.8zM246.6 513.4h.8v.8h-.8zM247.3 511.0h.8v.8h-.8zM241.1 513.1h.8v.8h-.8zM249.9 513.0h.8v.8h-.8zM249.9 512.4h.8v.8h-.8zM251.5 512.3h.8v.8h-.8zM246.4 511.1h.8v.8h-.8zM247.6 512.9h.8v.8h-.8zM249.7 511.3h.8v.8h-.8zM248.4 512.4h.8v.8h-.8zM243.9 513.9h.8v.8h-.8zM242.4 514.0h.8v.8h-.8zM243.0 514.0h.8v.8h-.8zM241.1 515.3h.8v.8h-.8zM248.1 514.2h.8v.8h-.8zM243.4 514.0h.8v.8h-.8zM245.6 513.0h.8v.8h-.8zM245.2 512.0h.8v.8h-.8zM248.4 514.5h.8v.8h-.8zM248.1 511.1h.8v.8h-.8zM249.9 511.3h.8v.8h-.8zM250.8 510.8h.8v.8h-.8zM250.2 511.0h.8v.8h-.8zM246.3 514.9h.8v.8h-.8zM240.6 515.2h.8v.8h-.8zM246.6 511.5h.8v.8h-.8zM250.5 510.6h.8v.8h-.8zM245.5 512.4h.8v.8h-.8zM246.1 513.7h.8v.8h-.8zM242.3 512.2h.8v.8h-.8zM244.4 515.1h.8v.8h-.8zM242.7 515.2h.8v.8h-.8zM243.0 513.6h.8v.8h-.8zM245.3 511.4h.8v.8h-.8zM250.6 513.7h.8v.8h-.8zM247.6 511.9h.8v.8h-.8zM248.5 514.5h.8v.8h-.8zM249.1 513.1h.8v.8h-.8zM252.1 513.5h.8v.8h-.8zM242.9 514.4h.8v.8h-.8zM247.1 512.2h.8v.8h-.8zM239.2 514.5h.8v.8h-.8zM242.8 513.9h.8v.8h-.8z" fill="#3f5cd0" opacity="0.85"/><ellipse cx="247.00" cy="513.00" rx="7.68" ry="1.92" fill="#4a66d4" opacity="0.75" filter="url(#bl05)" transform="rotate(-10 247.00 513.00)"/><ellipse cx="234.00" cy="515.50" rx="3.75" ry="2.25" fill="#a4acec" opacity="0.4" filter="url(#bl1)" transform="rotate(-10 234.00 515.50)"/><path d="M235.3 513.7h.8v.8h-.8zM237.1 514.6h.8v.8h-.8zM235.0 517.2h.8v.8h-.8zM234.0 512.6h.8v.8h-.8zM230.2 518.9h.8v.8h-.8zM232.1 517.9h.8v.8h-.8zM235.7 517.1h.8v.8h-.8zM239.1 517.5h.8v.8h-.8zM230.9 517.0h.8v.8h-.8zM230.8 514.7h.8v.8h-.8zM237.4 514.2h.8v.8h-.8zM232.8 517.0h.8v.8h-.8zM234.6 514.0h.8v.8h-.8zM236.9 516.9h.8v.8h-.8zM230.9 513.8h.8v.8h-.8zM234.4 512.9h.8v.8h-.8zM235.6 513.9h.8v.8h-.8zM231.7 514.6h.8v.8h-.8zM230.1 515.0h.8v.8h-.8zM232.0 517.5h.8v.8h-.8zM231.3 516.5h.8v.8h-.8zM231.8 517.2h.8v.8h-.8zM237.3 517.3h.8v.8h-.8zM238.1 516.3h.8v.8h-.8z" fill="#7d89e0" opacity="0.75"/><path d="M235.9 514.7h.8v.8h-.8zM233.1 515.0h.8v.8h-.8zM233.5 515.8h.8v.8h-.8zM232.9 515.1h.8v.8h-.8zM233.5 515.0h.8v.8h-.8zM235.2 515.1h.8v.8h-.8zM234.7 515.4h.8v.8h-.8zM236.4 514.9h.8v.8h-.8zM232.5 515.9h.8v.8h-.8zM234.5 516.9h.8v.8h-.8zM233.4 515.3h.8v.8h-.8zM235.6 514.4h.8v.8h-.8zM235.9 515.4h.8v.8h-.8zM232.6 516.9h.8v.8h-.8zM231.9 515.4h.8v.8h-.8zM232.2 515.2h.8v.8h-.8zM235.0 514.2h.8v.8h-.8zM232.5 514.6h.8v.8h-.8zM233.4 514.7h.8v.8h-.8z" fill="#3f5cd0" opacity="0.85"/><ellipse cx="234.00" cy="515.50" rx="2.40" ry="1.44" fill="#4a66d4" opacity="0.75" filter="url(#bl05)" transform="rotate(-10 234.00 515.50)"/><ellipse cx="234.00" cy="515.50" rx="1.75" ry="1.20" fill="#5c5f74" opacity="0.85" filter="url(#bl05)" transform="rotate(-10 234.00 515.50)"/><path d="M222.3 540.6h.8v.8h-.8zM217.8 541.4h.8v.8h-.8zM226.1 542.2h.8v.8h-.8zM223.7 546.1h.8v.8h-.8zM220.9 540.8h.8v.8h-.8zM213.0 560.8h.8v.8h-.8zM220.8 534.8h.8v.8h-.8zM211.4 540.9h.8v.8h-.8zM237.2 545.8h.8v.8h-.8zM214.2 555.8h.8v.8h-.8zM206.3 552.0h.8v.8h-.8zM245.3 545.1h.8v.8h-.8zM230.2 549.2h.8v.8h-.8zM197.8 547.1h.8v.8h-.8zM217.1 527.7h.8v.8h-.8zM229.3 541.3h.8v.8h-.8zM224.8 547.8h.8v.8h-.8zM216.8 530.2h.8v.8h-.8zM218.1 540.0h.8v.8h-.8zM212.0 539.8h.8v.8h-.8zM221.8 554.6h.8v.8h-.8zM222.6 546.4h.8v.8h-.8zM230.9 547.8h.8v.8h-.8zM220.0 540.8h.8v.8h-.8zM211.8 550.8h.8v.8h-.8zM221.2 552.6h.8v.8h-.8zM215.2 541.2h.8v.8h-.8zM225.3 554.3h.8v.8h-.8zM220.4 541.2h.8v.8h-.8zM226.3 536.5h.8v.8h-.8zM231.7 536.9h.8v.8h-.8zM208.8 545.4h.8v.8h-.8zM217.2 553.3h.8v.8h-.8zM228.7 547.8h.8v.8h-.8zM204.7 544.5h.8v.8h-.8zM214.6 532.5h.8v.8h-.8zM237.1 532.9h.8v.8h-.8zM213.5 539.2h.8v.8h-.8zM216.2 545.9h.8v.8h-.8zM225.3 536.8h.8v.8h-.8zM225.2 548.9h.8v.8h-.8zM224.4 554.8h.8v.8h-.8zM217.4 542.6h.8v.8h-.8zM217.9 537.6h.8v.8h-.8zM221.1 551.7h.8v.8h-.8zM226.6 544.8h.8v.8h-.8zM222.9 553.3h.8v.8h-.8zM232.1 533.1h.8v.8h-.8zM210.5 551.3h.8v.8h-.8zM228.0 549.2h.8v.8h-.8zM229.7 537.8h.8v.8h-.8zM211.4 547.8h.8v.8h-.8zM211.5 545.6h.8v.8h-.8zM238.9 533.7h.8v.8h-.8zM226.3 555.0h.8v.8h-.8zM232.7 542.1h.8v.8h-.8zM214.0 545.0h.8v.8h-.8zM211.1 545.8h.8v.8h-.8zM218.9 543.0h.8v.8h-.8zM228.7 545.0h.8v.8h-.8zM216.7 543.8h.8v.8h-.8zM219.8 543.2h.8v.8h-.8zM217.8 550.3h.8v.8h-.8zM218.3 551.7h.8v.8h-.8zM227.3 551.1h.8v.8h-.8zM225.3 536.6h.8v.8h-.8zM242.0 542.2h.8v.8h-.8zM212.7 546.0h.8v.8h-.8zM223.3 532.2h.8v.8h-.8zM210.1 542.6h.8v.8h-.8zM218.4 538.0h.8v.8h-.8zM213.6 544.7h.8v.8h-.8zM213.1 547.2h.8v.8h-.8zM223.6 541.5h.8v.8h-.8zM235.9 554.5h.8v.8h-.8zM209.2 544.4h.8v.8h-.8zM233.7 539.9h.8v.8h-.8zM203.3 538.8h.8v.8h-.8zM215.6 540.2h.8v.8h-.8zM224.0 548.4h.8v.8h-.8zM226.7 532.2h.8v.8h-.8zM215.6 551.0h.8v.8h-.8zM217.1 537.3h.8v.8h-.8zM219.1 558.6h.8v.8h-.8zM209.5 541.8h.8v.8h-.8zM218.6 538.8h.8v.8h-.8zM220.4 541.1h.8v.8h-.8zM210.5 542.3h.8v.8h-.8zM217.2 541.2h.8v.8h-.8zM223.6 547.6h.8v.8h-.8zM225.8 547.8h.8v.8h-.8zM211.3 545.7h.8v.8h-.8zM219.6 538.6h.8v.8h-.8zM222.2 543.5h.8v.8h-.8zM219.6 547.6h.8v.8h-.8zM211.2 544.2h.8v.8h-.8zM214.2 541.6h.8v.8h-.8zM217.0 549.1h.8v.8h-.8zM226.3 547.5h.8v.8h-.8zM211.3 545.7h.8v.8h-.8zM235.0 552.1h.8v.8h-.8zM226.3 545.6h.8v.8h-.8zM214.9 546.8h.8v.8h-.8zM209.4 543.8h.8v.8h-.8zM209.9 538.9h.8v.8h-.8zM209.7 546.8h.8v.8h-.8zM218.2 546.6h.8v.8h-.8zM226.7 546.8h.8v.8h-.8zM215.7 546.7h.8v.8h-.8zM210.5 541.6h.8v.8h-.8zM226.1 543.3h.8v.8h-.8zM222.4 544.9h.8v.8h-.8zM240.5 533.4h.8v.8h-.8zM212.1 553.4h.8v.8h-.8zM211.3 544.7h.8v.8h-.8zM234.4 533.4h.8v.8h-.8zM220.2 549.2h.8v.8h-.8zM231.6 540.8h.8v.8h-.8zM226.8 542.4h.8v.8h-.8zM224.9 542.0h.8v.8h-.8zM226.1 549.1h.8v.8h-.8zM229.4 542.3h.8v.8h-.8zM215.6 546.9h.8v.8h-.8zM230.0 548.0h.8v.8h-.8zM214.5 545.1h.8v.8h-.8zM221.1 539.7h.8v.8h-.8zM240.1 543.2h.8v.8h-.8zM218.6 543.6h.8v.8h-.8zM211.2 541.8h.8v.8h-.8zM216.9 539.7h.8v.8h-.8zM217.6 524.2h.8v.8h-.8zM221.3 543.3h.8v.8h-.8zM213.9 538.7h.8v.8h-.8zM203.2 540.9h.8v.8h-.8zM223.5 545.4h.8v.8h-.8zM221.3 542.2h.8v.8h-.8zM232.0 553.7h.8v.8h-.8zM210.9 554.9h.8v.8h-.8zM225.9 536.3h.8v.8h-.8zM219.8 547.0h.8v.8h-.8zM238.6 543.1h.8v.8h-.8zM230.6 541.3h.8v.8h-.8zM219.7 553.6h.8v.8h-.8zM217.3 547.0h.8v.8h-.8zM228.5 549.2h.8v.8h-.8zM225.9 549.0h.8v.8h-.8zM241.2 542.9h.8v.8h-.8zM229.5 540.1h.8v.8h-.8zM222.4 541.3h.8v.8h-.8zM205.6 533.4h.8v.8h-.8zM228.2 527.3h.8v.8h-.8zM217.1 541.2h.8v.8h-.8zM228.6 545.6h.8v.8h-.8zM226.9 538.3h.8v.8h-.8zM211.3 537.1h.8v.8h-.8zM220.7 548.3h.8v.8h-.8zM230.6 539.5h.8v.8h-.8zM234.7 546.6h.8v.8h-.8zM219.5 534.6h.8v.8h-.8zM226.5 548.7h.8v.8h-.8zM219.9 535.8h.8v.8h-.8zM209.5 558.5h.8v.8h-.8zM216.4 557.4h.8v.8h-.8zM228.1 550.2h.8v.8h-.8zM234.8 544.5h.8v.8h-.8zM222.8 532.1h.8v.8h-.8zM214.7 539.4h.8v.8h-.8zM226.6 538.2h.8v.8h-.8zM235.6 542.2h.8v.8h-.8zM228.9 545.0h.8v.8h-.8zM225.1 542.9h.8v.8h-.8zM232.9 545.8h.8v.8h-.8zM213.9 528.5h.8v.8h-.8zM233.4 543.0h.8v.8h-.8zM218.8 537.7h.8v.8h-.8zM229.5 537.2h.8v.8h-.8zM230.1 551.3h.8v.8h-.8zM229.1 546.8h.8v.8h-.8zM212.6 557.1h.8v.8h-.8zM223.5 551.0h.8v.8h-.8zM216.8 543.3h.8v.8h-.8zM215.3 546.5h.8v.8h-.8zM219.4 534.1h.8v.8h-.8zM207.5 538.8h.8v.8h-.8zM208.2 545.6h.8v.8h-.8zM228.8 548.5h.8v.8h-.8zM214.3 556.7h.8v.8h-.8zM213.9 545.1h.8v.8h-.8zM211.7 531.6h.8v.8h-.8zM229.2 535.1h.8v.8h-.8zM214.4 535.3h.8v.8h-.8zM214.4 542.7h.8v.8h-.8zM219.3 549.4h.8v.8h-.8zM216.9 551.3h.8v.8h-.8z" fill="#7d89e0" opacity="0.75"/><rect x="254.3" y="513.1" width="0.7" height="0.7" fill="#8a94dc" opacity="0.45"/><rect x="227.3" y="514.5" width="0.7" height="0.7" fill="#8a94dc" opacity="0.45"/><rect x="232.5" y="503.0" width="0.7" height="0.7" fill="#8a94dc" opacity="0.45"/><rect x="240.6" y="548.8" width="0.7" height="0.7" fill="#8a94dc" opacity="0.45"/><rect x="257.1" y="520.1" width="0.7" height="0.7" fill="#8a94dc" opacity="0.45"/><rect x="214.5" y="541.5" width="0.7" height="0.7" fill="#8a94dc" opacity="0.45"/><rect x="248.2" y="510.4" width="0.7" height="0.7" fill="#8a94dc" opacity="0.45"/><rect x="208.3" y="538.0" width="0.7" height="0.7" fill="#8a94dc" opacity="0.45"/><rect x="226.6" y="529.5" width="0.7" height="0.7" fill="#8a94dc" opacity="0.45"/><rect x="237.2" y="550.3" width="0.7" height="0.7" fill="#8a94dc" opacity="0.45"/><rect x="212.0" y="514.4" width="0.7" height="0.7" fill="#8a94dc" opacity="0.45"/><rect x="206.8" y="539.1" width="0.7" height="0.7" fill="#8a94dc" opacity="0.45"/><rect x="209.3" y="548.5" width="0.7" height="0.7" fill="#8a94dc" opacity="0.45"/><rect x="239.8" y="528.9" width="0.7" height="0.7" fill="#8a94dc" opacity="0.45"/></g><line x1="202.80" y1="532.60" x2="264.20" y2="532.60" stroke="#888" stroke-width="0.8"/><line x1="221.30" y1="497.50" x2="221.30" y2="532.60" stroke="#888" stroke-width="0.8"/><line x1="238.60" y1="497.50" x2="238.60" y2="559.00" stroke="#888" stroke-width="0.8"/><text x="212.55" y="531.20" font-size="8.6" text-anchor="middle" fill="#222" stroke="#222" stroke-width="0.22">E4</text><text x="229.95" y="531.20" font-size="8.6" text-anchor="middle" fill="#222" stroke="#222" stroke-width="0.22">E3</text><text x="251.40" y="531.20" font-size="8.6" text-anchor="middle" fill="#222" stroke="#222" stroke-width="0.22">E2</text><text x="228.45" y="541.80" font-size="8.6" text-anchor="middle" fill="#222" stroke="#222" stroke-width="0.22">R</text><line x1="9.30" y1="427.00" x2="9.30" y2="560.50" stroke="#000" stroke-width="1.8"/><path d="M6.0,428.5 L9.3,421.3 L12.6,428.5 Z" fill="#000"/><text x="6.20" y="492.00" font-size="9.2" text-anchor="middle" fill="#111" stroke="#111" stroke-width="0.22" transform="rotate(-90 6.20 492.00)">CD71</text><line x1="13.00" y1="562.80" x2="67.30" y2="562.80" stroke="#000" stroke-width="1.9"/><path d="M65.80,559.60 L72.30,562.80 L65.80,566.00 Z" fill="#000"/><line x1="77.10" y1="562.20" x2="131.20" y2="562.20" stroke="#000" stroke-width="1.9"/><path d="M129.70,559.00 L136.20,562.20 L129.70,565.40 Z" fill="#000"/><line x1="140.00" y1="562.50" x2="193.60" y2="562.50" stroke="#000" stroke-width="1.9"/><path d="M192.10,559.30 L198.60,562.50 L192.10,565.70 Z" fill="#000"/><line x1="203.00" y1="561.60" x2="257.70" y2="561.60" stroke="#000" stroke-width="1.9"/><path d="M256.20,558.40 L262.70,561.60 L256.20,564.80 Z" fill="#000"/><text x="43.40" y="574.90" font-size="10.6" text-anchor="middle" fill="#111" stroke="#111" stroke-width="0.22">Ter119</text><text x="105.80" y="574.90" font-size="10.6" text-anchor="middle" fill="#111" stroke="#111" stroke-width="0.22">FSC</text><text x="170.80" y="574.90" font-size="10.6" text-anchor="middle" fill="#111" stroke="#111" stroke-width="0.22">Ter119</text><text x="231.80" y="574.90" font-size="10.6" text-anchor="middle" fill="#111" stroke="#111" stroke-width="0.22">FSC</text><text x="51.0" y="422.5" text-anchor="start" font-style="italic" fill="#1a1a1a" stroke="#1a1a1a" stroke-width="0.22"><tspan font-size="9.4">Rb</tspan><tspan font-size="6.392" dy="-3.572">LoxP/LoxP</tspan></text><text x="205.3" y="422.2" text-anchor="middle" font-style="italic" fill="#1a1a1a" stroke="#1a1a1a" stroke-width="0.22"><tspan font-size="9.4">Rb</tspan><tspan font-size="6.392" dy="-3.572">Δ/Δ</tspan></text><text x="71.0" y="495.6" text-anchor="middle" font-style="italic" fill="#1a1a1a" stroke="#1a1a1a" stroke-width="0.22"><tspan font-size="9.4">E2f8</tspan><tspan font-size="6.392" dy="-3.572">Δ/Δ</tspan></text><text x="204.0" y="496.0" text-anchor="middle" font-style="italic" fill="#1a1a1a" stroke="#1a1a1a" stroke-width="0.22"><tspan font-size="9.4">Rb</tspan><tspan font-size="6.392" dy="-3.572">Δ/Δ</tspan><tspan font-size="9.4" dy="3.572">E2f8</tspan><tspan font-size="6.392" dy="-3.572">Δ/Δ</tspan></text><clipPath id="cf11"><rect x="266.9" y="423.8" width="61.5" height="61.5"/></clipPath><rect x="266.90" y="423.80" width="61.50" height="61.50" fill="#fff" stroke="#a0a0a0" stroke-width="0.9"/><g clip-path="url(#cf11)"><ellipse cx="277.00" cy="471.00" rx="9.00" ry="8.25" fill="#a4acec" opacity="0.4" filter="url(#bl1)" transform="rotate(0 277.00 471.00)"/><path d="M269.4 473.2h.8v.8h-.8zM283.2 468.1h.8v.8h-.8zM268.7 470.6h.8v.8h-.8zM280.0 477.3h.8v.8h-.8zM269.4 463.6h.8v.8h-.8zM286.6 476.6h.8v.8h-.8zM293.0 469.3h.8v.8h-.8zM272.1 464.5h.8v.8h-.8zM283.8 472.2h.8v.8h-.8zM265.8 475.0h.8v.8h-.8zM268.1 470.0h.8v.8h-.8zM267.8 471.0h.8v.8h-.8zM297.6 470.7h.8v.8h-.8zM282.3 463.4h.8v.8h-.8zM277.6 465.2h.8v.8h-.8zM280.5 466.4h.8v.8h-.8zM288.7 468.1h.8v.8h-.8zM282.9 467.6h.8v.8h-.8zM283.2 470.3h.8v.8h-.8zM284.9 474.6h.8v.8h-.8zM287.2 468.8h.8v.8h-.8zM270.7 468.7h.8v.8h-.8zM280.7 479.6h.8v.8h-.8zM283.1 477.0h.8v.8h-.8zM281.9 475.0h.8v.8h-.8zM288.1 469.1h.8v.8h-.8zM272.7 482.2h.8v.8h-.8zM278.5 476.6h.8v.8h-.8zM282.5 464.5h.8v.8h-.8zM292.2 481.2h.8v.8h-.8zM284.0 475.1h.8v.8h-.8zM277.4 478.7h.8v.8h-.8zM272.3 475.5h.8v.8h-.8zM283.9 469.3h.8v.8h-.8zM265.8 465.8h.8v.8h-.8zM286.7 465.3h.8v.8h-.8zM276.0 457.4h.8v.8h-.8zM282.0 484.2h.8v.8h-.8zM283.3 465.8h.8v.8h-.8zM292.5 474.5h.8v.8h-.8zM277.7 479.9h.8v.8h-.8zM276.5 481.6h.8v.8h-.8zM281.5 479.1h.8v.8h-.8zM265.6 466.9h.8v.8h-.8zM268.5 480.2h.8v.8h-.8zM286.1 470.0h.8v.8h-.8zM274.0 463.9h.8v.8h-.8zM290.6 472.4h.8v.8h-.8zM272.1 457.0h.8v.8h-.8zM285.8 472.1h.8v.8h-.8zM267.0 472.0h.8v.8h-.8zM267.0 490.9h.8v.8h-.8zM284.0 474.3h.8v.8h-.8zM275.9 458.8h.8v.8h-.8zM276.2 462.1h.8v.8h-.8zM280.7 458.8h.8v.8h-.8zM271.3 478.0h.8v.8h-.8zM287.3 464.2h.8v.8h-.8zM267.4 476.0h.8v.8h-.8zM282.3 465.4h.8v.8h-.8zM272.7 467.0h.8v.8h-.8zM269.6 467.1h.8v.8h-.8zM284.8 474.9h.8v.8h-.8zM289.8 470.5h.8v.8h-.8zM276.2 465.4h.8v.8h-.8zM276.2 463.5h.8v.8h-.8zM265.9 475.0h.8v.8h-.8zM286.0 475.8h.8v.8h-.8zM285.3 472.4h.8v.8h-.8zM274.7 464.6h.8v.8h-.8zM266.4 462.5h.8v.8h-.8zM274.0 479.2h.8v.8h-.8zM284.6 466.3h.8v.8h-.8zM264.7 475.3h.8v.8h-.8zM272.7 478.5h.8v.8h-.8zM279.1 476.8h.8v.8h-.8zM281.8 459.1h.8v.8h-.8zM281.5 467.1h.8v.8h-.8zM281.8 476.1h.8v.8h-.8zM283.3 461.5h.8v.8h-.8zM273.3 457.4h.8v.8h-.8zM278.4 476.8h.8v.8h-.8zM271.9 466.3h.8v.8h-.8zM272.2 481.0h.8v.8h-.8zM283.8 470.3h.8v.8h-.8zM274.9 463.8h.8v.8h-.8zM273.0 480.4h.8v.8h-.8zM272.3 466.5h.8v.8h-.8zM270.8 464.9h.8v.8h-.8zM282.6 457.5h.8v.8h-.8zM284.0 471.4h.8v.8h-.8zM274.5 464.4h.8v.8h-.8zM269.1 464.7h.8v.8h-.8zM268.3 477.3h.8v.8h-.8zM286.1 467.2h.8v.8h-.8zM281.7 475.6h.8v.8h-.8zM267.4 462.1h.8v.8h-.8zM271.2 476.2h.8v.8h-.8zM285.1 464.0h.8v.8h-.8zM283.5 468.8h.8v.8h-.8zM275.0 460.6h.8v.8h-.8zM270.8 463.9h.8v.8h-.8zM280.1 482.9h.8v.8h-.8zM294.0 469.1h.8v.8h-.8zM266.3 468.7h.8v.8h-.8zM271.1 482.3h.8v.8h-.8zM282.8 474.1h.8v.8h-.8zM266.9 468.0h.8v.8h-.8zM271.4 479.7h.8v.8h-.8zM267.0 470.0h.8v.8h-.8zM282.1 463.6h.8v.8h-.8zM283.9 468.8h.8v.8h-.8zM278.4 477.9h.8v.8h-.8zM274.5 479.9h.8v.8h-.8zM272.1 465.7h.8v.8h-.8zM281.4 464.9h.8v.8h-.8zM274.7 476.2h.8v.8h-.8zM284.6 460.8h.8v.8h-.8zM280.2 481.8h.8v.8h-.8zM284.5 469.6h.8v.8h-.8zM269.8 469.5h.8v.8h-.8zM284.4 469.7h.8v.8h-.8zM267.9 477.0h.8v.8h-.8zM270.3 468.4h.8v.8h-.8zM270.7 469.6h.8v.8h-.8zM290.6 467.5h.8v.8h-.8zM276.1 477.4h.8v.8h-.8zM281.6 475.4h.8v.8h-.8zM282.4 459.7h.8v.8h-.8zM280.1 478.4h.8v.8h-.8zM271.7 477.3h.8v.8h-.8zM285.0 476.7h.8v.8h-.8zM282.3 475.8h.8v.8h-.8zM270.4 469.8h.8v.8h-.8zM272.4 475.2h.8v.8h-.8zM279.5 478.7h.8v.8h-.8zM272.1 465.6h.8v.8h-.8zM282.1 464.7h.8v.8h-.8zM276.3 460.6h.8v.8h-.8zM271.4 482.9h.8v.8h-.8zM281.4 491.1h.8v.8h-.8zM277.7 480.2h.8v.8h-.8zM280.2 465.8h.8v.8h-.8zM269.2 476.0h.8v.8h-.8zM271.3 459.5h.8v.8h-.8zM266.5 470.7h.8v.8h-.8zM267.5 470.8h.8v.8h-.8zM269.9 468.8h.8v.8h-.8zM287.2 456.3h.8v.8h-.8zM291.2 476.3h.8v.8h-.8zM266.7 473.3h.8v.8h-.8zM273.8 476.7h.8v.8h-.8zM270.4 470.4h.8v.8h-.8zM273.4 460.5h.8v.8h-.8zM279.9 476.7h.8v.8h-.8zM276.6 465.2h.8v.8h-.8zM285.8 464.6h.8v.8h-.8zM273.5 460.1h.8v.8h-.8zM272.6 466.8h.8v.8h-.8zM271.0 467.0h.8v.8h-.8zM288.2 469.9h.8v.8h-.8zM276.3 483.6h.8v.8h-.8zM276.6 461.1h.8v.8h-.8zM279.5 465.6h.8v.8h-.8zM287.2 463.9h.8v.8h-.8zM273.4 461.8h.8v.8h-.8zM277.6 465.2h.8v.8h-.8zM273.2 476.4h.8v.8h-.8zM271.4 464.9h.8v.8h-.8zM278.7 484.7h.8v.8h-.8zM272.6 464.7h.8v.8h-.8zM270.9 469.8h.8v.8h-.8zM285.9 471.0h.8v.8h-.8zM273.8 461.8h.8v.8h-.8zM269.3 464.8h.8v.8h-.8zM276.7 476.8h.8v.8h-.8zM276.9 483.4h.8v.8h-.8zM269.9 468.9h.8v.8h-.8zM284.9 469.5h.8v.8h-.8zM285.9 470.7h.8v.8h-.8zM268.4 465.4h.8v.8h-.8zM290.8 474.7h.8v.8h-.8zM280.8 476.5h.8v.8h-.8zM280.6 476.8h.8v.8h-.8zM283.1 469.0h.8v.8h-.8zM268.7 469.7h.8v.8h-.8zM272.5 464.9h.8v.8h-.8zM274.9 479.9h.8v.8h-.8zM282.8 479.0h.8v.8h-.8zM266.7 478.8h.8v.8h-.8zM292.0 470.0h.8v.8h-.8zM289.1 476.5h.8v.8h-.8zM270.6 473.8h.8v.8h-.8zM262.5 469.0h.8v.8h-.8zM275.8 464.7h.8v.8h-.8zM288.4 469.6h.8v.8h-.8zM272.1 466.6h.8v.8h-.8zM268.3 474.0h.8v.8h-.8zM271.3 468.1h.8v.8h-.8zM278.3 464.1h.8v.8h-.8zM292.4 470.8h.8v.8h-.8zM287.0 478.9h.8v.8h-.8zM278.9 463.2h.8v.8h-.8z" fill="#7d89e0" opacity="0.75"/><path d="M281.4 473.7h.8v.8h-.8zM276.4 469.4h.8v.8h-.8zM277.6 471.8h.8v.8h-.8zM274.8 470.6h.8v.8h-.8zM278.7 475.0h.8v.8h-.8zM272.1 472.2h.8v.8h-.8zM275.2 474.8h.8v.8h-.8zM276.4 473.1h.8v.8h-.8zM281.3 471.0h.8v.8h-.8zM277.9 466.5h.8v.8h-.8zM281.8 473.7h.8v.8h-.8zM280.5 473.9h.8v.8h-.8zM278.8 472.2h.8v.8h-.8zM278.1 467.6h.8v.8h-.8zM278.1 475.4h.8v.8h-.8zM278.1 475.3h.8v.8h-.8zM277.8 465.9h.8v.8h-.8zM276.3 473.1h.8v.8h-.8zM278.5 474.0h.8v.8h-.8zM277.0 474.7h.8v.8h-.8zM274.4 472.3h.8v.8h-.8zM272.7 468.3h.8v.8h-.8zM281.1 472.7h.8v.8h-.8zM273.2 467.9h.8v.8h-.8zM280.7 469.1h.8v.8h-.8zM281.9 471.5h.8v.8h-.8zM274.9 471.7h.8v.8h-.8zM279.7 475.9h.8v.8h-.8zM274.0 469.7h.8v.8h-.8zM278.1 472.2h.8v.8h-.8zM272.5 471.5h.8v.8h-.8zM277.0 471.9h.8v.8h-.8zM278.1 474.3h.8v.8h-.8zM272.3 468.5h.8v.8h-.8zM276.4 474.4h.8v.8h-.8zM272.2 472.4h.8v.8h-.8zM278.4 471.7h.8v.8h-.8zM278.3 469.8h.8v.8h-.8zM280.3 471.4h.8v.8h-.8zM275.7 471.4h.8v.8h-.8zM279.2 467.3h.8v.8h-.8zM278.2 472.4h.8v.8h-.8zM275.3 467.5h.8v.8h-.8zM273.1 471.6h.8v.8h-.8zM276.1 467.5h.8v.8h-.8zM276.2 476.2h.8v.8h-.8zM279.2 469.6h.8v.8h-.8zM274.5 467.8h.8v.8h-.8zM280.6 466.8h.8v.8h-.8zM275.5 471.1h.8v.8h-.8zM277.8 469.1h.8v.8h-.8zM278.2 467.6h.8v.8h-.8zM279.2 473.5h.8v.8h-.8zM279.5 470.2h.8v.8h-.8zM273.3 469.3h.8v.8h-.8zM275.8 470.2h.8v.8h-.8zM276.2 469.0h.8v.8h-.8zM271.6 471.7h.8v.8h-.8zM279.9 469.6h.8v.8h-.8zM277.2 469.8h.8v.8h-.8zM278.5 474.9h.8v.8h-.8zM274.9 466.3h.8v.8h-.8zM277.0 474.8h.8v.8h-.8zM273.4 470.4h.8v.8h-.8zM279.8 467.7h.8v.8h-.8zM281.5 468.1h.8v.8h-.8zM279.5 469.0h.8v.8h-.8zM276.8 473.6h.8v.8h-.8zM277.8 468.1h.8v.8h-.8zM281.2 471.4h.8v.8h-.8zM280.0 470.4h.8v.8h-.8zM277.9 473.0h.8v.8h-.8zM278.4 472.0h.8v.8h-.8zM273.8 469.7h.8v.8h-.8zM278.7 474.5h.8v.8h-.8zM279.5 469.9h.8v.8h-.8zM276.2 470.4h.8v.8h-.8zM278.3 474.2h.8v.8h-.8zM275.9 470.9h.8v.8h-.8zM276.6 468.8h.8v.8h-.8zM282.8 471.4h.8v.8h-.8zM274.1 466.5h.8v.8h-.8zM278.3 470.8h.8v.8h-.8zM280.9 472.2h.8v.8h-.8zM275.0 472.8h.8v.8h-.8zM277.9 468.9h.8v.8h-.8zM275.3 469.7h.8v.8h-.8zM273.6 474.5h.8v.8h-.8zM276.7 471.9h.8v.8h-.8zM277.1 472.7h.8v.8h-.8zM277.0 469.2h.8v.8h-.8zM281.6 470.3h.8v.8h-.8zM274.5 469.3h.8v.8h-.8zM277.6 472.8h.8v.8h-.8zM273.8 470.5h.8v.8h-.8zM272.3 472.2h.8v.8h-.8zM276.5 466.8h.8v.8h-.8z" fill="#3f5cd0" opacity="0.85"/><ellipse cx="277.00" cy="471.00" rx="5.76" ry="5.28" fill="#4a66d4" opacity="0.75" filter="url(#bl05)" transform="rotate(0 277.00 471.00)"/><ellipse cx="277.00" cy="471.00" rx="4.32" ry="3.96" fill="#2a9a8c" opacity="0.85" filter="url(#bl05)" transform="rotate(0 277.00 471.00)"/><ellipse cx="277.00" cy="471.00" rx="2.40" ry="2.20" fill="#3cb858" opacity="0.9" filter="url(#bl05)" transform="rotate(0 277.00 471.00)"/><ellipse cx="297.00" cy="443.00" rx="3.75" ry="3.00" fill="#a4acec" opacity="0.25" filter="url(#bl1)" transform="rotate(-30 297.00 443.00)"/><path d="M296.5 444.8h.8v.8h-.8zM294.6 441.5h.8v.8h-.8zM293.5 443.2h.8v.8h-.8zM296.4 441.8h.8v.8h-.8zM299.9 448.0h.8v.8h-.8zM299.9 438.8h.8v.8h-.8zM297.9 442.7h.8v.8h-.8zM297.8 445.1h.8v.8h-.8zM295.9 442.8h.8v.8h-.8zM296.1 443.3h.8v.8h-.8zM300.7 442.7h.8v.8h-.8zM293.5 443.9h.8v.8h-.8zM296.1 445.5h.8v.8h-.8zM298.4 444.3h.8v.8h-.8zM294.9 439.6h.8v.8h-.8zM298.3 442.8h.8v.8h-.8zM296.8 440.0h.8v.8h-.8zM296.5 441.7h.8v.8h-.8zM295.8 444.5h.8v.8h-.8zM296.9 440.9h.8v.8h-.8zM290.6 440.8h.8v.8h-.8zM296.9 445.8h.8v.8h-.8zM294.5 439.0h.8v.8h-.8zM295.5 444.9h.8v.8h-.8z" fill="#7d89e0" opacity="0.75"/><ellipse cx="297.00" cy="482.00" rx="4.50" ry="3.38" fill="#a4acec" opacity="0.4" filter="url(#bl1)" transform="rotate(0 297.00 482.00)"/><path d="M302.2 484.7h.8v.8h-.8zM293.7 480.9h.8v.8h-.8zM298.1 485.4h.8v.8h-.8zM296.2 478.4h.8v.8h-.8zM293.9 484.9h.8v.8h-.8zM296.0 479.1h.8v.8h-.8zM303.5 479.3h.8v.8h-.8zM299.9 480.7h.8v.8h-.8zM295.7 484.2h.8v.8h-.8zM303.1 480.0h.8v.8h-.8zM294.6 483.4h.8v.8h-.8zM298.4 484.8h.8v.8h-.8zM298.1 479.2h.8v.8h-.8zM299.1 479.4h.8v.8h-.8zM299.3 485.5h.8v.8h-.8zM300.7 482.4h.8v.8h-.8zM293.1 481.2h.8v.8h-.8zM301.4 481.3h.8v.8h-.8zM291.7 480.8h.8v.8h-.8zM296.5 477.0h.8v.8h-.8zM300.8 483.7h.8v.8h-.8zM300.2 485.0h.8v.8h-.8zM298.0 485.9h.8v.8h-.8zM291.7 481.5h.8v.8h-.8zM301.6 481.3h.8v.8h-.8zM293.1 482.1h.8v.8h-.8zM296.1 478.4h.8v.8h-.8zM299.8 480.8h.8v.8h-.8zM299.1 478.9h.8v.8h-.8zM300.4 478.6h.8v.8h-.8zM300.3 477.8h.8v.8h-.8zM301.3 481.1h.8v.8h-.8zM292.1 481.5h.8v.8h-.8zM298.1 479.7h.8v.8h-.8zM296.5 474.8h.8v.8h-.8zM297.9 484.4h.8v.8h-.8zM294.8 488.0h.8v.8h-.8zM300.4 484.2h.8v.8h-.8zM300.2 483.0h.8v.8h-.8zM291.1 479.4h.8v.8h-.8zM297.5 485.7h.8v.8h-.8zM299.5 485.5h.8v.8h-.8zM295.5 484.7h.8v.8h-.8zM298.5 479.6h.8v.8h-.8zM296.6 486.9h.8v.8h-.8zM289.5 480.3h.8v.8h-.8z" fill="#7d89e0" opacity="0.75"/><path d="M298.1 482.5h.8v.8h-.8zM296.0 480.2h.8v.8h-.8zM297.2 481.1h.8v.8h-.8zM299.3 483.0h.8v.8h-.8zM296.6 483.3h.8v.8h-.8zM296.0 482.9h.8v.8h-.8zM297.9 480.1h.8v.8h-.8zM297.0 484.2h.8v.8h-.8zM295.0 483.7h.8v.8h-.8zM298.9 480.7h.8v.8h-.8zM297.4 481.2h.8v.8h-.8zM298.1 482.5h.8v.8h-.8zM295.6 480.6h.8v.8h-.8zM294.8 483.3h.8v.8h-.8zM295.5 482.6h.8v.8h-.8zM295.7 483.0h.8v.8h-.8zM299.5 482.7h.8v.8h-.8zM297.3 480.5h.8v.8h-.8zM298.5 482.3h.8v.8h-.8zM297.9 483.5h.8v.8h-.8zM295.2 481.1h.8v.8h-.8zM298.0 483.7h.8v.8h-.8zM299.5 480.9h.8v.8h-.8z" fill="#3f5cd0" opacity="0.85"/><ellipse cx="297.00" cy="482.00" rx="2.88" ry="2.16" fill="#4a66d4" opacity="0.75" filter="url(#bl05)" transform="rotate(0 297.00 482.00)"/><ellipse cx="297.00" cy="482.00" rx="1.68" ry="1.26" fill="#2a9a8a" opacity="0.9" filter="url(#bl05)" transform="rotate(0 297.00 482.00)"/><path d="M296.5 462.4h.8v.8h-.8zM302.8 465.9h.8v.8h-.8zM298.7 457.1h.8v.8h-.8zM295.5 460.9h.8v.8h-.8zM297.0 477.6h.8v.8h-.8zM297.2 458.8h.8v.8h-.8zM300.3 462.4h.8v.8h-.8zM295.4 468.7h.8v.8h-.8zM297.4 455.1h.8v.8h-.8zM298.7 464.5h.8v.8h-.8zM297.3 465.6h.8v.8h-.8zM299.7 457.4h.8v.8h-.8zM293.7 449.6h.8v.8h-.8zM297.7 468.4h.8v.8h-.8zM300.1 469.2h.8v.8h-.8zM301.9 462.1h.8v.8h-.8zM300.2 454.0h.8v.8h-.8zM299.4 464.0h.8v.8h-.8zM297.8 459.7h.8v.8h-.8zM295.7 462.7h.8v.8h-.8zM300.7 460.1h.8v.8h-.8zM299.1 458.5h.8v.8h-.8zM298.5 456.8h.8v.8h-.8zM298.8 460.9h.8v.8h-.8zM298.7 458.8h.8v.8h-.8zM295.6 460.3h.8v.8h-.8zM300.2 470.2h.8v.8h-.8zM297.3 466.2h.8v.8h-.8zM299.6 464.0h.8v.8h-.8zM294.8 463.7h.8v.8h-.8zM296.0 468.1h.8v.8h-.8zM299.6 465.2h.8v.8h-.8zM292.7 465.2h.8v.8h-.8zM299.5 455.4h.8v.8h-.8zM300.0 462.4h.8v.8h-.8zM297.6 458.3h.8v.8h-.8zM295.9 459.7h.8v.8h-.8zM304.4 463.1h.8v.8h-.8zM298.4 458.6h.8v.8h-.8zM296.7 459.1h.8v.8h-.8zM296.2 466.6h.8v.8h-.8zM297.4 466.5h.8v.8h-.8zM295.6 466.8h.8v.8h-.8zM297.9 465.5h.8v.8h-.8z" fill="#7d89e0" opacity="0.75"/><rect x="311.0" y="444.7" width="0.7" height="0.7" fill="#7a86dc" opacity="0.5"/><rect x="323.2" y="458.2" width="0.7" height="0.7" fill="#7a86dc" opacity="0.5"/><rect x="310.5" y="444.9" width="0.7" height="0.7" fill="#7a86dc" opacity="0.5"/><rect x="316.4" y="431.1" width="0.7" height="0.7" fill="#7a86dc" opacity="0.5"/><rect x="277.0" y="431.2" width="0.7" height="0.7" fill="#7a86dc" opacity="0.5"/><rect x="307.9" y="466.5" width="0.7" height="0.7" fill="#7a86dc" opacity="0.5"/><rect x="279.2" y="448.9" width="0.7" height="0.7" fill="#7a86dc" opacity="0.5"/><rect x="317.0" y="459.9" width="0.7" height="0.7" fill="#7a86dc" opacity="0.5"/><rect x="274.1" y="438.8" width="0.7" height="0.7" fill="#7a86dc" opacity="0.5"/><rect x="277.9" y="432.9" width="0.7" height="0.7" fill="#7a86dc" opacity="0.5"/><rect x="292.3" y="430.0" width="0.7" height="0.7" fill="#7a86dc" opacity="0.5"/><rect x="321.8" y="450.4" width="0.7" height="0.7" fill="#7a86dc" opacity="0.5"/></g><rect x="279.40" y="438.60" width="11.80" height="12.40" fill="none" stroke="#8a8a8a" stroke-width="0.8"/><rect x="291.20" y="430.40" width="14.10" height="54.90" fill="none" stroke="#8a8a8a" stroke-width="0.8"/><text x="278.20" y="447.90" font-size="8.6" text-anchor="end" fill="#222" stroke="#222" stroke-width="0.22">E1</text><path d="M305.50,456.90 L324.20,456.90 L324.20,455.00 L329.20,458.50 L324.20,462.00 L324.20,460.10 L305.50,460.10 Z" fill="#fff" stroke="#111" stroke-width="0.9"/><clipPath id="cf12"><rect x="331.1" y="424.2" width="60.5" height="60.60000000000002"/></clipPath><rect x="331.10" y="424.20" width="60.50" height="60.60" fill="#fff" stroke="#a0a0a0" stroke-width="0.9"/><g clip-path="url(#cf12)"><ellipse cx="336.70" cy="443.00" rx="2.62" ry="2.25" fill="#a4acec" opacity="0.25" filter="url(#bl1)" transform="rotate(20 336.70 443.00)"/><path d="M334.1 442.4h.8v.8h-.8zM336.5 442.1h.8v.8h-.8zM338.3 443.7h.8v.8h-.8zM335.3 445.5h.8v.8h-.8zM336.5 440.8h.8v.8h-.8zM334.6 441.4h.8v.8h-.8zM337.4 444.7h.8v.8h-.8zM337.7 446.4h.8v.8h-.8zM339.3 445.1h.8v.8h-.8zM338.7 444.9h.8v.8h-.8zM335.3 443.9h.8v.8h-.8zM337.0 442.8h.8v.8h-.8zM339.8 445.5h.8v.8h-.8zM336.0 442.7h.8v.8h-.8z" fill="#7d89e0" opacity="0.75"/><ellipse cx="369.00" cy="440.00" rx="10.50" ry="1.88" fill="#a4acec" opacity="0.25" filter="url(#bl1)" transform="rotate(-12 369.00 440.00)"/><path d="M386.1 436.1h.8v.8h-.8zM374.9 439.7h.8v.8h-.8zM373.3 440.0h.8v.8h-.8zM365.8 440.1h.8v.8h-.8zM368.2 439.8h.8v.8h-.8zM375.7 440.7h.8v.8h-.8zM363.1 442.1h.8v.8h-.8zM362.2 440.6h.8v.8h-.8zM367.7 440.5h.8v.8h-.8zM365.5 437.3h.8v.8h-.8zM379.3 437.5h.8v.8h-.8zM365.0 441.8h.8v.8h-.8zM364.7 439.1h.8v.8h-.8zM373.1 439.8h.8v.8h-.8zM363.7 442.3h.8v.8h-.8zM371.8 438.0h.8v.8h-.8zM382.1 437.6h.8v.8h-.8zM361.3 442.3h.8v.8h-.8zM370.6 441.0h.8v.8h-.8zM360.0 443.4h.8v.8h-.8zM376.4 439.4h.8v.8h-.8zM374.2 440.7h.8v.8h-.8zM374.6 439.0h.8v.8h-.8zM363.7 442.7h.8v.8h-.8zM376.6 438.9h.8v.8h-.8zM370.7 440.7h.8v.8h-.8zM351.3 444.3h.8v.8h-.8zM351.4 444.1h.8v.8h-.8zM377.5 440.8h.8v.8h-.8zM366.1 441.3h.8v.8h-.8zM368.3 437.2h.8v.8h-.8zM374.6 438.8h.8v.8h-.8zM369.6 438.7h.8v.8h-.8zM369.1 440.2h.8v.8h-.8zM378.7 438.4h.8v.8h-.8zM394.4 434.1h.8v.8h-.8zM367.4 440.3h.8v.8h-.8zM363.9 443.2h.8v.8h-.8zM373.7 437.4h.8v.8h-.8z" fill="#7d89e0" opacity="0.75"/><ellipse cx="342.80" cy="482.00" rx="6.75" ry="2.25" fill="#a4acec" opacity="0.4" filter="url(#bl1)" transform="rotate(0 342.80 482.00)"/><path d="M343.5 483.9h.8v.8h-.8zM336.3 482.3h.8v.8h-.8zM341.9 485.8h.8v.8h-.8zM340.4 485.1h.8v.8h-.8zM340.8 485.7h.8v.8h-.8zM335.6 481.8h.8v.8h-.8zM339.9 479.8h.8v.8h-.8zM349.4 484.4h.8v.8h-.8zM330.8 483.7h.8v.8h-.8zM336.7 481.2h.8v.8h-.8zM353.3 480.1h.8v.8h-.8zM343.1 480.4h.8v.8h-.8zM334.2 480.2h.8v.8h-.8zM344.3 480.0h.8v.8h-.8zM342.3 480.0h.8v.8h-.8zM350.1 482.3h.8v.8h-.8zM349.7 480.4h.8v.8h-.8zM351.0 479.9h.8v.8h-.8zM334.7 481.4h.8v.8h-.8zM349.3 481.0h.8v.8h-.8zM336.5 481.4h.8v.8h-.8zM346.9 483.4h.8v.8h-.8zM341.4 480.5h.8v.8h-.8zM342.9 483.6h.8v.8h-.8zM339.6 484.1h.8v.8h-.8zM340.0 484.2h.8v.8h-.8zM343.2 479.7h.8v.8h-.8zM348.1 482.3h.8v.8h-.8zM344.3 483.6h.8v.8h-.8zM344.7 485.4h.8v.8h-.8zM335.6 482.0h.8v.8h-.8zM345.5 483.5h.8v.8h-.8zM335.7 480.1h.8v.8h-.8zM342.8 483.7h.8v.8h-.8zM348.2 479.7h.8v.8h-.8zM343.6 483.9h.8v.8h-.8zM343.1 480.4h.8v.8h-.8zM339.6 480.0h.8v.8h-.8zM348.7 481.7h.8v.8h-.8zM343.7 483.9h.8v.8h-.8zM348.6 481.2h.8v.8h-.8zM335.5 484.0h.8v.8h-.8zM347.5 483.6h.8v.8h-.8zM346.3 480.2h.8v.8h-.8zM343.8 480.4h.8v.8h-.8zM339.0 482.8h.8v.8h-.8zM339.3 483.0h.8v.8h-.8z" fill="#7d89e0" opacity="0.75"/><path d="M345.0 481.4h.8v.8h-.8zM341.9 481.0h.8v.8h-.8zM342.0 483.2h.8v.8h-.8zM339.7 482.6h.8v.8h-.8zM340.2 483.2h.8v.8h-.8zM341.3 482.5h.8v.8h-.8zM340.4 483.1h.8v.8h-.8zM344.1 482.5h.8v.8h-.8zM346.9 481.4h.8v.8h-.8zM340.0 482.3h.8v.8h-.8zM340.7 480.8h.8v.8h-.8zM343.1 483.4h.8v.8h-.8zM343.3 481.9h.8v.8h-.8zM340.4 483.0h.8v.8h-.8zM341.0 480.7h.8v.8h-.8zM342.3 480.6h.8v.8h-.8zM338.4 482.0h.8v.8h-.8zM341.9 482.8h.8v.8h-.8zM342.8 482.5h.8v.8h-.8zM344.1 480.8h.8v.8h-.8zM346.1 481.2h.8v.8h-.8zM340.1 481.2h.8v.8h-.8z" fill="#3f5cd0" opacity="0.85"/><ellipse cx="342.80" cy="482.00" rx="4.32" ry="1.44" fill="#4a66d4" opacity="0.75" filter="url(#bl05)" transform="rotate(0 342.80 482.00)"/><rect x="378.7" y="435.8" width="0.7" height="0.7" fill="#8a94dc" opacity="0.45"/><rect x="344.7" y="440.6" width="0.7" height="0.7" fill="#8a94dc" opacity="0.45"/><rect x="388.0" y="455.8" width="0.7" height="0.7" fill="#8a94dc" opacity="0.45"/><rect x="336.1" y="473.5" width="0.7" height="0.7" fill="#8a94dc" opacity="0.45"/><rect x="382.5" y="472.7" width="0.7" height="0.7" fill="#8a94dc" opacity="0.45"/><rect x="353.4" y="467.8" width="0.7" height="0.7" fill="#8a94dc" opacity="0.45"/><rect x="350.4" y="434.0" width="0.7" height="0.7" fill="#8a94dc" opacity="0.45"/><rect x="382.0" y="473.3" width="0.7" height="0.7" fill="#8a94dc" opacity="0.45"/><rect x="345.0" y="476.0" width="0.7" height="0.7" fill="#8a94dc" opacity="0.45"/><rect x="334.5" y="443.7" width="0.7" height="0.7" fill="#8a94dc" opacity="0.45"/><rect x="333.8" y="435.9" width="0.7" height="0.7" fill="#8a94dc" opacity="0.45"/><rect x="342.3" y="466.7" width="0.7" height="0.7" fill="#8a94dc" opacity="0.45"/><rect x="349.9" y="437.0" width="0.7" height="0.7" fill="#8a94dc" opacity="0.45"/><rect x="343.5" y="443.9" width="0.7" height="0.7" fill="#8a94dc" opacity="0.45"/></g><line x1="331.10" y1="458.80" x2="391.60" y2="458.80" stroke="#888" stroke-width="0.8"/><line x1="348.70" y1="424.20" x2="348.70" y2="458.80" stroke="#888" stroke-width="0.8"/><line x1="366.50" y1="424.20" x2="366.50" y2="484.80" stroke="#888" stroke-width="0.8"/><text x="340.40" y="457.40" font-size="8.6" text-anchor="middle" fill="#222" stroke="#222" stroke-width="0.22">E4</text><text x="357.60" y="457.40" font-size="8.6" text-anchor="middle" fill="#222" stroke="#222" stroke-width="0.22">E3</text><text x="379.05" y="457.40" font-size="8.6" text-anchor="middle" fill="#222" stroke="#222" stroke-width="0.22">E2</text><text x="356.10" y="468.00" font-size="8.6" text-anchor="middle" fill="#222" stroke="#222" stroke-width="0.22">R</text><clipPath id="cf13"><rect x="393.8" y="424.2" width="61.099999999999966" height="61.10000000000002"/></clipPath><rect x="393.80" y="424.20" width="61.10" height="61.10" fill="#fff" stroke="#a0a0a0" stroke-width="0.9"/><g clip-path="url(#cf13)"><ellipse cx="405.50" cy="466.40" rx="8.25" ry="7.50" fill="#a4acec" opacity="0.4" filter="url(#bl1)" transform="rotate(0 405.50 466.40)"/><path d="M405.0 474.3h.8v.8h-.8zM401.0 457.1h.8v.8h-.8zM403.8 471.7h.8v.8h-.8zM409.6 460.3h.8v.8h-.8zM412.5 474.8h.8v.8h-.8zM409.3 457.6h.8v.8h-.8zM409.9 458.8h.8v.8h-.8zM415.2 463.5h.8v.8h-.8zM405.0 476.5h.8v.8h-.8zM395.9 467.1h.8v.8h-.8zM399.9 464.2h.8v.8h-.8zM401.5 470.6h.8v.8h-.8zM409.8 458.0h.8v.8h-.8zM414.2 465.7h.8v.8h-.8zM396.5 463.5h.8v.8h-.8zM411.2 472.3h.8v.8h-.8zM407.5 472.4h.8v.8h-.8zM405.4 472.2h.8v.8h-.8zM401.0 463.2h.8v.8h-.8zM410.0 470.8h.8v.8h-.8zM412.9 469.8h.8v.8h-.8zM410.9 464.9h.8v.8h-.8zM402.9 454.5h.8v.8h-.8zM409.3 457.1h.8v.8h-.8zM395.6 471.8h.8v.8h-.8zM413.3 460.3h.8v.8h-.8zM408.8 476.2h.8v.8h-.8zM399.1 472.2h.8v.8h-.8zM415.4 476.9h.8v.8h-.8zM398.2 461.4h.8v.8h-.8zM407.4 473.4h.8v.8h-.8zM398.8 463.0h.8v.8h-.8zM399.6 472.9h.8v.8h-.8zM409.9 473.2h.8v.8h-.8zM413.0 469.5h.8v.8h-.8zM398.8 464.2h.8v.8h-.8zM411.5 467.8h.8v.8h-.8zM425.6 466.7h.8v.8h-.8zM404.6 473.4h.8v.8h-.8zM411.2 469.1h.8v.8h-.8zM398.2 473.7h.8v.8h-.8zM390.4 466.7h.8v.8h-.8zM399.0 465.8h.8v.8h-.8zM412.1 467.6h.8v.8h-.8zM413.4 461.9h.8v.8h-.8zM405.0 474.3h.8v.8h-.8zM411.1 467.6h.8v.8h-.8zM413.7 470.9h.8v.8h-.8zM398.3 467.2h.8v.8h-.8zM403.6 471.3h.8v.8h-.8zM401.5 470.7h.8v.8h-.8zM417.9 455.4h.8v.8h-.8zM412.3 468.1h.8v.8h-.8zM412.6 473.2h.8v.8h-.8zM400.2 476.3h.8v.8h-.8zM400.0 467.1h.8v.8h-.8zM399.7 474.1h.8v.8h-.8zM407.6 474.5h.8v.8h-.8zM398.8 455.9h.8v.8h-.8zM392.7 464.9h.8v.8h-.8zM398.6 468.9h.8v.8h-.8zM397.6 459.6h.8v.8h-.8zM410.1 471.3h.8v.8h-.8zM408.2 460.5h.8v.8h-.8zM401.0 479.1h.8v.8h-.8zM403.1 456.2h.8v.8h-.8zM415.9 466.4h.8v.8h-.8zM398.4 469.7h.8v.8h-.8zM410.0 459.3h.8v.8h-.8zM403.1 474.9h.8v.8h-.8zM412.0 466.3h.8v.8h-.8zM404.4 475.5h.8v.8h-.8zM398.9 477.0h.8v.8h-.8zM405.7 476.5h.8v.8h-.8zM409.1 462.1h.8v.8h-.8zM415.2 466.0h.8v.8h-.8zM393.5 469.1h.8v.8h-.8zM400.9 470.6h.8v.8h-.8zM408.2 472.7h.8v.8h-.8zM415.9 468.5h.8v.8h-.8zM410.5 462.4h.8v.8h-.8zM394.7 465.1h.8v.8h-.8zM407.6 474.8h.8v.8h-.8zM401.9 462.0h.8v.8h-.8zM411.9 468.4h.8v.8h-.8zM397.7 467.0h.8v.8h-.8zM405.8 472.8h.8v.8h-.8zM411.7 466.7h.8v.8h-.8zM403.7 461.2h.8v.8h-.8zM413.6 462.0h.8v.8h-.8zM415.7 473.2h.8v.8h-.8zM415.1 462.4h.8v.8h-.8zM409.7 459.5h.8v.8h-.8zM404.0 458.8h.8v.8h-.8zM411.7 472.6h.8v.8h-.8zM400.6 460.9h.8v.8h-.8zM395.6 465.7h.8v.8h-.8zM409.5 462.8h.8v.8h-.8zM408.2 460.8h.8v.8h-.8zM400.2 464.1h.8v.8h-.8zM411.2 464.1h.8v.8h-.8zM399.6 456.3h.8v.8h-.8zM403.3 461.8h.8v.8h-.8zM411.3 469.2h.8v.8h-.8zM396.5 471.3h.8v.8h-.8zM409.1 451.5h.8v.8h-.8zM399.9 468.1h.8v.8h-.8zM396.7 463.0h.8v.8h-.8zM400.9 479.4h.8v.8h-.8zM409.0 478.1h.8v.8h-.8zM410.7 468.5h.8v.8h-.8zM414.3 467.2h.8v.8h-.8zM394.6 462.1h.8v.8h-.8zM400.7 459.5h.8v.8h-.8zM402.4 457.6h.8v.8h-.8zM413.0 468.8h.8v.8h-.8zM398.6 465.7h.8v.8h-.8zM403.9 461.1h.8v.8h-.8zM404.0 473.1h.8v.8h-.8zM393.8 462.6h.8v.8h-.8zM403.8 474.5h.8v.8h-.8zM412.3 470.7h.8v.8h-.8zM411.5 475.1h.8v.8h-.8zM403.4 459.9h.8v.8h-.8zM397.6 470.3h.8v.8h-.8zM413.7 471.9h.8v.8h-.8zM408.1 461.3h.8v.8h-.8zM412.4 466.4h.8v.8h-.8zM399.3 473.0h.8v.8h-.8zM405.1 459.7h.8v.8h-.8zM396.1 457.3h.8v.8h-.8zM407.8 459.7h.8v.8h-.8zM406.3 460.4h.8v.8h-.8zM395.5 463.3h.8v.8h-.8zM401.4 463.0h.8v.8h-.8zM415.5 467.6h.8v.8h-.8zM402.2 471.0h.8v.8h-.8zM403.8 472.8h.8v.8h-.8zM396.7 472.1h.8v.8h-.8zM399.4 462.7h.8v.8h-.8zM406.8 460.9h.8v.8h-.8zM396.2 464.4h.8v.8h-.8zM403.9 457.9h.8v.8h-.8zM411.2 462.2h.8v.8h-.8zM405.8 471.9h.8v.8h-.8zM393.2 466.5h.8v.8h-.8zM405.1 460.6h.8v.8h-.8zM406.3 460.9h.8v.8h-.8zM397.1 471.8h.8v.8h-.8zM404.8 459.7h.8v.8h-.8zM403.5 461.0h.8v.8h-.8zM404.2 459.3h.8v.8h-.8zM396.0 472.5h.8v.8h-.8zM415.3 476.1h.8v.8h-.8zM418.4 473.5h.8v.8h-.8zM400.2 463.5h.8v.8h-.8zM411.8 464.0h.8v.8h-.8zM407.9 459.3h.8v.8h-.8zM393.8 472.3h.8v.8h-.8zM409.9 462.2h.8v.8h-.8zM416.0 468.6h.8v.8h-.8zM408.2 474.4h.8v.8h-.8zM390.8 466.4h.8v.8h-.8zM411.6 473.8h.8v.8h-.8zM400.6 453.9h.8v.8h-.8zM402.1 461.2h.8v.8h-.8z" fill="#7d89e0" opacity="0.75"/><path d="M407.1 469.9h.8v.8h-.8zM408.0 469.4h.8v.8h-.8zM405.2 463.7h.8v.8h-.8zM401.6 465.7h.8v.8h-.8zM410.1 466.8h.8v.8h-.8zM404.4 468.8h.8v.8h-.8zM402.2 467.5h.8v.8h-.8zM405.9 470.2h.8v.8h-.8zM407.4 471.1h.8v.8h-.8zM408.5 467.2h.8v.8h-.8zM403.3 464.0h.8v.8h-.8zM402.9 470.1h.8v.8h-.8zM408.6 468.8h.8v.8h-.8zM404.1 468.3h.8v.8h-.8zM409.0 469.4h.8v.8h-.8zM410.7 466.6h.8v.8h-.8zM403.2 462.6h.8v.8h-.8zM408.1 463.1h.8v.8h-.8zM400.9 463.8h.8v.8h-.8zM405.7 470.7h.8v.8h-.8zM407.0 471.0h.8v.8h-.8zM405.1 466.1h.8v.8h-.8zM406.1 463.1h.8v.8h-.8zM403.1 470.1h.8v.8h-.8zM402.7 467.5h.8v.8h-.8zM407.3 464.5h.8v.8h-.8zM407.3 463.1h.8v.8h-.8zM408.4 467.0h.8v.8h-.8zM402.7 465.6h.8v.8h-.8zM409.8 466.5h.8v.8h-.8zM407.7 464.2h.8v.8h-.8zM407.8 464.9h.8v.8h-.8zM404.8 468.5h.8v.8h-.8zM406.8 466.8h.8v.8h-.8zM405.1 464.0h.8v.8h-.8zM409.3 469.2h.8v.8h-.8zM405.0 466.5h.8v.8h-.8zM409.9 467.1h.8v.8h-.8zM401.1 466.8h.8v.8h-.8zM401.8 465.6h.8v.8h-.8zM406.7 468.6h.8v.8h-.8zM401.3 464.0h.8v.8h-.8zM406.7 466.1h.8v.8h-.8zM407.6 464.2h.8v.8h-.8zM407.3 463.9h.8v.8h-.8zM409.4 464.6h.8v.8h-.8zM405.8 461.7h.8v.8h-.8zM405.8 468.1h.8v.8h-.8zM401.8 464.2h.8v.8h-.8zM403.9 465.4h.8v.8h-.8zM410.5 465.0h.8v.8h-.8zM409.0 468.1h.8v.8h-.8zM408.6 470.1h.8v.8h-.8zM404.4 469.8h.8v.8h-.8zM407.9 466.0h.8v.8h-.8zM407.8 468.2h.8v.8h-.8zM406.3 469.4h.8v.8h-.8zM409.5 467.5h.8v.8h-.8zM407.5 464.0h.8v.8h-.8zM406.2 463.2h.8v.8h-.8zM401.7 468.2h.8v.8h-.8zM409.8 465.5h.8v.8h-.8zM406.9 463.0h.8v.8h-.8zM404.6 468.7h.8v.8h-.8zM403.0 467.3h.8v.8h-.8zM406.0 471.0h.8v.8h-.8zM405.3 466.7h.8v.8h-.8zM407.4 464.9h.8v.8h-.8zM402.7 467.7h.8v.8h-.8zM405.6 469.4h.8v.8h-.8zM406.4 465.8h.8v.8h-.8zM405.4 463.9h.8v.8h-.8zM402.0 465.3h.8v.8h-.8zM410.6 467.7h.8v.8h-.8zM407.5 463.9h.8v.8h-.8zM403.7 465.7h.8v.8h-.8zM404.1 467.1h.8v.8h-.8zM403.5 466.3h.8v.8h-.8zM405.7 468.9h.8v.8h-.8zM405.3 465.4h.8v.8h-.8zM401.1 464.7h.8v.8h-.8zM402.1 464.0h.8v.8h-.8zM402.7 466.9h.8v.8h-.8zM405.1 464.5h.8v.8h-.8zM402.0 465.8h.8v.8h-.8zM403.7 465.7h.8v.8h-.8z" fill="#3f5cd0" opacity="0.85"/><ellipse cx="405.50" cy="466.40" rx="5.28" ry="4.80" fill="#4a66d4" opacity="0.75" filter="url(#bl05)" transform="rotate(0 405.50 466.40)"/><ellipse cx="405.50" cy="466.40" rx="3.08" ry="2.80" fill="#2a9a8a" opacity="0.9" filter="url(#bl05)" transform="rotate(0 405.50 466.40)"/><ellipse cx="428.00" cy="439.00" rx="6.75" ry="2.62" fill="#a4acec" opacity="0.4" filter="url(#bl1)" transform="rotate(-40 428.00 439.00)"/><path d="M433.2 435.2h.8v.8h-.8zM424.2 437.3h.8v.8h-.8zM419.3 439.3h.8v.8h-.8zM432.4 437.9h.8v.8h-.8zM421.5 443.9h.8v.8h-.8zM425.4 438.2h.8v.8h-.8zM433.9 435.8h.8v.8h-.8zM427.8 441.6h.8v.8h-.8zM423.0 439.4h.8v.8h-.8zM429.4 441.6h.8v.8h-.8zM428.7 441.3h.8v.8h-.8zM428.2 435.8h.8v.8h-.8zM434.3 433.8h.8v.8h-.8zM424.1 441.1h.8v.8h-.8zM429.5 440.3h.8v.8h-.8zM434.6 437.2h.8v.8h-.8zM425.9 443.2h.8v.8h-.8zM421.9 439.7h.8v.8h-.8zM431.4 438.9h.8v.8h-.8zM430.0 435.5h.8v.8h-.8zM425.8 438.2h.8v.8h-.8zM423.2 437.2h.8v.8h-.8zM426.5 443.6h.8v.8h-.8zM425.8 444.9h.8v.8h-.8zM426.3 435.7h.8v.8h-.8zM430.3 434.8h.8v.8h-.8zM422.4 441.9h.8v.8h-.8zM428.6 442.7h.8v.8h-.8zM431.1 439.3h.8v.8h-.8zM427.6 445.3h.8v.8h-.8zM423.0 443.9h.8v.8h-.8zM432.7 437.3h.8v.8h-.8zM427.9 435.4h.8v.8h-.8zM426.6 437.7h.8v.8h-.8zM433.0 438.1h.8v.8h-.8zM426.9 436.4h.8v.8h-.8zM430.4 441.7h.8v.8h-.8zM438.8 434.0h.8v.8h-.8zM425.2 445.3h.8v.8h-.8zM429.4 433.9h.8v.8h-.8zM436.0 430.3h.8v.8h-.8zM434.1 435.4h.8v.8h-.8zM429.8 435.6h.8v.8h-.8zM428.2 441.8h.8v.8h-.8zM431.9 436.7h.8v.8h-.8zM421.9 440.3h.8v.8h-.8zM435.2 436.5h.8v.8h-.8zM433.3 436.4h.8v.8h-.8zM421.4 439.0h.8v.8h-.8z" fill="#7d89e0" opacity="0.75"/><path d="M426.0 439.6h.8v.8h-.8zM430.4 438.4h.8v.8h-.8zM425.8 440.8h.8v.8h-.8zM425.4 440.0h.8v.8h-.8zM427.5 438.3h.8v.8h-.8zM425.8 441.4h.8v.8h-.8zM425.7 441.3h.8v.8h-.8zM426.1 438.8h.8v.8h-.8zM426.9 440.3h.8v.8h-.8zM429.0 437.5h.8v.8h-.8zM429.8 437.1h.8v.8h-.8zM426.5 439.8h.8v.8h-.8zM426.3 441.2h.8v.8h-.8zM427.4 440.0h.8v.8h-.8zM427.0 440.3h.8v.8h-.8zM425.6 440.0h.8v.8h-.8zM427.6 439.0h.8v.8h-.8zM428.6 438.3h.8v.8h-.8zM430.5 438.7h.8v.8h-.8zM429.3 437.2h.8v.8h-.8zM429.0 438.0h.8v.8h-.8zM425.5 440.9h.8v.8h-.8zM430.7 437.3h.8v.8h-.8zM427.5 439.2h.8v.8h-.8zM427.1 438.2h.8v.8h-.8zM428.6 439.6h.8v.8h-.8zM430.4 438.0h.8v.8h-.8zM427.5 440.7h.8v.8h-.8zM426.6 441.1h.8v.8h-.8zM426.1 440.5h.8v.8h-.8z" fill="#3f5cd0" opacity="0.85"/><ellipse cx="428.00" cy="439.00" rx="4.32" ry="1.68" fill="#4a66d4" opacity="0.75" filter="url(#bl05)" transform="rotate(-40 428.00 439.00)"/><ellipse cx="421.80" cy="446.30" rx="9.00" ry="7.12" fill="#a4acec" opacity="0.4" filter="url(#bl1)" transform="rotate(-35 421.80 446.30)"/><path d="M417.2 450.8h.8v.8h-.8zM423.7 453.8h.8v.8h-.8zM432.1 448.2h.8v.8h-.8zM420.2 456.4h.8v.8h-.8zM413.8 446.2h.8v.8h-.8zM420.6 453.4h.8v.8h-.8zM418.2 452.5h.8v.8h-.8zM430.3 453.1h.8v.8h-.8zM427.9 437.1h.8v.8h-.8zM422.4 440.9h.8v.8h-.8zM415.9 451.0h.8v.8h-.8zM427.1 450.1h.8v.8h-.8zM423.1 440.4h.8v.8h-.8zM422.5 432.5h.8v.8h-.8zM421.3 456.9h.8v.8h-.8zM409.7 443.5h.8v.8h-.8zM429.4 445.1h.8v.8h-.8zM428.9 451.1h.8v.8h-.8zM432.9 434.8h.8v.8h-.8zM421.8 452.9h.8v.8h-.8zM417.4 453.2h.8v.8h-.8zM417.5 455.6h.8v.8h-.8zM424.8 439.4h.8v.8h-.8zM427.6 455.3h.8v.8h-.8zM415.4 451.8h.8v.8h-.8zM413.0 454.8h.8v.8h-.8zM418.1 442.4h.8v.8h-.8zM419.6 455.6h.8v.8h-.8zM422.1 439.1h.8v.8h-.8zM423.7 439.7h.8v.8h-.8zM425.9 439.9h.8v.8h-.8zM415.9 455.4h.8v.8h-.8zM423.4 437.2h.8v.8h-.8zM423.3 451.4h.8v.8h-.8zM425.7 441.6h.8v.8h-.8zM416.2 451.1h.8v.8h-.8zM428.9 433.1h.8v.8h-.8zM425.2 434.3h.8v.8h-.8zM427.9 444.9h.8v.8h-.8zM427.3 453.0h.8v.8h-.8zM426.9 450.1h.8v.8h-.8zM427.8 442.9h.8v.8h-.8zM434.2 445.7h.8v.8h-.8zM425.3 440.2h.8v.8h-.8zM417.4 441.5h.8v.8h-.8zM415.8 453.5h.8v.8h-.8zM427.6 445.8h.8v.8h-.8zM425.6 434.4h.8v.8h-.8zM413.4 453.2h.8v.8h-.8zM424.2 439.8h.8v.8h-.8zM414.1 445.4h.8v.8h-.8zM433.9 441.0h.8v.8h-.8zM431.2 452.6h.8v.8h-.8zM407.6 446.0h.8v.8h-.8zM429.9 444.8h.8v.8h-.8zM415.2 442.4h.8v.8h-.8zM413.4 444.7h.8v.8h-.8zM417.4 450.8h.8v.8h-.8zM408.1 459.6h.8v.8h-.8zM422.4 463.6h.8v.8h-.8zM414.1 448.7h.8v.8h-.8zM409.0 454.3h.8v.8h-.8zM427.2 450.2h.8v.8h-.8zM418.2 441.7h.8v.8h-.8zM423.5 429.7h.8v.8h-.8zM412.6 447.9h.8v.8h-.8zM429.8 443.6h.8v.8h-.8zM426.4 438.5h.8v.8h-.8zM412.1 442.5h.8v.8h-.8zM418.8 451.8h.8v.8h-.8zM426.5 454.4h.8v.8h-.8zM416.3 443.3h.8v.8h-.8zM417.7 436.1h.8v.8h-.8zM414.8 453.1h.8v.8h-.8zM425.1 450.5h.8v.8h-.8zM417.7 453.7h.8v.8h-.8zM423.2 439.8h.8v.8h-.8zM414.4 443.9h.8v.8h-.8zM416.0 445.1h.8v.8h-.8zM425.3 437.1h.8v.8h-.8zM413.0 444.3h.8v.8h-.8zM415.5 449.3h.8v.8h-.8zM411.0 444.0h.8v.8h-.8zM419.7 451.5h.8v.8h-.8zM413.2 440.3h.8v.8h-.8zM414.0 448.5h.8v.8h-.8zM426.7 434.3h.8v.8h-.8zM437.2 440.1h.8v.8h-.8zM429.2 445.4h.8v.8h-.8zM407.6 456.2h.8v.8h-.8zM426.5 441.3h.8v.8h-.8zM417.4 451.1h.8v.8h-.8zM405.0 458.2h.8v.8h-.8zM434.2 447.1h.8v.8h-.8zM409.6 450.2h.8v.8h-.8zM412.8 448.2h.8v.8h-.8zM427.4 448.8h.8v.8h-.8zM415.0 448.4h.8v.8h-.8zM422.5 451.9h.8v.8h-.8zM432.8 442.8h.8v.8h-.8zM426.1 452.3h.8v.8h-.8zM433.6 446.3h.8v.8h-.8zM431.8 441.2h.8v.8h-.8zM409.6 452.2h.8v.8h-.8zM433.2 441.6h.8v.8h-.8zM429.9 447.8h.8v.8h-.8zM427.8 438.9h.8v.8h-.8zM429.1 441.0h.8v.8h-.8zM416.2 460.7h.8v.8h-.8zM426.7 450.4h.8v.8h-.8zM418.1 452.8h.8v.8h-.8zM424.8 458.8h.8v.8h-.8zM429.5 440.4h.8v.8h-.8zM409.4 455.3h.8v.8h-.8zM420.1 452.5h.8v.8h-.8zM415.5 445.0h.8v.8h-.8zM440.5 447.5h.8v.8h-.8zM423.4 440.4h.8v.8h-.8zM410.6 441.9h.8v.8h-.8zM428.2 444.0h.8v.8h-.8zM424.9 451.0h.8v.8h-.8zM414.4 452.6h.8v.8h-.8zM429.2 447.9h.8v.8h-.8zM420.8 453.5h.8v.8h-.8zM433.7 434.9h.8v.8h-.8zM418.0 433.3h.8v.8h-.8zM426.6 449.9h.8v.8h-.8zM429.5 446.7h.8v.8h-.8zM418.9 454.8h.8v.8h-.8zM423.7 455.7h.8v.8h-.8zM428.6 442.2h.8v.8h-.8zM416.0 451.3h.8v.8h-.8zM412.5 455.0h.8v.8h-.8zM427.3 453.9h.8v.8h-.8zM437.2 435.6h.8v.8h-.8zM410.1 456.1h.8v.8h-.8zM407.0 454.3h.8v.8h-.8zM426.9 453.9h.8v.8h-.8zM409.5 449.7h.8v.8h-.8zM406.8 447.1h.8v.8h-.8zM412.9 444.1h.8v.8h-.8zM421.4 440.4h.8v.8h-.8zM418.9 455.9h.8v.8h-.8zM410.1 445.9h.8v.8h-.8zM427.5 442.2h.8v.8h-.8zM422.5 452.4h.8v.8h-.8zM416.5 441.0h.8v.8h-.8zM415.6 452.8h.8v.8h-.8zM409.4 445.4h.8v.8h-.8zM412.7 442.0h.8v.8h-.8zM427.9 453.8h.8v.8h-.8zM431.4 440.0h.8v.8h-.8zM429.1 441.9h.8v.8h-.8zM425.9 449.3h.8v.8h-.8zM413.2 448.5h.8v.8h-.8zM419.7 457.1h.8v.8h-.8zM418.7 453.6h.8v.8h-.8zM410.9 443.6h.8v.8h-.8zM420.8 454.0h.8v.8h-.8z" fill="#7d89e0" opacity="0.75"/><path d="M419.5 451.3h.8v.8h-.8zM420.0 449.5h.8v.8h-.8zM420.0 447.8h.8v.8h-.8zM423.6 444.0h.8v.8h-.8zM422.3 443.8h.8v.8h-.8zM419.8 444.6h.8v.8h-.8zM418.3 450.9h.8v.8h-.8zM425.5 448.3h.8v.8h-.8zM420.5 450.7h.8v.8h-.8zM423.3 449.0h.8v.8h-.8zM422.0 448.5h.8v.8h-.8zM425.7 447.1h.8v.8h-.8zM423.9 449.8h.8v.8h-.8zM420.4 446.5h.8v.8h-.8zM417.7 450.4h.8v.8h-.8zM421.2 447.3h.8v.8h-.8zM423.4 449.0h.8v.8h-.8zM423.0 447.7h.8v.8h-.8zM421.7 445.4h.8v.8h-.8zM420.0 449.5h.8v.8h-.8zM420.4 448.3h.8v.8h-.8zM418.6 450.2h.8v.8h-.8zM419.2 450.8h.8v.8h-.8zM423.1 448.9h.8v.8h-.8zM425.8 445.6h.8v.8h-.8zM420.1 445.9h.8v.8h-.8zM419.3 442.6h.8v.8h-.8zM416.9 448.1h.8v.8h-.8zM422.2 445.9h.8v.8h-.8zM422.9 450.4h.8v.8h-.8zM424.3 446.7h.8v.8h-.8zM417.3 444.6h.8v.8h-.8zM420.2 447.1h.8v.8h-.8zM425.0 442.5h.8v.8h-.8zM421.2 450.0h.8v.8h-.8zM416.6 447.9h.8v.8h-.8zM425.4 445.5h.8v.8h-.8zM418.4 449.6h.8v.8h-.8zM423.1 443.9h.8v.8h-.8zM424.6 442.7h.8v.8h-.8zM422.6 445.2h.8v.8h-.8zM416.6 447.1h.8v.8h-.8zM418.5 448.2h.8v.8h-.8zM420.0 451.3h.8v.8h-.8zM424.1 448.3h.8v.8h-.8zM422.2 443.2h.8v.8h-.8zM418.7 445.9h.8v.8h-.8zM421.7 448.8h.8v.8h-.8zM416.7 449.4h.8v.8h-.8zM420.2 450.4h.8v.8h-.8zM421.9 449.4h.8v.8h-.8zM425.8 444.7h.8v.8h-.8zM417.6 445.0h.8v.8h-.8zM420.1 445.7h.8v.8h-.8zM422.1 449.0h.8v.8h-.8zM422.2 449.5h.8v.8h-.8zM422.8 447.4h.8v.8h-.8zM422.3 447.4h.8v.8h-.8zM417.8 447.7h.8v.8h-.8zM425.9 442.9h.8v.8h-.8zM421.7 449.0h.8v.8h-.8zM418.2 446.5h.8v.8h-.8zM424.2 448.3h.8v.8h-.8zM424.4 446.2h.8v.8h-.8zM422.1 445.5h.8v.8h-.8zM426.1 444.7h.8v.8h-.8zM423.0 444.8h.8v.8h-.8zM422.7 443.7h.8v.8h-.8zM426.2 445.7h.8v.8h-.8zM424.1 443.7h.8v.8h-.8zM424.5 441.6h.8v.8h-.8zM416.6 445.5h.8v.8h-.8zM417.1 447.3h.8v.8h-.8zM420.7 446.5h.8v.8h-.8zM424.6 449.2h.8v.8h-.8zM419.0 443.3h.8v.8h-.8zM420.5 441.7h.8v.8h-.8zM423.6 443.7h.8v.8h-.8zM417.9 447.9h.8v.8h-.8zM420.5 444.7h.8v.8h-.8zM417.9 449.4h.8v.8h-.8zM423.8 443.6h.8v.8h-.8zM424.1 446.3h.8v.8h-.8zM424.0 448.1h.8v.8h-.8zM421.5 443.8h.8v.8h-.8zM425.4 442.8h.8v.8h-.8zM420.1 447.1h.8v.8h-.8zM418.6 448.4h.8v.8h-.8zM419.1 445.0h.8v.8h-.8zM416.6 447.8h.8v.8h-.8zM419.1 443.9h.8v.8h-.8zM420.7 443.7h.8v.8h-.8zM421.2 442.0h.8v.8h-.8zM423.7 443.1h.8v.8h-.8zM426.1 447.0h.8v.8h-.8zM421.5 449.1h.8v.8h-.8zM416.7 447.2h.8v.8h-.8zM423.0 449.0h.8v.8h-.8zM420.1 444.2h.8v.8h-.8zM419.8 445.4h.8v.8h-.8zM425.4 444.5h.8v.8h-.8z" fill="#3f5cd0" opacity="0.85"/><ellipse cx="421.80" cy="446.30" rx="5.76" ry="4.56" fill="#4a66d4" opacity="0.75" filter="url(#bl05)" transform="rotate(-35 421.80 446.30)"/><ellipse cx="421.80" cy="446.30" rx="7.44" ry="5.89" fill="#2a98a8" filter="url(#bl05)" transform="rotate(-35 421.80 446.30)"/><ellipse cx="421.80" cy="446.30" rx="6.00" ry="4.75" fill="#34b050" filter="url(#bl05)" transform="rotate(-35 421.80 446.30)"/><ellipse cx="421.80" cy="446.30" rx="4.08" ry="3.23" fill="#b8cc2a" filter="url(#bl05)" transform="rotate(-35 421.80 446.30)"/><ellipse cx="421.80" cy="446.30" rx="2.64" ry="2.09" fill="#e8a020" filter="url(#bl05)" transform="rotate(-35 421.80 446.30)"/><ellipse cx="421.80" cy="446.30" rx="1.32" ry="1.04" fill="#e0401a" filter="url(#bl05)" transform="rotate(-35 421.80 446.30)"/><ellipse cx="421.60" cy="479.20" rx="5.25" ry="3.75" fill="#a4acec" opacity="0.4" filter="url(#bl1)" transform="rotate(0 421.60 479.20)"/><path d="M418.9 481.3h.8v.8h-.8zM418.0 477.3h.8v.8h-.8zM422.6 473.7h.8v.8h-.8zM417.7 477.2h.8v.8h-.8zM415.6 479.1h.8v.8h-.8zM414.6 480.9h.8v.8h-.8zM426.4 480.2h.8v.8h-.8zM426.9 482.0h.8v.8h-.8zM429.9 480.9h.8v.8h-.8zM419.9 482.4h.8v.8h-.8zM418.5 478.0h.8v.8h-.8zM426.3 481.6h.8v.8h-.8zM419.6 481.6h.8v.8h-.8zM424.3 473.4h.8v.8h-.8zM422.2 476.4h.8v.8h-.8zM424.4 477.6h.8v.8h-.8zM425.4 477.2h.8v.8h-.8zM428.3 478.4h.8v.8h-.8zM424.8 482.5h.8v.8h-.8zM418.1 481.0h.8v.8h-.8zM424.0 475.6h.8v.8h-.8zM423.0 483.4h.8v.8h-.8zM419.6 476.0h.8v.8h-.8zM413.5 479.2h.8v.8h-.8zM424.4 476.0h.8v.8h-.8zM420.9 483.7h.8v.8h-.8zM427.0 477.4h.8v.8h-.8zM414.8 479.9h.8v.8h-.8zM418.0 481.0h.8v.8h-.8zM418.3 476.2h.8v.8h-.8zM418.1 478.9h.8v.8h-.8zM421.1 475.9h.8v.8h-.8zM422.9 482.5h.8v.8h-.8zM415.4 480.4h.8v.8h-.8zM418.5 472.0h.8v.8h-.8zM422.0 476.1h.8v.8h-.8zM411.0 476.6h.8v.8h-.8zM424.4 481.1h.8v.8h-.8zM416.4 480.9h.8v.8h-.8zM423.6 482.9h.8v.8h-.8zM428.7 483.5h.8v.8h-.8zM426.2 481.0h.8v.8h-.8zM421.6 475.9h.8v.8h-.8zM424.8 477.4h.8v.8h-.8zM413.2 476.7h.8v.8h-.8zM415.0 479.7h.8v.8h-.8zM416.0 476.3h.8v.8h-.8zM422.5 482.6h.8v.8h-.8zM432.2 480.2h.8v.8h-.8zM426.9 484.1h.8v.8h-.8zM425.5 482.3h.8v.8h-.8zM420.6 482.8h.8v.8h-.8zM424.2 476.6h.8v.8h-.8zM425.3 477.6h.8v.8h-.8zM414.2 477.5h.8v.8h-.8zM423.1 483.1h.8v.8h-.8zM425.1 481.4h.8v.8h-.8z" fill="#7d89e0" opacity="0.75"/><path d="M420.8 477.8h.8v.8h-.8zM423.2 480.5h.8v.8h-.8zM420.9 480.2h.8v.8h-.8zM421.3 477.4h.8v.8h-.8zM420.8 478.9h.8v.8h-.8zM422.3 481.1h.8v.8h-.8zM419.5 478.8h.8v.8h-.8zM424.0 477.4h.8v.8h-.8zM421.0 478.3h.8v.8h-.8zM420.9 481.5h.8v.8h-.8zM424.4 479.9h.8v.8h-.8zM420.6 477.7h.8v.8h-.8zM421.0 479.5h.8v.8h-.8zM420.3 480.8h.8v.8h-.8zM423.6 478.6h.8v.8h-.8zM421.2 479.7h.8v.8h-.8zM420.6 478.7h.8v.8h-.8zM422.6 479.6h.8v.8h-.8zM420.1 477.3h.8v.8h-.8zM421.2 481.6h.8v.8h-.8zM420.2 478.2h.8v.8h-.8zM422.0 481.3h.8v.8h-.8zM418.6 480.4h.8v.8h-.8zM419.1 479.4h.8v.8h-.8zM420.8 478.2h.8v.8h-.8zM419.9 477.1h.8v.8h-.8zM421.8 481.5h.8v.8h-.8zM421.7 480.1h.8v.8h-.8zM422.5 479.9h.8v.8h-.8zM423.3 479.4h.8v.8h-.8z" fill="#3f5cd0" opacity="0.85"/><ellipse cx="421.60" cy="479.20" rx="3.36" ry="2.40" fill="#4a66d4" opacity="0.75" filter="url(#bl05)" transform="rotate(0 421.60 479.20)"/><path d="M424.9 457.9h.8v.8h-.8zM423.5 461.7h.8v.8h-.8zM421.0 463.6h.8v.8h-.8zM422.6 458.4h.8v.8h-.8zM420.5 453.6h.8v.8h-.8zM429.2 459.1h.8v.8h-.8zM421.8 450.2h.8v.8h-.8zM423.4 463.5h.8v.8h-.8zM425.0 458.4h.8v.8h-.8zM420.1 473.9h.8v.8h-.8zM422.6 464.6h.8v.8h-.8zM424.2 462.8h.8v.8h-.8zM428.6 465.6h.8v.8h-.8zM426.3 470.3h.8v.8h-.8zM426.6 463.1h.8v.8h-.8zM420.5 467.5h.8v.8h-.8zM423.8 455.2h.8v.8h-.8zM426.1 472.6h.8v.8h-.8zM427.2 464.9h.8v.8h-.8zM429.1 465.8h.8v.8h-.8zM420.7 464.0h.8v.8h-.8zM426.1 461.5h.8v.8h-.8zM421.3 456.4h.8v.8h-.8zM428.8 466.8h.8v.8h-.8zM421.3 470.1h.8v.8h-.8zM424.1 458.3h.8v.8h-.8zM421.5 466.3h.8v.8h-.8zM427.3 467.0h.8v.8h-.8zM422.8 450.0h.8v.8h-.8zM420.3 465.3h.8v.8h-.8zM420.6 456.2h.8v.8h-.8zM420.0 451.8h.8v.8h-.8zM428.4 451.7h.8v.8h-.8zM420.3 465.3h.8v.8h-.8zM425.8 468.4h.8v.8h-.8zM421.1 462.6h.8v.8h-.8zM429.8 458.6h.8v.8h-.8zM425.1 459.0h.8v.8h-.8zM418.6 458.0h.8v.8h-.8zM420.8 467.4h.8v.8h-.8zM426.6 474.6h.8v.8h-.8zM420.9 460.5h.8v.8h-.8zM425.6 459.8h.8v.8h-.8zM420.9 462.0h.8v.8h-.8zM426.9 459.3h.8v.8h-.8zM429.5 459.8h.8v.8h-.8zM427.2 467.5h.8v.8h-.8zM422.2 463.2h.8v.8h-.8zM428.1 456.3h.8v.8h-.8zM427.6 461.9h.8v.8h-.8zM426.8 469.0h.8v.8h-.8zM425.3 459.5h.8v.8h-.8zM424.2 457.0h.8v.8h-.8zM417.3 472.7h.8v.8h-.8zM421.4 449.9h.8v.8h-.8zM424.9 453.3h.8v.8h-.8zM425.2 471.4h.8v.8h-.8zM428.3 468.2h.8v.8h-.8zM422.8 458.1h.8v.8h-.8zM417.0 456.4h.8v.8h-.8zM422.9 459.0h.8v.8h-.8zM429.3 460.9h.8v.8h-.8zM423.0 468.1h.8v.8h-.8z" fill="#7d89e0" opacity="0.75"/><rect x="415.5" y="451.5" width="0.7" height="0.7" fill="#7a86dc" opacity="0.5"/><rect x="443.7" y="447.9" width="0.7" height="0.7" fill="#7a86dc" opacity="0.5"/><rect x="449.6" y="443.7" width="0.7" height="0.7" fill="#7a86dc" opacity="0.5"/><rect x="416.1" y="443.0" width="0.7" height="0.7" fill="#7a86dc" opacity="0.5"/><rect x="440.8" y="432.5" width="0.7" height="0.7" fill="#7a86dc" opacity="0.5"/><rect x="404.8" y="472.4" width="0.7" height="0.7" fill="#7a86dc" opacity="0.5"/><rect x="438.3" y="435.0" width="0.7" height="0.7" fill="#7a86dc" opacity="0.5"/><rect x="420.0" y="429.6" width="0.7" height="0.7" fill="#7a86dc" opacity="0.5"/><rect x="444.1" y="476.3" width="0.7" height="0.7" fill="#7a86dc" opacity="0.5"/><rect x="398.1" y="471.0" width="0.7" height="0.7" fill="#7a86dc" opacity="0.5"/><rect x="409.9" y="482.4" width="0.7" height="0.7" fill="#7a86dc" opacity="0.5"/><rect x="404.5" y="480.2" width="0.7" height="0.7" fill="#7a86dc" opacity="0.5"/></g><rect x="403.50" y="439.40" width="11.10" height="12.10" fill="none" stroke="#8a8a8a" stroke-width="0.8"/><rect x="414.60" y="430.40" width="20.10" height="54.90" fill="none" stroke="#8a8a8a" stroke-width="0.8"/><text x="402.30" y="448.55" font-size="8.6" text-anchor="end" fill="#222" stroke="#222" stroke-width="0.22">E1</text><path d="M434.70,456.90 L451.60,456.90 L451.60,455.00 L456.60,458.50 L451.60,462.00 L451.60,460.10 L434.70,460.10 Z" fill="#fff" stroke="#111" stroke-width="0.9"/><clipPath id="cf14"><rect x="457.7" y="424.2" width="62.30000000000001" height="60.400000000000034"/></clipPath><rect x="457.70" y="424.20" width="67.30" height="60.40" fill="#fff" stroke="none" stroke-width="1"/><line x1="457.70" y1="424.20" x2="525.00" y2="424.20" stroke="#a0a0a0" stroke-width="0.9"/><line x1="457.70" y1="424.20" x2="457.70" y2="484.60" stroke="#a0a0a0" stroke-width="0.9"/><line x1="457.70" y1="484.60" x2="493.50" y2="484.60" stroke="#a0a0a0" stroke-width="0.9"/><g clip-path="url(#cf14)"><ellipse cx="463.80" cy="441.00" rx="6.00" ry="4.50" fill="#a4acec" opacity="0.25" filter="url(#bl1)" transform="rotate(0 463.80 441.00)"/><path d="M468.9 444.0h.8v.8h-.8zM458.1 435.0h.8v.8h-.8zM463.4 443.4h.8v.8h-.8zM463.2 436.4h.8v.8h-.8zM461.7 445.5h.8v.8h-.8zM458.1 444.3h.8v.8h-.8zM466.0 442.5h.8v.8h-.8zM467.0 439.3h.8v.8h-.8zM463.3 446.6h.8v.8h-.8zM462.2 439.7h.8v.8h-.8zM458.0 439.5h.8v.8h-.8zM466.9 444.9h.8v.8h-.8zM466.5 443.0h.8v.8h-.8zM466.2 442.1h.8v.8h-.8zM468.0 440.6h.8v.8h-.8zM468.3 440.8h.8v.8h-.8zM457.2 437.0h.8v.8h-.8zM463.0 439.6h.8v.8h-.8zM458.8 438.7h.8v.8h-.8zM464.6 442.3h.8v.8h-.8zM467.3 438.3h.8v.8h-.8zM465.4 444.2h.8v.8h-.8zM465.3 446.5h.8v.8h-.8zM461.9 441.0h.8v.8h-.8zM464.5 439.8h.8v.8h-.8zM463.6 441.7h.8v.8h-.8zM463.7 439.5h.8v.8h-.8zM462.0 440.8h.8v.8h-.8zM457.5 441.6h.8v.8h-.8zM459.3 440.3h.8v.8h-.8zM459.4 441.3h.8v.8h-.8zM462.3 440.2h.8v.8h-.8zM460.8 441.4h.8v.8h-.8zM470.3 435.5h.8v.8h-.8zM465.9 441.7h.8v.8h-.8zM462.2 437.1h.8v.8h-.8zM470.3 441.6h.8v.8h-.8zM467.9 439.9h.8v.8h-.8zM460.7 444.3h.8v.8h-.8zM466.8 440.1h.8v.8h-.8zM462.9 442.9h.8v.8h-.8zM460.6 438.5h.8v.8h-.8zM463.6 444.1h.8v.8h-.8zM467.3 441.6h.8v.8h-.8zM469.3 440.6h.8v.8h-.8zM461.8 448.2h.8v.8h-.8zM461.8 442.8h.8v.8h-.8zM466.1 441.4h.8v.8h-.8zM464.7 443.1h.8v.8h-.8zM466.1 439.2h.8v.8h-.8zM463.8 445.2h.8v.8h-.8z" fill="#7d89e0" opacity="0.75"/><ellipse cx="463.80" cy="441.00" rx="3.75" ry="3.00" fill="#a4acec" opacity="0.4" filter="url(#bl1)" transform="rotate(0 463.80 441.00)"/><path d="M460.6 440.0h.8v.8h-.8zM467.9 439.8h.8v.8h-.8zM458.8 440.8h.8v.8h-.8zM462.1 442.5h.8v.8h-.8zM467.0 440.3h.8v.8h-.8zM466.9 439.5h.8v.8h-.8zM463.9 445.8h.8v.8h-.8zM465.0 444.0h.8v.8h-.8zM460.7 441.8h.8v.8h-.8zM460.5 443.5h.8v.8h-.8zM461.5 438.6h.8v.8h-.8zM460.1 444.9h.8v.8h-.8zM462.0 438.8h.8v.8h-.8zM466.3 441.6h.8v.8h-.8zM463.5 443.3h.8v.8h-.8zM468.5 439.3h.8v.8h-.8zM467.4 442.2h.8v.8h-.8zM466.8 440.0h.8v.8h-.8zM468.1 443.4h.8v.8h-.8zM457.3 443.6h.8v.8h-.8zM467.2 438.2h.8v.8h-.8zM465.5 442.5h.8v.8h-.8zM459.5 442.1h.8v.8h-.8zM460.6 441.1h.8v.8h-.8zM461.8 446.3h.8v.8h-.8zM463.8 444.1h.8v.8h-.8zM469.8 440.7h.8v.8h-.8zM468.0 438.6h.8v.8h-.8zM461.5 442.4h.8v.8h-.8zM460.3 445.0h.8v.8h-.8zM468.3 440.0h.8v.8h-.8zM461.9 435.8h.8v.8h-.8zM458.9 440.4h.8v.8h-.8zM458.6 442.6h.8v.8h-.8zM466.3 441.9h.8v.8h-.8zM459.7 439.3h.8v.8h-.8zM460.3 442.5h.8v.8h-.8z" fill="#7d89e0" opacity="0.75"/><path d="M465.7 440.1h.8v.8h-.8zM464.0 439.0h.8v.8h-.8zM464.1 439.2h.8v.8h-.8zM461.5 441.4h.8v.8h-.8zM463.7 442.0h.8v.8h-.8zM465.1 442.2h.8v.8h-.8zM463.7 443.0h.8v.8h-.8zM462.6 441.5h.8v.8h-.8zM464.1 442.2h.8v.8h-.8zM463.6 439.8h.8v.8h-.8zM462.9 439.7h.8v.8h-.8zM464.7 440.7h.8v.8h-.8zM464.4 439.3h.8v.8h-.8zM463.6 440.9h.8v.8h-.8zM463.7 440.9h.8v.8h-.8zM465.7 441.0h.8v.8h-.8zM465.2 441.2h.8v.8h-.8z" fill="#3f5cd0" opacity="0.85"/><ellipse cx="463.80" cy="441.00" rx="2.40" ry="1.92" fill="#4a66d4" opacity="0.75" filter="url(#bl05)" transform="rotate(0 463.80 441.00)"/><ellipse cx="495.00" cy="440.00" rx="15.75" ry="4.50" fill="#a4acec" opacity="0.25" filter="url(#bl1)" transform="rotate(-8 495.00 440.00)"/><path d="M505.9 437.8h.8v.8h-.8zM495.9 440.6h.8v.8h-.8zM502.6 436.2h.8v.8h-.8zM485.4 443.8h.8v.8h-.8zM500.8 440.7h.8v.8h-.8zM496.1 442.3h.8v.8h-.8zM499.9 437.5h.8v.8h-.8zM513.8 440.8h.8v.8h-.8zM492.6 440.1h.8v.8h-.8zM487.0 436.9h.8v.8h-.8zM483.4 437.2h.8v.8h-.8zM488.3 442.0h.8v.8h-.8zM493.8 435.8h.8v.8h-.8zM492.8 438.4h.8v.8h-.8zM483.9 445.0h.8v.8h-.8zM484.4 444.3h.8v.8h-.8zM477.3 443.4h.8v.8h-.8zM488.1 444.0h.8v.8h-.8zM499.1 437.0h.8v.8h-.8zM502.5 443.0h.8v.8h-.8zM509.9 442.5h.8v.8h-.8zM492.3 447.1h.8v.8h-.8zM488.8 440.5h.8v.8h-.8zM478.7 441.7h.8v.8h-.8zM479.8 442.5h.8v.8h-.8zM477.2 448.3h.8v.8h-.8zM504.5 443.7h.8v.8h-.8zM507.8 438.8h.8v.8h-.8zM500.3 439.9h.8v.8h-.8zM474.6 439.3h.8v.8h-.8zM491.4 443.5h.8v.8h-.8zM480.5 442.7h.8v.8h-.8zM489.4 443.2h.8v.8h-.8zM502.9 435.7h.8v.8h-.8zM483.7 446.2h.8v.8h-.8zM506.5 438.4h.8v.8h-.8zM504.2 439.0h.8v.8h-.8zM500.2 438.1h.8v.8h-.8zM501.8 444.3h.8v.8h-.8zM511.4 441.7h.8v.8h-.8zM497.0 442.8h.8v.8h-.8zM490.5 439.8h.8v.8h-.8zM496.4 436.5h.8v.8h-.8zM496.6 434.5h.8v.8h-.8zM513.2 440.2h.8v.8h-.8zM498.2 437.4h.8v.8h-.8zM488.7 439.7h.8v.8h-.8zM477.3 441.2h.8v.8h-.8zM485.8 444.0h.8v.8h-.8zM510.3 442.5h.8v.8h-.8zM480.1 437.9h.8v.8h-.8zM511.0 440.3h.8v.8h-.8zM506.9 440.5h.8v.8h-.8zM498.7 446.2h.8v.8h-.8zM504.9 440.8h.8v.8h-.8zM484.6 442.0h.8v.8h-.8zM510.0 439.7h.8v.8h-.8zM505.0 438.1h.8v.8h-.8zM502.7 437.2h.8v.8h-.8zM493.7 443.6h.8v.8h-.8zM513.4 436.5h.8v.8h-.8zM492.8 439.6h.8v.8h-.8zM493.2 440.4h.8v.8h-.8zM504.9 439.8h.8v.8h-.8zM495.4 441.4h.8v.8h-.8zM476.1 442.3h.8v.8h-.8zM516.1 433.9h.8v.8h-.8zM489.1 441.7h.8v.8h-.8zM505.9 437.7h.8v.8h-.8zM484.6 446.4h.8v.8h-.8zM469.7 440.8h.8v.8h-.8zM486.1 434.0h.8v.8h-.8zM510.7 444.0h.8v.8h-.8zM478.7 441.0h.8v.8h-.8zM492.8 442.6h.8v.8h-.8zM493.3 442.1h.8v.8h-.8zM500.2 438.9h.8v.8h-.8zM496.3 444.3h.8v.8h-.8zM497.4 441.8h.8v.8h-.8zM495.2 442.3h.8v.8h-.8zM512.8 437.8h.8v.8h-.8zM489.7 438.5h.8v.8h-.8zM505.8 436.1h.8v.8h-.8zM501.4 447.1h.8v.8h-.8zM498.3 445.2h.8v.8h-.8zM495.3 439.7h.8v.8h-.8zM501.1 436.4h.8v.8h-.8zM468.9 443.6h.8v.8h-.8zM487.4 441.8h.8v.8h-.8zM516.7 439.0h.8v.8h-.8zM478.8 443.7h.8v.8h-.8zM474.9 436.0h.8v.8h-.8zM517.9 433.9h.8v.8h-.8zM471.2 443.1h.8v.8h-.8zM493.3 441.8h.8v.8h-.8zM493.3 439.7h.8v.8h-.8zM504.4 438.2h.8v.8h-.8zM487.2 442.3h.8v.8h-.8zM489.5 444.3h.8v.8h-.8zM495.5 439.4h.8v.8h-.8zM490.8 442.6h.8v.8h-.8zM506.1 437.6h.8v.8h-.8zM471.4 445.9h.8v.8h-.8zM487.2 443.1h.8v.8h-.8zM488.8 442.2h.8v.8h-.8zM492.1 437.9h.8v.8h-.8zM480.9 441.7h.8v.8h-.8zM496.1 434.7h.8v.8h-.8zM468.9 444.6h.8v.8h-.8zM518.7 434.2h.8v.8h-.8zM491.9 437.1h.8v.8h-.8zM482.0 446.6h.8v.8h-.8zM477.4 443.3h.8v.8h-.8zM487.4 443.0h.8v.8h-.8zM512.5 438.1h.8v.8h-.8zM492.4 443.9h.8v.8h-.8zM491.1 434.7h.8v.8h-.8zM509.8 436.3h.8v.8h-.8zM498.7 446.7h.8v.8h-.8zM505.7 439.6h.8v.8h-.8zM513.2 434.7h.8v.8h-.8zM476.5 439.0h.8v.8h-.8zM496.5 440.6h.8v.8h-.8zM488.7 447.8h.8v.8h-.8zM504.4 439.4h.8v.8h-.8zM487.7 440.9h.8v.8h-.8zM498.4 438.4h.8v.8h-.8zM527.9 440.9h.8v.8h-.8zM502.7 439.1h.8v.8h-.8z" fill="#7d89e0" opacity="0.75"/><ellipse cx="492.00" cy="440.50" rx="10.50" ry="3.00" fill="#a4acec" opacity="0.4" filter="url(#bl1)" transform="rotate(-8 492.00 440.50)"/><path d="M479.9 444.6h.8v.8h-.8zM487.5 443.5h.8v.8h-.8zM495.0 437.3h.8v.8h-.8zM498.5 440.8h.8v.8h-.8zM489.5 436.9h.8v.8h-.8zM492.8 445.8h.8v.8h-.8zM499.0 434.5h.8v.8h-.8zM479.5 444.5h.8v.8h-.8zM486.0 438.0h.8v.8h-.8zM479.4 442.0h.8v.8h-.8zM497.9 443.1h.8v.8h-.8zM506.7 436.1h.8v.8h-.8zM484.1 442.8h.8v.8h-.8zM500.6 439.1h.8v.8h-.8zM503.0 440.6h.8v.8h-.8zM504.1 438.5h.8v.8h-.8zM486.2 440.0h.8v.8h-.8zM495.0 437.7h.8v.8h-.8zM482.3 444.7h.8v.8h-.8zM488.0 445.1h.8v.8h-.8zM489.5 438.0h.8v.8h-.8zM483.3 440.1h.8v.8h-.8zM510.9 433.9h.8v.8h-.8zM474.6 441.0h.8v.8h-.8zM493.2 445.1h.8v.8h-.8zM499.3 437.5h.8v.8h-.8zM504.0 441.6h.8v.8h-.8zM498.7 441.1h.8v.8h-.8zM480.5 443.0h.8v.8h-.8zM489.9 443.4h.8v.8h-.8zM498.5 441.6h.8v.8h-.8zM496.3 437.0h.8v.8h-.8zM492.0 442.9h.8v.8h-.8zM498.9 440.8h.8v.8h-.8zM481.7 438.2h.8v.8h-.8zM491.2 443.5h.8v.8h-.8zM495.0 442.4h.8v.8h-.8zM488.1 438.7h.8v.8h-.8zM491.0 442.8h.8v.8h-.8zM484.0 440.9h.8v.8h-.8zM497.9 441.1h.8v.8h-.8zM495.8 441.8h.8v.8h-.8zM501.2 439.7h.8v.8h-.8zM496.4 435.9h.8v.8h-.8zM489.9 438.5h.8v.8h-.8zM491.4 438.5h.8v.8h-.8zM499.7 438.8h.8v.8h-.8zM486.2 442.4h.8v.8h-.8zM486.9 438.8h.8v.8h-.8zM490.0 445.6h.8v.8h-.8zM500.0 440.0h.8v.8h-.8zM496.0 444.9h.8v.8h-.8zM503.5 439.3h.8v.8h-.8zM479.6 440.4h.8v.8h-.8zM488.6 438.4h.8v.8h-.8zM501.0 438.6h.8v.8h-.8zM489.2 438.7h.8v.8h-.8zM494.3 443.6h.8v.8h-.8zM494.7 442.4h.8v.8h-.8zM486.5 443.0h.8v.8h-.8zM502.6 437.2h.8v.8h-.8zM473.1 442.1h.8v.8h-.8zM484.8 443.1h.8v.8h-.8zM496.4 437.1h.8v.8h-.8zM467.9 445.3h.8v.8h-.8zM474.8 443.4h.8v.8h-.8zM484.5 442.8h.8v.8h-.8zM503.9 437.6h.8v.8h-.8zM500.1 439.3h.8v.8h-.8zM496.1 435.4h.8v.8h-.8zM480.6 439.5h.8v.8h-.8zM482.4 444.1h.8v.8h-.8zM500.7 439.5h.8v.8h-.8zM491.4 438.4h.8v.8h-.8zM507.9 441.6h.8v.8h-.8zM483.2 439.5h.8v.8h-.8zM485.5 440.1h.8v.8h-.8z" fill="#7d89e0" opacity="0.75"/><path d="M492.6 440.1h.8v.8h-.8zM490.6 440.6h.8v.8h-.8zM492.9 440.0h.8v.8h-.8zM491.1 440.4h.8v.8h-.8zM489.8 440.1h.8v.8h-.8zM491.1 441.2h.8v.8h-.8zM492.5 438.6h.8v.8h-.8zM486.2 441.3h.8v.8h-.8zM489.9 440.9h.8v.8h-.8zM488.8 439.3h.8v.8h-.8zM485.8 441.1h.8v.8h-.8zM498.8 439.6h.8v.8h-.8zM493.7 440.2h.8v.8h-.8zM494.6 440.2h.8v.8h-.8zM489.3 441.6h.8v.8h-.8zM489.2 441.5h.8v.8h-.8zM487.5 442.4h.8v.8h-.8zM494.9 439.8h.8v.8h-.8zM488.7 439.8h.8v.8h-.8zM495.3 439.0h.8v.8h-.8zM491.1 442.3h.8v.8h-.8zM492.0 440.4h.8v.8h-.8zM491.1 442.4h.8v.8h-.8zM490.1 439.7h.8v.8h-.8zM487.6 441.0h.8v.8h-.8zM495.1 439.0h.8v.8h-.8zM493.3 439.4h.8v.8h-.8zM496.9 439.2h.8v.8h-.8zM493.8 438.4h.8v.8h-.8zM493.2 439.1h.8v.8h-.8zM491.1 439.2h.8v.8h-.8zM494.5 440.9h.8v.8h-.8zM494.1 439.3h.8v.8h-.8zM495.5 439.5h.8v.8h-.8zM496.0 441.0h.8v.8h-.8zM490.0 439.4h.8v.8h-.8zM485.7 441.7h.8v.8h-.8zM494.5 440.8h.8v.8h-.8zM490.0 441.7h.8v.8h-.8zM486.6 442.0h.8v.8h-.8zM492.7 442.3h.8v.8h-.8zM496.3 440.5h.8v.8h-.8zM493.4 440.5h.8v.8h-.8zM490.7 440.6h.8v.8h-.8zM492.7 441.2h.8v.8h-.8zM490.0 439.8h.8v.8h-.8zM490.2 439.1h.8v.8h-.8zM492.2 439.8h.8v.8h-.8zM493.8 440.4h.8v.8h-.8zM490.2 440.9h.8v.8h-.8zM493.6 440.8h.8v.8h-.8zM491.9 441.7h.8v.8h-.8zM491.5 441.6h.8v.8h-.8zM493.0 439.6h.8v.8h-.8zM494.0 438.6h.8v.8h-.8zM491.3 439.3h.8v.8h-.8z" fill="#3f5cd0" opacity="0.85"/><ellipse cx="492.00" cy="440.50" rx="6.72" ry="1.92" fill="#4a66d4" opacity="0.75" filter="url(#bl05)" transform="rotate(-8 492.00 440.50)"/><ellipse cx="492.00" cy="440.50" rx="4.90" ry="1.60" fill="#5c5f74" opacity="0.85" filter="url(#bl05)" transform="rotate(-8 492.00 440.50)"/><ellipse cx="471.60" cy="477.50" rx="8.25" ry="6.00" fill="#a4acec" opacity="0.25" filter="url(#bl1)" transform="rotate(0 471.60 477.50)"/><path d="M474.3 473.7h.8v.8h-.8zM474.6 478.5h.8v.8h-.8zM477.5 483.3h.8v.8h-.8zM485.3 481.7h.8v.8h-.8zM469.7 476.8h.8v.8h-.8zM487.9 473.2h.8v.8h-.8zM472.3 482.8h.8v.8h-.8zM471.9 479.7h.8v.8h-.8zM482.2 481.5h.8v.8h-.8zM472.3 480.3h.8v.8h-.8zM473.7 480.5h.8v.8h-.8zM475.3 476.5h.8v.8h-.8zM472.4 478.8h.8v.8h-.8zM470.9 475.6h.8v.8h-.8zM477.3 468.5h.8v.8h-.8zM470.5 482.1h.8v.8h-.8zM473.8 473.0h.8v.8h-.8zM466.4 485.9h.8v.8h-.8zM475.8 477.5h.8v.8h-.8zM472.5 476.5h.8v.8h-.8zM474.0 474.1h.8v.8h-.8zM472.9 477.4h.8v.8h-.8zM473.1 481.6h.8v.8h-.8zM461.7 477.3h.8v.8h-.8zM472.9 478.6h.8v.8h-.8zM471.7 479.4h.8v.8h-.8zM478.1 475.9h.8v.8h-.8zM473.1 481.0h.8v.8h-.8zM471.0 482.0h.8v.8h-.8zM468.1 482.8h.8v.8h-.8zM473.5 483.7h.8v.8h-.8zM479.8 473.9h.8v.8h-.8zM477.3 479.8h.8v.8h-.8zM472.5 476.1h.8v.8h-.8zM474.2 476.7h.8v.8h-.8zM472.2 477.8h.8v.8h-.8zM472.5 476.7h.8v.8h-.8zM464.1 478.5h.8v.8h-.8zM453.2 478.9h.8v.8h-.8zM471.2 477.3h.8v.8h-.8zM468.9 479.0h.8v.8h-.8zM474.8 475.6h.8v.8h-.8zM468.4 473.7h.8v.8h-.8zM465.0 479.5h.8v.8h-.8zM471.4 483.5h.8v.8h-.8zM463.1 473.0h.8v.8h-.8zM472.6 475.8h.8v.8h-.8zM473.7 474.2h.8v.8h-.8zM479.0 476.6h.8v.8h-.8zM473.9 482.3h.8v.8h-.8zM465.0 476.1h.8v.8h-.8zM465.9 481.1h.8v.8h-.8zM461.7 475.6h.8v.8h-.8zM468.1 481.3h.8v.8h-.8zM481.1 477.9h.8v.8h-.8zM482.5 480.5h.8v.8h-.8zM464.2 476.9h.8v.8h-.8zM466.1 480.9h.8v.8h-.8zM474.3 478.9h.8v.8h-.8zM466.9 476.7h.8v.8h-.8zM464.9 477.4h.8v.8h-.8zM479.8 476.7h.8v.8h-.8zM480.0 478.2h.8v.8h-.8zM470.1 479.9h.8v.8h-.8zM463.6 484.1h.8v.8h-.8zM473.2 473.1h.8v.8h-.8zM476.0 473.7h.8v.8h-.8zM476.9 482.7h.8v.8h-.8zM477.2 472.7h.8v.8h-.8zM469.8 482.1h.8v.8h-.8zM474.5 479.8h.8v.8h-.8zM485.2 481.8h.8v.8h-.8zM470.4 472.8h.8v.8h-.8zM468.0 471.6h.8v.8h-.8zM467.3 478.1h.8v.8h-.8zM464.5 477.7h.8v.8h-.8zM468.6 479.5h.8v.8h-.8zM464.4 474.5h.8v.8h-.8zM472.0 479.7h.8v.8h-.8zM472.1 465.4h.8v.8h-.8zM470.3 469.8h.8v.8h-.8zM470.7 473.4h.8v.8h-.8zM466.0 475.3h.8v.8h-.8zM474.3 477.2h.8v.8h-.8zM474.6 477.4h.8v.8h-.8zM469.1 482.6h.8v.8h-.8zM482.6 474.5h.8v.8h-.8zM472.1 471.5h.8v.8h-.8zM471.7 473.9h.8v.8h-.8zM478.9 479.1h.8v.8h-.8zM472.9 482.0h.8v.8h-.8z" fill="#7d89e0" opacity="0.75"/><ellipse cx="471.60" cy="478.00" rx="5.25" ry="3.75" fill="#a4acec" opacity="0.4" filter="url(#bl1)" transform="rotate(0 471.60 478.00)"/><path d="M472.7 470.8h.8v.8h-.8zM477.3 482.2h.8v.8h-.8zM472.1 481.1h.8v.8h-.8zM473.3 474.3h.8v.8h-.8zM466.0 481.8h.8v.8h-.8zM474.8 482.3h.8v.8h-.8zM478.6 477.6h.8v.8h-.8zM474.3 479.7h.8v.8h-.8zM464.9 479.2h.8v.8h-.8zM467.7 478.5h.8v.8h-.8zM467.9 472.0h.8v.8h-.8zM475.9 478.9h.8v.8h-.8zM470.2 475.6h.8v.8h-.8zM478.8 481.9h.8v.8h-.8zM476.1 475.2h.8v.8h-.8zM466.2 477.9h.8v.8h-.8zM468.2 479.8h.8v.8h-.8zM473.6 473.6h.8v.8h-.8zM471.5 481.3h.8v.8h-.8zM475.6 480.3h.8v.8h-.8zM474.3 475.0h.8v.8h-.8zM475.2 481.7h.8v.8h-.8zM461.7 479.7h.8v.8h-.8zM478.7 472.3h.8v.8h-.8zM467.0 477.7h.8v.8h-.8zM465.9 477.9h.8v.8h-.8zM478.5 474.9h.8v.8h-.8zM467.9 476.8h.8v.8h-.8zM474.9 474.9h.8v.8h-.8zM471.0 473.4h.8v.8h-.8zM466.6 484.0h.8v.8h-.8zM471.2 474.7h.8v.8h-.8zM467.8 479.1h.8v.8h-.8zM473.0 480.6h.8v.8h-.8zM476.4 479.2h.8v.8h-.8zM462.5 480.1h.8v.8h-.8zM474.5 474.6h.8v.8h-.8zM463.2 474.8h.8v.8h-.8zM466.6 478.6h.8v.8h-.8zM466.8 479.7h.8v.8h-.8zM470.3 474.1h.8v.8h-.8zM472.3 473.9h.8v.8h-.8zM475.6 479.4h.8v.8h-.8zM477.7 475.2h.8v.8h-.8zM471.5 475.3h.8v.8h-.8zM476.7 474.1h.8v.8h-.8zM470.0 481.0h.8v.8h-.8zM481.1 475.7h.8v.8h-.8zM474.2 483.5h.8v.8h-.8zM468.4 482.3h.8v.8h-.8z" fill="#7d89e0" opacity="0.75"/><path d="M474.3 479.4h.8v.8h-.8zM469.9 478.9h.8v.8h-.8zM470.0 476.1h.8v.8h-.8zM472.9 478.9h.8v.8h-.8zM472.7 476.1h.8v.8h-.8zM469.4 477.4h.8v.8h-.8zM471.1 477.0h.8v.8h-.8zM469.1 477.9h.8v.8h-.8zM472.0 479.0h.8v.8h-.8zM471.0 480.3h.8v.8h-.8zM472.2 477.5h.8v.8h-.8zM469.1 478.4h.8v.8h-.8zM474.1 477.6h.8v.8h-.8zM469.7 477.8h.8v.8h-.8zM471.9 479.6h.8v.8h-.8zM472.2 480.0h.8v.8h-.8zM471.2 480.4h.8v.8h-.8zM469.9 476.9h.8v.8h-.8zM474.4 477.6h.8v.8h-.8zM471.6 476.1h.8v.8h-.8zM469.5 478.6h.8v.8h-.8zM471.3 480.4h.8v.8h-.8zM473.3 477.9h.8v.8h-.8zM471.3 478.3h.8v.8h-.8zM471.8 475.6h.8v.8h-.8zM472.5 477.1h.8v.8h-.8zM474.6 477.8h.8v.8h-.8zM469.6 480.0h.8v.8h-.8zM473.3 476.0h.8v.8h-.8zM474.2 476.4h.8v.8h-.8zM469.1 479.2h.8v.8h-.8zM468.8 477.7h.8v.8h-.8zM470.0 479.3h.8v.8h-.8zM469.0 478.1h.8v.8h-.8zM471.5 479.6h.8v.8h-.8zM474.9 477.9h.8v.8h-.8zM472.6 477.0h.8v.8h-.8z" fill="#3f5cd0" opacity="0.85"/><ellipse cx="471.60" cy="478.00" rx="3.36" ry="2.40" fill="#4a66d4" opacity="0.75" filter="url(#bl05)" transform="rotate(0 471.60 478.00)"/><path d="M474.0 467.1h.8v.8h-.8zM466.9 468.5h.8v.8h-.8zM460.6 464.6h.8v.8h-.8zM463.1 467.3h.8v.8h-.8zM468.1 462.7h.8v.8h-.8zM466.8 464.9h.8v.8h-.8zM468.6 467.6h.8v.8h-.8zM472.0 475.6h.8v.8h-.8zM472.8 465.7h.8v.8h-.8zM468.5 465.3h.8v.8h-.8zM472.4 462.3h.8v.8h-.8zM471.7 459.3h.8v.8h-.8zM461.7 461.0h.8v.8h-.8zM470.8 465.1h.8v.8h-.8zM462.4 450.2h.8v.8h-.8zM469.5 469.9h.8v.8h-.8zM465.7 458.9h.8v.8h-.8zM467.9 463.4h.8v.8h-.8zM468.3 472.8h.8v.8h-.8zM467.7 457.3h.8v.8h-.8zM470.5 456.2h.8v.8h-.8zM471.5 465.0h.8v.8h-.8zM469.9 466.2h.8v.8h-.8zM467.4 459.9h.8v.8h-.8zM468.7 464.2h.8v.8h-.8zM457.1 469.0h.8v.8h-.8zM463.8 470.9h.8v.8h-.8zM473.1 458.1h.8v.8h-.8zM466.0 470.1h.8v.8h-.8zM468.7 458.7h.8v.8h-.8zM459.0 470.7h.8v.8h-.8zM467.8 473.0h.8v.8h-.8zM464.4 470.8h.8v.8h-.8zM468.3 454.1h.8v.8h-.8zM469.6 459.2h.8v.8h-.8zM462.4 461.2h.8v.8h-.8zM468.2 453.2h.8v.8h-.8zM468.9 465.1h.8v.8h-.8zM473.8 463.2h.8v.8h-.8zM470.9 467.5h.8v.8h-.8zM470.3 468.5h.8v.8h-.8zM472.2 471.5h.8v.8h-.8zM470.7 469.6h.8v.8h-.8zM471.9 466.8h.8v.8h-.8zM467.7 471.5h.8v.8h-.8zM467.7 468.6h.8v.8h-.8zM462.0 475.0h.8v.8h-.8zM470.4 464.8h.8v.8h-.8zM467.9 463.2h.8v.8h-.8zM465.2 473.3h.8v.8h-.8zM467.1 457.1h.8v.8h-.8zM463.5 465.3h.8v.8h-.8zM473.8 467.4h.8v.8h-.8zM465.4 461.1h.8v.8h-.8zM470.0 468.2h.8v.8h-.8zM468.6 462.9h.8v.8h-.8zM462.2 459.8h.8v.8h-.8zM468.0 460.0h.8v.8h-.8zM466.9 461.7h.8v.8h-.8zM467.2 472.4h.8v.8h-.8zM471.8 469.0h.8v.8h-.8zM467.5 463.6h.8v.8h-.8zM475.3 467.6h.8v.8h-.8zM471.1 451.9h.8v.8h-.8zM474.1 471.4h.8v.8h-.8zM463.2 462.3h.8v.8h-.8zM469.7 469.5h.8v.8h-.8zM468.3 466.0h.8v.8h-.8zM467.4 462.7h.8v.8h-.8zM474.2 469.8h.8v.8h-.8zM468.9 462.9h.8v.8h-.8zM465.8 466.1h.8v.8h-.8zM465.5 469.8h.8v.8h-.8zM467.2 469.6h.8v.8h-.8zM461.6 467.1h.8v.8h-.8zM468.8 468.0h.8v.8h-.8zM464.6 466.0h.8v.8h-.8zM468.2 468.0h.8v.8h-.8zM471.1 456.4h.8v.8h-.8zM472.5 470.1h.8v.8h-.8zM466.6 465.7h.8v.8h-.8zM482.8 474.5h.8v.8h-.8zM472.0 468.9h.8v.8h-.8z" fill="#7d89e0" opacity="0.75"/><rect x="500.7" y="468.5" width="0.7" height="0.7" fill="#8a94dc" opacity="0.45"/><rect x="501.0" y="430.5" width="0.7" height="0.7" fill="#8a94dc" opacity="0.45"/><rect x="481.9" y="432.4" width="0.7" height="0.7" fill="#8a94dc" opacity="0.45"/><rect x="501.7" y="470.9" width="0.7" height="0.7" fill="#8a94dc" opacity="0.45"/><rect x="473.2" y="459.2" width="0.7" height="0.7" fill="#8a94dc" opacity="0.45"/><rect x="474.2" y="446.9" width="0.7" height="0.7" fill="#8a94dc" opacity="0.45"/><rect x="470.6" y="444.7" width="0.7" height="0.7" fill="#8a94dc" opacity="0.45"/><rect x="468.5" y="427.0" width="0.7" height="0.7" fill="#8a94dc" opacity="0.45"/><rect x="482.8" y="472.9" width="0.7" height="0.7" fill="#8a94dc" opacity="0.45"/><rect x="496.4" y="463.5" width="0.7" height="0.7" fill="#8a94dc" opacity="0.45"/><rect x="486.8" y="435.8" width="0.7" height="0.7" fill="#8a94dc" opacity="0.45"/><rect x="474.6" y="431.7" width="0.7" height="0.7" fill="#8a94dc" opacity="0.45"/><rect x="495.0" y="435.3" width="0.7" height="0.7" fill="#8a94dc" opacity="0.45"/><rect x="498.6" y="427.8" width="0.7" height="0.7" fill="#8a94dc" opacity="0.45"/></g><line x1="457.70" y1="458.90" x2="520.00" y2="458.90" stroke="#888" stroke-width="0.8"/><line x1="475.70" y1="424.20" x2="475.70" y2="458.90" stroke="#888" stroke-width="0.8"/><line x1="493.50" y1="424.20" x2="493.50" y2="484.60" stroke="#888" stroke-width="0.8"/><text x="467.20" y="457.50" font-size="8.6" text-anchor="middle" fill="#222" stroke="#222" stroke-width="0.22">E4</text><text x="484.60" y="457.50" font-size="8.6" text-anchor="middle" fill="#222" stroke="#222" stroke-width="0.22">E3</text><text x="504.25" y="457.50" font-size="8.6" text-anchor="middle" fill="#222" stroke="#222" stroke-width="0.22">E2</text><text x="483.10" y="468.10" font-size="8.6" text-anchor="middle" fill="#222" stroke="#222" stroke-width="0.22">R</text><clipPath id="cf15"><rect x="267.3" y="497.5" width="60.5" height="61.10000000000002"/></clipPath><rect x="267.30" y="497.50" width="60.50" height="61.10" fill="#fff" stroke="#a0a0a0" stroke-width="0.9"/><g clip-path="url(#cf15)"><ellipse cx="282.20" cy="549.00" rx="11.25" ry="9.00" fill="#a4acec" opacity="0.4" filter="url(#bl1)" transform="rotate(0 282.20 549.00)"/><path d="M290.8 542.5h.8v.8h-.8zM302.4 528.8h.8v.8h-.8zM292.2 539.1h.8v.8h-.8zM290.5 545.6h.8v.8h-.8zM283.2 555.8h.8v.8h-.8zM265.9 542.9h.8v.8h-.8zM277.4 544.0h.8v.8h-.8zM298.9 533.6h.8v.8h-.8zM263.4 549.9h.8v.8h-.8zM290.8 562.0h.8v.8h-.8zM277.7 539.7h.8v.8h-.8zM280.1 556.1h.8v.8h-.8zM267.5 551.3h.8v.8h-.8zM274.8 546.9h.8v.8h-.8zM293.8 542.9h.8v.8h-.8zM274.6 549.3h.8v.8h-.8zM291.8 536.9h.8v.8h-.8zM298.2 552.4h.8v.8h-.8zM273.3 549.0h.8v.8h-.8zM296.1 553.5h.8v.8h-.8zM274.3 546.1h.8v.8h-.8zM284.0 540.8h.8v.8h-.8zM276.6 556.8h.8v.8h-.8zM273.2 542.4h.8v.8h-.8zM288.3 538.9h.8v.8h-.8zM295.1 540.8h.8v.8h-.8zM293.7 549.9h.8v.8h-.8zM277.7 554.0h.8v.8h-.8zM282.3 567.3h.8v.8h-.8zM273.8 561.0h.8v.8h-.8zM277.8 556.7h.8v.8h-.8zM290.3 541.3h.8v.8h-.8zM293.7 556.5h.8v.8h-.8zM281.4 541.2h.8v.8h-.8zM265.3 550.3h.8v.8h-.8zM271.4 555.8h.8v.8h-.8zM295.8 549.3h.8v.8h-.8zM288.6 556.6h.8v.8h-.8zM288.2 541.3h.8v.8h-.8zM273.5 545.3h.8v.8h-.8zM283.2 556.9h.8v.8h-.8zM273.6 547.7h.8v.8h-.8zM289.0 557.1h.8v.8h-.8zM297.5 535.2h.8v.8h-.8zM278.0 543.6h.8v.8h-.8zM278.1 571.7h.8v.8h-.8zM298.3 554.1h.8v.8h-.8zM277.8 538.7h.8v.8h-.8zM291.3 554.3h.8v.8h-.8zM285.5 558.0h.8v.8h-.8zM285.6 539.4h.8v.8h-.8zM266.4 546.1h.8v.8h-.8zM275.1 552.2h.8v.8h-.8zM287.6 544.8h.8v.8h-.8zM273.9 545.9h.8v.8h-.8zM273.4 549.9h.8v.8h-.8zM271.9 550.7h.8v.8h-.8zM274.7 551.7h.8v.8h-.8zM301.2 541.2h.8v.8h-.8zM282.5 564.1h.8v.8h-.8zM270.0 531.5h.8v.8h-.8zM275.6 544.5h.8v.8h-.8zM290.6 550.3h.8v.8h-.8zM268.8 551.5h.8v.8h-.8zM271.3 556.2h.8v.8h-.8zM273.0 554.0h.8v.8h-.8zM290.4 547.0h.8v.8h-.8zM261.5 551.1h.8v.8h-.8zM273.7 545.7h.8v.8h-.8zM282.8 541.6h.8v.8h-.8zM275.7 540.9h.8v.8h-.8zM287.8 543.8h.8v.8h-.8zM289.2 560.2h.8v.8h-.8zM291.1 542.7h.8v.8h-.8zM280.9 557.1h.8v.8h-.8zM293.5 561.3h.8v.8h-.8zM293.6 548.7h.8v.8h-.8zM284.3 543.0h.8v.8h-.8zM272.5 552.7h.8v.8h-.8zM286.9 540.1h.8v.8h-.8zM271.4 550.7h.8v.8h-.8zM270.6 555.5h.8v.8h-.8zM291.3 541.1h.8v.8h-.8zM278.9 554.5h.8v.8h-.8zM289.7 548.2h.8v.8h-.8zM277.8 539.9h.8v.8h-.8zM282.1 556.3h.8v.8h-.8zM288.3 535.2h.8v.8h-.8zM287.2 555.4h.8v.8h-.8zM271.9 536.2h.8v.8h-.8zM273.3 546.2h.8v.8h-.8zM284.1 538.1h.8v.8h-.8zM279.6 540.5h.8v.8h-.8zM277.5 554.0h.8v.8h-.8zM271.9 548.0h.8v.8h-.8zM274.9 556.0h.8v.8h-.8zM289.1 546.4h.8v.8h-.8zM297.5 549.6h.8v.8h-.8zM293.6 541.2h.8v.8h-.8zM276.9 544.1h.8v.8h-.8zM298.3 554.6h.8v.8h-.8zM274.1 554.5h.8v.8h-.8zM297.6 545.2h.8v.8h-.8zM270.3 543.3h.8v.8h-.8zM270.3 550.1h.8v.8h-.8zM278.3 542.3h.8v.8h-.8zM278.1 531.7h.8v.8h-.8zM299.6 546.2h.8v.8h-.8zM288.8 541.6h.8v.8h-.8zM296.2 543.8h.8v.8h-.8zM278.7 562.3h.8v.8h-.8zM282.7 537.6h.8v.8h-.8zM292.6 561.3h.8v.8h-.8zM282.5 555.8h.8v.8h-.8zM282.3 542.7h.8v.8h-.8zM274.8 542.6h.8v.8h-.8zM269.2 558.8h.8v.8h-.8zM275.9 540.1h.8v.8h-.8zM280.9 540.4h.8v.8h-.8zM290.6 561.1h.8v.8h-.8zM289.1 555.1h.8v.8h-.8zM270.2 550.1h.8v.8h-.8zM289.6 555.8h.8v.8h-.8zM274.2 539.1h.8v.8h-.8zM298.3 548.9h.8v.8h-.8zM270.5 545.3h.8v.8h-.8zM255.5 554.4h.8v.8h-.8zM276.5 541.9h.8v.8h-.8zM279.0 542.8h.8v.8h-.8zM268.1 542.8h.8v.8h-.8zM275.6 538.3h.8v.8h-.8zM279.3 562.3h.8v.8h-.8zM311.3 559.7h.8v.8h-.8zM280.7 539.5h.8v.8h-.8zM271.1 553.7h.8v.8h-.8zM296.0 550.3h.8v.8h-.8zM274.0 540.9h.8v.8h-.8zM294.2 561.0h.8v.8h-.8zM291.1 548.4h.8v.8h-.8zM278.2 555.8h.8v.8h-.8zM280.0 542.3h.8v.8h-.8zM263.6 544.8h.8v.8h-.8zM280.2 543.0h.8v.8h-.8zM293.8 543.1h.8v.8h-.8zM291.2 550.0h.8v.8h-.8zM272.1 557.7h.8v.8h-.8zM275.3 554.5h.8v.8h-.8zM274.0 549.1h.8v.8h-.8zM274.4 555.7h.8v.8h-.8zM286.4 543.6h.8v.8h-.8zM302.7 550.1h.8v.8h-.8zM294.2 553.4h.8v.8h-.8zM265.6 547.7h.8v.8h-.8zM295.2 549.5h.8v.8h-.8zM281.7 534.5h.8v.8h-.8zM290.0 555.9h.8v.8h-.8zM270.4 540.4h.8v.8h-.8zM289.9 540.3h.8v.8h-.8zM292.8 548.3h.8v.8h-.8zM266.0 547.7h.8v.8h-.8zM292.7 547.2h.8v.8h-.8zM290.9 542.0h.8v.8h-.8zM266.7 555.2h.8v.8h-.8zM294.1 545.4h.8v.8h-.8zM295.8 548.6h.8v.8h-.8zM265.7 548.7h.8v.8h-.8zM280.5 564.3h.8v.8h-.8zM293.4 554.5h.8v.8h-.8zM285.4 558.6h.8v.8h-.8zM269.9 557.3h.8v.8h-.8zM291.9 551.6h.8v.8h-.8zM280.4 557.1h.8v.8h-.8zM287.4 557.0h.8v.8h-.8zM289.9 560.2h.8v.8h-.8zM296.6 553.0h.8v.8h-.8zM269.9 554.3h.8v.8h-.8zM268.2 560.1h.8v.8h-.8zM276.4 542.0h.8v.8h-.8zM291.4 552.7h.8v.8h-.8zM283.2 558.8h.8v.8h-.8zM267.2 546.2h.8v.8h-.8zM273.4 552.5h.8v.8h-.8zM274.8 544.8h.8v.8h-.8zM274.5 552.2h.8v.8h-.8zM277.3 543.2h.8v.8h-.8zM271.1 555.4h.8v.8h-.8zM295.3 544.5h.8v.8h-.8zM288.7 544.7h.8v.8h-.8zM274.6 542.1h.8v.8h-.8zM283.1 560.8h.8v.8h-.8zM284.1 539.8h.8v.8h-.8zM285.3 540.7h.8v.8h-.8zM276.6 544.7h.8v.8h-.8zM290.4 561.8h.8v.8h-.8zM292.7 555.7h.8v.8h-.8zM276.9 558.5h.8v.8h-.8zM293.2 542.5h.8v.8h-.8zM297.9 550.9h.8v.8h-.8zM297.1 547.9h.8v.8h-.8zM290.4 559.3h.8v.8h-.8zM281.6 557.7h.8v.8h-.8zM292.8 559.6h.8v.8h-.8zM267.9 552.0h.8v.8h-.8zM294.7 543.1h.8v.8h-.8zM281.7 542.1h.8v.8h-.8zM270.5 549.6h.8v.8h-.8zM292.5 551.0h.8v.8h-.8zM282.1 540.1h.8v.8h-.8zM298.8 554.7h.8v.8h-.8zM297.1 542.7h.8v.8h-.8zM283.4 556.1h.8v.8h-.8zM289.0 541.9h.8v.8h-.8zM293.9 555.1h.8v.8h-.8zM289.0 544.0h.8v.8h-.8zM283.4 557.9h.8v.8h-.8zM282.0 555.3h.8v.8h-.8zM271.7 543.6h.8v.8h-.8zM274.7 553.4h.8v.8h-.8zM281.6 555.7h.8v.8h-.8zM267.5 536.1h.8v.8h-.8zM285.1 556.7h.8v.8h-.8zM280.5 555.4h.8v.8h-.8zM295.1 545.5h.8v.8h-.8zM269.2 556.5h.8v.8h-.8zM271.7 551.3h.8v.8h-.8zM294.0 549.8h.8v.8h-.8zM290.2 545.6h.8v.8h-.8zM287.6 554.5h.8v.8h-.8zM270.6 547.1h.8v.8h-.8zM296.2 550.6h.8v.8h-.8zM287.3 560.0h.8v.8h-.8zM284.2 555.4h.8v.8h-.8zM294.2 552.5h.8v.8h-.8zM284.7 558.2h.8v.8h-.8zM273.5 552.2h.8v.8h-.8zM283.0 555.7h.8v.8h-.8zM301.9 544.1h.8v.8h-.8zM298.2 552.1h.8v.8h-.8zM279.5 556.4h.8v.8h-.8zM277.8 554.5h.8v.8h-.8zM272.9 546.6h.8v.8h-.8zM276.0 554.7h.8v.8h-.8zM291.1 555.6h.8v.8h-.8zM273.3 551.0h.8v.8h-.8zM272.3 549.7h.8v.8h-.8zM297.7 547.9h.8v.8h-.8zM270.9 542.7h.8v.8h-.8zM286.2 534.2h.8v.8h-.8zM283.4 538.1h.8v.8h-.8zM275.4 554.3h.8v.8h-.8zM273.1 550.0h.8v.8h-.8zM304.0 550.3h.8v.8h-.8zM286.6 543.9h.8v.8h-.8zM268.3 548.7h.8v.8h-.8zM281.0 558.0h.8v.8h-.8zM281.6 542.6h.8v.8h-.8zM287.4 557.9h.8v.8h-.8zM294.9 538.3h.8v.8h-.8zM298.0 547.8h.8v.8h-.8zM273.9 557.0h.8v.8h-.8zM284.4 542.4h.8v.8h-.8zM281.8 539.3h.8v.8h-.8z" fill="#7d89e0" opacity="0.75"/><path d="M283.4 548.8h.8v.8h-.8zM281.8 545.4h.8v.8h-.8zM283.6 548.9h.8v.8h-.8zM282.7 554.7h.8v.8h-.8zM280.6 544.1h.8v.8h-.8zM281.7 553.5h.8v.8h-.8zM283.8 544.8h.8v.8h-.8zM279.4 550.2h.8v.8h-.8zM275.4 546.7h.8v.8h-.8zM286.5 549.4h.8v.8h-.8zM284.9 547.1h.8v.8h-.8zM284.0 550.3h.8v.8h-.8zM277.3 548.9h.8v.8h-.8zM289.1 547.1h.8v.8h-.8zM282.8 554.4h.8v.8h-.8zM285.3 544.1h.8v.8h-.8zM288.0 545.8h.8v.8h-.8zM279.3 549.9h.8v.8h-.8zM278.4 549.5h.8v.8h-.8zM281.8 543.9h.8v.8h-.8zM286.5 547.7h.8v.8h-.8zM284.5 548.7h.8v.8h-.8zM280.1 544.5h.8v.8h-.8zM283.1 549.4h.8v.8h-.8zM277.0 553.0h.8v.8h-.8zM276.6 546.0h.8v.8h-.8zM277.9 548.6h.8v.8h-.8zM279.5 544.0h.8v.8h-.8zM280.1 543.6h.8v.8h-.8zM286.7 550.4h.8v.8h-.8zM275.9 546.4h.8v.8h-.8zM285.4 547.0h.8v.8h-.8zM288.0 552.3h.8v.8h-.8zM282.3 543.0h.8v.8h-.8zM278.4 548.6h.8v.8h-.8zM283.5 543.4h.8v.8h-.8zM281.6 552.3h.8v.8h-.8zM282.8 552.6h.8v.8h-.8zM284.0 547.4h.8v.8h-.8zM289.1 549.8h.8v.8h-.8zM286.0 546.7h.8v.8h-.8zM282.5 545.2h.8v.8h-.8zM283.4 553.3h.8v.8h-.8zM279.4 544.0h.8v.8h-.8zM285.4 547.2h.8v.8h-.8zM286.1 547.3h.8v.8h-.8zM279.1 545.1h.8v.8h-.8zM280.4 546.6h.8v.8h-.8zM286.0 552.3h.8v.8h-.8zM279.6 545.0h.8v.8h-.8zM280.5 547.0h.8v.8h-.8zM282.0 553.6h.8v.8h-.8zM284.5 553.2h.8v.8h-.8zM283.1 547.3h.8v.8h-.8zM282.8 544.6h.8v.8h-.8zM276.4 546.2h.8v.8h-.8zM278.5 550.2h.8v.8h-.8zM280.5 547.7h.8v.8h-.8zM284.6 543.4h.8v.8h-.8zM284.6 554.4h.8v.8h-.8zM283.7 546.5h.8v.8h-.8zM286.8 553.4h.8v.8h-.8zM284.6 548.6h.8v.8h-.8zM277.8 549.0h.8v.8h-.8zM277.8 551.9h.8v.8h-.8zM278.2 549.1h.8v.8h-.8zM283.7 545.2h.8v.8h-.8zM287.0 552.1h.8v.8h-.8zM285.6 548.0h.8v.8h-.8zM278.8 552.0h.8v.8h-.8zM278.4 550.4h.8v.8h-.8zM279.9 550.8h.8v.8h-.8zM279.8 552.3h.8v.8h-.8zM286.7 544.2h.8v.8h-.8zM285.1 553.0h.8v.8h-.8zM280.2 550.7h.8v.8h-.8zM282.4 552.2h.8v.8h-.8zM283.0 551.4h.8v.8h-.8zM280.7 550.4h.8v.8h-.8zM280.1 554.0h.8v.8h-.8zM277.7 546.0h.8v.8h-.8zM286.3 550.5h.8v.8h-.8zM275.6 548.1h.8v.8h-.8zM287.4 547.7h.8v.8h-.8zM278.2 545.4h.8v.8h-.8zM288.6 550.0h.8v.8h-.8zM284.4 544.0h.8v.8h-.8zM284.1 546.9h.8v.8h-.8zM285.7 546.8h.8v.8h-.8zM283.5 548.2h.8v.8h-.8zM286.9 551.9h.8v.8h-.8zM277.8 548.7h.8v.8h-.8zM282.8 549.6h.8v.8h-.8zM278.2 548.2h.8v.8h-.8zM285.6 545.3h.8v.8h-.8zM288.2 546.4h.8v.8h-.8zM279.9 553.1h.8v.8h-.8zM286.0 552.7h.8v.8h-.8zM286.7 552.6h.8v.8h-.8zM283.4 543.2h.8v.8h-.8zM288.7 546.4h.8v.8h-.8zM279.5 545.5h.8v.8h-.8zM283.9 554.5h.8v.8h-.8zM276.7 550.8h.8v.8h-.8zM279.4 548.0h.8v.8h-.8zM278.8 546.9h.8v.8h-.8zM286.0 547.5h.8v.8h-.8zM283.1 553.8h.8v.8h-.8zM277.7 550.9h.8v.8h-.8zM287.1 545.1h.8v.8h-.8zM282.9 553.9h.8v.8h-.8zM283.4 546.8h.8v.8h-.8zM283.8 552.0h.8v.8h-.8zM288.9 550.1h.8v.8h-.8zM283.1 547.9h.8v.8h-.8zM284.3 549.6h.8v.8h-.8zM284.3 544.3h.8v.8h-.8zM288.6 547.7h.8v.8h-.8zM284.4 547.2h.8v.8h-.8zM281.9 548.3h.8v.8h-.8zM277.5 550.4h.8v.8h-.8zM289.4 548.2h.8v.8h-.8zM281.9 546.2h.8v.8h-.8zM281.1 551.2h.8v.8h-.8zM283.2 552.2h.8v.8h-.8zM286.0 544.6h.8v.8h-.8zM282.0 550.1h.8v.8h-.8zM281.7 548.0h.8v.8h-.8zM282.7 545.1h.8v.8h-.8zM286.0 548.3h.8v.8h-.8zM280.1 547.8h.8v.8h-.8zM278.5 550.5h.8v.8h-.8zM284.2 553.7h.8v.8h-.8zM283.4 550.1h.8v.8h-.8zM279.0 548.8h.8v.8h-.8zM278.0 546.9h.8v.8h-.8zM276.6 549.2h.8v.8h-.8zM282.9 543.2h.8v.8h-.8zM275.3 548.3h.8v.8h-.8zM276.8 550.1h.8v.8h-.8zM277.1 552.8h.8v.8h-.8zM282.9 546.1h.8v.8h-.8zM279.9 548.6h.8v.8h-.8zM285.4 547.0h.8v.8h-.8z" fill="#3f5cd0" opacity="0.85"/><ellipse cx="282.20" cy="549.00" rx="7.20" ry="5.76" fill="#4a66d4" opacity="0.75" filter="url(#bl05)" transform="rotate(0 282.20 549.00)"/><ellipse cx="282.20" cy="549.00" rx="5.40" ry="4.32" fill="#2a9a8c" opacity="0.85" filter="url(#bl05)" transform="rotate(0 282.20 549.00)"/><ellipse cx="282.20" cy="549.00" rx="3.00" ry="2.40" fill="#3cb858" opacity="0.9" filter="url(#bl05)" transform="rotate(0 282.20 549.00)"/><ellipse cx="304.00" cy="513.00" rx="6.00" ry="3.00" fill="#a4acec" opacity="0.4" filter="url(#bl1)" transform="rotate(-35 304.00 513.00)"/><path d="M303.8 518.3h.8v.8h-.8zM302.6 511.5h.8v.8h-.8zM302.3 510.9h.8v.8h-.8zM297.4 510.7h.8v.8h-.8zM298.3 515.9h.8v.8h-.8zM300.4 512.9h.8v.8h-.8zM296.6 512.4h.8v.8h-.8zM303.1 515.7h.8v.8h-.8zM308.1 514.3h.8v.8h-.8zM300.4 516.9h.8v.8h-.8zM308.4 511.6h.8v.8h-.8zM300.7 513.4h.8v.8h-.8zM302.3 511.1h.8v.8h-.8zM310.1 509.9h.8v.8h-.8zM307.6 513.4h.8v.8h-.8zM300.5 513.4h.8v.8h-.8zM307.0 513.6h.8v.8h-.8zM302.8 516.4h.8v.8h-.8zM306.7 509.9h.8v.8h-.8zM311.8 507.4h.8v.8h-.8zM306.4 514.2h.8v.8h-.8zM302.6 510.0h.8v.8h-.8zM309.4 508.7h.8v.8h-.8zM309.3 506.4h.8v.8h-.8zM302.0 509.8h.8v.8h-.8zM308.0 514.6h.8v.8h-.8zM310.4 511.0h.8v.8h-.8zM302.8 511.1h.8v.8h-.8zM304.4 509.3h.8v.8h-.8zM305.3 517.7h.8v.8h-.8zM297.6 518.8h.8v.8h-.8zM307.7 513.2h.8v.8h-.8zM305.5 516.8h.8v.8h-.8zM311.9 507.7h.8v.8h-.8zM300.1 517.3h.8v.8h-.8zM301.6 516.7h.8v.8h-.8zM305.2 515.7h.8v.8h-.8zM300.6 508.9h.8v.8h-.8zM302.9 515.7h.8v.8h-.8zM307.3 508.6h.8v.8h-.8zM300.2 515.9h.8v.8h-.8zM301.6 510.7h.8v.8h-.8zM306.8 509.5h.8v.8h-.8zM301.3 508.4h.8v.8h-.8z" fill="#7d89e0" opacity="0.75"/><path d="M304.8 513.7h.8v.8h-.8zM302.9 512.8h.8v.8h-.8zM301.8 515.3h.8v.8h-.8zM301.6 513.4h.8v.8h-.8zM306.0 510.8h.8v.8h-.8zM304.6 512.1h.8v.8h-.8zM301.7 515.2h.8v.8h-.8zM305.6 514.2h.8v.8h-.8zM304.7 510.8h.8v.8h-.8zM303.7 514.1h.8v.8h-.8zM303.8 514.9h.8v.8h-.8zM304.1 512.8h.8v.8h-.8zM303.7 514.6h.8v.8h-.8zM303.3 514.5h.8v.8h-.8zM302.3 512.3h.8v.8h-.8zM302.6 512.7h.8v.8h-.8zM304.6 511.6h.8v.8h-.8zM303.8 511.7h.8v.8h-.8zM305.8 511.5h.8v.8h-.8zM305.8 512.7h.8v.8h-.8zM302.9 513.5h.8v.8h-.8zM304.7 510.6h.8v.8h-.8zM306.3 511.2h.8v.8h-.8zM305.4 513.8h.8v.8h-.8zM306.0 512.0h.8v.8h-.8zM303.0 513.5h.8v.8h-.8zM307.0 510.7h.8v.8h-.8zM306.0 510.7h.8v.8h-.8zM305.4 510.7h.8v.8h-.8zM305.4 512.2h.8v.8h-.8zM303.3 514.1h.8v.8h-.8zM302.5 514.1h.8v.8h-.8zM305.7 512.6h.8v.8h-.8zM304.5 513.9h.8v.8h-.8zM306.1 512.0h.8v.8h-.8zM302.0 514.7h.8v.8h-.8z" fill="#3f5cd0" opacity="0.85"/><ellipse cx="304.00" cy="513.00" rx="3.84" ry="1.92" fill="#4a66d4" opacity="0.75" filter="url(#bl05)" transform="rotate(-35 304.00 513.00)"/><ellipse cx="303.00" cy="555.20" rx="4.50" ry="3.00" fill="#a4acec" opacity="0.4" filter="url(#bl1)" transform="rotate(0 303.00 555.20)"/><path d="M306.9 554.7h.8v.8h-.8zM308.4 552.6h.8v.8h-.8zM306.3 552.2h.8v.8h-.8zM301.8 546.7h.8v.8h-.8zM299.2 554.0h.8v.8h-.8zM305.4 552.8h.8v.8h-.8zM298.5 556.8h.8v.8h-.8zM307.5 554.6h.8v.8h-.8zM298.5 553.1h.8v.8h-.8zM299.7 554.4h.8v.8h-.8zM307.1 556.2h.8v.8h-.8zM302.3 558.0h.8v.8h-.8zM307.0 553.4h.8v.8h-.8zM299.0 551.5h.8v.8h-.8zM298.4 554.6h.8v.8h-.8zM301.7 558.3h.8v.8h-.8zM302.9 557.7h.8v.8h-.8zM303.4 552.7h.8v.8h-.8zM298.9 554.0h.8v.8h-.8zM299.3 554.7h.8v.8h-.8zM305.4 552.9h.8v.8h-.8zM300.0 561.0h.8v.8h-.8zM300.9 556.7h.8v.8h-.8zM309.8 553.9h.8v.8h-.8zM302.6 558.4h.8v.8h-.8zM309.0 554.3h.8v.8h-.8zM297.3 555.6h.8v.8h-.8zM304.1 558.4h.8v.8h-.8zM302.8 558.5h.8v.8h-.8zM300.5 559.3h.8v.8h-.8zM304.0 557.5h.8v.8h-.8zM301.3 551.3h.8v.8h-.8zM306.3 554.7h.8v.8h-.8zM300.3 557.3h.8v.8h-.8zM298.7 557.5h.8v.8h-.8zM299.8 558.4h.8v.8h-.8zM308.3 551.7h.8v.8h-.8zM304.3 552.7h.8v.8h-.8zM301.4 557.9h.8v.8h-.8zM300.4 551.3h.8v.8h-.8zM309.4 553.9h.8v.8h-.8z" fill="#7d89e0" opacity="0.75"/><path d="M304.5 554.5h.8v.8h-.8zM300.9 554.4h.8v.8h-.8zM300.7 555.4h.8v.8h-.8zM302.9 554.3h.8v.8h-.8zM301.6 554.3h.8v.8h-.8zM302.2 553.9h.8v.8h-.8zM301.1 554.8h.8v.8h-.8zM300.9 554.0h.8v.8h-.8zM300.5 556.2h.8v.8h-.8zM303.1 556.4h.8v.8h-.8zM304.0 555.6h.8v.8h-.8zM301.9 553.4h.8v.8h-.8zM305.0 556.5h.8v.8h-.8zM304.7 555.6h.8v.8h-.8zM303.0 555.7h.8v.8h-.8zM302.7 555.4h.8v.8h-.8zM302.9 556.9h.8v.8h-.8zM301.3 556.7h.8v.8h-.8zM303.1 556.4h.8v.8h-.8zM300.7 554.6h.8v.8h-.8zM301.6 553.6h.8v.8h-.8z" fill="#3f5cd0" opacity="0.85"/><ellipse cx="303.00" cy="555.20" rx="2.88" ry="1.92" fill="#4a66d4" opacity="0.75" filter="url(#bl05)" transform="rotate(0 303.00 555.20)"/><ellipse cx="303.00" cy="555.20" rx="1.68" ry="1.12" fill="#2a9a8a" opacity="0.9" filter="url(#bl05)" transform="rotate(0 303.00 555.20)"/><path d="M281.6 527.3h.8v.8h-.8zM287.9 538.5h.8v.8h-.8zM284.5 531.7h.8v.8h-.8zM283.0 537.8h.8v.8h-.8zM290.4 521.7h.8v.8h-.8zM292.8 525.8h.8v.8h-.8zM276.1 525.4h.8v.8h-.8zM269.6 525.7h.8v.8h-.8zM284.5 531.2h.8v.8h-.8zM285.3 524.9h.8v.8h-.8zM290.7 527.4h.8v.8h-.8zM282.0 528.7h.8v.8h-.8zM281.5 531.1h.8v.8h-.8zM287.9 530.1h.8v.8h-.8zM280.9 521.8h.8v.8h-.8zM295.6 532.9h.8v.8h-.8zM278.3 528.8h.8v.8h-.8zM304.1 533.2h.8v.8h-.8zM282.9 528.1h.8v.8h-.8zM279.3 530.0h.8v.8h-.8zM283.6 531.4h.8v.8h-.8zM291.7 528.9h.8v.8h-.8zM288.1 532.1h.8v.8h-.8zM273.1 541.5h.8v.8h-.8zM279.4 528.0h.8v.8h-.8zM285.6 529.5h.8v.8h-.8zM284.1 528.9h.8v.8h-.8zM276.6 527.6h.8v.8h-.8zM282.8 524.3h.8v.8h-.8zM268.7 535.2h.8v.8h-.8zM285.9 528.6h.8v.8h-.8zM288.1 530.1h.8v.8h-.8zM282.0 531.4h.8v.8h-.8zM284.5 531.3h.8v.8h-.8zM283.8 532.7h.8v.8h-.8zM291.4 537.9h.8v.8h-.8zM282.2 521.7h.8v.8h-.8zM281.9 531.4h.8v.8h-.8zM289.1 535.4h.8v.8h-.8zM285.3 532.1h.8v.8h-.8zM280.4 532.6h.8v.8h-.8zM283.5 534.2h.8v.8h-.8zM285.6 523.9h.8v.8h-.8zM284.1 534.2h.8v.8h-.8zM300.5 526.2h.8v.8h-.8zM282.2 532.5h.8v.8h-.8zM286.9 534.1h.8v.8h-.8zM287.3 528.8h.8v.8h-.8zM275.1 528.0h.8v.8h-.8zM294.0 532.3h.8v.8h-.8zM289.1 531.9h.8v.8h-.8zM279.6 531.2h.8v.8h-.8zM284.3 532.4h.8v.8h-.8zM275.1 535.2h.8v.8h-.8zM288.6 526.7h.8v.8h-.8zM292.2 533.6h.8v.8h-.8zM274.5 530.4h.8v.8h-.8zM279.6 530.1h.8v.8h-.8zM290.8 532.0h.8v.8h-.8zM287.9 531.6h.8v.8h-.8zM283.7 534.6h.8v.8h-.8zM279.5 532.3h.8v.8h-.8zM288.3 530.9h.8v.8h-.8zM288.7 531.6h.8v.8h-.8zM280.8 533.7h.8v.8h-.8zM285.0 529.9h.8v.8h-.8zM286.6 543.8h.8v.8h-.8zM281.4 528.1h.8v.8h-.8zM293.2 525.6h.8v.8h-.8zM267.4 521.5h.8v.8h-.8zM279.6 533.4h.8v.8h-.8zM286.0 537.8h.8v.8h-.8zM288.2 535.3h.8v.8h-.8zM291.7 517.7h.8v.8h-.8zM279.7 528.4h.8v.8h-.8zM285.4 534.1h.8v.8h-.8zM297.4 536.2h.8v.8h-.8zM293.5 537.3h.8v.8h-.8zM283.0 531.1h.8v.8h-.8zM298.1 523.4h.8v.8h-.8zM296.6 535.9h.8v.8h-.8zM288.5 534.7h.8v.8h-.8zM282.3 531.5h.8v.8h-.8zM287.2 538.0h.8v.8h-.8zM278.3 528.2h.8v.8h-.8zM289.6 535.6h.8v.8h-.8zM276.0 530.5h.8v.8h-.8zM277.9 520.2h.8v.8h-.8zM279.5 525.4h.8v.8h-.8zM283.8 532.2h.8v.8h-.8zM290.1 529.1h.8v.8h-.8zM293.2 525.7h.8v.8h-.8zM294.6 534.7h.8v.8h-.8zM286.3 534.0h.8v.8h-.8zM287.8 533.7h.8v.8h-.8zM284.5 525.6h.8v.8h-.8zM287.0 522.7h.8v.8h-.8zM282.2 536.5h.8v.8h-.8zM268.6 532.4h.8v.8h-.8z" fill="#7d89e0" opacity="0.75"/><rect x="313.7" y="505.6" width="0.7" height="0.7" fill="#7a86dc" opacity="0.5"/><rect x="305.9" y="503.3" width="0.7" height="0.7" fill="#7a86dc" opacity="0.5"/><rect x="309.0" y="503.3" width="0.7" height="0.7" fill="#7a86dc" opacity="0.5"/><rect x="278.4" y="550.0" width="0.7" height="0.7" fill="#7a86dc" opacity="0.5"/><rect x="300.0" y="549.4" width="0.7" height="0.7" fill="#7a86dc" opacity="0.5"/><rect x="269.7" y="529.0" width="0.7" height="0.7" fill="#7a86dc" opacity="0.5"/><rect x="272.1" y="544.3" width="0.7" height="0.7" fill="#7a86dc" opacity="0.5"/><rect x="291.6" y="515.2" width="0.7" height="0.7" fill="#7a86dc" opacity="0.5"/><rect x="292.9" y="504.6" width="0.7" height="0.7" fill="#7a86dc" opacity="0.5"/><rect x="301.9" y="540.5" width="0.7" height="0.7" fill="#7a86dc" opacity="0.5"/><rect x="314.9" y="534.9" width="0.7" height="0.7" fill="#7a86dc" opacity="0.5"/><rect x="289.0" y="553.1" width="0.7" height="0.7" fill="#7a86dc" opacity="0.5"/></g><rect x="286.00" y="511.30" width="11.20" height="10.90" fill="none" stroke="#8a8a8a" stroke-width="0.8"/><rect x="297.20" y="503.20" width="14.40" height="55.40" fill="none" stroke="#8a8a8a" stroke-width="0.8"/><text x="284.80" y="519.85" font-size="8.6" text-anchor="end" fill="#222" stroke="#222" stroke-width="0.22">E1</text><path d="M312.00,529.80 L325.00,529.80 L325.00,527.90 L330.00,531.40 L325.00,534.90 L325.00,533.00 L312.00,533.00 Z" fill="#fff" stroke="#111" stroke-width="0.9"/><clipPath id="cf16"><rect x="331.0" y="497.5" width="60.60000000000002" height="60.5"/></clipPath><rect x="331.00" y="497.50" width="60.60" height="60.50" fill="#fff" stroke="#a0a0a0" stroke-width="0.9"/><g clip-path="url(#cf16)"><ellipse cx="333.40" cy="515.00" rx="1.88" ry="3.00" fill="#a4acec" opacity="0.25" filter="url(#bl1)" transform="rotate(20 333.40 515.00)"/><path d="M331.9 516.4h.8v.8h-.8zM331.9 515.6h.8v.8h-.8zM331.3 516.0h.8v.8h-.8zM332.3 517.7h.8v.8h-.8zM334.4 515.5h.8v.8h-.8zM332.7 515.8h.8v.8h-.8zM334.0 513.3h.8v.8h-.8zM335.9 510.5h.8v.8h-.8zM331.8 519.1h.8v.8h-.8zM335.0 512.5h.8v.8h-.8zM334.6 515.9h.8v.8h-.8zM333.1 513.6h.8v.8h-.8zM333.0 516.7h.8v.8h-.8zM332.0 518.4h.8v.8h-.8z" fill="#7d89e0" opacity="0.75"/><ellipse cx="359.00" cy="515.00" rx="3.75" ry="2.25" fill="#a4acec" opacity="0.25" filter="url(#bl1)" transform="rotate(0 359.00 515.00)"/><path d="M357.4 516.3h.8v.8h-.8zM355.1 512.0h.8v.8h-.8zM358.8 515.5h.8v.8h-.8zM363.8 514.5h.8v.8h-.8zM359.8 513.2h.8v.8h-.8zM359.1 515.9h.8v.8h-.8zM358.0 516.6h.8v.8h-.8zM362.7 516.0h.8v.8h-.8zM358.9 514.7h.8v.8h-.8zM360.7 513.5h.8v.8h-.8zM361.6 514.1h.8v.8h-.8zM359.8 513.4h.8v.8h-.8zM356.7 513.8h.8v.8h-.8zM360.4 515.1h.8v.8h-.8zM359.3 516.6h.8v.8h-.8zM356.8 516.4h.8v.8h-.8zM357.6 513.7h.8v.8h-.8zM357.7 516.7h.8v.8h-.8zM363.3 514.2h.8v.8h-.8z" fill="#7d89e0" opacity="0.75"/><ellipse cx="344.20" cy="554.60" rx="7.50" ry="3.00" fill="#a4acec" opacity="0.4" filter="url(#bl1)" transform="rotate(0 344.20 554.60)"/><path d="M338.8 551.4h.8v.8h-.8zM351.5 554.8h.8v.8h-.8zM339.4 550.0h.8v.8h-.8zM332.7 553.9h.8v.8h-.8zM336.0 555.3h.8v.8h-.8zM338.3 550.5h.8v.8h-.8zM345.3 556.7h.8v.8h-.8zM335.1 556.2h.8v.8h-.8zM345.0 558.9h.8v.8h-.8zM348.1 553.0h.8v.8h-.8zM339.4 551.2h.8v.8h-.8zM337.8 554.6h.8v.8h-.8zM337.4 555.1h.8v.8h-.8zM338.2 554.6h.8v.8h-.8zM350.7 556.0h.8v.8h-.8zM340.1 551.7h.8v.8h-.8zM342.0 556.7h.8v.8h-.8zM347.1 551.5h.8v.8h-.8zM348.1 557.5h.8v.8h-.8zM340.0 555.8h.8v.8h-.8zM345.2 556.9h.8v.8h-.8zM342.8 551.7h.8v.8h-.8zM345.1 556.7h.8v.8h-.8zM351.9 553.7h.8v.8h-.8zM345.3 557.0h.8v.8h-.8zM350.0 551.2h.8v.8h-.8zM340.3 552.1h.8v.8h-.8zM343.6 550.0h.8v.8h-.8zM337.0 554.4h.8v.8h-.8zM346.1 552.2h.8v.8h-.8zM345.5 557.3h.8v.8h-.8zM339.4 557.3h.8v.8h-.8zM344.1 550.1h.8v.8h-.8zM351.8 553.2h.8v.8h-.8zM353.7 554.5h.8v.8h-.8zM347.0 557.2h.8v.8h-.8zM345.8 556.7h.8v.8h-.8zM348.8 557.1h.8v.8h-.8zM345.9 551.1h.8v.8h-.8zM336.6 556.3h.8v.8h-.8zM352.0 557.4h.8v.8h-.8zM344.0 552.6h.8v.8h-.8zM355.4 557.1h.8v.8h-.8zM336.5 556.5h.8v.8h-.8zM339.7 553.4h.8v.8h-.8zM343.5 552.0h.8v.8h-.8zM360.2 556.4h.8v.8h-.8zM339.8 557.1h.8v.8h-.8zM332.7 557.3h.8v.8h-.8zM349.3 555.2h.8v.8h-.8zM347.5 552.8h.8v.8h-.8zM338.0 553.2h.8v.8h-.8zM349.5 554.2h.8v.8h-.8zM349.3 553.1h.8v.8h-.8zM330.9 553.3h.8v.8h-.8zM341.4 557.2h.8v.8h-.8zM347.5 556.4h.8v.8h-.8zM342.7 557.4h.8v.8h-.8zM339.8 550.2h.8v.8h-.8z" fill="#7d89e0" opacity="0.75"/><path d="M344.5 555.6h.8v.8h-.8zM346.4 555.2h.8v.8h-.8zM346.4 554.1h.8v.8h-.8zM344.5 553.4h.8v.8h-.8zM341.6 553.4h.8v.8h-.8zM344.5 554.9h.8v.8h-.8zM346.5 555.3h.8v.8h-.8zM343.1 555.0h.8v.8h-.8zM342.8 554.7h.8v.8h-.8zM347.6 554.9h.8v.8h-.8zM341.8 554.6h.8v.8h-.8zM346.2 555.2h.8v.8h-.8zM344.7 555.9h.8v.8h-.8zM346.5 553.5h.8v.8h-.8zM343.2 554.8h.8v.8h-.8zM342.7 556.2h.8v.8h-.8zM345.7 555.2h.8v.8h-.8zM348.6 554.5h.8v.8h-.8zM348.6 555.2h.8v.8h-.8zM342.9 554.1h.8v.8h-.8zM345.1 554.3h.8v.8h-.8zM342.1 553.8h.8v.8h-.8zM345.1 554.9h.8v.8h-.8zM347.1 554.3h.8v.8h-.8zM344.3 553.6h.8v.8h-.8zM347.8 554.1h.8v.8h-.8zM345.1 555.4h.8v.8h-.8zM345.4 554.9h.8v.8h-.8zM342.0 555.2h.8v.8h-.8zM341.7 555.5h.8v.8h-.8zM347.6 554.7h.8v.8h-.8zM345.1 555.2h.8v.8h-.8zM346.8 554.1h.8v.8h-.8zM347.3 554.3h.8v.8h-.8zM346.8 553.7h.8v.8h-.8zM345.1 554.0h.8v.8h-.8zM340.4 553.7h.8v.8h-.8zM342.4 555.1h.8v.8h-.8zM341.0 553.4h.8v.8h-.8z" fill="#3f5cd0" opacity="0.85"/><ellipse cx="344.20" cy="554.60" rx="4.80" ry="1.92" fill="#4a66d4" opacity="0.75" filter="url(#bl05)" transform="rotate(0 344.20 554.60)"/><ellipse cx="344.20" cy="554.60" rx="2.80" ry="1.12" fill="#2a9a8a" opacity="0.9" filter="url(#bl05)" transform="rotate(0 344.20 554.60)"/><path d="M340.7 551.2h.8v.8h-.8zM337.2 546.4h.8v.8h-.8zM353.5 547.2h.8v.8h-.8zM348.2 543.7h.8v.8h-.8zM342.4 548.5h.8v.8h-.8zM353.7 543.7h.8v.8h-.8zM347.5 545.2h.8v.8h-.8zM349.0 543.3h.8v.8h-.8zM350.4 544.2h.8v.8h-.8zM346.9 543.4h.8v.8h-.8zM350.8 544.3h.8v.8h-.8zM348.5 545.0h.8v.8h-.8zM349.7 546.3h.8v.8h-.8zM358.3 543.2h.8v.8h-.8zM349.8 543.8h.8v.8h-.8zM346.0 540.7h.8v.8h-.8zM351.7 539.0h.8v.8h-.8zM349.4 541.2h.8v.8h-.8zM343.7 546.4h.8v.8h-.8zM341.2 546.1h.8v.8h-.8zM345.0 543.5h.8v.8h-.8zM347.5 549.0h.8v.8h-.8zM347.1 545.3h.8v.8h-.8zM346.0 545.0h.8v.8h-.8zM352.0 547.5h.8v.8h-.8zM344.7 546.2h.8v.8h-.8zM340.1 545.0h.8v.8h-.8zM346.9 545.0h.8v.8h-.8zM344.9 547.7h.8v.8h-.8zM349.0 546.8h.8v.8h-.8zM333.1 545.6h.8v.8h-.8zM341.6 543.6h.8v.8h-.8zM345.6 546.6h.8v.8h-.8zM335.2 549.2h.8v.8h-.8zM347.9 544.7h.8v.8h-.8zM339.6 541.5h.8v.8h-.8zM352.8 543.0h.8v.8h-.8zM343.5 544.2h.8v.8h-.8zM343.9 551.1h.8v.8h-.8zM354.2 542.1h.8v.8h-.8zM340.3 548.9h.8v.8h-.8zM346.2 542.5h.8v.8h-.8zM342.1 547.5h.8v.8h-.8zM344.0 544.9h.8v.8h-.8zM364.5 546.3h.8v.8h-.8zM340.5 546.5h.8v.8h-.8zM339.6 543.3h.8v.8h-.8zM342.9 542.0h.8v.8h-.8zM346.5 545.1h.8v.8h-.8zM344.6 547.5h.8v.8h-.8zM351.1 544.7h.8v.8h-.8zM351.7 548.6h.8v.8h-.8zM342.8 547.5h.8v.8h-.8zM339.4 541.9h.8v.8h-.8z" fill="#7d89e0" opacity="0.75"/><rect x="346.8" y="522.9" width="0.7" height="0.7" fill="#8a94dc" opacity="0.45"/><rect x="333.6" y="552.3" width="0.7" height="0.7" fill="#8a94dc" opacity="0.45"/><rect x="382.6" y="545.8" width="0.7" height="0.7" fill="#8a94dc" opacity="0.45"/><rect x="344.6" y="534.9" width="0.7" height="0.7" fill="#8a94dc" opacity="0.45"/><rect x="357.4" y="508.1" width="0.7" height="0.7" fill="#8a94dc" opacity="0.45"/><rect x="345.1" y="548.8" width="0.7" height="0.7" fill="#8a94dc" opacity="0.45"/><rect x="367.4" y="533.2" width="0.7" height="0.7" fill="#8a94dc" opacity="0.45"/><rect x="340.7" y="532.7" width="0.7" height="0.7" fill="#8a94dc" opacity="0.45"/><rect x="383.6" y="510.9" width="0.7" height="0.7" fill="#8a94dc" opacity="0.45"/><rect x="346.3" y="552.3" width="0.7" height="0.7" fill="#8a94dc" opacity="0.45"/><rect x="348.5" y="525.5" width="0.7" height="0.7" fill="#8a94dc" opacity="0.45"/><rect x="384.9" y="541.0" width="0.7" height="0.7" fill="#8a94dc" opacity="0.45"/><rect x="350.7" y="518.4" width="0.7" height="0.7" fill="#8a94dc" opacity="0.45"/><rect x="347.0" y="501.8" width="0.7" height="0.7" fill="#8a94dc" opacity="0.45"/></g><line x1="331.00" y1="532.00" x2="391.60" y2="532.00" stroke="#888" stroke-width="0.8"/><line x1="348.70" y1="497.50" x2="348.70" y2="532.00" stroke="#888" stroke-width="0.8"/><line x1="366.50" y1="497.50" x2="366.50" y2="558.00" stroke="#888" stroke-width="0.8"/><text x="340.35" y="530.60" font-size="8.6" text-anchor="middle" fill="#222" stroke="#222" stroke-width="0.22">E4</text><text x="357.60" y="530.60" font-size="8.6" text-anchor="middle" fill="#222" stroke="#222" stroke-width="0.22">E3</text><text x="379.05" y="530.60" font-size="8.6" text-anchor="middle" fill="#222" stroke="#222" stroke-width="0.22">E2</text><text x="356.10" y="541.20" font-size="8.6" text-anchor="middle" fill="#222" stroke="#222" stroke-width="0.22">R</text><clipPath id="cf17"><rect x="393.8" y="497.5" width="61.099999999999966" height="61.10000000000002"/></clipPath><rect x="393.80" y="497.50" width="61.10" height="61.10" fill="#fff" stroke="#a0a0a0" stroke-width="0.9"/><g clip-path="url(#cf17)"><path d="M398.0 535.2h.8v.8h-.8zM414.4 541.6h.8v.8h-.8zM413.7 530.8h.8v.8h-.8zM408.2 537.7h.8v.8h-.8zM414.6 544.5h.8v.8h-.8zM410.6 535.8h.8v.8h-.8zM403.3 539.0h.8v.8h-.8zM422.4 530.7h.8v.8h-.8zM385.0 548.6h.8v.8h-.8zM417.8 549.8h.8v.8h-.8zM412.4 539.3h.8v.8h-.8zM409.6 531.9h.8v.8h-.8zM413.5 541.3h.8v.8h-.8zM397.3 532.9h.8v.8h-.8zM406.9 535.3h.8v.8h-.8zM419.0 553.8h.8v.8h-.8zM386.5 537.2h.8v.8h-.8zM412.6 553.5h.8v.8h-.8zM419.5 528.9h.8v.8h-.8zM414.6 544.1h.8v.8h-.8zM417.5 548.4h.8v.8h-.8zM394.0 551.2h.8v.8h-.8zM398.0 546.6h.8v.8h-.8zM413.3 538.5h.8v.8h-.8zM396.0 529.7h.8v.8h-.8zM403.3 537.9h.8v.8h-.8zM403.2 552.6h.8v.8h-.8zM408.7 550.9h.8v.8h-.8zM402.3 535.4h.8v.8h-.8zM412.5 550.7h.8v.8h-.8zM414.7 539.9h.8v.8h-.8zM397.2 551.6h.8v.8h-.8zM405.3 536.9h.8v.8h-.8zM419.2 545.7h.8v.8h-.8zM402.4 545.9h.8v.8h-.8zM404.0 550.2h.8v.8h-.8zM410.2 535.0h.8v.8h-.8zM422.1 556.3h.8v.8h-.8zM410.2 540.8h.8v.8h-.8zM401.4 533.8h.8v.8h-.8zM398.0 544.4h.8v.8h-.8zM417.8 541.8h.8v.8h-.8zM404.5 542.8h.8v.8h-.8zM407.3 545.0h.8v.8h-.8zM411.1 545.4h.8v.8h-.8zM415.7 535.6h.8v.8h-.8zM418.9 528.4h.8v.8h-.8zM410.3 539.4h.8v.8h-.8zM411.8 540.7h.8v.8h-.8zM415.1 528.7h.8v.8h-.8zM407.4 534.0h.8v.8h-.8zM410.7 543.3h.8v.8h-.8zM407.1 536.1h.8v.8h-.8zM404.3 538.2h.8v.8h-.8zM409.8 547.0h.8v.8h-.8zM410.5 532.9h.8v.8h-.8zM401.3 543.9h.8v.8h-.8zM402.6 535.7h.8v.8h-.8zM391.0 541.5h.8v.8h-.8zM410.6 536.2h.8v.8h-.8zM405.6 544.5h.8v.8h-.8zM407.3 542.0h.8v.8h-.8zM411.7 532.1h.8v.8h-.8zM394.5 543.5h.8v.8h-.8zM402.0 547.6h.8v.8h-.8zM417.5 540.0h.8v.8h-.8zM405.7 535.1h.8v.8h-.8zM419.5 544.8h.8v.8h-.8zM404.6 546.4h.8v.8h-.8zM404.0 534.3h.8v.8h-.8zM404.9 539.0h.8v.8h-.8zM401.8 533.0h.8v.8h-.8zM412.2 533.9h.8v.8h-.8zM400.7 541.2h.8v.8h-.8zM402.4 536.8h.8v.8h-.8zM413.6 543.3h.8v.8h-.8zM421.0 544.4h.8v.8h-.8zM397.6 539.6h.8v.8h-.8zM408.1 546.8h.8v.8h-.8zM399.4 536.4h.8v.8h-.8zM415.4 545.0h.8v.8h-.8zM418.0 538.5h.8v.8h-.8zM411.7 542.0h.8v.8h-.8zM421.5 537.7h.8v.8h-.8zM416.1 545.3h.8v.8h-.8zM410.8 536.4h.8v.8h-.8zM405.4 527.7h.8v.8h-.8zM413.2 534.8h.8v.8h-.8zM415.1 546.8h.8v.8h-.8zM408.9 550.1h.8v.8h-.8zM405.8 547.1h.8v.8h-.8zM398.7 533.5h.8v.8h-.8zM415.6 542.4h.8v.8h-.8zM419.2 545.5h.8v.8h-.8zM399.6 548.8h.8v.8h-.8zM410.2 539.8h.8v.8h-.8zM410.2 535.3h.8v.8h-.8zM404.3 545.7h.8v.8h-.8zM404.6 538.2h.8v.8h-.8zM403.5 539.4h.8v.8h-.8zM410.9 546.0h.8v.8h-.8zM408.4 534.9h.8v.8h-.8zM408.4 548.0h.8v.8h-.8zM406.0 561.8h.8v.8h-.8zM411.0 537.6h.8v.8h-.8zM404.4 547.5h.8v.8h-.8zM403.0 537.7h.8v.8h-.8zM398.8 535.5h.8v.8h-.8zM410.8 550.0h.8v.8h-.8zM410.2 549.8h.8v.8h-.8zM400.0 550.6h.8v.8h-.8zM424.7 533.7h.8v.8h-.8zM399.6 543.6h.8v.8h-.8zM410.3 552.3h.8v.8h-.8zM412.6 534.4h.8v.8h-.8zM400.4 549.8h.8v.8h-.8zM413.3 528.8h.8v.8h-.8zM405.9 545.6h.8v.8h-.8zM407.2 545.5h.8v.8h-.8zM412.0 542.4h.8v.8h-.8zM401.9 539.0h.8v.8h-.8zM415.1 538.6h.8v.8h-.8zM410.8 557.5h.8v.8h-.8zM413.0 545.7h.8v.8h-.8zM411.5 535.3h.8v.8h-.8zM419.9 542.3h.8v.8h-.8zM399.6 552.2h.8v.8h-.8zM416.9 539.7h.8v.8h-.8zM409.7 544.3h.8v.8h-.8zM419.0 530.1h.8v.8h-.8zM406.1 529.1h.8v.8h-.8zM411.8 536.7h.8v.8h-.8zM406.9 555.6h.8v.8h-.8zM414.7 536.2h.8v.8h-.8zM407.5 543.7h.8v.8h-.8zM394.2 545.4h.8v.8h-.8zM408.3 547.4h.8v.8h-.8zM416.1 546.0h.8v.8h-.8zM416.3 548.1h.8v.8h-.8zM402.0 539.0h.8v.8h-.8zM406.4 546.8h.8v.8h-.8zM424.3 535.3h.8v.8h-.8zM410.6 536.4h.8v.8h-.8zM408.1 547.9h.8v.8h-.8zM423.8 533.5h.8v.8h-.8zM406.4 551.1h.8v.8h-.8zM401.8 544.4h.8v.8h-.8zM408.3 552.6h.8v.8h-.8zM417.6 526.3h.8v.8h-.8zM401.7 539.3h.8v.8h-.8zM407.8 537.5h.8v.8h-.8zM419.6 535.9h.8v.8h-.8zM407.2 548.3h.8v.8h-.8zM396.0 537.8h.8v.8h-.8zM408.9 535.8h.8v.8h-.8zM424.5 541.4h.8v.8h-.8zM415.7 536.6h.8v.8h-.8zM402.0 539.9h.8v.8h-.8zM416.4 542.6h.8v.8h-.8zM413.1 541.4h.8v.8h-.8zM415.3 545.1h.8v.8h-.8zM408.5 546.7h.8v.8h-.8zM411.7 543.1h.8v.8h-.8zM405.9 541.2h.8v.8h-.8zM403.0 549.2h.8v.8h-.8zM406.3 546.9h.8v.8h-.8zM403.9 543.5h.8v.8h-.8zM400.3 532.8h.8v.8h-.8zM415.9 545.6h.8v.8h-.8zM396.1 532.7h.8v.8h-.8zM409.3 535.3h.8v.8h-.8zM402.2 527.6h.8v.8h-.8zM420.4 541.4h.8v.8h-.8zM412.1 547.0h.8v.8h-.8zM402.9 539.9h.8v.8h-.8zM412.1 533.3h.8v.8h-.8zM409.6 541.3h.8v.8h-.8zM411.1 538.4h.8v.8h-.8zM405.4 539.3h.8v.8h-.8zM400.0 545.1h.8v.8h-.8zM410.8 541.2h.8v.8h-.8zM405.7 542.3h.8v.8h-.8zM410.0 537.2h.8v.8h-.8zM408.3 554.2h.8v.8h-.8z" fill="#7d89e0" opacity="0.75"/><ellipse cx="408.80" cy="541.10" rx="6.75" ry="7.50" fill="#a4acec" opacity="0.25" filter="url(#bl1)" transform="rotate(20 408.80 541.10)"/><path d="M416.5 547.3h.8v.8h-.8zM401.2 556.6h.8v.8h-.8zM409.9 543.0h.8v.8h-.8zM404.8 540.4h.8v.8h-.8zM407.7 537.0h.8v.8h-.8zM408.1 541.7h.8v.8h-.8zM409.0 541.4h.8v.8h-.8zM399.2 540.3h.8v.8h-.8zM405.4 538.7h.8v.8h-.8zM400.8 540.6h.8v.8h-.8zM410.7 540.0h.8v.8h-.8zM407.8 537.0h.8v.8h-.8zM416.4 540.0h.8v.8h-.8zM404.7 535.2h.8v.8h-.8zM409.6 539.3h.8v.8h-.8zM407.8 542.1h.8v.8h-.8zM411.2 552.4h.8v.8h-.8zM406.7 538.7h.8v.8h-.8zM405.7 545.5h.8v.8h-.8zM414.1 548.2h.8v.8h-.8zM407.3 541.8h.8v.8h-.8zM404.4 539.0h.8v.8h-.8zM410.5 537.4h.8v.8h-.8zM407.1 547.0h.8v.8h-.8zM406.4 541.9h.8v.8h-.8zM411.5 531.1h.8v.8h-.8zM414.2 536.0h.8v.8h-.8zM400.6 539.9h.8v.8h-.8zM408.5 543.4h.8v.8h-.8zM408.2 547.4h.8v.8h-.8zM408.2 546.6h.8v.8h-.8zM413.4 535.7h.8v.8h-.8zM408.6 543.7h.8v.8h-.8zM410.2 541.7h.8v.8h-.8zM405.5 548.6h.8v.8h-.8zM412.4 537.6h.8v.8h-.8zM413.6 544.8h.8v.8h-.8zM409.6 541.1h.8v.8h-.8zM402.6 524.7h.8v.8h-.8zM404.0 546.0h.8v.8h-.8zM413.7 535.3h.8v.8h-.8zM409.6 550.0h.8v.8h-.8zM404.6 535.4h.8v.8h-.8zM404.1 533.3h.8v.8h-.8zM401.6 533.0h.8v.8h-.8zM409.3 542.1h.8v.8h-.8zM410.6 546.8h.8v.8h-.8zM410.8 529.7h.8v.8h-.8zM409.3 541.3h.8v.8h-.8zM402.3 544.2h.8v.8h-.8zM405.1 542.4h.8v.8h-.8zM408.2 549.2h.8v.8h-.8zM403.0 530.5h.8v.8h-.8zM404.7 545.2h.8v.8h-.8zM416.1 541.7h.8v.8h-.8zM405.4 548.8h.8v.8h-.8zM406.7 541.1h.8v.8h-.8zM411.6 546.1h.8v.8h-.8zM406.2 544.1h.8v.8h-.8zM409.6 537.2h.8v.8h-.8zM403.2 541.0h.8v.8h-.8zM416.6 544.4h.8v.8h-.8zM407.5 543.9h.8v.8h-.8zM405.9 539.7h.8v.8h-.8zM410.7 542.4h.8v.8h-.8zM412.4 543.7h.8v.8h-.8zM406.3 543.6h.8v.8h-.8zM409.6 550.9h.8v.8h-.8zM404.6 536.1h.8v.8h-.8zM418.5 545.4h.8v.8h-.8zM415.5 545.4h.8v.8h-.8zM407.7 536.0h.8v.8h-.8zM404.1 545.3h.8v.8h-.8zM403.1 533.8h.8v.8h-.8zM410.3 542.5h.8v.8h-.8zM407.3 537.4h.8v.8h-.8zM405.9 537.4h.8v.8h-.8zM416.1 546.0h.8v.8h-.8zM408.9 545.7h.8v.8h-.8zM412.3 530.1h.8v.8h-.8zM418.3 534.6h.8v.8h-.8zM406.3 543.8h.8v.8h-.8zM400.0 540.5h.8v.8h-.8zM407.2 534.3h.8v.8h-.8zM409.2 537.5h.8v.8h-.8zM405.3 537.5h.8v.8h-.8zM412.6 539.2h.8v.8h-.8zM403.5 537.0h.8v.8h-.8zM409.7 532.1h.8v.8h-.8zM409.7 538.5h.8v.8h-.8zM410.1 541.2h.8v.8h-.8zM409.9 536.8h.8v.8h-.8zM411.2 545.1h.8v.8h-.8z" fill="#7d89e0" opacity="0.75"/><ellipse cx="430.00" cy="510.00" rx="6.75" ry="2.62" fill="#a4acec" opacity="0.4" filter="url(#bl1)" transform="rotate(-40 430.00 510.00)"/><path d="M436.0 504.1h.8v.8h-.8zM428.1 513.6h.8v.8h-.8zM433.5 509.0h.8v.8h-.8zM432.7 502.8h.8v.8h-.8zM423.7 512.6h.8v.8h-.8zM425.5 515.8h.8v.8h-.8zM430.5 504.8h.8v.8h-.8zM432.9 510.3h.8v.8h-.8zM434.9 507.3h.8v.8h-.8zM425.5 514.3h.8v.8h-.8zM436.2 503.8h.8v.8h-.8zM430.9 511.8h.8v.8h-.8zM429.3 508.2h.8v.8h-.8zM430.5 512.8h.8v.8h-.8zM431.4 511.6h.8v.8h-.8zM427.9 507.3h.8v.8h-.8zM425.0 517.8h.8v.8h-.8zM427.9 515.4h.8v.8h-.8zM430.5 505.9h.8v.8h-.8zM433.3 505.5h.8v.8h-.8zM425.3 513.8h.8v.8h-.8zM431.4 512.2h.8v.8h-.8zM427.6 514.7h.8v.8h-.8zM428.0 508.6h.8v.8h-.8zM433.6 508.9h.8v.8h-.8zM436.3 506.9h.8v.8h-.8zM421.9 516.4h.8v.8h-.8zM433.8 506.9h.8v.8h-.8zM432.2 514.2h.8v.8h-.8zM435.2 501.3h.8v.8h-.8zM425.9 511.2h.8v.8h-.8zM425.3 513.3h.8v.8h-.8zM435.8 506.4h.8v.8h-.8zM435.6 509.4h.8v.8h-.8zM433.9 510.8h.8v.8h-.8zM426.5 516.7h.8v.8h-.8zM438.2 500.1h.8v.8h-.8zM425.1 515.2h.8v.8h-.8zM428.8 508.3h.8v.8h-.8zM425.5 509.9h.8v.8h-.8zM426.4 511.7h.8v.8h-.8zM431.5 513.4h.8v.8h-.8zM434.0 508.9h.8v.8h-.8zM422.2 516.1h.8v.8h-.8zM434.2 507.9h.8v.8h-.8zM430.0 512.9h.8v.8h-.8zM436.9 502.2h.8v.8h-.8zM421.2 516.9h.8v.8h-.8z" fill="#7d89e0" opacity="0.75"/><path d="M432.4 509.1h.8v.8h-.8zM426.9 511.4h.8v.8h-.8zM426.6 512.4h.8v.8h-.8zM432.8 509.3h.8v.8h-.8zM429.6 508.4h.8v.8h-.8zM430.0 509.7h.8v.8h-.8zM429.6 510.0h.8v.8h-.8zM428.9 510.2h.8v.8h-.8zM426.9 510.9h.8v.8h-.8zM430.9 511.5h.8v.8h-.8zM430.0 511.6h.8v.8h-.8zM431.5 507.5h.8v.8h-.8zM428.7 510.9h.8v.8h-.8zM432.3 507.1h.8v.8h-.8zM429.0 512.0h.8v.8h-.8zM427.4 511.6h.8v.8h-.8zM432.0 507.3h.8v.8h-.8zM431.1 510.4h.8v.8h-.8zM427.4 510.6h.8v.8h-.8zM430.9 508.6h.8v.8h-.8zM430.0 510.0h.8v.8h-.8zM428.8 510.0h.8v.8h-.8zM429.8 510.0h.8v.8h-.8zM428.4 512.2h.8v.8h-.8zM430.7 509.2h.8v.8h-.8zM433.3 507.6h.8v.8h-.8zM430.3 508.4h.8v.8h-.8zM429.4 509.3h.8v.8h-.8zM431.5 510.5h.8v.8h-.8zM431.5 508.1h.8v.8h-.8zM429.5 511.8h.8v.8h-.8z" fill="#3f5cd0" opacity="0.85"/><ellipse cx="430.00" cy="510.00" rx="4.32" ry="1.68" fill="#4a66d4" opacity="0.75" filter="url(#bl05)" transform="rotate(-40 430.00 510.00)"/><ellipse cx="425.30" cy="518.00" rx="9.00" ry="7.50" fill="#a4acec" opacity="0.4" filter="url(#bl1)" transform="rotate(-30 425.30 518.00)"/><path d="M419.6 530.5h.8v.8h-.8zM421.7 524.4h.8v.8h-.8zM431.3 524.7h.8v.8h-.8zM430.5 521.9h.8v.8h-.8zM422.5 529.3h.8v.8h-.8zM430.8 513.8h.8v.8h-.8zM422.4 523.3h.8v.8h-.8zM431.7 520.8h.8v.8h-.8zM436.4 508.1h.8v.8h-.8zM416.2 512.4h.8v.8h-.8zM432.1 519.1h.8v.8h-.8zM426.0 531.8h.8v.8h-.8zM431.4 528.7h.8v.8h-.8zM423.1 531.6h.8v.8h-.8zM416.8 518.9h.8v.8h-.8zM430.9 510.0h.8v.8h-.8zM425.2 523.7h.8v.8h-.8zM425.2 526.4h.8v.8h-.8zM424.8 510.1h.8v.8h-.8zM429.7 511.5h.8v.8h-.8zM424.0 527.8h.8v.8h-.8zM419.9 513.6h.8v.8h-.8zM420.6 523.6h.8v.8h-.8zM436.4 524.0h.8v.8h-.8zM415.9 516.0h.8v.8h-.8zM418.7 526.3h.8v.8h-.8zM436.8 511.9h.8v.8h-.8zM432.1 516.5h.8v.8h-.8zM434.6 520.8h.8v.8h-.8zM422.3 512.5h.8v.8h-.8zM427.3 524.5h.8v.8h-.8zM420.7 509.8h.8v.8h-.8zM431.1 519.4h.8v.8h-.8zM430.7 514.7h.8v.8h-.8zM417.2 513.3h.8v.8h-.8zM417.4 515.1h.8v.8h-.8zM434.5 516.0h.8v.8h-.8zM419.7 527.0h.8v.8h-.8zM427.4 508.6h.8v.8h-.8zM431.2 516.6h.8v.8h-.8zM418.7 522.2h.8v.8h-.8zM416.3 522.0h.8v.8h-.8zM415.3 523.2h.8v.8h-.8zM410.3 519.4h.8v.8h-.8zM426.8 506.5h.8v.8h-.8zM431.3 511.4h.8v.8h-.8zM428.5 523.2h.8v.8h-.8zM422.7 512.7h.8v.8h-.8zM438.1 519.2h.8v.8h-.8zM432.6 517.8h.8v.8h-.8zM422.3 528.8h.8v.8h-.8zM416.1 515.1h.8v.8h-.8zM436.1 511.9h.8v.8h-.8zM430.4 514.6h.8v.8h-.8zM431.0 528.2h.8v.8h-.8zM428.7 521.8h.8v.8h-.8zM426.7 525.0h.8v.8h-.8zM430.7 511.3h.8v.8h-.8zM430.7 522.9h.8v.8h-.8zM411.9 510.4h.8v.8h-.8zM419.8 529.5h.8v.8h-.8zM411.1 530.6h.8v.8h-.8zM417.0 509.6h.8v.8h-.8zM430.5 519.6h.8v.8h-.8zM414.1 526.4h.8v.8h-.8zM417.5 515.6h.8v.8h-.8zM417.7 528.7h.8v.8h-.8zM429.7 529.6h.8v.8h-.8zM423.3 513.2h.8v.8h-.8zM427.9 510.5h.8v.8h-.8zM425.5 512.3h.8v.8h-.8zM430.9 520.4h.8v.8h-.8zM429.9 521.9h.8v.8h-.8zM426.5 529.2h.8v.8h-.8zM429.5 507.2h.8v.8h-.8zM429.3 522.2h.8v.8h-.8zM421.0 527.0h.8v.8h-.8zM418.9 521.5h.8v.8h-.8zM417.2 527.5h.8v.8h-.8zM435.7 513.0h.8v.8h-.8zM425.7 512.7h.8v.8h-.8zM421.0 510.1h.8v.8h-.8zM433.3 527.5h.8v.8h-.8zM423.0 527.5h.8v.8h-.8zM436.0 517.3h.8v.8h-.8zM428.0 525.2h.8v.8h-.8zM427.2 526.3h.8v.8h-.8zM413.4 508.3h.8v.8h-.8zM429.6 521.5h.8v.8h-.8zM429.0 510.6h.8v.8h-.8zM431.9 517.2h.8v.8h-.8zM426.7 523.8h.8v.8h-.8zM417.8 523.2h.8v.8h-.8zM437.0 522.9h.8v.8h-.8zM436.0 517.0h.8v.8h-.8zM421.7 523.6h.8v.8h-.8zM419.3 518.5h.8v.8h-.8zM412.5 528.6h.8v.8h-.8zM417.8 518.0h.8v.8h-.8zM430.7 529.2h.8v.8h-.8zM435.7 507.2h.8v.8h-.8zM430.4 512.8h.8v.8h-.8zM431.5 514.8h.8v.8h-.8zM419.3 520.1h.8v.8h-.8zM428.3 524.3h.8v.8h-.8zM423.9 511.1h.8v.8h-.8zM431.4 513.3h.8v.8h-.8zM418.1 529.2h.8v.8h-.8zM413.6 518.1h.8v.8h-.8zM424.2 504.3h.8v.8h-.8zM428.0 525.3h.8v.8h-.8zM427.9 512.7h.8v.8h-.8zM428.0 523.8h.8v.8h-.8zM433.3 502.3h.8v.8h-.8zM433.2 511.9h.8v.8h-.8zM432.8 511.1h.8v.8h-.8zM429.7 512.5h.8v.8h-.8zM419.6 512.4h.8v.8h-.8zM435.9 519.5h.8v.8h-.8zM421.3 529.9h.8v.8h-.8zM431.0 514.4h.8v.8h-.8zM432.5 525.7h.8v.8h-.8zM421.8 523.2h.8v.8h-.8zM416.2 519.7h.8v.8h-.8zM419.4 525.0h.8v.8h-.8zM418.6 527.3h.8v.8h-.8zM433.0 511.1h.8v.8h-.8zM440.3 515.0h.8v.8h-.8zM428.2 508.2h.8v.8h-.8zM432.9 510.1h.8v.8h-.8zM427.3 526.3h.8v.8h-.8zM433.1 517.6h.8v.8h-.8zM436.8 523.5h.8v.8h-.8zM435.8 513.0h.8v.8h-.8zM420.8 524.9h.8v.8h-.8zM413.2 512.5h.8v.8h-.8zM425.8 511.1h.8v.8h-.8zM422.8 525.5h.8v.8h-.8zM415.8 509.1h.8v.8h-.8zM419.9 511.8h.8v.8h-.8zM422.4 513.6h.8v.8h-.8zM416.4 524.4h.8v.8h-.8zM433.5 518.2h.8v.8h-.8zM427.3 526.6h.8v.8h-.8zM437.9 513.5h.8v.8h-.8zM419.7 521.3h.8v.8h-.8zM420.7 515.1h.8v.8h-.8zM418.6 519.3h.8v.8h-.8zM419.5 512.2h.8v.8h-.8zM427.2 510.6h.8v.8h-.8zM417.5 516.5h.8v.8h-.8zM431.4 526.2h.8v.8h-.8zM418.8 520.4h.8v.8h-.8zM433.5 511.3h.8v.8h-.8zM418.0 514.3h.8v.8h-.8zM430.9 521.9h.8v.8h-.8zM432.4 524.0h.8v.8h-.8zM418.6 532.6h.8v.8h-.8zM427.6 511.7h.8v.8h-.8zM418.2 519.7h.8v.8h-.8zM417.0 525.2h.8v.8h-.8zM421.6 527.8h.8v.8h-.8zM430.1 525.5h.8v.8h-.8zM420.3 522.3h.8v.8h-.8zM421.6 524.9h.8v.8h-.8zM439.6 509.5h.8v.8h-.8zM429.5 508.4h.8v.8h-.8zM420.5 508.1h.8v.8h-.8zM430.6 513.0h.8v.8h-.8zM420.4 514.3h.8v.8h-.8zM424.2 523.3h.8v.8h-.8zM428.3 507.4h.8v.8h-.8zM426.0 523.5h.8v.8h-.8zM419.6 520.7h.8v.8h-.8zM431.5 521.5h.8v.8h-.8z" fill="#7d89e0" opacity="0.75"/><path d="M427.6 521.5h.8v.8h-.8zM425.9 521.4h.8v.8h-.8zM422.0 517.4h.8v.8h-.8zM429.9 516.5h.8v.8h-.8zM419.8 518.9h.8v.8h-.8zM427.1 520.9h.8v.8h-.8zM428.5 514.7h.8v.8h-.8zM427.8 515.7h.8v.8h-.8zM424.5 522.0h.8v.8h-.8zM424.0 519.6h.8v.8h-.8zM419.7 517.8h.8v.8h-.8zM425.7 519.3h.8v.8h-.8zM428.2 513.6h.8v.8h-.8zM427.5 518.5h.8v.8h-.8zM427.7 522.0h.8v.8h-.8zM426.0 518.8h.8v.8h-.8zM427.7 518.7h.8v.8h-.8zM420.6 516.4h.8v.8h-.8zM423.8 518.5h.8v.8h-.8zM428.0 515.3h.8v.8h-.8zM422.3 514.3h.8v.8h-.8zM428.2 521.6h.8v.8h-.8zM422.0 516.6h.8v.8h-.8zM422.4 515.3h.8v.8h-.8zM421.9 517.2h.8v.8h-.8zM426.2 520.5h.8v.8h-.8zM426.0 517.0h.8v.8h-.8zM430.1 519.9h.8v.8h-.8zM423.1 514.6h.8v.8h-.8zM429.1 515.0h.8v.8h-.8zM423.1 521.1h.8v.8h-.8zM430.2 516.8h.8v.8h-.8zM421.6 519.1h.8v.8h-.8zM427.4 513.5h.8v.8h-.8zM422.2 520.8h.8v.8h-.8zM428.8 514.0h.8v.8h-.8zM425.1 515.3h.8v.8h-.8zM425.4 521.0h.8v.8h-.8zM426.5 515.9h.8v.8h-.8zM429.3 514.1h.8v.8h-.8zM420.7 516.0h.8v.8h-.8zM420.5 519.2h.8v.8h-.8zM427.8 514.2h.8v.8h-.8zM423.3 518.3h.8v.8h-.8zM427.5 520.8h.8v.8h-.8zM420.5 516.7h.8v.8h-.8zM424.7 521.4h.8v.8h-.8zM422.3 516.5h.8v.8h-.8zM427.8 515.6h.8v.8h-.8zM423.6 520.6h.8v.8h-.8zM428.0 518.1h.8v.8h-.8zM422.1 518.1h.8v.8h-.8zM421.0 516.1h.8v.8h-.8zM429.0 514.8h.8v.8h-.8zM424.9 513.6h.8v.8h-.8zM428.6 516.3h.8v.8h-.8zM428.4 521.5h.8v.8h-.8zM421.3 520.0h.8v.8h-.8zM421.9 522.1h.8v.8h-.8zM423.0 522.2h.8v.8h-.8zM426.3 516.0h.8v.8h-.8zM429.4 517.6h.8v.8h-.8zM425.0 522.0h.8v.8h-.8zM420.2 518.2h.8v.8h-.8zM426.3 517.2h.8v.8h-.8zM428.4 516.0h.8v.8h-.8zM423.5 513.9h.8v.8h-.8zM424.3 516.9h.8v.8h-.8zM424.1 516.5h.8v.8h-.8zM427.4 521.2h.8v.8h-.8zM419.8 520.2h.8v.8h-.8zM425.7 519.8h.8v.8h-.8zM424.3 517.8h.8v.8h-.8zM426.9 520.0h.8v.8h-.8zM426.1 519.0h.8v.8h-.8zM425.8 517.1h.8v.8h-.8zM425.2 516.0h.8v.8h-.8zM422.5 520.9h.8v.8h-.8zM423.3 522.9h.8v.8h-.8zM427.4 520.3h.8v.8h-.8zM426.4 515.7h.8v.8h-.8zM430.5 519.4h.8v.8h-.8zM430.3 517.4h.8v.8h-.8zM427.6 519.2h.8v.8h-.8zM424.2 518.2h.8v.8h-.8zM422.4 518.3h.8v.8h-.8zM425.6 514.9h.8v.8h-.8zM424.7 522.1h.8v.8h-.8zM420.9 518.7h.8v.8h-.8zM426.6 521.5h.8v.8h-.8zM422.6 519.1h.8v.8h-.8zM423.9 521.5h.8v.8h-.8zM425.1 519.1h.8v.8h-.8zM429.9 520.3h.8v.8h-.8zM426.7 520.5h.8v.8h-.8zM422.9 514.2h.8v.8h-.8zM428.5 515.3h.8v.8h-.8zM424.8 519.3h.8v.8h-.8zM428.3 516.0h.8v.8h-.8z" fill="#3f5cd0" opacity="0.85"/><ellipse cx="425.30" cy="518.00" rx="5.76" ry="4.80" fill="#4a66d4" opacity="0.75" filter="url(#bl05)" transform="rotate(-30 425.30 518.00)"/><ellipse cx="425.30" cy="518.00" rx="7.44" ry="6.20" fill="#2a98a8" filter="url(#bl05)" transform="rotate(-30 425.30 518.00)"/><ellipse cx="425.30" cy="518.00" rx="6.00" ry="5.00" fill="#34b050" filter="url(#bl05)" transform="rotate(-30 425.30 518.00)"/><ellipse cx="425.30" cy="518.00" rx="4.08" ry="3.40" fill="#b8cc2a" filter="url(#bl05)" transform="rotate(-30 425.30 518.00)"/><ellipse cx="425.30" cy="518.00" rx="2.64" ry="2.20" fill="#e8a020" filter="url(#bl05)" transform="rotate(-30 425.30 518.00)"/><ellipse cx="425.30" cy="518.00" rx="1.32" ry="1.10" fill="#e0401a" filter="url(#bl05)" transform="rotate(-30 425.30 518.00)"/><ellipse cx="424.30" cy="553.20" rx="3.75" ry="3.75" fill="#a4acec" opacity="0.4" filter="url(#bl1)" transform="rotate(0 424.30 553.20)"/><path d="M433.3 553.8h.8v.8h-.8zM423.5 557.0h.8v.8h-.8zM420.1 553.6h.8v.8h-.8zM428.2 558.1h.8v.8h-.8zM421.4 554.3h.8v.8h-.8zM424.0 550.6h.8v.8h-.8zM421.5 556.6h.8v.8h-.8zM421.5 549.2h.8v.8h-.8zM427.0 547.1h.8v.8h-.8zM428.4 550.4h.8v.8h-.8zM426.1 556.7h.8v.8h-.8zM425.0 549.0h.8v.8h-.8zM422.0 548.2h.8v.8h-.8zM426.6 559.4h.8v.8h-.8zM422.3 556.3h.8v.8h-.8zM421.2 550.3h.8v.8h-.8zM426.8 552.9h.8v.8h-.8zM420.0 549.2h.8v.8h-.8zM424.4 556.8h.8v.8h-.8zM422.6 551.1h.8v.8h-.8zM419.1 550.6h.8v.8h-.8zM424.1 550.0h.8v.8h-.8zM427.3 552.6h.8v.8h-.8zM427.8 553.8h.8v.8h-.8zM423.4 550.1h.8v.8h-.8zM422.9 549.4h.8v.8h-.8zM422.2 550.4h.8v.8h-.8zM418.1 555.0h.8v.8h-.8zM425.8 557.2h.8v.8h-.8zM429.8 553.7h.8v.8h-.8zM421.4 548.9h.8v.8h-.8zM421.6 554.4h.8v.8h-.8zM427.9 553.1h.8v.8h-.8zM427.2 554.7h.8v.8h-.8zM427.0 554.7h.8v.8h-.8zM421.0 553.4h.8v.8h-.8zM425.9 551.0h.8v.8h-.8zM426.1 550.6h.8v.8h-.8zM422.8 550.2h.8v.8h-.8zM425.9 556.5h.8v.8h-.8z" fill="#7d89e0" opacity="0.75"/><path d="M424.9 552.3h.8v.8h-.8zM425.9 551.9h.8v.8h-.8zM423.2 551.9h.8v.8h-.8zM421.9 552.9h.8v.8h-.8zM424.0 554.1h.8v.8h-.8zM426.6 552.2h.8v.8h-.8zM425.0 552.0h.8v.8h-.8zM426.6 552.3h.8v.8h-.8zM423.6 553.1h.8v.8h-.8zM425.6 551.1h.8v.8h-.8zM423.6 551.1h.8v.8h-.8zM424.3 552.2h.8v.8h-.8zM422.4 554.0h.8v.8h-.8zM424.8 555.2h.8v.8h-.8zM424.0 554.7h.8v.8h-.8zM425.7 555.0h.8v.8h-.8zM423.8 553.5h.8v.8h-.8zM424.2 551.1h.8v.8h-.8zM424.0 552.2h.8v.8h-.8zM425.5 553.5h.8v.8h-.8zM422.1 554.3h.8v.8h-.8zM423.8 551.6h.8v.8h-.8zM426.3 554.5h.8v.8h-.8zM423.9 551.3h.8v.8h-.8zM425.2 554.9h.8v.8h-.8z" fill="#3f5cd0" opacity="0.85"/><ellipse cx="424.30" cy="553.20" rx="2.40" ry="2.40" fill="#4a66d4" opacity="0.75" filter="url(#bl05)" transform="rotate(0 424.30 553.20)"/><path d="M428.4 539.4h.8v.8h-.8zM429.7 530.2h.8v.8h-.8zM428.1 540.5h.8v.8h-.8zM430.5 523.7h.8v.8h-.8zM428.1 535.5h.8v.8h-.8zM421.2 529.5h.8v.8h-.8zM428.0 539.3h.8v.8h-.8zM423.8 528.8h.8v.8h-.8zM422.8 536.5h.8v.8h-.8zM426.9 536.2h.8v.8h-.8zM426.2 537.8h.8v.8h-.8zM420.8 541.9h.8v.8h-.8zM427.5 534.1h.8v.8h-.8zM425.4 543.9h.8v.8h-.8zM425.7 529.4h.8v.8h-.8zM427.7 542.9h.8v.8h-.8zM426.4 531.5h.8v.8h-.8zM426.9 529.7h.8v.8h-.8zM427.6 536.0h.8v.8h-.8zM424.6 538.8h.8v.8h-.8zM429.2 540.4h.8v.8h-.8zM420.9 542.8h.8v.8h-.8zM426.2 535.1h.8v.8h-.8zM421.8 538.0h.8v.8h-.8zM428.8 542.9h.8v.8h-.8zM425.7 545.7h.8v.8h-.8zM425.9 535.8h.8v.8h-.8zM425.8 532.8h.8v.8h-.8zM429.2 530.8h.8v.8h-.8zM426.6 536.4h.8v.8h-.8zM426.1 544.7h.8v.8h-.8zM426.2 546.2h.8v.8h-.8zM428.2 537.5h.8v.8h-.8zM428.8 543.0h.8v.8h-.8zM426.3 531.4h.8v.8h-.8zM422.0 538.5h.8v.8h-.8zM426.6 532.5h.8v.8h-.8zM427.0 542.8h.8v.8h-.8zM430.5 538.2h.8v.8h-.8zM427.9 544.3h.8v.8h-.8zM421.9 537.8h.8v.8h-.8zM424.9 542.8h.8v.8h-.8zM431.4 537.7h.8v.8h-.8zM425.7 533.7h.8v.8h-.8zM423.2 537.3h.8v.8h-.8zM423.6 534.2h.8v.8h-.8zM425.4 540.9h.8v.8h-.8zM427.6 527.2h.8v.8h-.8zM426.6 528.9h.8v.8h-.8zM429.0 533.8h.8v.8h-.8zM428.1 529.5h.8v.8h-.8zM422.7 531.8h.8v.8h-.8zM427.5 530.1h.8v.8h-.8zM430.9 538.6h.8v.8h-.8zM428.1 538.2h.8v.8h-.8zM423.2 541.5h.8v.8h-.8zM428.3 542.5h.8v.8h-.8zM425.2 522.8h.8v.8h-.8zM424.3 541.6h.8v.8h-.8zM427.0 530.0h.8v.8h-.8zM425.0 537.7h.8v.8h-.8zM426.3 533.2h.8v.8h-.8zM424.7 536.7h.8v.8h-.8z" fill="#7d89e0" opacity="0.75"/><rect x="433.7" y="513.8" width="0.7" height="0.7" fill="#7a86dc" opacity="0.5"/><rect x="434.1" y="504.6" width="0.7" height="0.7" fill="#7a86dc" opacity="0.5"/><rect x="448.7" y="516.7" width="0.7" height="0.7" fill="#7a86dc" opacity="0.5"/><rect x="435.3" y="553.1" width="0.7" height="0.7" fill="#7a86dc" opacity="0.5"/><rect x="418.7" y="552.0" width="0.7" height="0.7" fill="#7a86dc" opacity="0.5"/><rect x="447.5" y="529.9" width="0.7" height="0.7" fill="#7a86dc" opacity="0.5"/><rect x="433.3" y="543.6" width="0.7" height="0.7" fill="#7a86dc" opacity="0.5"/><rect x="449.6" y="523.9" width="0.7" height="0.7" fill="#7a86dc" opacity="0.5"/><rect x="406.5" y="518.3" width="0.7" height="0.7" fill="#7a86dc" opacity="0.5"/><rect x="427.3" y="547.1" width="0.7" height="0.7" fill="#7a86dc" opacity="0.5"/><rect x="397.7" y="514.8" width="0.7" height="0.7" fill="#7a86dc" opacity="0.5"/><rect x="451.1" y="541.7" width="0.7" height="0.7" fill="#7a86dc" opacity="0.5"/></g><rect x="407.30" y="513.60" width="11.80" height="11.60" fill="none" stroke="#8a8a8a" stroke-width="0.8"/><rect x="419.10" y="503.70" width="17.60" height="54.90" fill="none" stroke="#8a8a8a" stroke-width="0.8"/><text x="406.10" y="522.50" font-size="8.6" text-anchor="end" fill="#222" stroke="#222" stroke-width="0.22">E1</text><path d="M437.00,529.30 L452.80,529.30 L452.80,527.40 L457.80,530.90 L452.80,534.40 L452.80,532.50 L437.00,532.50 Z" fill="#fff" stroke="#111" stroke-width="0.9"/><clipPath id="cf18"><rect x="457.7" y="497.3" width="62.30000000000001" height="60.80000000000001"/></clipPath><rect x="457.70" y="497.30" width="67.30" height="60.80" fill="#fff" stroke="none" stroke-width="1"/><line x1="457.70" y1="497.30" x2="525.00" y2="497.30" stroke="#a0a0a0" stroke-width="0.9"/><line x1="457.70" y1="497.30" x2="457.70" y2="558.10" stroke="#a0a0a0" stroke-width="0.9"/><line x1="457.70" y1="558.10" x2="493.50" y2="558.10" stroke="#a0a0a0" stroke-width="0.9"/><g clip-path="url(#cf18)"><ellipse cx="497.00" cy="515.00" rx="13.50" ry="3.15" fill="#a4acec" opacity="0.4" filter="url(#bl1)" transform="rotate(-12 497.00 515.00)"/><path d="M503.2 516.7h.8v.8h-.8zM486.4 517.4h.8v.8h-.8zM487.0 517.4h.8v.8h-.8zM489.0 513.2h.8v.8h-.8zM510.8 508.1h.8v.8h-.8zM495.3 512.5h.8v.8h-.8zM501.8 517.2h.8v.8h-.8zM508.6 509.5h.8v.8h-.8zM522.0 509.9h.8v.8h-.8zM500.4 517.8h.8v.8h-.8zM484.9 516.9h.8v.8h-.8zM480.0 517.9h.8v.8h-.8zM505.2 514.9h.8v.8h-.8zM491.2 513.3h.8v.8h-.8zM492.7 513.7h.8v.8h-.8zM488.5 518.2h.8v.8h-.8zM508.9 514.5h.8v.8h-.8zM487.1 515.7h.8v.8h-.8zM488.8 520.2h.8v.8h-.8zM501.6 511.5h.8v.8h-.8zM489.7 514.3h.8v.8h-.8zM503.7 518.3h.8v.8h-.8zM485.3 514.6h.8v.8h-.8zM502.1 510.8h.8v.8h-.8zM470.7 519.5h.8v.8h-.8zM506.9 515.4h.8v.8h-.8zM504.5 511.7h.8v.8h-.8zM486.1 519.4h.8v.8h-.8zM518.7 515.5h.8v.8h-.8zM505.4 516.3h.8v.8h-.8zM491.0 514.3h.8v.8h-.8zM485.3 517.2h.8v.8h-.8zM498.1 511.0h.8v.8h-.8zM489.0 517.8h.8v.8h-.8zM488.7 515.1h.8v.8h-.8zM481.3 520.6h.8v.8h-.8zM505.2 516.7h.8v.8h-.8zM511.1 511.1h.8v.8h-.8zM505.9 508.5h.8v.8h-.8zM497.1 511.3h.8v.8h-.8zM507.9 512.2h.8v.8h-.8zM512.9 513.6h.8v.8h-.8zM491.1 512.5h.8v.8h-.8zM491.7 518.8h.8v.8h-.8zM510.2 510.8h.8v.8h-.8zM489.8 517.9h.8v.8h-.8zM481.9 517.9h.8v.8h-.8zM511.4 510.1h.8v.8h-.8zM492.2 513.9h.8v.8h-.8zM511.3 514.6h.8v.8h-.8zM503.9 510.1h.8v.8h-.8zM491.4 511.8h.8v.8h-.8zM513.3 508.0h.8v.8h-.8zM511.1 517.2h.8v.8h-.8zM484.2 517.0h.8v.8h-.8zM477.2 518.3h.8v.8h-.8zM498.9 510.2h.8v.8h-.8zM492.1 513.8h.8v.8h-.8zM510.2 512.6h.8v.8h-.8zM485.3 519.7h.8v.8h-.8zM493.7 512.9h.8v.8h-.8zM505.9 515.6h.8v.8h-.8zM494.5 513.2h.8v.8h-.8zM506.6 513.2h.8v.8h-.8zM506.5 511.8h.8v.8h-.8zM483.7 515.4h.8v.8h-.8zM484.4 517.6h.8v.8h-.8zM490.9 523.0h.8v.8h-.8zM493.3 520.6h.8v.8h-.8zM510.5 512.4h.8v.8h-.8zM504.7 511.3h.8v.8h-.8zM525.8 508.4h.8v.8h-.8zM498.3 517.0h.8v.8h-.8zM504.9 509.4h.8v.8h-.8zM508.4 513.1h.8v.8h-.8zM492.8 513.5h.8v.8h-.8zM501.7 517.6h.8v.8h-.8zM509.4 511.0h.8v.8h-.8zM477.9 517.9h.8v.8h-.8zM518.6 507.8h.8v.8h-.8zM507.1 512.3h.8v.8h-.8zM510.4 509.2h.8v.8h-.8zM507.4 516.1h.8v.8h-.8zM501.2 517.0h.8v.8h-.8zM509.4 515.3h.8v.8h-.8zM500.7 509.0h.8v.8h-.8zM510.0 513.4h.8v.8h-.8zM481.1 516.2h.8v.8h-.8zM496.8 520.5h.8v.8h-.8zM498.6 517.2h.8v.8h-.8zM483.8 518.5h.8v.8h-.8zM502.7 511.7h.8v.8h-.8zM494.3 517.6h.8v.8h-.8zM511.2 510.7h.8v.8h-.8zM506.1 511.8h.8v.8h-.8zM501.7 516.7h.8v.8h-.8zM486.0 510.6h.8v.8h-.8zM499.7 518.2h.8v.8h-.8zM505.8 512.6h.8v.8h-.8zM499.2 510.9h.8v.8h-.8zM504.9 509.6h.8v.8h-.8zM514.4 513.2h.8v.8h-.8zM489.9 511.3h.8v.8h-.8zM505.2 511.8h.8v.8h-.8zM510.3 511.5h.8v.8h-.8zM500.8 511.6h.8v.8h-.8zM500.0 511.8h.8v.8h-.8zM500.3 518.0h.8v.8h-.8zM488.3 515.7h.8v.8h-.8zM499.9 512.2h.8v.8h-.8zM491.5 513.7h.8v.8h-.8z" fill="#7d89e0" opacity="0.75"/><path d="M494.2 516.9h.8v.8h-.8zM496.7 516.8h.8v.8h-.8zM493.7 513.8h.8v.8h-.8zM498.0 516.4h.8v.8h-.8zM499.0 516.4h.8v.8h-.8zM490.5 515.3h.8v.8h-.8zM501.4 513.5h.8v.8h-.8zM500.6 515.5h.8v.8h-.8zM501.5 514.7h.8v.8h-.8zM499.3 515.3h.8v.8h-.8zM499.1 513.3h.8v.8h-.8zM490.9 517.2h.8v.8h-.8zM502.5 515.4h.8v.8h-.8zM501.1 512.6h.8v.8h-.8zM495.3 515.3h.8v.8h-.8zM492.3 515.5h.8v.8h-.8zM493.0 516.1h.8v.8h-.8zM501.2 513.4h.8v.8h-.8zM496.2 515.9h.8v.8h-.8zM503.3 512.9h.8v.8h-.8zM502.6 515.2h.8v.8h-.8zM494.1 515.2h.8v.8h-.8zM498.4 514.7h.8v.8h-.8zM503.9 514.0h.8v.8h-.8zM496.4 516.7h.8v.8h-.8zM499.8 515.4h.8v.8h-.8zM500.3 512.8h.8v.8h-.8zM493.1 515.6h.8v.8h-.8zM504.5 514.6h.8v.8h-.8zM502.4 513.3h.8v.8h-.8zM498.7 514.6h.8v.8h-.8zM496.0 516.9h.8v.8h-.8zM501.8 514.1h.8v.8h-.8zM496.7 516.3h.8v.8h-.8zM490.2 516.5h.8v.8h-.8zM496.7 515.9h.8v.8h-.8zM498.4 516.0h.8v.8h-.8zM497.2 515.9h.8v.8h-.8zM494.2 517.2h.8v.8h-.8zM495.5 516.7h.8v.8h-.8zM501.2 512.4h.8v.8h-.8zM495.4 515.8h.8v.8h-.8zM495.0 514.7h.8v.8h-.8zM494.0 516.2h.8v.8h-.8zM503.7 513.1h.8v.8h-.8zM502.1 515.6h.8v.8h-.8zM491.6 516.8h.8v.8h-.8zM502.5 513.2h.8v.8h-.8zM497.8 516.2h.8v.8h-.8zM495.4 513.3h.8v.8h-.8zM493.6 513.9h.8v.8h-.8zM500.4 512.5h.8v.8h-.8zM489.6 517.6h.8v.8h-.8zM492.5 515.7h.8v.8h-.8zM498.3 516.5h.8v.8h-.8zM499.1 515.7h.8v.8h-.8zM492.6 515.8h.8v.8h-.8zM495.4 514.7h.8v.8h-.8zM500.6 513.1h.8v.8h-.8zM490.7 515.6h.8v.8h-.8zM491.6 517.7h.8v.8h-.8zM491.9 515.3h.8v.8h-.8zM501.1 515.8h.8v.8h-.8zM495.4 513.9h.8v.8h-.8zM497.6 512.9h.8v.8h-.8z" fill="#3f5cd0" opacity="0.85"/><ellipse cx="497.00" cy="515.00" rx="8.64" ry="2.02" fill="#4a66d4" opacity="0.75" filter="url(#bl05)" transform="rotate(-12 497.00 515.00)"/><ellipse cx="490.00" cy="516.80" rx="8.25" ry="3.15" fill="#a4acec" opacity="0.4" filter="url(#bl1)" transform="rotate(-12 490.00 516.80)"/><path d="M495.6 512.3h.8v.8h-.8zM493.2 513.4h.8v.8h-.8zM487.0 522.8h.8v.8h-.8zM492.2 519.8h.8v.8h-.8zM497.0 516.9h.8v.8h-.8zM496.7 514.1h.8v.8h-.8zM497.3 519.4h.8v.8h-.8zM494.1 517.6h.8v.8h-.8zM482.8 517.8h.8v.8h-.8zM493.5 513.4h.8v.8h-.8zM495.4 515.1h.8v.8h-.8zM486.2 520.4h.8v.8h-.8zM494.6 514.5h.8v.8h-.8zM495.4 516.3h.8v.8h-.8zM494.3 520.4h.8v.8h-.8zM487.5 519.5h.8v.8h-.8zM496.0 517.0h.8v.8h-.8zM488.9 513.4h.8v.8h-.8zM495.8 508.9h.8v.8h-.8zM496.9 517.5h.8v.8h-.8zM483.7 523.2h.8v.8h-.8zM483.4 518.9h.8v.8h-.8zM493.9 514.5h.8v.8h-.8zM491.4 519.6h.8v.8h-.8zM501.6 509.9h.8v.8h-.8zM490.0 520.1h.8v.8h-.8zM487.5 519.9h.8v.8h-.8zM502.9 514.6h.8v.8h-.8zM491.0 512.9h.8v.8h-.8zM486.1 516.0h.8v.8h-.8zM493.2 513.9h.8v.8h-.8zM494.2 519.2h.8v.8h-.8zM488.6 519.3h.8v.8h-.8zM488.1 514.8h.8v.8h-.8zM481.1 518.6h.8v.8h-.8zM496.6 516.2h.8v.8h-.8zM485.9 519.4h.8v.8h-.8zM487.3 519.6h.8v.8h-.8zM485.3 519.5h.8v.8h-.8zM490.6 519.5h.8v.8h-.8zM490.2 514.3h.8v.8h-.8zM484.0 521.3h.8v.8h-.8zM485.0 516.0h.8v.8h-.8zM485.9 522.9h.8v.8h-.8zM500.1 518.0h.8v.8h-.8zM486.7 522.2h.8v.8h-.8zM498.5 516.0h.8v.8h-.8zM482.4 518.8h.8v.8h-.8zM494.9 516.9h.8v.8h-.8zM485.8 519.9h.8v.8h-.8zM486.2 512.2h.8v.8h-.8zM496.0 520.1h.8v.8h-.8zM481.9 517.5h.8v.8h-.8zM499.9 514.6h.8v.8h-.8zM481.4 516.6h.8v.8h-.8zM495.9 519.1h.8v.8h-.8zM496.2 519.6h.8v.8h-.8zM493.8 513.6h.8v.8h-.8zM499.0 516.9h.8v.8h-.8zM491.0 513.7h.8v.8h-.8zM482.0 515.6h.8v.8h-.8zM483.1 516.5h.8v.8h-.8zM487.0 514.8h.8v.8h-.8zM488.7 521.1h.8v.8h-.8zM483.0 519.0h.8v.8h-.8zM495.7 514.9h.8v.8h-.8zM494.7 514.1h.8v.8h-.8zM484.7 514.8h.8v.8h-.8zM483.1 518.1h.8v.8h-.8zM495.6 512.7h.8v.8h-.8zM482.8 516.1h.8v.8h-.8zM490.2 519.6h.8v.8h-.8zM494.0 512.9h.8v.8h-.8zM501.1 513.0h.8v.8h-.8zM485.5 521.4h.8v.8h-.8zM493.5 513.4h.8v.8h-.8zM498.6 513.5h.8v.8h-.8zM493.8 512.6h.8v.8h-.8zM494.6 513.6h.8v.8h-.8zM501.1 514.0h.8v.8h-.8zM485.5 515.4h.8v.8h-.8zM482.6 517.9h.8v.8h-.8z" fill="#7d89e0" opacity="0.75"/><path d="M492.5 515.9h.8v.8h-.8zM488.3 517.6h.8v.8h-.8zM486.0 518.6h.8v.8h-.8zM490.6 515.2h.8v.8h-.8zM490.6 516.2h.8v.8h-.8zM489.7 516.7h.8v.8h-.8zM488.5 516.6h.8v.8h-.8zM490.1 517.6h.8v.8h-.8zM487.6 516.5h.8v.8h-.8zM492.6 516.6h.8v.8h-.8zM489.6 517.8h.8v.8h-.8zM487.4 515.8h.8v.8h-.8zM489.4 517.5h.8v.8h-.8zM491.4 517.6h.8v.8h-.8zM494.5 515.7h.8v.8h-.8zM488.7 515.8h.8v.8h-.8zM491.2 518.2h.8v.8h-.8zM489.7 517.5h.8v.8h-.8zM489.7 518.0h.8v.8h-.8zM486.2 517.7h.8v.8h-.8zM488.0 518.2h.8v.8h-.8zM492.2 516.6h.8v.8h-.8zM491.6 516.1h.8v.8h-.8zM492.3 517.7h.8v.8h-.8zM489.9 517.7h.8v.8h-.8zM493.5 516.2h.8v.8h-.8zM490.1 516.7h.8v.8h-.8zM488.9 517.5h.8v.8h-.8zM489.6 517.9h.8v.8h-.8z" fill="#3f5cd0" opacity="0.85"/><ellipse cx="490.00" cy="516.80" rx="5.28" ry="2.02" fill="#4a66d4" opacity="0.75" filter="url(#bl05)" transform="rotate(-12 490.00 516.80)"/><ellipse cx="490.00" cy="516.80" rx="6.82" ry="2.60" fill="#2a98a8" filter="url(#bl05)" transform="rotate(-12 490.00 516.80)"/><ellipse cx="490.00" cy="516.80" rx="5.50" ry="2.10" fill="#34b050" filter="url(#bl05)" transform="rotate(-12 490.00 516.80)"/><ellipse cx="490.00" cy="516.80" rx="3.74" ry="1.43" fill="#b8cc2a" filter="url(#bl05)" transform="rotate(-12 490.00 516.80)"/><ellipse cx="490.00" cy="516.80" rx="2.42" ry="0.92" fill="#e8a020" filter="url(#bl05)" transform="rotate(-12 490.00 516.80)"/><ellipse cx="490.00" cy="516.80" rx="1.21" ry="0.46" fill="#e0401a" filter="url(#bl05)" transform="rotate(-12 490.00 516.80)"/><path d="M472.1 543.6h.8v.8h-.8zM471.2 553.9h.8v.8h-.8zM466.4 555.0h.8v.8h-.8zM469.1 555.5h.8v.8h-.8zM477.8 553.5h.8v.8h-.8zM467.6 548.0h.8v.8h-.8zM465.0 551.8h.8v.8h-.8zM468.4 550.2h.8v.8h-.8zM471.7 551.2h.8v.8h-.8zM458.0 543.7h.8v.8h-.8zM477.0 552.9h.8v.8h-.8zM469.6 547.5h.8v.8h-.8zM469.0 551.0h.8v.8h-.8zM470.5 546.1h.8v.8h-.8zM471.0 546.4h.8v.8h-.8zM466.9 553.3h.8v.8h-.8zM469.8 545.5h.8v.8h-.8zM467.2 548.1h.8v.8h-.8zM472.1 552.2h.8v.8h-.8zM470.4 549.5h.8v.8h-.8zM470.4 545.7h.8v.8h-.8zM469.2 554.0h.8v.8h-.8zM466.8 554.8h.8v.8h-.8zM466.7 542.8h.8v.8h-.8zM465.7 552.5h.8v.8h-.8zM474.0 554.5h.8v.8h-.8zM477.2 548.6h.8v.8h-.8zM472.9 547.2h.8v.8h-.8zM472.4 551.2h.8v.8h-.8zM469.8 550.0h.8v.8h-.8zM470.3 550.5h.8v.8h-.8zM472.0 550.3h.8v.8h-.8zM474.7 545.8h.8v.8h-.8zM465.7 553.4h.8v.8h-.8zM475.7 552.3h.8v.8h-.8zM472.6 555.4h.8v.8h-.8zM467.2 556.7h.8v.8h-.8zM471.6 550.3h.8v.8h-.8zM473.3 544.1h.8v.8h-.8zM469.9 552.0h.8v.8h-.8zM466.0 550.7h.8v.8h-.8zM466.2 555.7h.8v.8h-.8zM473.8 550.9h.8v.8h-.8zM466.6 548.0h.8v.8h-.8zM466.8 553.8h.8v.8h-.8zM473.5 553.1h.8v.8h-.8zM473.2 550.2h.8v.8h-.8zM473.3 549.9h.8v.8h-.8zM482.0 549.1h.8v.8h-.8zM471.1 549.5h.8v.8h-.8zM477.7 554.1h.8v.8h-.8zM477.0 545.0h.8v.8h-.8z" fill="#7d89e0" opacity="0.75"/><rect x="517.6" y="529.0" width="0.7" height="0.7" fill="#8a94dc" opacity="0.45"/><rect x="517.6" y="554.6" width="0.7" height="0.7" fill="#8a94dc" opacity="0.45"/><rect x="477.1" y="527.5" width="0.7" height="0.7" fill="#8a94dc" opacity="0.45"/><rect x="488.3" y="554.0" width="0.7" height="0.7" fill="#8a94dc" opacity="0.45"/><rect x="496.3" y="518.2" width="0.7" height="0.7" fill="#8a94dc" opacity="0.45"/><rect x="505.3" y="518.7" width="0.7" height="0.7" fill="#8a94dc" opacity="0.45"/><rect x="495.1" y="516.8" width="0.7" height="0.7" fill="#8a94dc" opacity="0.45"/><rect x="485.1" y="528.9" width="0.7" height="0.7" fill="#8a94dc" opacity="0.45"/><rect x="463.8" y="537.9" width="0.7" height="0.7" fill="#8a94dc" opacity="0.45"/><rect x="509.1" y="502.3" width="0.7" height="0.7" fill="#8a94dc" opacity="0.45"/><rect x="472.0" y="534.7" width="0.7" height="0.7" fill="#8a94dc" opacity="0.45"/><rect x="480.0" y="501.6" width="0.7" height="0.7" fill="#8a94dc" opacity="0.45"/><rect x="476.9" y="510.9" width="0.7" height="0.7" fill="#8a94dc" opacity="0.45"/><rect x="515.5" y="543.2" width="0.7" height="0.7" fill="#8a94dc" opacity="0.45"/></g><line x1="457.70" y1="531.90" x2="520.00" y2="531.90" stroke="#888" stroke-width="0.8"/><line x1="475.70" y1="497.30" x2="475.70" y2="531.90" stroke="#888" stroke-width="0.8"/><line x1="493.50" y1="497.30" x2="493.50" y2="558.10" stroke="#888" stroke-width="0.8"/><text x="467.20" y="530.50" font-size="8.6" text-anchor="middle" fill="#222" stroke="#222" stroke-width="0.22">E4</text><text x="484.60" y="530.50" font-size="8.6" text-anchor="middle" fill="#222" stroke="#222" stroke-width="0.22">E3</text><text x="504.25" y="530.50" font-size="8.6" text-anchor="middle" fill="#222" stroke="#222" stroke-width="0.22">E2</text><text x="483.10" y="541.10" font-size="8.6" text-anchor="middle" fill="#222" stroke="#222" stroke-width="0.22">R</text><line x1="267.80" y1="561.20" x2="321.60" y2="561.20" stroke="#000" stroke-width="1.9"/><path d="M320.10,558.00 L326.60,561.20 L320.10,564.40 Z" fill="#000"/><line x1="331.00" y1="561.20" x2="385.80" y2="561.20" stroke="#000" stroke-width="1.9"/><path d="M384.30,558.00 L390.80,561.20 L384.30,564.40 Z" fill="#000"/><line x1="393.80" y1="561.20" x2="448.20" y2="561.20" stroke="#000" stroke-width="1.9"/><path d="M446.70,558.00 L453.20,561.20 L446.70,564.40 Z" fill="#000"/><line x1="457.70" y1="561.20" x2="512.00" y2="561.20" stroke="#000" stroke-width="1.9"/><path d="M510.50,558.00 L517.00,561.20 L510.50,564.40 Z" fill="#000"/><text x="298.00" y="574.30" font-size="10.6" text-anchor="middle" fill="#111" stroke="#111" stroke-width="0.22">Ter119</text><text x="360.50" y="574.30" font-size="10.6" text-anchor="middle" fill="#111" stroke="#111" stroke-width="0.22">FSC</text><text x="425.50" y="574.30" font-size="10.6" text-anchor="middle" fill="#111" stroke="#111" stroke-width="0.22">Ter119</text><text x="486.20" y="574.30" font-size="10.6" text-anchor="middle" fill="#111" stroke="#111" stroke-width="0.22">FSC</text><text x="306.7" y="421.0" text-anchor="start" font-style="italic" fill="#1a1a1a" stroke="#1a1a1a" stroke-width="0.22"><tspan font-size="9.4">Rb</tspan><tspan font-size="6.392" dy="-3.572">LoxP/LoxP</tspan></text><text x="461.9" y="422.0" text-anchor="middle" font-style="italic" fill="#1a1a1a" stroke="#1a1a1a" stroke-width="0.22"><tspan font-size="9.4">Rb</tspan><tspan font-size="6.392" dy="-3.572">Δ/Δ</tspan></text><text x="328.0" y="495.6" text-anchor="middle" font-style="italic" fill="#1a1a1a" stroke="#1a1a1a" stroke-width="0.22"><tspan font-size="9.4">E2f8</tspan><tspan font-size="6.392" dy="-3.572">Δ/Δ</tspan></text><text x="459.0" y="495.6" text-anchor="middle" font-style="italic" fill="#1a1a1a" stroke="#1a1a1a" stroke-width="0.22"><tspan font-size="9.4">Rb</tspan><tspan font-size="6.392" dy="-3.572">Δ/Δ</tspan><tspan font-size="9.4" dy="3.572">E2f8</tspan><tspan font-size="6.392" dy="-3.572">Δ/Δ</tspan></text><line x1="32.30" y1="586.50" x2="32.30" y2="666.50" stroke="#9a9a9a" stroke-width="0.8"/><line x1="29.30" y1="666.50" x2="32.30" y2="666.50" stroke="#777" stroke-width="0.8"/><text x="29.60" y="669.75" font-size="9.1" text-anchor="end" fill="#1a1a1a" stroke="#1a1a1a" stroke-width="0.22">0</text><line x1="29.30" y1="639.83" x2="32.30" y2="639.83" stroke="#777" stroke-width="0.8"/><text x="29.60" y="643.08" font-size="9.1" text-anchor="end" fill="#1a1a1a" stroke="#1a1a1a" stroke-width="0.22">20</text><line x1="29.30" y1="613.17" x2="32.30" y2="613.17" stroke="#777" stroke-width="0.8"/><text x="29.60" y="616.42" font-size="9.1" text-anchor="end" fill="#1a1a1a" stroke="#1a1a1a" stroke-width="0.22">40</text><line x1="29.30" y1="586.50" x2="32.30" y2="586.50" stroke="#777" stroke-width="0.8"/><text x="29.60" y="589.75" font-size="9.1" text-anchor="end" fill="#1a1a1a" stroke="#1a1a1a" stroke-width="0.22">60</text><line x1="32.30" y1="666.50" x2="248.80" y2="666.50" stroke="#555" stroke-width="0.9"/><rect x="41.20" y="665.10" width="7.30" height="1.40" fill="#000" stroke="#000" stroke-width="1.25"/><rect x="49.70" y="665.50" width="7.30" height="1.00" fill="#fff" stroke="#000" stroke-width="1.25"/><defs><pattern id="bp45" patternUnits="userSpaceOnUse" x="60.05" y="666.50" width="3.6" height="3.6"><rect width="3.6" height="3.6" fill="#fff"/><path d="M0,0L3.6,3.6M3.6,0L0,3.6" stroke="#000" stroke-width="1.35"/></pattern></defs><rect x="58.20" y="665.37" width="7.30" height="1.13" fill="url(#bp45)" stroke="#000" stroke-width="1.25"/><defs><pattern id="bp46" patternUnits="userSpaceOnUse" x="0.00" y="666.50" width="20" height="4.2"><rect width="20" height="4.2" fill="#fff"/><rect width="20" height="2.35" fill="#000"/></pattern></defs><rect x="66.70" y="663.77" width="7.30" height="2.73" fill="url(#bp46)" stroke="#000" stroke-width="1.25"/><rect x="83.20" y="650.03" width="7.30" height="16.47" fill="#000" stroke="#000" stroke-width="1.25"/><line x1="95.35" y1="640.90" x2="95.35" y2="637.57" stroke="#000" stroke-width="1.2"/><line x1="92.85" y1="637.57" x2="97.85" y2="637.57" stroke="#000" stroke-width="1.3"/><rect x="91.70" y="641.50" width="7.30" height="25.00" fill="#fff" stroke="#000" stroke-width="1.25"/><defs><pattern id="bp47" patternUnits="userSpaceOnUse" x="102.05" y="666.50" width="3.6" height="3.6"><rect width="3.6" height="3.6" fill="#fff"/><path d="M0,0L3.6,3.6M3.6,0L0,3.6" stroke="#000" stroke-width="1.35"/></pattern></defs><rect x="100.20" y="649.23" width="7.30" height="17.27" fill="url(#bp47)" stroke="#000" stroke-width="1.25"/><defs><pattern id="bp48" patternUnits="userSpaceOnUse" x="0.00" y="666.50" width="20" height="4.2"><rect width="20" height="4.2" fill="#fff"/><rect width="20" height="2.35" fill="#000"/></pattern></defs><line x1="112.35" y1="630.50" x2="112.35" y2="624.23" stroke="#000" stroke-width="1.2"/><line x1="109.85" y1="624.23" x2="114.85" y2="624.23" stroke="#000" stroke-width="1.3"/><rect x="108.70" y="631.10" width="7.30" height="35.40" fill="url(#bp48)" stroke="#000" stroke-width="1.25"/><line x1="128.25" y1="627.03" x2="128.25" y2="622.23" stroke="#000" stroke-width="1.2"/><line x1="125.75" y1="622.23" x2="130.75" y2="622.23" stroke="#000" stroke-width="1.3"/><rect x="124.60" y="627.63" width="7.30" height="38.87" fill="#000" stroke="#000" stroke-width="1.25"/><line x1="136.75" y1="609.03" x2="136.75" y2="601.17" stroke="#000" stroke-width="1.2"/><line x1="134.25" y1="601.17" x2="139.25" y2="601.17" stroke="#000" stroke-width="1.3"/><rect x="133.10" y="609.63" width="7.30" height="56.87" fill="#fff" stroke="#000" stroke-width="1.25"/><defs><pattern id="bp49" patternUnits="userSpaceOnUse" x="143.45" y="666.50" width="3.6" height="3.6"><rect width="3.6" height="3.6" fill="#fff"/><path d="M0,0L3.6,3.6M3.6,0L0,3.6" stroke="#000" stroke-width="1.35"/></pattern></defs><line x1="145.25" y1="629.70" x2="145.25" y2="627.03" stroke="#000" stroke-width="1.2"/><line x1="142.75" y1="627.03" x2="147.75" y2="627.03" stroke="#000" stroke-width="1.3"/><rect x="141.60" y="630.30" width="7.30" height="36.20" fill="url(#bp49)" stroke="#000" stroke-width="1.25"/><defs><pattern id="bp50" patternUnits="userSpaceOnUse" x="0.00" y="666.50" width="20" height="4.2"><rect width="20" height="4.2" fill="#fff"/><rect width="20" height="2.35" fill="#000"/></pattern></defs><line x1="153.75" y1="608.23" x2="153.75" y2="600.37" stroke="#000" stroke-width="1.2"/><line x1="151.25" y1="600.37" x2="156.25" y2="600.37" stroke="#000" stroke-width="1.3"/><rect x="150.10" y="608.83" width="7.30" height="57.67" fill="url(#bp50)" stroke="#000" stroke-width="1.25"/><line x1="170.15" y1="624.23" x2="170.15" y2="618.63" stroke="#000" stroke-width="1.2"/><line x1="167.65" y1="618.63" x2="172.65" y2="618.63" stroke="#000" stroke-width="1.3"/><rect x="166.50" y="624.83" width="7.30" height="41.67" fill="#000" stroke="#000" stroke-width="1.25"/><line x1="178.65" y1="641.17" x2="178.65" y2="637.17" stroke="#000" stroke-width="1.2"/><line x1="176.15" y1="637.17" x2="181.15" y2="637.17" stroke="#000" stroke-width="1.3"/><rect x="175.00" y="641.77" width="7.30" height="24.73" fill="#fff" stroke="#000" stroke-width="1.25"/><defs><pattern id="bp51" patternUnits="userSpaceOnUse" x="185.35" y="666.50" width="3.6" height="3.6"><rect width="3.6" height="3.6" fill="#fff"/><path d="M0,0L3.6,3.6M3.6,0L0,3.6" stroke="#000" stroke-width="1.35"/></pattern></defs><line x1="187.15" y1="627.03" x2="187.15" y2="619.17" stroke="#000" stroke-width="1.2"/><line x1="184.65" y1="619.17" x2="189.65" y2="619.17" stroke="#000" stroke-width="1.3"/><rect x="183.50" y="627.63" width="7.30" height="38.87" fill="url(#bp51)" stroke="#000" stroke-width="1.25"/><defs><pattern id="bp52" patternUnits="userSpaceOnUse" x="0.00" y="666.50" width="20" height="4.2"><rect width="20" height="4.2" fill="#fff"/><rect width="20" height="2.35" fill="#000"/></pattern></defs><line x1="195.65" y1="645.03" x2="195.65" y2="643.03" stroke="#000" stroke-width="1.2"/><line x1="193.15" y1="643.03" x2="198.15" y2="643.03" stroke="#000" stroke-width="1.3"/><rect x="192.00" y="645.63" width="7.30" height="20.87" fill="url(#bp52)" stroke="#000" stroke-width="1.25"/><line x1="211.65" y1="627.83" x2="211.65" y2="623.83" stroke="#000" stroke-width="1.2"/><line x1="209.15" y1="623.83" x2="214.15" y2="623.83" stroke="#000" stroke-width="1.3"/><rect x="208.00" y="628.43" width="7.30" height="38.07" fill="#000" stroke="#000" stroke-width="1.25"/><line x1="220.15" y1="638.50" x2="220.15" y2="632.23" stroke="#000" stroke-width="1.2"/><line x1="217.65" y1="632.23" x2="222.65" y2="632.23" stroke="#000" stroke-width="1.3"/><rect x="216.50" y="639.10" width="7.30" height="27.40" fill="#fff" stroke="#000" stroke-width="1.25"/><defs><pattern id="bp53" patternUnits="userSpaceOnUse" x="226.85" y="666.50" width="3.6" height="3.6"><rect width="3.6" height="3.6" fill="#fff"/><path d="M0,0L3.6,3.6M3.6,0L0,3.6" stroke="#000" stroke-width="1.35"/></pattern></defs><line x1="228.65" y1="622.23" x2="228.65" y2="617.70" stroke="#000" stroke-width="1.2"/><line x1="226.15" y1="617.70" x2="231.15" y2="617.70" stroke="#000" stroke-width="1.3"/><rect x="225.00" y="622.83" width="7.30" height="43.67" fill="url(#bp53)" stroke="#000" stroke-width="1.25"/><defs><pattern id="bp54" patternUnits="userSpaceOnUse" x="0.00" y="666.50" width="20" height="4.2"><rect width="20" height="4.2" fill="#fff"/><rect width="20" height="2.35" fill="#000"/></pattern></defs><line x1="237.15" y1="644.63" x2="237.15" y2="642.23" stroke="#000" stroke-width="1.2"/><line x1="234.65" y1="642.23" x2="239.65" y2="642.23" stroke="#000" stroke-width="1.3"/><rect x="233.50" y="645.23" width="7.30" height="21.27" fill="url(#bp54)" stroke="#000" stroke-width="1.25"/><circle cx="70.40" cy="649.60" r="1.05" fill="#111"/><circle cx="70.40" cy="655.80" r="1.05" fill="#111"/><text x="68.50" y="658.00" font-size="7.0" text-anchor="end" fill="#333" stroke="#333" stroke-width="0.22">(</text><text x="72.30" y="658.00" font-size="7.0" text-anchor="start" fill="#333" stroke="#333" stroke-width="0.22">)</text><circle cx="93.45" cy="635.20" r="1.05" fill="#111"/><circle cx="97.15" cy="635.20" r="1.05" fill="#111"/><circle cx="110.55" cy="613.80" r="1.05" fill="#111"/><circle cx="114.25" cy="613.80" r="1.05" fill="#111"/><circle cx="112.40" cy="620.20" r="1.05" fill="#111"/><text x="110.50" y="622.40" font-size="7.0" text-anchor="end" fill="#333" stroke="#333" stroke-width="0.22">(</text><text x="114.30" y="622.40" font-size="7.0" text-anchor="start" fill="#333" stroke="#333" stroke-width="0.22">)</text><circle cx="135.15" cy="597.00" r="1.05" fill="#111"/><circle cx="138.85" cy="597.00" r="1.05" fill="#111"/><circle cx="152.15" cy="597.00" r="1.05" fill="#111"/><circle cx="155.85" cy="597.00" r="1.05" fill="#111"/><circle cx="176.85" cy="633.40" r="1.05" fill="#111"/><circle cx="180.55" cy="633.40" r="1.05" fill="#111"/><circle cx="191.80" cy="632.30" r="1.05" fill="#111"/><circle cx="195.50" cy="632.30" r="1.05" fill="#111"/><circle cx="199.20" cy="632.30" r="1.05" fill="#111"/><circle cx="195.50" cy="639.00" r="1.05" fill="#111"/><text x="193.60" y="641.20" font-size="7.0" text-anchor="end" fill="#333" stroke="#333" stroke-width="0.22">(</text><text x="197.40" y="641.20" font-size="7.0" text-anchor="start" fill="#333" stroke="#333" stroke-width="0.22">)</text><circle cx="220.00" cy="628.80" r="1.05" fill="#111"/><circle cx="233.50" cy="631.20" r="1.05" fill="#111"/><circle cx="237.20" cy="631.20" r="1.05" fill="#111"/><circle cx="240.90" cy="631.20" r="1.05" fill="#111"/><circle cx="237.20" cy="638.00" r="1.05" fill="#111"/><text x="235.30" y="640.20" font-size="7.0" text-anchor="end" fill="#333" stroke="#333" stroke-width="0.22">(</text><text x="239.10" y="640.20" font-size="7.0" text-anchor="start" fill="#333" stroke="#333" stroke-width="0.22">)</text><text x="14.80" y="626.20" font-size="9.6" text-anchor="middle" fill="#1a1a1a" stroke="#1a1a1a" stroke-width="0.22" transform="rotate(-90 14.80 626.20)">Percentage of cells</text><rect x="40.60" y="666.10" width="34.00" height="2.60" fill="#3a3a3a" stroke="none" stroke-width="1"/><text x="57.60" y="677.80" font-size="9.8" text-anchor="middle" fill="#1a1a1a" stroke="#1a1a1a" stroke-width="0.22">E1</text><rect x="82.60" y="666.10" width="34.00" height="2.60" fill="#3a3a3a" stroke="none" stroke-width="1"/><text x="99.60" y="677.80" font-size="9.8" text-anchor="middle" fill="#1a1a1a" stroke="#1a1a1a" stroke-width="0.22">E2</text><rect x="124.00" y="666.10" width="34.00" height="2.60" fill="#3a3a3a" stroke="none" stroke-width="1"/><text x="141.00" y="677.80" font-size="9.8" text-anchor="middle" fill="#1a1a1a" stroke="#1a1a1a" stroke-width="0.22">E3</text><rect x="165.90" y="666.10" width="34.00" height="2.60" fill="#3a3a3a" stroke="none" stroke-width="1"/><text x="182.90" y="677.80" font-size="9.8" text-anchor="middle" fill="#1a1a1a" stroke="#1a1a1a" stroke-width="0.22">E4</text><rect x="207.40" y="666.10" width="34.00" height="2.60" fill="#3a3a3a" stroke="none" stroke-width="1"/><text x="224.40" y="677.80" font-size="9.8" text-anchor="middle" fill="#1a1a1a" stroke="#1a1a1a" stroke-width="0.22">R</text><text x="36.90" y="591.60" font-size="8.0" text-anchor="start" fill="#1a1a1a" stroke="#1a1a1a" stroke-width="0.22">Bone marrow</text><line x1="295.20" y1="588.00" x2="295.20" y2="666.70" stroke="#9a9a9a" stroke-width="0.8"/><line x1="292.20" y1="666.70" x2="295.20" y2="666.70" stroke="#777" stroke-width="0.8"/><text x="292.50" y="669.95" font-size="9.1" text-anchor="end" fill="#1a1a1a" stroke="#1a1a1a" stroke-width="0.22">0</text><line x1="292.20" y1="647.03" x2="295.20" y2="647.03" stroke="#777" stroke-width="0.8"/><text x="292.50" y="650.28" font-size="9.1" text-anchor="end" fill="#1a1a1a" stroke="#1a1a1a" stroke-width="0.22">20</text><line x1="292.20" y1="627.35" x2="295.20" y2="627.35" stroke="#777" stroke-width="0.8"/><text x="292.50" y="630.60" font-size="9.1" text-anchor="end" fill="#1a1a1a" stroke="#1a1a1a" stroke-width="0.22">40</text><line x1="292.20" y1="607.67" x2="295.20" y2="607.67" stroke="#777" stroke-width="0.8"/><text x="292.50" y="610.92" font-size="9.1" text-anchor="end" fill="#1a1a1a" stroke="#1a1a1a" stroke-width="0.22">60</text><line x1="292.20" y1="588.00" x2="295.20" y2="588.00" stroke="#777" stroke-width="0.8"/><text x="292.50" y="591.25" font-size="9.1" text-anchor="end" fill="#1a1a1a" stroke="#1a1a1a" stroke-width="0.22">80</text><line x1="295.20" y1="666.70" x2="512.00" y2="666.70" stroke="#555" stroke-width="0.9"/><rect x="303.20" y="666.32" width="7.45" height="0.38" fill="#000" stroke="#000" stroke-width="1.25"/><rect x="311.85" y="666.32" width="7.45" height="0.38" fill="#fff" stroke="#000" stroke-width="1.25"/><defs><pattern id="bp55" patternUnits="userSpaceOnUse" x="321.93" y="666.70" width="4.6" height="4.6"><rect width="4.6" height="4.6" fill="#fff"/><path d="M0,0L4.6,4.6M4.6,0L0,4.6" stroke="#000" stroke-width="1.35"/></pattern></defs><rect x="320.50" y="666.32" width="7.45" height="0.38" fill="url(#bp55)" stroke="#000" stroke-width="1.25"/><defs><pattern id="bp56" patternUnits="userSpaceOnUse" x="0.00" y="666.70" width="20" height="4.2"><rect width="20" height="4.2" fill="#fff"/><rect width="20" height="2.35" fill="#000"/></pattern></defs><rect x="329.15" y="666.32" width="7.45" height="0.38" fill="url(#bp56)" stroke="#000" stroke-width="1.25"/><rect x="345.00" y="663.37" width="7.45" height="3.33" fill="#000" stroke="#000" stroke-width="1.25"/><line x1="357.38" y1="658.53" x2="357.38" y2="656.08" stroke="#000" stroke-width="1.2"/><line x1="354.88" y1="656.08" x2="359.88" y2="656.08" stroke="#000" stroke-width="1.3"/><rect x="353.65" y="659.13" width="7.45" height="7.57" fill="#fff" stroke="#000" stroke-width="1.25"/><defs><pattern id="bp57" patternUnits="userSpaceOnUse" x="363.72" y="666.70" width="4.6" height="4.6"><rect width="4.6" height="4.6" fill="#fff"/><path d="M0,0L4.6,4.6M4.6,0L0,4.6" stroke="#000" stroke-width="1.35"/></pattern></defs><rect x="362.30" y="664.35" width="7.45" height="2.35" fill="url(#bp57)" stroke="#000" stroke-width="1.25"/><defs><pattern id="bp58" patternUnits="userSpaceOnUse" x="0.00" y="666.70" width="20" height="4.2"><rect width="20" height="4.2" fill="#fff"/><rect width="20" height="2.35" fill="#000"/></pattern></defs><line x1="374.67" y1="638.76" x2="374.67" y2="635.81" stroke="#000" stroke-width="1.2"/><line x1="372.17" y1="635.81" x2="377.17" y2="635.81" stroke="#000" stroke-width="1.3"/><rect x="370.95" y="639.36" width="7.45" height="27.34" fill="url(#bp58)" stroke="#000" stroke-width="1.25"/><line x1="390.50" y1="655.39" x2="390.50" y2="653.03" stroke="#000" stroke-width="1.2"/><line x1="388.00" y1="653.03" x2="393.00" y2="653.03" stroke="#000" stroke-width="1.3"/><rect x="386.80" y="655.99" width="7.40" height="10.71" fill="#000" stroke="#000" stroke-width="1.25"/><line x1="399.10" y1="609.25" x2="399.10" y2="603.54" stroke="#000" stroke-width="1.2"/><line x1="396.60" y1="603.54" x2="401.60" y2="603.54" stroke="#000" stroke-width="1.3"/><rect x="395.40" y="609.85" width="7.40" height="56.85" fill="#fff" stroke="#000" stroke-width="1.25"/><defs><pattern id="bp59" patternUnits="userSpaceOnUse" x="405.40" y="666.70" width="4.6" height="4.6"><rect width="4.6" height="4.6" fill="#fff"/><path d="M0,0L4.6,4.6M4.6,0L0,4.6" stroke="#000" stroke-width="1.35"/></pattern></defs><line x1="407.70" y1="654.01" x2="407.70" y2="652.44" stroke="#000" stroke-width="1.2"/><line x1="405.20" y1="652.44" x2="410.20" y2="652.44" stroke="#000" stroke-width="1.3"/><rect x="404.00" y="654.61" width="7.40" height="12.09" fill="url(#bp59)" stroke="#000" stroke-width="1.25"/><defs><pattern id="bp60" patternUnits="userSpaceOnUse" x="0.00" y="666.70" width="20" height="4.2"><rect width="20" height="4.2" fill="#fff"/><rect width="20" height="2.35" fill="#000"/></pattern></defs><line x1="416.30" y1="610.43" x2="416.30" y2="604.72" stroke="#000" stroke-width="1.2"/><line x1="413.80" y1="604.72" x2="418.80" y2="604.72" stroke="#000" stroke-width="1.3"/><rect x="412.60" y="611.03" width="7.40" height="55.67" fill="url(#bp60)" stroke="#000" stroke-width="1.25"/><line x1="432.25" y1="648.99" x2="432.25" y2="646.53" stroke="#000" stroke-width="1.2"/><line x1="429.75" y1="646.53" x2="434.75" y2="646.53" stroke="#000" stroke-width="1.3"/><rect x="428.60" y="649.59" width="7.30" height="17.11" fill="#000" stroke="#000" stroke-width="1.25"/><line x1="440.75" y1="654.21" x2="440.75" y2="652.34" stroke="#000" stroke-width="1.2"/><line x1="438.25" y1="652.34" x2="443.25" y2="652.34" stroke="#000" stroke-width="1.3"/><rect x="437.10" y="654.81" width="7.30" height="11.89" fill="#fff" stroke="#000" stroke-width="1.25"/><defs><pattern id="bp61" patternUnits="userSpaceOnUse" x="446.95" y="666.70" width="4.6" height="4.6"><rect width="4.6" height="4.6" fill="#fff"/><path d="M0,0L4.6,4.6M4.6,0L0,4.6" stroke="#000" stroke-width="1.35"/></pattern></defs><line x1="449.25" y1="650.47" x2="449.25" y2="648.01" stroke="#000" stroke-width="1.2"/><line x1="446.75" y1="648.01" x2="451.75" y2="648.01" stroke="#000" stroke-width="1.3"/><rect x="445.60" y="651.07" width="7.30" height="15.63" fill="url(#bp61)" stroke="#000" stroke-width="1.25"/><defs><pattern id="bp62" patternUnits="userSpaceOnUse" x="0.00" y="666.70" width="20" height="4.2"><rect width="20" height="4.2" fill="#fff"/><rect width="20" height="2.35" fill="#000"/></pattern></defs><line x1="457.75" y1="661.49" x2="457.75" y2="660.21" stroke="#000" stroke-width="1.2"/><line x1="455.25" y1="660.21" x2="460.25" y2="660.21" stroke="#000" stroke-width="1.3"/><rect x="454.10" y="662.09" width="7.30" height="4.61" fill="url(#bp62)" stroke="#000" stroke-width="1.25"/><line x1="473.88" y1="596.26" x2="473.88" y2="593.41" stroke="#000" stroke-width="1.2"/><line x1="471.38" y1="593.41" x2="476.38" y2="593.41" stroke="#000" stroke-width="1.3"/><rect x="470.20" y="596.86" width="7.35" height="69.84" fill="#000" stroke="#000" stroke-width="1.25"/><line x1="482.43" y1="642.70" x2="482.43" y2="638.56" stroke="#000" stroke-width="1.2"/><line x1="479.93" y1="638.56" x2="484.93" y2="638.56" stroke="#000" stroke-width="1.3"/><rect x="478.75" y="643.30" width="7.35" height="23.40" fill="#fff" stroke="#000" stroke-width="1.25"/><defs><pattern id="bp63" patternUnits="userSpaceOnUse" x="488.68" y="666.70" width="4.6" height="4.6"><rect width="4.6" height="4.6" fill="#fff"/><path d="M0,0L4.6,4.6M4.6,0L0,4.6" stroke="#000" stroke-width="1.35"/></pattern></defs><line x1="490.98" y1="595.28" x2="490.98" y2="590.46" stroke="#000" stroke-width="1.2"/><line x1="488.48" y1="590.46" x2="493.48" y2="590.46" stroke="#000" stroke-width="1.3"/><rect x="487.30" y="595.88" width="7.35" height="70.82" fill="url(#bp63)" stroke="#000" stroke-width="1.25"/><defs><pattern id="bp64" patternUnits="userSpaceOnUse" x="0.00" y="666.70" width="20" height="4.2"><rect width="20" height="4.2" fill="#fff"/><rect width="20" height="2.35" fill="#000"/></pattern></defs><line x1="499.52" y1="653.52" x2="499.52" y2="651.55" stroke="#000" stroke-width="1.2"/><line x1="497.02" y1="651.55" x2="502.02" y2="651.55" stroke="#000" stroke-width="1.3"/><rect x="495.85" y="654.12" width="7.35" height="12.58" fill="url(#bp64)" stroke="#000" stroke-width="1.25"/><circle cx="355.65" cy="652.00" r="1.05" fill="#111"/><circle cx="359.35" cy="652.00" r="1.05" fill="#111"/><circle cx="371.00" cy="625.60" r="1.05" fill="#111"/><circle cx="374.70" cy="625.60" r="1.05" fill="#111"/><circle cx="378.40" cy="625.60" r="1.05" fill="#111"/><circle cx="371.00" cy="631.20" r="1.05" fill="#111"/><circle cx="374.70" cy="631.20" r="1.05" fill="#111"/><circle cx="378.40" cy="631.20" r="1.05" fill="#111"/><text x="369.10" y="633.40" font-size="7.0" text-anchor="end" fill="#333" stroke="#333" stroke-width="0.22">(</text><text x="380.30" y="633.40" font-size="7.0" text-anchor="start" fill="#333" stroke="#333" stroke-width="0.22">)</text><circle cx="395.30" cy="599.20" r="1.05" fill="#111"/><circle cx="399.00" cy="599.20" r="1.05" fill="#111"/><circle cx="402.70" cy="599.20" r="1.05" fill="#111"/><circle cx="412.60" cy="600.80" r="1.05" fill="#111"/><circle cx="416.30" cy="600.80" r="1.05" fill="#111"/><circle cx="420.00" cy="600.80" r="1.05" fill="#111"/><circle cx="439.15" cy="648.50" r="1.05" fill="#111"/><circle cx="442.85" cy="648.50" r="1.05" fill="#111"/><circle cx="455.10" cy="641.30" r="1.05" fill="#111"/><circle cx="458.80" cy="641.30" r="1.05" fill="#111"/><circle cx="462.50" cy="641.30" r="1.05" fill="#111"/><circle cx="455.10" cy="647.10" r="1.05" fill="#111"/><circle cx="458.80" cy="647.10" r="1.05" fill="#111"/><circle cx="462.50" cy="647.10" r="1.05" fill="#111"/><text x="453.20" y="649.30" font-size="7.0" text-anchor="end" fill="#333" stroke="#333" stroke-width="0.22">(</text><text x="464.40" y="649.30" font-size="7.0" text-anchor="start" fill="#333" stroke="#333" stroke-width="0.22">)</text><circle cx="480.65" cy="632.30" r="1.05" fill="#111"/><circle cx="484.35" cy="632.30" r="1.05" fill="#111"/><circle cx="497.30" cy="640.00" r="1.05" fill="#111"/><circle cx="501.00" cy="640.00" r="1.05" fill="#111"/><circle cx="504.70" cy="640.00" r="1.05" fill="#111"/><circle cx="497.30" cy="646.50" r="1.05" fill="#111"/><circle cx="501.00" cy="646.50" r="1.05" fill="#111"/><circle cx="504.70" cy="646.50" r="1.05" fill="#111"/><text x="495.40" y="648.70" font-size="7.0" text-anchor="end" fill="#333" stroke="#333" stroke-width="0.22">(</text><text x="506.60" y="648.70" font-size="7.0" text-anchor="start" fill="#333" stroke="#333" stroke-width="0.22">)</text><text x="278.00" y="626.60" font-size="9.6" text-anchor="middle" fill="#1a1a1a" stroke="#1a1a1a" stroke-width="0.22" transform="rotate(-90 278.00 626.60)">Percentage of cells</text><rect x="302.60" y="666.30" width="34.60" height="2.60" fill="#3a3a3a" stroke="none" stroke-width="1"/><text x="319.90" y="678.00" font-size="9.8" text-anchor="middle" fill="#1a1a1a" stroke="#1a1a1a" stroke-width="0.22">E1</text><rect x="344.40" y="666.30" width="34.60" height="2.60" fill="#3a3a3a" stroke="none" stroke-width="1"/><text x="361.70" y="678.00" font-size="9.8" text-anchor="middle" fill="#1a1a1a" stroke="#1a1a1a" stroke-width="0.22">E2</text><rect x="386.20" y="666.30" width="34.40" height="2.60" fill="#3a3a3a" stroke="none" stroke-width="1"/><text x="403.40" y="678.00" font-size="9.8" text-anchor="middle" fill="#1a1a1a" stroke="#1a1a1a" stroke-width="0.22">E3</text><rect x="428.00" y="666.30" width="34.00" height="2.60" fill="#3a3a3a" stroke="none" stroke-width="1"/><text x="445.00" y="678.00" font-size="9.8" text-anchor="middle" fill="#1a1a1a" stroke="#1a1a1a" stroke-width="0.22">E4</text><rect x="469.60" y="666.30" width="34.20" height="2.60" fill="#3a3a3a" stroke="none" stroke-width="1"/><text x="486.70" y="678.00" font-size="9.8" text-anchor="middle" fill="#1a1a1a" stroke="#1a1a1a" stroke-width="0.22">R</text><text x="298.80" y="591.60" font-size="8.3" text-anchor="start" fill="#1a1a1a" stroke="#1a1a1a" stroke-width="0.22">Spleen</text><text x="0.80" y="9.93" font-size="11.5" text-anchor="start" font-weight="bold" fill="#000">A</text><text x="110.60" y="8.23" font-size="11.5" text-anchor="start" font-weight="bold" fill="#000">B</text><text x="111.10" y="110.53" font-size="11.5" text-anchor="start" font-weight="bold" fill="#000">C</text><text x="238.30" y="110.83" font-size="11.5" text-anchor="start" font-weight="bold" fill="#000">D</text><text x="372.30" y="110.53" font-size="11.5" text-anchor="start" font-weight="bold" fill="#000">E</text><text x="7.50" y="215.13" font-size="11.5" text-anchor="start" font-weight="bold" fill="#000">F</text><text x="128.20" y="214.73" font-size="11.5" text-anchor="start" font-weight="bold" fill="#000">G</text><text x="266.70" y="210.53" font-size="11.5" text-anchor="start" font-weight="bold" fill="#000">H</text><text x="388.60" y="210.53" font-size="11.5" text-anchor="start" font-weight="bold" fill="#000">I</text><text x="7.20" y="313.13" font-size="11.5" text-anchor="start" font-weight="bold" fill="#000">J</text><text x="141.10" y="312.93" font-size="11.5" text-anchor="start" font-weight="bold" fill="#000">K</text><text x="325.20" y="313.13" font-size="11.5" text-anchor="start" font-weight="bold" fill="#000">L</text><text x="2.10" y="419.73" font-size="11.5" text-anchor="start" font-weight="bold" fill="#000">M</text><text x="261.60" y="419.43" font-size="11.5" text-anchor="start" font-weight="bold" fill="#000">O</text><text x="0.60" y="589.73" font-size="11.5" text-anchor="start" font-weight="bold" fill="#000">N</text><text x="254.60" y="589.73" font-size="11.5" text-anchor="start" font-weight="bold" fill="#000">P</text>
</svg></body></html>
